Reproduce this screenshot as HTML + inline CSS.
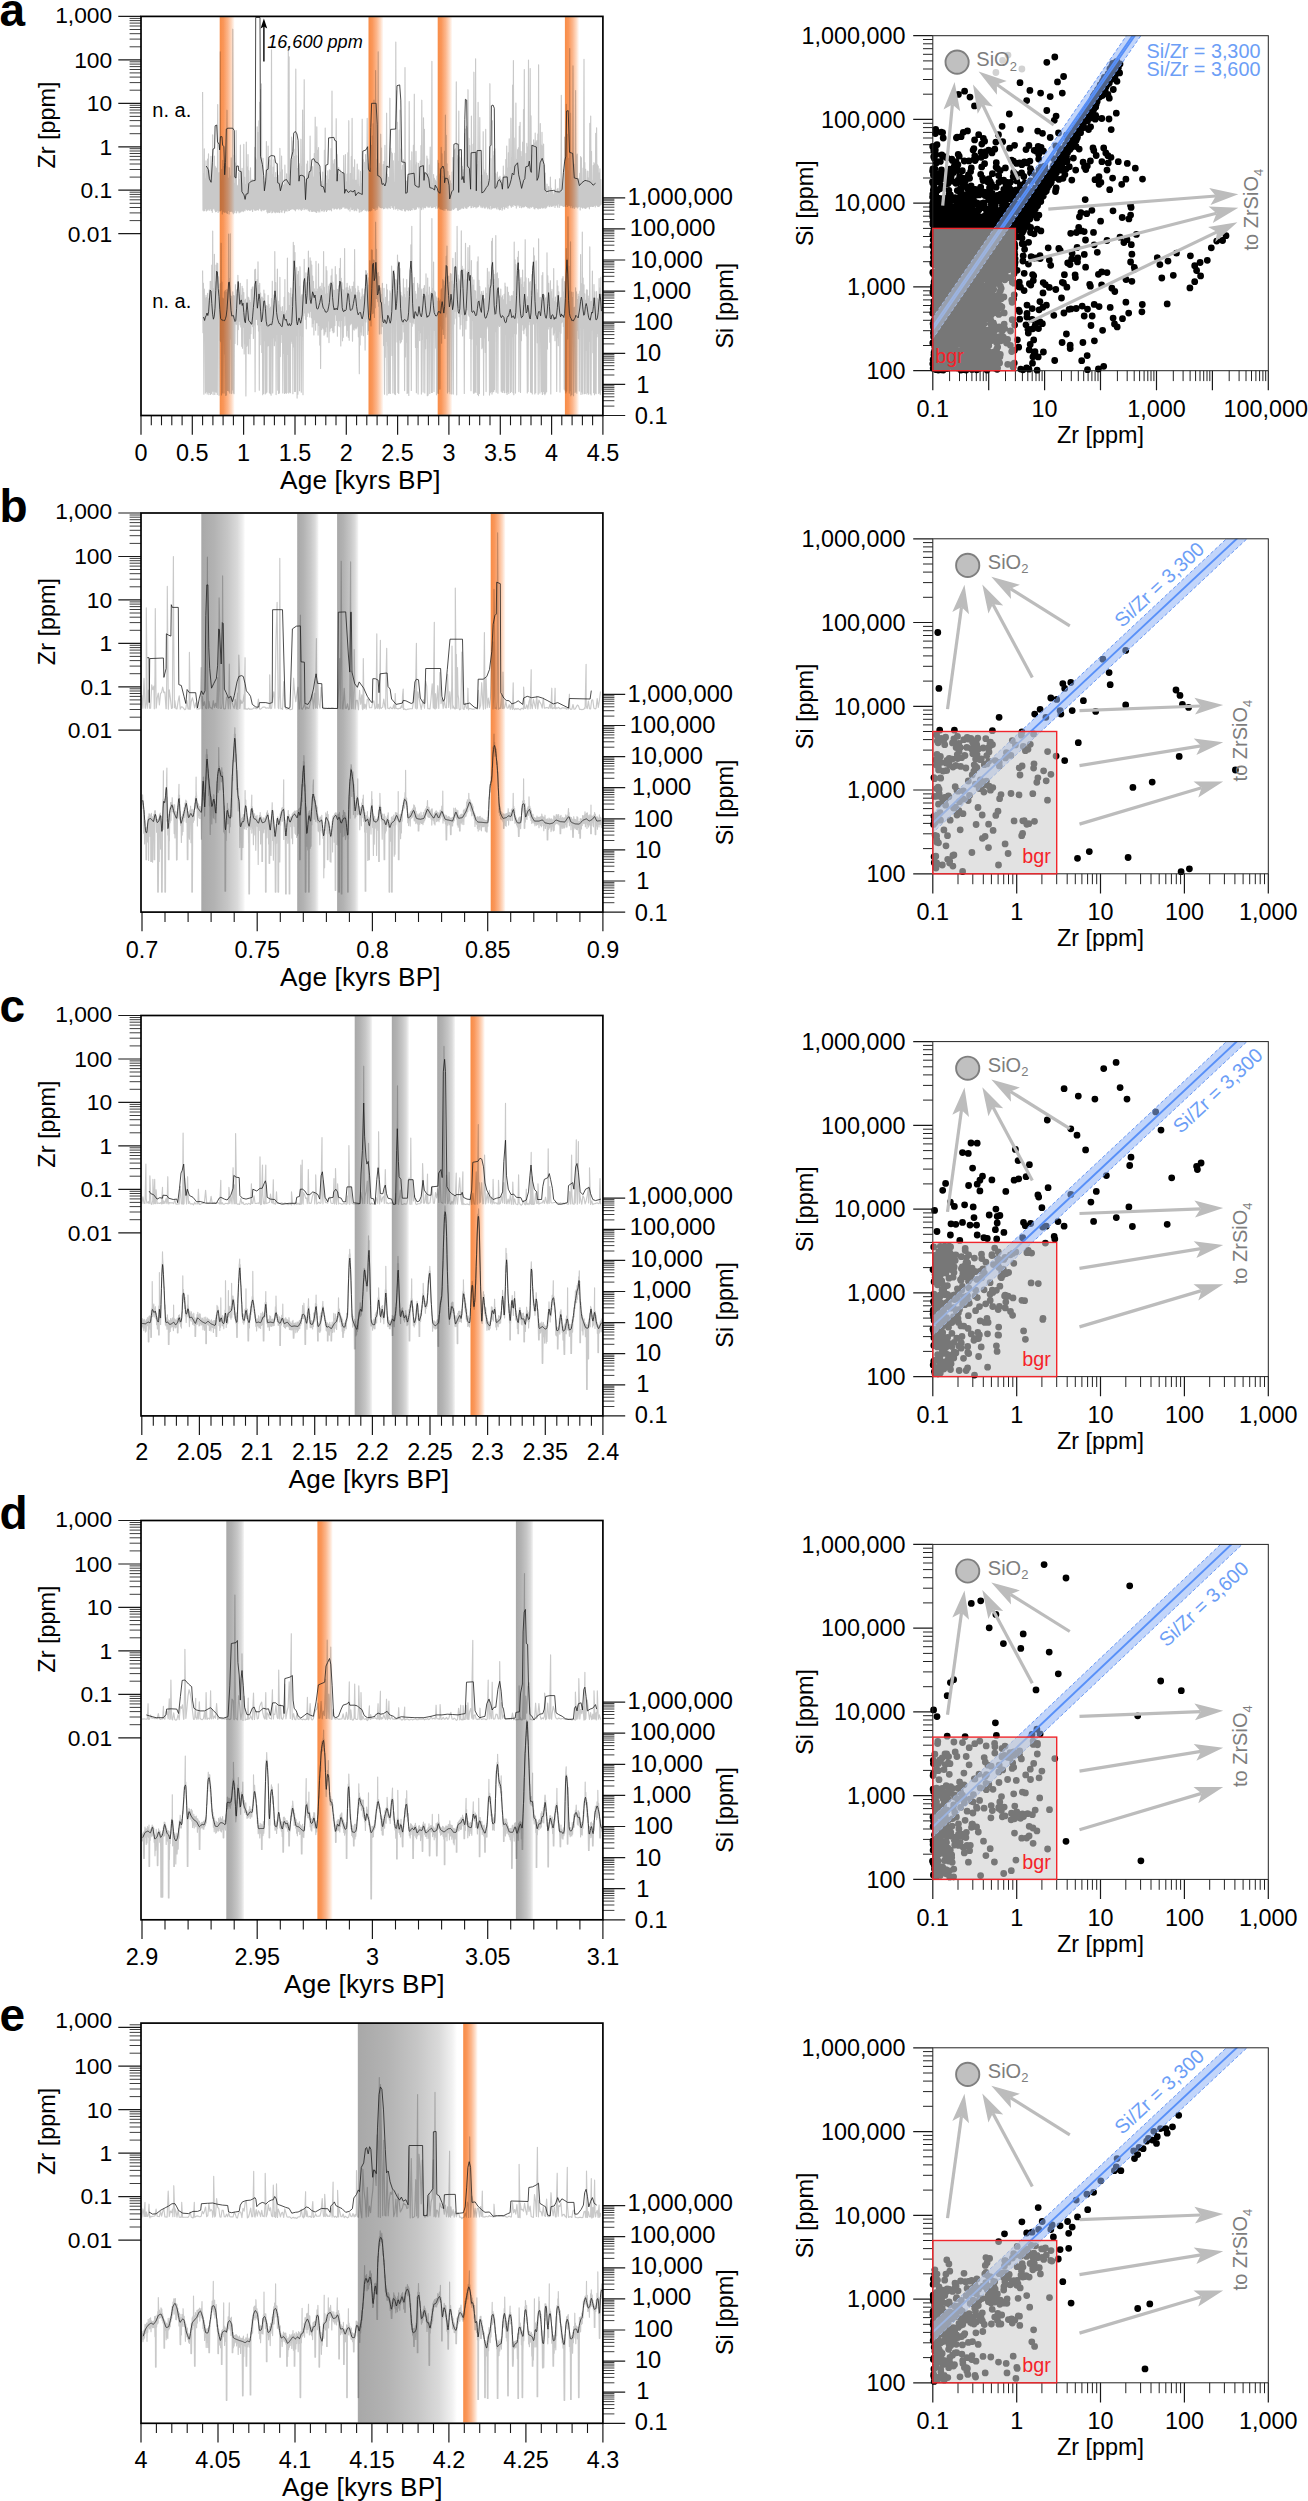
<!DOCTYPE html>
<html lang="en"><head><meta charset="utf-8"><title>Zr and Si records</title>
<style>html,body{margin:0;padding:0;background:#fff}svg{display:block}text{font-family:"Liberation Sans", sans-serif}</style></head>
<body>
<svg width="1308" height="2501" viewBox="0 0 1308 2501" font-family='"Liberation Sans", sans-serif'>
<defs>
<linearGradient id="gO" x1="0" x2="1" y1="0" y2="0"><stop offset="0" stop-color="#f88c46"/><stop offset="0.25" stop-color="#fa975a"/><stop offset="0.55" stop-color="#fcb78d"/><stop offset="0.8" stop-color="#fedcc6"/><stop offset="1" stop-color="#ffffff"/></linearGradient>
<linearGradient id="gG" x1="0" x2="1" y1="0" y2="0"><stop offset="0" stop-color="#a8a8a8"/><stop offset="0.3" stop-color="#b3b3b3"/><stop offset="0.6" stop-color="#c6c6c6"/><stop offset="0.82" stop-color="#dadada"/><stop offset="0.95" stop-color="#f1f1f1"/><stop offset="1" stop-color="#ffffff"/></linearGradient>
<clipPath id="cts0"><rect x="141" y="16.4" width="461.9" height="399.1"/></clipPath>
<clipPath id="csc0"><rect x="932.8" y="35.7" width="335.5" height="335"/></clipPath>
<clipPath id="cdt0"><rect x="928.3" y="35.7" width="340" height="338.5"/></clipPath>
<clipPath id="cts1"><rect x="141" y="513" width="461.9" height="399.1"/></clipPath>
<clipPath id="csc1"><rect x="932.8" y="538.8" width="335.5" height="335"/></clipPath>
<clipPath id="cdt1"><rect x="928.3" y="538.8" width="340" height="338.5"/></clipPath>
<clipPath id="cts2"><rect x="141" y="1015.5" width="461.9" height="400.4"/></clipPath>
<clipPath id="csc2"><rect x="932.8" y="1041.6" width="335.5" height="335"/></clipPath>
<clipPath id="cdt2"><rect x="928.3" y="1041.6" width="340" height="338.5"/></clipPath>
<clipPath id="cts3"><rect x="141" y="1520.5" width="461.9" height="399.3"/></clipPath>
<clipPath id="csc3"><rect x="932.8" y="1544.4" width="335.5" height="335"/></clipPath>
<clipPath id="cdt3"><rect x="928.3" y="1544.4" width="340" height="338.5"/></clipPath>
<clipPath id="cts4"><rect x="141" y="2022.8" width="461.9" height="400.5"/></clipPath>
<clipPath id="csc4"><rect x="932.8" y="2047.8" width="335.5" height="335"/></clipPath>
<clipPath id="cdt4"><rect x="928.3" y="2047.8" width="340" height="338.5"/></clipPath>
</defs>
<rect width="1308" height="2501" fill="#fff"/>
<g id="ts-a">
<path d="M118.3 16.4H141M118.3 59.9H141M118.3 103.3H141M118.3 146.8H141M118.3 190.2H141M118.3 233.7H141" stroke="#1a1a1a" stroke-width="1.2" fill="none"/>
<path d="M129.6 46.8H141M129.6 39.1H141M129.6 33.7H141M129.6 29.5H141M129.6 26H141M129.6 23.1H141M129.6 20.6H141M129.6 18.4H141M129.6 90.2H141M129.6 82.6H141M129.6 77.1H141M129.6 72.9H141M129.6 69.5H141M129.6 66.6H141M129.6 64.1H141M129.6 61.8H141M129.6 133.7H141M129.6 126H141M129.6 120.6H141M129.6 116.4H141M129.6 112.9H141M129.6 110H141M129.6 107.5H141M129.6 105.3H141M129.6 177.1H141M129.6 169.5H141M129.6 164H141M129.6 159.8H141M129.6 156.4H141M129.6 153.5H141M129.6 151H141M129.6 148.7H141M129.6 220.6H141M129.6 212.9H141M129.6 207.5H141M129.6 203.3H141M129.6 199.8H141M129.6 196.9H141M129.6 194.4H141M129.6 192.2H141" stroke="#2a2a2a" stroke-width="0.9" fill="none"/>
<text x="112.2" y="22.8" font-size="22.8" text-anchor="end" fill="#000">1,000</text>
<text x="112.2" y="67.7" font-size="22.8" text-anchor="end" fill="#000">100</text>
<text x="112.2" y="111.1" font-size="22.8" text-anchor="end" fill="#000">10</text>
<text x="112.2" y="154.6" font-size="22.8" text-anchor="end" fill="#000">1</text>
<text x="112.2" y="198" font-size="22.8" text-anchor="end" fill="#000">0.1</text>
<text x="112.2" y="241.5" font-size="22.8" text-anchor="end" fill="#000">0.01</text>
<path d="M602.9 415.5H625.2M602.9 384.4H625.2M602.9 353.3H625.2M602.9 322.2H625.2M602.9 291.1H625.2M602.9 260H625.2M602.9 228.9H625.2M602.9 197.8H625.2" stroke="#1a1a1a" stroke-width="1.2" fill="none"/>
<path d="M602.9 406.1H614.4M602.9 400.7H614.4M602.9 396.8H614.4M602.9 393.8H614.4M602.9 391.3H614.4M602.9 389.2H614.4M602.9 387.4H614.4M602.9 385.8H614.4M602.9 375H614.4M602.9 369.6H614.4M602.9 365.7H614.4M602.9 362.7H614.4M602.9 360.2H614.4M602.9 358.1H614.4M602.9 356.3H614.4M602.9 354.7H614.4M602.9 343.9H614.4M602.9 338.5H614.4M602.9 334.6H614.4M602.9 331.6H614.4M602.9 329.1H614.4M602.9 327H614.4M602.9 325.2H614.4M602.9 323.6H614.4M602.9 312.8H614.4M602.9 307.4H614.4M602.9 303.5H614.4M602.9 300.5H614.4M602.9 298H614.4M602.9 295.9H614.4M602.9 294.1H614.4M602.9 292.5H614.4M602.9 281.7H614.4M602.9 276.3H614.4M602.9 272.4H614.4M602.9 269.4H614.4M602.9 266.9H614.4M602.9 264.8H614.4M602.9 263H614.4M602.9 261.4H614.4M602.9 250.6H614.4M602.9 245.2H614.4M602.9 241.3H614.4M602.9 238.3H614.4M602.9 235.8H614.4M602.9 233.7H614.4M602.9 231.9H614.4M602.9 230.3H614.4M602.9 219.5H614.4M602.9 214.1H614.4M602.9 210.2H614.4M602.9 207.2H614.4M602.9 204.7H614.4M602.9 202.6H614.4M602.9 200.8H614.4M602.9 199.2H614.4" stroke="#2a2a2a" stroke-width="0.9" fill="none"/>
<text x="634.8" y="424" font-size="23.7" text-anchor="start" fill="#000">0.1</text>
<text x="636.3" y="392.7" font-size="23.7" text-anchor="start" fill="#000">1</text>
<text x="634.9" y="361.4" font-size="23.7" text-anchor="start" fill="#000">10</text>
<text x="633.4" y="330.1" font-size="23.7" text-anchor="start" fill="#000">100</text>
<text x="632" y="298.8" font-size="23.7" text-anchor="start" fill="#000">1,000</text>
<text x="630.5" y="267.5" font-size="23.7" text-anchor="start" fill="#000">10,000</text>
<text x="629.8" y="236.2" font-size="23.7" text-anchor="start" fill="#000">100,000</text>
<text x="627.6" y="204.9" font-size="23.7" text-anchor="start" fill="#000">1,000,000</text>
<path d="M141 415.5V434.7M192.3 415.5V434.7M243.6 415.5V434.7M295 415.5V434.7M346.3 415.5V434.7M397.6 415.5V434.7M448.9 415.5V434.7M500.3 415.5V434.7M551.6 415.5V434.7M602.9 415.5V434.7" stroke="#1a1a1a" stroke-width="1.2" fill="none"/>
<path d="M151.3 415.5V425.3M161.5 415.5V425.3M171.8 415.5V425.3M182.1 415.5V425.3M202.6 415.5V425.3M212.9 415.5V425.3M223.1 415.5V425.3M233.4 415.5V425.3M253.9 415.5V425.3M264.2 415.5V425.3M274.4 415.5V425.3M284.7 415.5V425.3M305.2 415.5V425.3M315.5 415.5V425.3M325.8 415.5V425.3M336 415.5V425.3M356.6 415.5V425.3M366.8 415.5V425.3M377.1 415.5V425.3M387.3 415.5V425.3M407.9 415.5V425.3M418.1 415.5V425.3M428.4 415.5V425.3M438.7 415.5V425.3M459.2 415.5V425.3M469.5 415.5V425.3M479.7 415.5V425.3M490 415.5V425.3M510.5 415.5V425.3M520.8 415.5V425.3M531 415.5V425.3M541.3 415.5V425.3M561.8 415.5V425.3M572.1 415.5V425.3M582.4 415.5V425.3M592.6 415.5V425.3" stroke="#1a1a1a" stroke-width="1.1" fill="none"/>
<text x="141" y="461.3" font-size="23.4" text-anchor="middle" fill="#000">0</text>
<text x="192.3" y="461.3" font-size="23.4" text-anchor="middle" fill="#000">0.5</text>
<text x="243.6" y="461.3" font-size="23.4" text-anchor="middle" fill="#000">1</text>
<text x="295" y="461.3" font-size="23.4" text-anchor="middle" fill="#000">1.5</text>
<text x="346.3" y="461.3" font-size="23.4" text-anchor="middle" fill="#000">2</text>
<text x="397.6" y="461.3" font-size="23.4" text-anchor="middle" fill="#000">2.5</text>
<text x="448.9" y="461.3" font-size="23.4" text-anchor="middle" fill="#000">3</text>
<text x="500.3" y="461.3" font-size="23.4" text-anchor="middle" fill="#000">3.5</text>
<text x="551.6" y="461.3" font-size="23.4" text-anchor="middle" fill="#000">4</text>
<text x="602.9" y="461.3" font-size="23.4" text-anchor="middle" fill="#000">4.5</text>
<text x="280.1" y="489.2" font-size="26.2" textLength="160.5" lengthAdjust="spacing">Age [kyrs BP]</text>
<text transform="translate(54.5 125) rotate(-90)" font-size="23.4" text-anchor="middle">Zr [ppm]</text>
<text transform="translate(732.6 305.7) rotate(-90)" font-size="23.4" text-anchor="middle">Si [ppm]</text>
<text x="-0.5" y="26" font-size="46" font-weight="bold">a</text>
<g clip-path="url(#cts0)">
<path d="M202.6 92.1L203 210.2L203.4 173.3L203.9 211L204.3 148.8L204.7 210.5L205.1 179.1L205.5 208.6L206 160.8L206.4 210.9L206.8 170.1L207.2 210.1L207.6 159.1L208.1 210L208.5 153.8L208.9 208.8L209.3 170.5L209.7 210.3L210.2 180.9L210.6 208.7L211 156.3L211.4 210.4L211.8 183.4L212.3 212.3L212.7 134.9L213.1 208.9L213.5 180.9L213.9 208.2L214.4 156.1L214.8 210.1L215.2 166.3L215.6 211.7L216 167.9L216.5 211.3L216.9 168.4L217.3 210.2L217.7 104.6L218.1 212.5L218.6 173.1L219 210.8L219.4 172.6L219.8 211.1L220.2 51.7L220.7 210.6L221.1 182L221.5 209.7L221.9 169.3L222.3 213.9L222.8 160.3L223.2 211.2L223.6 166.6L224 212.1L224.4 163.7L224.9 212.2L225.3 165L225.7 211.8L226.1 166.7L226.5 212.7L227 110.2L227.4 213.4L227.8 167.2L228.2 210.4L228.6 178.3L229.1 214L229.5 167.9L229.9 211.4L230.3 176.2L230.7 211.3L231.2 157.9L231.6 211.1L232 178.4L232.4 212L232.8 29.2L233.3 213.7L233.7 155.1L234.1 211.9L234.5 183.5L234.9 212.8L235.4 163L235.8 210.2L236.2 130.6L236.6 212.8L237 185.1L237.5 210.8L237.9 186L238.3 211L238.7 172.5L239.1 212.8L239.6 179.5L240 212L240.4 145.1L240.8 211.8L241.2 173.2L241.7 210.9L242.1 168.3L242.5 210.8L242.9 183.6L243.3 211.6L243.8 144.3L244.2 210.1L244.6 177.3L245 210.8L245.4 185.1L245.9 208.8L246.3 142.1L246.7 209.6L247.1 167.1L247.5 210.2L248 154.6L248.4 209.5L248.8 170.7L249.2 210.1L249.6 183.7L250.1 210.3L250.5 167.8L250.9 209.9L251.3 181.4L251.7 209.2L252.2 179.4L252.6 211.4L253 182.8L253.4 208.8L253.8 180.1L254.3 209.7L254.7 147.4L255.1 210.4L255.5 157.9L255.9 210L256.4 160.2L256.8 210L257.2 126.8L257.6 209.4L258 132.6L258.5 210.1L258.9 120.9L259.3 208.2L259.7 102.3L260.1 208.8L260.6 89.6L261 210.6L261.4 83.9L261.8 210.8L262.2 177.8L262.7 209.3L263.1 158.4L263.5 210.1L263.9 181.7L264.3 209.9L264.8 187.9L265.2 209.3L265.6 178.5L266 209.2L266.4 141.5L266.9 211.8L267.3 174.1L267.7 212.9L268.1 146L268.5 212.1L269 180.7L269.4 212.4L269.8 159.9L270.2 211.9L270.6 166L271.1 210.1L271.5 49.9L271.9 212.8L272.3 174.2L272.7 212.3L273.2 167.2L273.6 210.9L274 159.7L274.4 211.9L274.8 177.6L275.3 212.7L275.7 172.6L276.1 211.5L276.5 177.5L276.9 212.2L277.4 170.8L277.8 212.2L278.2 175.2L278.6 211.9L279 182.6L279.5 212.6L279.9 148.4L280.3 209.4L280.7 172.3L281.1 211.9L281.6 156.1L282 212.2L282.4 169.7L282.8 210.2L283.2 185.6L283.7 210L284.1 184.5L284.5 212.7L284.9 165.1L285.3 211.1L285.8 184L286.2 210.5L286.6 173.8L287 211.2L287.4 183.1L287.9 208.7L288.3 46.5L288.7 210.6L289.1 56.9L289.5 210.5L290 170.5L290.4 209.4L290.8 181.3L291.2 209.1L291.6 137L292.1 209L292.5 158.6L292.9 208.7L293.3 140.9L293.7 209.2L294.2 156.5L294.6 209.7L295 149.2L295.4 210.8L295.8 69.1L296.3 208.8L296.7 155.8L297.1 209L297.5 168.5L297.9 208.3L298.4 165.9L298.8 209.7L299.2 163.7L299.6 208.5L300 177.6L300.5 209.2L300.9 139.2L301.3 210.4L301.7 167L302.1 208.9L302.6 110.1L303 209.6L303.4 162.1L303.8 207.6L304.2 79.7L304.7 209.6L305.1 188.2L305.5 208.5L305.9 182.8L306.3 209.2L306.8 164L307.2 208.5L307.6 161L308 209.9L308.4 176.5L308.9 210.7L309.3 174.6L309.7 211.3L310.1 136L310.5 209.5L311 167L311.4 211.2L311.8 171.9L312.2 211.5L312.6 166.6L313.1 211.2L313.5 177.4L313.9 210.9L314.3 153.6L314.7 211.3L315.2 117.2L315.6 211.7L316 171.8L316.4 212.5L316.8 126.8L317.3 210.4L317.7 150.4L318.1 212L318.5 147.5L318.9 210.7L319.4 172.4L319.8 212L320.2 178.2L320.6 208.9L321 184.5L321.5 210.8L321.9 181.7L322.3 210.8L322.7 172.1L323.1 209.7L323.6 184.9L324 211.6L324.4 150.4L324.8 210.6L325.2 128.1L325.7 209.5L326.1 175.8L326.5 211.4L326.9 183.7L327.3 210.2L327.8 170.8L328.2 209.5L328.6 179.8L329 209.7L329.4 169.9L329.9 210L330.3 170.7L330.7 209.5L331.1 148.6L331.5 210.8L332 91L332.4 207.8L332.8 160.5L333.2 208L333.6 164L334.1 209.3L334.5 159.6L334.9 208.3L335.3 175.3L335.7 208.2L336.2 118.7L336.6 209L337 154.5L337.4 208.8L337.8 177.7L338.3 207.4L338.7 167.5L339.1 208.4L339.5 174.6L339.9 209.6L340.4 170.2L340.8 208.2L341.2 172.3L341.6 208.6L342 173L342.5 207.1L342.9 172.7L343.3 207L343.7 155.5L344.1 207L344.6 185.6L345 208.4L345.4 154.6L345.8 207.6L346.2 182.1L346.7 208.1L347.1 174L347.5 208.2L347.9 152.8L348.3 209.7L348.8 120.7L349.2 208.3L349.6 185.2L350 211.1L350.4 173.6L350.9 207L351.3 156.6L351.7 209.5L352.1 118.4L352.5 209.6L353 180.4L353.4 208.9L353.8 167.4L354.2 210.8L354.6 159.7L355.1 210.2L355.5 180.3L355.9 209.3L356.3 180.4L356.7 210.7L357.2 164.1L357.6 208L358 185.3L358.4 208.7L358.8 169.9L359.3 212.2L359.7 187.1L360.1 209.3L360.5 171.4L360.9 211.7L361.4 183.5L361.8 211L362.2 119.2L362.6 210.5L363 159.5L363.5 209.5L363.9 170.9L364.3 208.9L364.7 162.4L365.1 210.2L365.6 154.6L366 210.2L366.4 160.2L366.8 211L367.2 118.4L367.7 209.9L368.1 163.7L368.5 211L368.9 170.2L369.3 210.4L369.8 173.4L370.2 210.9L370.6 168.3L371 210.4L371.4 145.4L371.9 209.9L372.3 136L372.7 207.7L373.1 123.9L373.5 208.5L374 100L374.4 208.6L374.8 159.8L375.2 210.2L375.6 70.5L376.1 207.2L376.5 168.1L376.9 209.5L377.3 159L377.7 207.9L378.2 51.8L378.6 205.6L379 163.4L379.4 206.8L379.8 176.5L380.3 207.4L380.7 134.2L381.1 207.7L381.5 148.1L381.9 207.9L382.4 182.2L382.8 207.5L383.2 164.6L383.6 208.7L384 161.6L384.5 208.3L384.9 145.4L385.3 207L385.7 172.7L386.1 208.2L386.6 113.2L387 207.4L387.4 174L387.8 208.7L388.2 177.4L388.7 207.1L389.1 177L389.5 207.6L389.9 98.2L390.3 208.5L390.8 148.4L391.2 205.4L391.6 152.2L392 207.3L392.4 153.5L392.9 207.7L393.3 160.8L393.7 209.2L394.1 182.8L394.5 205.8L395 153.1L395.4 209.1L395.8 42.1L396.2 208.6L396.6 90.9L397.1 208.1L397.5 122.4L397.9 210.2L398.3 161.9L398.7 208.5L399.2 130.2L399.6 209.2L400 110.2L400.4 209.6L400.8 149.4L401.3 209.8L401.7 170.2L402.1 210.5L402.5 165.4L402.9 208.6L403.4 159.7L403.8 208.8L404.2 173.8L404.6 210.8L405 67.6L405.5 210.9L405.9 180.8L406.3 209.3L406.7 181.3L407.1 209.8L407.6 177.3L408 210L408.4 176.3L408.8 210.6L409.2 101.5L409.7 209.3L410.1 160.6L410.5 210.4L410.9 175.6L411.3 209.4L411.8 151.9L412.2 209.8L412.6 174.7L413 207.5L413.4 145.4L413.9 208.9L414.3 94.2L414.7 209.6L415.1 164.7L415.5 209.3L416 151.4L416.4 209L416.8 162.8L417.2 206.9L417.6 184.7L418.1 206.7L418.5 163.3L418.9 208.1L419.3 176.7L419.7 206.9L420.2 161.1L420.6 207.7L421 145.6L421.4 209.6L421.8 100.2L422.3 207L422.7 176.2L423.1 209.1L423.5 117.8L423.9 207.1L424.4 129.3L424.8 207.6L425.2 173.5L425.6 207.6L426 174L426.5 206L426.9 156.1L427.3 206.1L427.7 159.1L428.1 207.3L428.6 173.5L429 206.9L429.4 165L429.8 207.1L430.2 147L430.7 205.8L431.1 181.7L431.5 207.6L431.9 61.3L432.3 207.5L432.8 183.9L433.2 207.2L433.6 174.6L434 206.5L434.4 178.4L434.9 206.7L435.3 180.1L435.7 208.2L436.1 181.9L436.5 205.8L437 176L437.4 208.2L437.8 160.4L438.2 207.3L438.6 163.3L439.1 206.7L439.5 174.2L439.9 208.7L440.3 168.7L440.7 209L441.2 147.3L441.6 209.1L442 153.8L442.4 209.4L442.8 176.3L443.3 210.1L443.7 181L444.1 208.3L444.5 151.3L444.9 210.3L445.4 115L445.8 208.4L446.2 135.3L446.6 208.6L447 163.8L447.5 210.1L447.9 171.6L448.3 209.6L448.7 177.4L449.1 210.5L449.6 175.5L450 209.9L450.4 180.8L450.8 210.4L451.2 183.8L451.7 210L452.1 172.1L452.5 208.3L452.9 157.5L453.3 209.5L453.8 180.9L454.2 208.8L454.6 149.8L455 207.9L455.4 148.8L455.9 207.1L456.3 81.9L456.7 207.6L457.1 155.5L457.5 210.1L458 159L458.4 210.2L458.8 111L459.2 209.5L459.6 157.1L460.1 209.2L460.5 178.3L460.9 208.7L461.3 157.9L461.7 207.8L462.2 166.3L462.6 208L463 169.6L463.4 208.4L463.8 172.9L464.3 206.1L464.7 133.7L465.1 208L465.5 129.1L465.9 207.6L466.4 126.2L466.8 208.5L467.2 128L467.6 206.9L468 89.7L468.5 206.7L468.9 138.3L469.3 205.7L469.7 145.6L470.1 205.3L470.6 179.4L471 207.7L471.4 116.1L471.8 207.5L472.2 179.1L472.7 205.7L473.1 144.4L473.5 207.2L473.9 72.2L474.3 206.6L474.8 164.2L475.2 206.5L475.6 58.8L476 208L476.4 176.4L476.9 206.9L477.3 164.6L477.7 206.9L478.1 102.4L478.5 206.3L479 162.1L479.4 204.7L479.8 117.6L480.2 206L480.6 181.9L481.1 207.6L481.5 175.2L481.9 206.1L482.3 175.4L482.7 207.6L483.2 131.7L483.6 206.1L484 169.7L484.4 207.9L484.8 172.4L485.3 207.9L485.7 129.3L486.1 206.2L486.5 173.3L486.9 207.1L487.4 175.5L487.8 208.7L488.2 179.3L488.6 207.3L489 181.6L489.5 208.8L489.9 83.7L490.3 205.5L490.7 158.5L491.1 209.2L491.6 180.3L492 208L492.4 120.7L492.8 208.2L493.2 155.8L493.7 207.5L494.1 151.4L494.5 207.8L494.9 148.8L495.3 207.1L495.8 173.7L496.2 208.1L496.6 183.8L497 209.1L497.4 172L497.9 206.8L498.3 178.4L498.7 209L499.1 177.2L499.5 209.8L500 176.2L500.4 209.5L500.8 179.1L501.2 207.3L501.6 180.3L502.1 210.2L502.5 184.7L502.9 208.8L503.3 166L503.7 206.4L504.2 175.1L504.6 209.1L505 178L505.4 206.9L505.8 159.5L506.3 207.4L506.7 146.1L507.1 205.9L507.5 168.4L507.9 208.3L508.4 152.8L508.8 205.6L509.2 138.8L509.6 204.6L510 167.7L510.5 205.8L510.9 118.2L511.3 207.3L511.7 158.4L512.1 205.8L512.6 85.2L513 206.4L513.4 60.5L513.8 204.5L514.2 138.1L514.7 205.2L515.1 164.4L515.5 205.4L515.9 103L516.3 208.1L516.8 159.6L517.2 204.7L517.6 149.7L518 206.1L518.4 147.8L518.9 204.9L519.3 126.4L519.7 207.5L520.1 122.3L520.5 205.6L521 151.5L521.4 207.7L521.8 156.9L522.2 206.9L522.6 142.2L523.1 206.6L523.5 109.7L523.9 207.1L524.3 69.5L524.7 206.5L525.2 172L525.6 205.4L526 153.5L526.4 206.5L526.8 143.4L527.3 207L527.7 146.8L528.1 207.9L528.5 60L528.9 207.1L529.4 150.2L529.8 208.3L530.2 68.6L530.6 206.6L531 115.9L531.5 207.2L531.9 155.4L532.3 206.1L532.7 146L533.1 206.7L533.6 139.9L534 208.3L534.4 143.3L534.8 209L535.2 133L535.7 207.6L536.1 142.1L536.5 207.5L536.9 140.5L537.3 208.1L537.8 134L538.2 208.9L538.6 64.8L539 207.6L539.4 171.8L539.9 208.5L540.3 123.6L540.7 208.1L541.1 145.2L541.5 207.1L542 132.4L542.4 208.1L542.8 146.1L543.2 207.6L543.6 144.1L544.1 208L544.5 165.2L544.9 206.8L545.3 173.1L545.7 208.2L546.2 188.7L546.6 207.2L547 184L547.4 206L547.8 194.6L548.3 204.9L548.7 186.6L549.1 206.5L549.5 193.9L549.9 206.7L550.4 177.1L550.8 205.1L551.2 188.3L551.6 206.5L552 191.9L552.5 206L552.9 191.8L553.3 205.9L553.7 194.8L554.1 204.9L554.6 189.9L555 207.5L555.4 179.7L555.8 205.3L556.2 193.6L556.7 204.9L557.1 189.3L557.5 207.1L557.9 188.4L558.3 203.8L558.8 191.6L559.2 207.4L559.6 178.7L560 205.7L560.4 189.8L560.9 204.9L561.3 95.3L561.7 205.3L562.1 185.8L562.5 205.7L563 192.7L563.4 206.4L563.8 169.7L564.2 206.2L564.6 137.1L565.1 206L565.5 158L565.9 206.6L566.3 104.3L566.7 204.5L567.2 134.3L567.6 206.4L568 171.4L568.4 205.3L568.8 158.4L569.3 205.5L569.7 48.5L570.1 205.8L570.5 113.2L570.9 207.7L571.4 181.1L571.8 205.6L572.2 154.1L572.6 207.8L573 65.9L573.5 207L573.9 164L574.3 208.4L574.7 178.3L575.1 206.2L575.6 90.6L576 207.5L576.4 156.1L576.8 206.5L577.2 154.1L577.7 207.9L578.1 180.1L578.5 206.8L578.9 178.3L579.3 206.3L579.8 173.4L580.2 210L580.6 156.6L581 206.9L581.4 157.7L581.9 207.3L582.3 181.7L582.7 208.2L583.1 168.1L583.5 207.2L584 59.3L584.4 207.7L584.8 162.6L585.2 208.4L585.6 169.3L586.1 208.1L586.5 182.5L586.9 207.2L587.3 171.1L587.7 206.8L588.2 178L588.6 206.8L589 171.4L589.4 208.8L589.8 123.3L590.3 206.4L590.7 116.1L591.1 206L591.5 151.6L591.9 206.5L592.4 181.1L592.8 206.5L593.2 165.5L593.6 206.3L594 162.7L594.5 205.3L594.9 164.2L595.3 206.9L595.7 133.4L596.1 204.8L596.6 127.8L597 205.6L597.4 164.8L597.8 206.4L598.2 166.1L598.7 206.4L599.1 173.1L599.5 205.9L599.9 168.8L600.3 204.9L600.8 179.6L601.2 204.8" fill="none" stroke="#c9c9c9" stroke-width="1.15" stroke-linejoin="round"/>
<path d="M202.6 270.6L203 332.7L203.4 283.2L203.9 394.2L204.3 289L204.7 325.7L205.1 298.1L205.5 393L206 295.3L206.4 391.8L206.8 297.5L207.2 394L207.6 293.3L208.1 392.2L208.5 298.9L208.9 394.6L209.3 289.7L209.7 392.4L210.2 281.2L210.6 394.4L211 281.5L211.4 393.5L211.8 265.2L212.3 391.3L212.7 231L213.1 394.6L213.5 288.8L213.9 391.3L214.4 254.3L214.8 394.4L215.2 282.1L215.6 391.9L216 265.1L216.5 392.3L216.9 263L217.3 394.5L217.7 263.5L218.1 318.6L218.6 276.9L219 395.3L219.4 290.4L219.8 340.3L220.2 283.9L220.7 341.7L221.1 243.2L221.5 394.9L221.9 282L222.3 392.9L222.8 298L223.2 329.5L223.6 299L224 393.1L224.4 291.9L224.9 353.9L225.3 290.2L225.7 395.5L226.1 292.2L226.5 394.9L227 289.3L227.4 390.5L227.8 290.2L228.2 390.5L228.6 234L229.1 391.8L229.5 278.5L229.9 393.3L230.3 233.7L230.7 338.9L231.2 296.1L231.6 393.6L232 296.9L232.4 390L232.8 291.8L233.3 393L233.7 295.6L234.1 393.8L234.5 296L234.9 343.5L235.4 284.7L235.8 323.9L236.2 289.7L236.6 324.3L237 294.6L237.5 344.7L237.9 275.2L238.3 329.6L238.7 283.3L239.1 321.2L239.6 293.2L240 324.8L240.4 283.3L240.8 327L241.2 295.4L241.7 346.3L242.1 286.3L242.5 348.3L242.9 288.5L243.3 327.2L243.8 292.6L244.2 354L244.6 300.9L245 343.7L245.4 299.2L245.9 396L246.3 304.8L246.7 346.5L247.1 279.5L247.5 345.1L248 297L248.4 353.7L248.8 297.7L249.2 338.5L249.6 300.3L250.1 354L250.5 302.5L250.9 333.7L251.3 289.6L251.7 323.3L252.2 287.7L252.6 326.6L253 286.7L253.4 338.4L253.8 298.2L254.3 325L254.7 269.7L255.1 391.7L255.5 269.2L255.9 319.2L256.4 288.7L256.8 319.4L257.2 279.5L257.6 324.8L258 261.9L258.5 330.9L258.9 285.6L259.3 390.2L259.7 283.2L260.1 344.7L260.6 293.1L261 325.1L261.4 297.3L261.8 352.4L262.2 297L262.7 394.7L263.1 298.6L263.5 393.4L263.9 290.1L264.3 340.6L264.8 293.8L265.2 393.9L265.6 306.1L266 393.1L266.4 305.6L266.9 392.1L267.3 306.2L267.7 345.9L268.1 295.4L268.5 345.4L269 304.3L269.4 392.8L269.8 308.6L270.2 393.6L270.6 307.1L271.1 395.3L271.5 298.5L271.9 334.2L272.3 281.2L272.7 392.9L273.2 305.7L273.6 337.8L274 295.1L274.4 345.7L274.8 251.5L275.3 341L275.7 282.6L276.1 394.6L276.5 300.7L276.9 334.2L277.4 269L277.8 390.2L278.2 301.2L278.6 393.5L279 305.1L279.5 392.9L279.9 277.4L280.3 356.6L280.7 307.4L281.1 334.4L281.6 311.5L282 342.4L282.4 306.6L282.8 393L283.2 312L283.7 353.3L284.1 297.4L284.5 393.5L284.9 279.5L285.3 392.5L285.8 313.4L286.2 393.4L286.6 310.8L287 392.5L287.4 258L287.9 354.4L288.3 292.6L288.7 393.1L289.1 305.5L289.5 391.9L290 293.2L290.4 392.7L290.8 288.1L291.2 341.1L291.6 297.7L292.1 343.3L292.5 294.4L292.9 393.8L293.3 242.3L293.7 346.9L294.2 245.5L294.6 391.4L295 252.6L295.4 391.4L295.8 289.3L296.3 335.6L296.7 267.6L297.1 398.1L297.5 274.9L297.9 394.3L298.4 271.3L298.8 321.6L299.2 286.9L299.6 390.7L300 266.7L300.5 335.1L300.9 297L301.3 392.3L301.7 294.8L302.1 336.5L302.6 294.9L303 394.8L303.4 285.7L303.8 315.5L304.2 259.3L304.7 312.9L305.1 280.8L305.5 319.3L305.9 272.9L306.3 328.8L306.8 282.8L307.2 316.4L307.6 277.4L308 312.1L308.4 251L308.9 313.2L309.3 275.2L309.7 317L310.1 257.7L310.5 311.3L311 261.1L311.4 317.7L311.8 265.1L312.2 327L312.6 276.1L313.1 323.3L313.5 281.4L313.9 335L314.3 288.9L314.7 319.8L315.2 291.7L315.6 330.3L316 261.2L316.4 322.7L316.8 291.5L317.3 322.8L317.7 289L318.1 335.1L318.5 263.7L318.9 325.5L319.4 287.5L319.8 345.1L320.2 286.3L320.6 368.5L321 289L321.5 329.6L321.9 283.2L322.3 327.6L322.7 291.1L323.1 329L323.6 251.6L324 335.3L324.4 287.2L324.8 334L325.2 294.3L325.7 331.7L326.1 266.6L326.5 326.9L326.9 270.8L327.3 336.9L327.8 293.8L328.2 320.8L328.6 286.2L329 342.6L329.4 284L329.9 331.2L330.3 287.2L330.7 328.1L331.1 275.9L331.5 327.4L332 269L332.4 330.8L332.8 282L333.2 332.8L333.6 290.1L334.1 332.1L334.5 290.5L334.9 325.6L335.3 266.5L335.7 314.8L336.2 274.7L336.6 320.5L337 289.3L337.4 336.2L337.8 289.5L338.3 325.8L338.7 285.9L339.1 320.6L339.5 268.5L339.9 326.7L340.4 258.4L340.8 345.9L341.2 278.4L341.6 320.5L342 282.7L342.5 340.8L342.9 289.5L343.3 337.3L343.7 290.7L344.1 325.8L344.6 248.6L345 315.9L345.4 293.1L345.8 325.2L346.2 287.9L346.7 336.1L347.1 283.3L347.5 330.3L347.9 287.8L348.3 337.3L348.8 290.5L349.2 340.3L349.6 286.1L350 325L350.4 289.1L350.9 323.9L351.3 292.4L351.7 323.1L352.1 286.3L352.5 341.2L353 286.5L353.4 329.2L353.8 282L354.2 330.1L354.6 249.5L355.1 327.8L355.5 288.9L355.9 328.9L356.3 295.9L356.7 327.9L357.2 292.4L357.6 326.1L358 286.2L358.4 336.8L358.8 290.5L359.3 373.8L359.7 292.9L360.1 344.9L360.5 299.8L360.9 332L361.4 297.1L361.8 335.1L362.2 288.9L362.6 325.6L363 296.2L363.5 335.7L363.9 294.7L364.3 320.7L364.7 289.2L365.1 350.1L365.6 270.5L366 322L366.4 270.9L366.8 318.8L367.2 273.3L367.7 334.5L368.1 277.8L368.5 330.7L368.9 285.3L369.3 314.6L369.8 260.7L370.2 311.4L370.6 281.6L371 325.9L371.4 249.9L371.9 305.8L372.3 250.2L372.7 313.6L373.1 259.7L373.5 312.9L374 260.3L374.4 317.4L374.8 269.5L375.2 307.8L375.6 222.2L376.1 298.4L376.5 249.4L376.9 298.7L377.3 273.8L377.7 301.6L378.2 272.5L378.6 306.2L379 276.6L379.4 334.1L379.8 287.9L380.3 317.6L380.7 288L381.1 333.8L381.5 294.6L381.9 326.1L382.4 283.4L382.8 326.6L383.2 299L383.6 345.6L384 288.2L384.5 394.3L384.9 304.2L385.3 357.3L385.7 297.3L386.1 341.4L386.6 284.4L387 395L387.4 289.9L387.8 345.2L388.2 306L388.7 393.5L389.1 301.2L389.5 392.7L389.9 290.9L390.3 393.5L390.8 293.3L391.2 324.4L391.6 266.1L392 355.4L392.4 288.4L392.9 392.9L393.3 270.3L393.7 317.9L394.1 270.6L394.5 393.8L395 283.2L395.4 394.6L395.8 279.3L396.2 319.6L396.6 280.9L397.1 341.9L397.5 255.1L397.9 392.5L398.3 261.3L398.7 393.4L399.2 262.2L399.6 339.9L400 268.6L400.4 342.9L400.8 292.3L401.3 341.8L401.7 295.8L402.1 339.2L402.5 297.3L402.9 324.4L403.4 278.9L403.8 331.9L404.2 294.6L404.6 390.6L405 287.8L405.5 356.9L405.9 297.9L406.3 342.2L406.7 279.5L407.1 393.4L407.6 291.6L408 392.7L408.4 287.9L408.8 395.5L409.2 290.7L409.7 321.8L410.1 269.9L410.5 322.2L410.9 244.9L411.3 390.5L411.8 226.3L412.2 326.3L412.6 285.9L413 322.2L413.4 283.6L413.9 323.8L414.3 277.6L414.7 316.7L415.1 291.3L415.5 347.5L416 294.1L416.4 392.7L416.8 299.3L417.2 347.4L417.6 283.3L418.1 394.1L418.5 288.1L418.9 330.1L419.3 284.9L419.7 340.6L420.2 208L420.6 332.6L421 290.7L421.4 394.1L421.8 289.1L422.3 339.4L422.7 296.7L423.1 392.1L423.5 288.4L423.9 325.6L424.4 285.5L424.8 392.9L425.2 296.4L425.6 348.8L426 273.8L426.5 338.6L426.9 292.4L427.3 395.8L427.7 278L428.1 395.1L428.6 295.4L429 324.9L429.4 287L429.8 393.5L430.2 294.3L430.7 323.4L431.1 292.1L431.5 392.5L431.9 218.5L432.3 392.5L432.8 288.6L433.2 330L433.6 262.1L434 391.4L434.4 291.1L434.9 330.5L435.3 292L435.7 348.1L436.1 296.8L436.5 394.7L437 298L437.4 393L437.8 301.2L438.2 393.5L438.6 298L439.1 327.2L439.5 301.3L439.9 389.1L440.3 299.8L440.7 326L441.2 289.8L441.6 343.2L442 288.5L442.4 329L442.8 279.5L443.3 334.5L443.7 281L444.1 312L444.5 286L444.9 338.4L445.4 277.4L445.8 316.9L446.2 256.4L446.6 314L447 246.1L447.5 392.9L447.9 277L448.3 313.1L448.7 276.1L449.1 391.8L449.6 282.4L450 393.8L450.4 273.6L450.8 303.4L451.2 274L451.7 393.9L452.1 281.2L452.5 323.8L452.9 258.2L453.3 394.1L453.8 284.5L454.2 323.9L454.6 267.1L455 311.1L455.4 252.6L455.9 318.2L456.3 270.9L456.7 394.8L457.1 226.2L457.5 305.4L458 275.1L458.4 307.4L458.8 279.1L459.2 316.7L459.6 281L460.1 329.1L460.5 271.6L460.9 324.7L461.3 230.9L461.7 314.2L462.2 266.3L462.6 335.9L463 274.7L463.4 318.2L463.8 269L464.3 393.5L464.7 280.2L465.1 320.1L465.5 243.3L465.9 329.1L466.4 279.9L466.8 320.4L467.2 271.5L467.6 309.6L468 247.5L468.5 315.1L468.9 270.3L469.3 316.6L469.7 245.5L470.1 338.5L470.6 280.2L471 390.8L471.4 260.6L471.8 339.1L472.2 277.4L472.7 320.3L473.1 285.4L473.5 393.2L473.9 279.9L474.3 393L474.8 290.6L475.2 391.8L475.6 291L476 392.4L476.4 299.2L476.9 344.8L477.3 261.8L477.7 394.5L478.1 256.8L478.5 395.6L479 280.4L479.4 393.5L479.8 286.6L480.2 337.1L480.6 294.9L481.1 337.4L481.5 291.6L481.9 348.7L482.3 294.1L482.7 347.1L483.2 291.1L483.6 395.2L484 299.6L484.4 337.7L484.8 298.7L485.3 352.4L485.7 287.8L486.1 391.6L486.5 293.6L486.9 328.1L487.4 268.3L487.8 326.2L488.2 285.3L488.6 340.8L489 271.7L489.5 395.1L489.9 287.9L490.3 392.8L490.7 279.5L491.1 391.5L491.6 241.2L492 394.1L492.4 238.4L492.8 391.9L493.2 270.2L493.7 391.5L494.1 279.6L494.5 389.6L494.9 274.2L495.3 331.8L495.8 235.5L496.2 392.2L496.6 274L497 327.2L497.4 272.9L497.9 393.2L498.3 278.6L498.7 325.1L499.1 295.5L499.5 326.5L500 296.3L500.4 325.2L500.8 289.1L501.2 391.2L501.6 297.7L502.1 392.3L502.5 295.8L502.9 392.5L503.3 299.7L503.7 390.3L504.2 294.3L504.6 392.7L505 283L505.4 334.3L505.8 286.7L506.3 392.6L506.7 304.8L507.1 394.4L507.5 287L507.9 391.8L508.4 292.2L508.8 393.4L509.2 295.8L509.6 335.1L510 301.6L510.5 392.5L510.9 296.3L511.3 391.4L511.7 295.6L512.1 336.8L512.6 295.9L513 392.7L513.4 291.5L513.8 394.7L514.2 242.1L514.7 333.4L515.1 259.9L515.5 393.1L515.9 264.7L516.3 334L516.8 276.4L517.2 317.7L517.6 257.3L518 323L518.4 251.4L518.9 391.6L519.3 269.8L519.7 315.9L520.1 279.1L520.5 392.4L521 277.5L521.4 340.8L521.8 284.9L522.2 324.6L522.6 270.1L523.1 330.3L523.5 287.5L523.9 333.7L524.3 282.2L524.7 329L525.2 239.7L525.6 327.3L526 277.8L526.4 335.8L526.8 299.3L527.3 393L527.7 296.7L528.1 391.5L528.5 278.5L528.9 324.8L529.4 282.9L529.8 321.7L530.2 281.5L530.6 392.1L531 291.4L531.5 392.5L531.9 274.6L532.3 393.9L532.7 266L533.1 324.3L533.6 247.8L534 323.8L534.4 255.9L534.8 394L535.2 284.6L535.7 392.7L536.1 260.9L536.5 322.4L536.9 289.6L537.3 342.8L537.8 293L538.2 394.3L538.6 238.8L539 325.4L539.4 297.9L539.9 393.1L540.3 297.2L540.7 340.3L541.1 300.4L541.5 391.8L542 275.6L542.4 394.5L542.8 272.6L543.2 391.5L543.6 294L544.1 393.5L544.5 295.6L544.9 394.8L545.3 298.4L545.7 393.1L546.2 297.4L546.6 391.8L547 252.8L547.4 349.1L547.8 275.7L548.3 328.9L548.7 283.4L549.1 326.5L549.5 295.5L549.9 342.2L550.4 280.7L550.8 394L551.2 291.8L551.6 327.9L552 289.4L552.5 326.7L552.9 298.9L553.3 334.9L553.7 268.6L554.1 333L554.6 301.9L555 340.7L555.4 297.1L555.8 329.9L556.2 302.8L556.7 391.5L557.1 280.5L557.5 337.5L557.9 286L558.3 345.8L558.8 291.8L559.2 331.5L559.6 302.1L560 392.1L560.4 297.7L560.9 333.2L561.3 297.7L561.7 322.7L562.1 278.8L562.5 321.8L563 276.6L563.4 326.5L563.8 292L564.2 389.3L564.6 281.5L565.1 390.8L565.5 288.7L565.9 393L566.3 248.5L566.7 391.1L567.2 258.7L567.6 338.9L568 216.7L568.4 318.3L568.8 266.2L569.3 393.1L569.7 291.4L570.1 390.6L570.5 241.9L570.9 395.8L571.4 292L571.8 394.4L572.2 297.6L572.6 327.8L573 292.3L573.5 395.7L573.9 307.7L574.3 346.5L574.7 307.2L575.1 392.4L575.6 287.8L576 391.2L576.4 291.8L576.8 393.3L577.2 299.6L577.7 330.3L578.1 294.1L578.5 338.7L578.9 296.7L579.3 391.1L579.8 291.2L580.2 327.2L580.6 254.5L581 394.5L581.4 283.8L581.9 391.9L582.3 232.1L582.7 393.9L583.1 278.1L583.5 328.4L584 284.9L584.4 393.8L584.8 293.9L585.2 393.4L585.6 300.2L586.1 350.1L586.5 289.9L586.9 393.9L587.3 290.1L587.7 392.4L588.2 296L588.6 394.2L589 298.8L589.4 341.3L589.8 246.9L590.3 393.6L590.7 301.8L591.1 394.9L591.5 301.3L591.9 330L592.4 271L592.8 352.8L593.2 300.4L593.6 392.7L594 284.5L594.5 394.8L594.9 291.7L595.3 392.9L595.7 298.4L596.1 393.7L596.6 291.6L597 336.8L597.4 298.3L597.8 333.4L598.2 299.7L598.7 393.4L599.1 278.6L599.5 392.7L599.9 288L600.3 394.5L600.8 277.4L601.2 389.9L601.6 293.9" fill="none" stroke="#c9c9c9" stroke-width="1.15" stroke-linejoin="round"/>
<rect x="219.7" y="17.1" width="15.1" height="397.7" fill="url(#gO)" style="mix-blend-mode:multiply"/>
<rect x="368.5" y="17.1" width="15.1" height="397.7" fill="url(#gO)" style="mix-blend-mode:multiply"/>
<rect x="437.7" y="17.1" width="14.7" height="397.7" fill="url(#gO)" style="mix-blend-mode:multiply"/>
<rect x="564.9" y="17.1" width="14.3" height="397.7" fill="url(#gO)" style="mix-blend-mode:multiply"/>
<path d="M206.2 166L208.2 169.2L209.4 178.8L211.1 182.3L212.3 162.8L213 149.1L214.6 148.3L215.1 125.8L216.7 125L217.5 141.9L219.1 144.3L219.6 149.9L220.4 136.7L222 136.7L222.6 145.1L223.9 146.7L224.7 174.8L225.5 162.8L226.3 129L227.9 128.2L232.7 128.2L234.3 130.6L234.8 177.2L235.9 178L236.7 166L238.3 166L238.7 170.8L241.2 171.6L241.9 191.7L244 194.9L245.1 199.4L246.1 194.1L248 193.6L248.8 183.6L251.2 181.2L255.2 180.4L255.7 17.5L260 17.5L260.5 156.3L262.4 164.4L263.7 175.6L264.4 190.8L265.6 182L266.4 170L268.1 169.2L268.9 157.1L271.3 155.5L274.5 156L275.6 162.8L277.2 163.6L277.7 182.8L279.3 183.6L280.4 190.8L282.5 182.8L284.1 180.4L286.5 179.6L288.9 183.6L290 185.2L291 159.5L292.9 151.5L293.7 133.1L295.3 131.4L296.9 133.9L298.1 140.3L299 181.2L299.7 175.6L301.8 175.3L304.2 176.4L304.7 178.8L305.5 199.7L306.6 178.8L308.2 178L309.3 171.6L310.9 170.8L311.9 159.5L313.8 158.7L315.4 161.9L317.8 162.8L319.9 166L321 186L323.4 186.8L325 192.5L325.8 165.2L327.9 164.4L328.6 137.9L333.9 137.4L334.7 140.3L336.3 141.1L337.1 181.2L337.9 169.2L340.3 170.8L341.9 172.4L344 173.2L344.6 193.3L345.9 189.2L348.3 192.5L350.7 190.8L353.1 192L354.7 190L355.6 195.7L358 192.5L360.4 193.6L362.3 194.5L362.8 151.2L366 149.9L367.6 146.7L368.4 169.2L370 171.6L370.8 127.4L371.6 103.3L376.1 103.3L377.2 124.2L377.7 175.6L379.6 176.4L381.2 178.8L382 184.4L383.6 183.6L384.9 186L386.1 182L386.9 166L389.3 167.6L390.6 129.4L395.7 129L397 85.7L399.7 84.9L400.8 100.1L401.8 161.9L405 162.4L405.1 162.4L405.7 193.3L407.3 192.5L408 174.3L414.1 173.2L414.9 185.2L417.3 186.8L419.2 187.2L419.8 166.8L423.4 165.6L424 180.4L424.7 172.4L426.9 174L428.8 178.8L429.8 187.6L432.5 188.4L434.6 190L435.2 185.2L437.3 188.4L438.1 191.7L440.1 193.3L440.7 169.2L443 166L443.9 169.2L444.6 182.8L445.4 178L447.8 178.8L449.1 185.2L449.7 198.9L451.8 191.7L453.4 190L453.9 144.3L455.8 143.5L458.2 144.3L458.7 192.5L459 149.9L461.4 149.6L461.9 179.6L463 176.4L464.1 182.8L464.8 119.4L465.4 99.3L466.7 100.1L467.4 166L469.4 168.4L470.6 189.2L471.1 152.8L475.9 152.3L476.3 190.8L477 150.7L481.2 150.4L481.8 192.9L483.9 191.7L486.3 187.6L488.2 185.2L489.2 180.4L489.8 146.7L491.1 145.1L491.4 105.8L493 105L494.3 108.2L495 188.4L496.7 186.8L497.9 181.2L499.5 179.6L501.6 183.6L502.4 189.2L503.2 177.2L507.2 176.9L508 188.4L509.6 185.2L511.2 179.6L512.3 173.2L513.9 174.8L514.9 166L517.6 162.8L518.7 174.8L520 180.4L521.6 188.4L523.6 180.4L524.8 178.8L525.8 166.8L528.4 166L529.3 161.1L530.5 170.8L531.3 172.4L531.9 145.1L534.5 146.4L536.4 147L537 180.4L538.5 177.2L540.1 162.8L542.2 158.3L544.1 164.4L544.9 190L546.5 191.7L549.7 190.8L553.7 190.4L556.1 191.7L559.4 192L562.1 189.7L563.4 172.4L564.7 161.1L565.8 156.3L566.6 111.1L568.2 110.6L569.5 152.3L572.7 153.4L574.3 178L577.8 178.8L579.4 185.6L581.8 182.8L585 180.4L588.3 181.2L590.7 182.3L593.1 185.2L595.5 183.3" fill="none" stroke="#1e1e1e" stroke-width="0.8" stroke-linejoin="round"/>
<path d="M203 317.5L203.8 317.6L204.6 320.5L205.4 317.1L206.2 315.7L207 313L207.8 315.5L208.6 311.8L209.4 300.2L210.2 290.2L211 291.2L211.8 303.5L212.6 314.2L213.4 319.2L214.2 316.7L215 308.3L215.8 290.4L216.6 271.2L217.4 272L218.2 288.4L219 296.6L219.8 309.6L220.6 318.5L221.4 319.7L222.2 320.4L223 319.8L223.8 320.6L224.6 320.7L225.4 318.8L226.2 316L227 309.2L227.8 298L228.6 282.4L229.4 282.1L230.2 297.8L231 310.5L231.8 316.1L232.6 315.7L233.4 315.5L234.2 318.9L235 321.5L235.8 320.3L236.6 308.8L237.4 291L238.2 281.5L239 293.3L239.8 304.3L240.6 300.7L241.4 299.9L242.2 305.5L243 303.2L243.8 312.5L244.6 320.9L245.4 322.8L246.2 312.3L247 302.7L247.8 310.7L248.6 320.2L249.4 321.5L250.2 321.9L251 323.9L251.8 324.2L252.6 316.9L253.4 307.4L254.2 299.1L255 284.4L255.8 281.2L256.6 297.9L257.4 308.2L258.2 301.4L259 293.9L259.8 299.3L260.6 311.2L261.4 321.9L262.2 319.3L263 311.2L263.8 301.2L264.6 300.9L265.4 308.6L266.2 321.2L267 325.5L267.8 326.3L268.6 325.6L269.4 325.4L270.2 324L271 324.8L271.8 324.6L272.6 320.6L273.4 314L274.2 300.5L275 290.8L275.8 298.2L276.6 312.4L277.4 318.1L278.2 320.8L279 323.5L279.8 323.5L280.6 325.6L281.4 326.3L282.2 326.6L283 320L283.8 314.4L284.6 318.7L285.4 320.3L286.2 319.1L287 322.3L287.8 325.3L288.6 325.3L289.4 323.5L290.2 325.7L291 325.3L291.8 322.2L292.6 306.4L293.4 281.2L294.2 260.8L295 271.2L295.8 301.2L296.6 321.3L297.4 325L298.2 321.1L299 317.9L299.8 320.3L300.6 323.2L301.4 319.8L302.2 315L303 300L303.8 281.7L304.6 278.5L305.4 293.3L306.2 303.8L307 295.6L307.8 275.5L308.6 267.6L309.4 281.2L310.2 299.6L311 303.5L311.8 297.9L312.6 291.8L313.4 294L314.2 297.7L315 295L315.8 301.3L316.6 308L317.4 309.1L318.2 308.6L319 305.4L319.8 302.8L320.6 298.3L321.4 295.2L322.2 302.8L323 307.1L323.8 308.7L324.6 309.7L325.4 312L326.2 312.3L327 311.9L327.8 310.5L328.6 306.9L329.4 302.4L330.2 292L331 282.8L331.8 284.8L332.6 297.7L333.4 306L334.2 309.9L335 308.2L335.8 309.6L336.6 308.4L337.4 309.8L338.2 304.9L339 292.6L339.8 281.2L340.6 282.1L341.4 293L342.2 307.6L343 311.1L343.8 311.8L344.6 309.9L345.4 310.7L346.2 309.7L347 301.8L347.8 293.3L348.6 294L349.4 302.7L350.2 310L351 310.5L351.8 309.6L352.6 307.7L353.4 303.6L354.2 299.1L355 294.7L355.8 298.6L356.6 306.5L357.4 311.8L358.2 314.8L359 313.2L359.8 312.4L360.6 312.6L361.4 316.8L362.2 318.9L363 315.9L363.8 310.4L364.6 302L365.4 286.8L366.2 274.7L367 284.1L367.8 304L368.6 317.8L369.4 320.1L370.2 320.3L371 310.1L371.8 288.6L372.6 264.4L373.4 263.2L374.2 280.7L375 277.9L375.8 262.3L376.6 274.1L377.4 295L378.2 293.5L379 285.3L379.8 291.4L380.6 302.1L381.4 302.4L382.2 313.9L383 321.9L383.8 322.8L384.6 319.7L385.4 320.7L386.2 323.6L387 321.9L387.8 315.3L388.6 317.1L389.4 319.8L390.2 323.2L391 320.3L391.8 311.4L392.6 288.5L393.4 271.1L394.2 275.2L395 293.3L395.8 309.7L396.6 303.4L397.4 290.6L398.2 266.9L399 262.4L399.8 285.3L400.6 308.6L401.4 318.3L402.2 321.3L403 322.2L403.8 320L404.6 319.5L405.4 319.9L406.2 321.4L407 320.6L407.8 319.9L408.6 312.8L409.4 296.6L410.2 269.5L411 261L411.8 273.7L412.6 303.2L413.4 317L414.2 318.5L415 311.6L415.8 312.2L416.6 315.2L417.4 316.2L418.2 313.5L419 306.5L419.8 312.7L420.6 315.6L421.4 316.8L422.2 312.7L423 303.9L423.8 293.9L424.6 295.6L425.4 305.1L426.2 313L427 317.4L427.8 315.9L428.6 316.3L429.4 314.6L430.2 311L431 301.6L431.8 293.2L432.6 294.7L433.4 305.2L434.2 312.5L435 314.5L435.8 316L436.6 315.9L437.4 314.7L438.2 311.9L439 311.2L439.8 312.2L440.6 313.3L441.4 305.8L442.2 301.6L443 307.1L443.8 313.1L444.6 306.8L445.4 286.1L446.2 265.5L447 266.6L447.8 284.8L448.6 295.7L449.4 306.9L450.2 302.9L451 294.2L451.8 300.7L452.6 309.7L453.4 305L454.2 288.3L455 266.8L455.8 266.7L456.6 282.6L457.4 299.9L458.2 311.8L459 313.4L459.8 308.8L460.6 288.9L461.4 270.2L462.2 270L463 288.4L463.8 307L464.6 314.8L465.4 314.4L466.2 308.7L467 291.9L467.8 273.4L468.6 272L469.4 280.5L470.2 275.3L471 295.1L471.8 311.8L472.6 312.4L473.4 310.9L474.2 311.4L475 314.2L475.8 315.8L476.6 314.8L477.4 308.8L478.2 301.8L479 300.9L479.8 306.8L480.6 309.9L481.4 312.4L482.2 301L483 295.1L483.8 305.1L484.6 316.2L485.4 318.2L486.2 317.8L487 315.2L487.8 312.4L488.6 309.2L489.4 300.1L490.2 288.3L491 284.9L491.8 266.8L492.6 262.4L493.4 284.3L494.2 305.8L495 314.3L495.8 313.5L496.6 304.5L497.4 290.3L498.2 287.6L499 298.5L499.8 312.9L500.6 316.7L501.4 317.7L502.2 315.7L503 316.2L503.8 317.2L504.6 321.2L505.4 322.7L506.2 322.3L507 317.7L507.8 316.1L508.6 316.1L509.4 312.5L510.2 309.3L511 313.1L511.8 317.6L512.6 316.4L513.4 315.8L514.2 318L515 318.6L515.8 312.5L516.6 295.2L517.4 270.5L518.2 262.7L519 281.5L519.8 303.2L520.6 313.9L521.4 317.8L522.2 317.1L523 315.6L523.8 304.7L524.6 294.1L525.4 303.9L526.2 313L527 311.8L527.8 305.2L528.6 309.9L529.4 317L530.2 319L531 312.9L531.8 295.6L532.6 270.4L533.4 261.8L534.2 278.1L535 301.6L535.8 314.8L536.6 316.7L537.4 319.1L538.2 313L539 311.3L539.8 312.3L540.6 315.8L541.4 308.1L542.2 298L543 294L543.8 301.2L544.6 312.2L545.4 316.9L546.2 318.3L547 314.2L547.8 303.4L548.6 292.6L549.4 306.3L550.2 317.8L551 319.1L551.8 315.3L552.6 314.7L553.4 316.3L554.2 319.4L555 317.4L555.8 318.6L556.6 315.2L557.4 307.3L558.2 295.3L559 305.2L559.8 313.6L560.6 316.9L561.4 313.9L562.2 316L563 315.3L563.8 317.5L564.6 313.3L565.4 298.4L566.2 273.2L567 259.8L567.8 274.9L568.6 300.3L569.4 313.3L570.2 317L571 318.3L571.8 320.6L572.6 320.2L573.4 321.1L574.2 319.1L575 318.5L575.8 315.4L576.6 316.2L577.4 316.8L578.2 317.8L579 313L579.8 308L580.6 301.4L581.4 297.1L582.2 300.9L583 309.9L583.8 315.3L584.6 313.9L585.4 306.7L586.2 303.5L587 306.7L587.8 312.2L588.6 317.3L589.4 319.2L590.2 320.2L591 315.9L591.8 312L592.6 313.1L593.4 306.4L594.2 297.7L595 308.1L595.8 319.6L596.6 319.7L597.4 317.9L598.2 312.6L599 301.8L599.8 293.9L600.6 299.1L601.4 311.1" fill="none" stroke="#1e1e1e" stroke-width="0.8" stroke-linejoin="round"/>
</g>
<rect x="141" y="16.4" width="461.9" height="399.1" fill="none" stroke="#000" stroke-width="1.7"/>
<path d="M263.9 61.5V24" stroke="#000" stroke-width="1.4" fill="none"/>
<path d="M263.9 18.6L260.6 28.4L263.9 26.4L267.2 28.4Z" fill="#000"/>
<text x="267.2" y="47.7" font-size="18.1" font-style="italic">16,600 ppm</text>
<text x="152.3" y="117.4" font-size="20">n. a.</text>
<text x="152.3" y="307.6" font-size="20">n. a.</text>
</g>
<g id="ts-b">
<path d="M118.3 513H141M118.3 556.5H141M118.3 599.9H141M118.3 643.4H141M118.3 686.8H141M118.3 730.2H141" stroke="#1a1a1a" stroke-width="1.2" fill="none"/>
<path d="M129.6 543.4H141M129.6 535.7H141M129.6 530.3H141M129.6 526.1H141M129.6 522.6H141M129.6 519.7H141M129.6 517.2H141M129.6 515H141M129.6 586.8H141M129.6 579.2H141M129.6 573.7H141M129.6 569.5H141M129.6 566.1H141M129.6 563.2H141M129.6 560.7H141M129.6 558.4H141M129.6 630.3H141M129.6 622.6H141M129.6 617.2H141M129.6 613H141M129.6 609.5H141M129.6 606.6H141M129.6 604.1H141M129.6 601.9H141M129.6 673.7H141M129.6 666.1H141M129.6 660.6H141M129.6 656.4H141M129.6 653H141M129.6 650.1H141M129.6 647.6H141M129.6 645.3H141M129.6 717.2H141M129.6 709.5H141M129.6 704.1H141M129.6 699.9H141M129.6 696.4H141M129.6 693.5H141M129.6 691H141M129.6 688.8H141" stroke="#2a2a2a" stroke-width="0.9" fill="none"/>
<text x="112.2" y="519.4" font-size="22.8" text-anchor="end" fill="#000">1,000</text>
<text x="112.2" y="564.2" font-size="22.8" text-anchor="end" fill="#000">100</text>
<text x="112.2" y="607.7" font-size="22.8" text-anchor="end" fill="#000">10</text>
<text x="112.2" y="651.1" font-size="22.8" text-anchor="end" fill="#000">1</text>
<text x="112.2" y="694.6" font-size="22.8" text-anchor="end" fill="#000">0.1</text>
<text x="112.2" y="738" font-size="22.8" text-anchor="end" fill="#000">0.01</text>
<path d="M602.9 912.1H625.2M602.9 881H625.2M602.9 849.9H625.2M602.9 818.8H625.2M602.9 787.7H625.2M602.9 756.6H625.2M602.9 725.5H625.2M602.9 694.4H625.2" stroke="#1a1a1a" stroke-width="1.2" fill="none"/>
<path d="M602.9 902.7H614.4M602.9 897.3H614.4M602.9 893.4H614.4M602.9 890.4H614.4M602.9 887.9H614.4M602.9 885.8H614.4M602.9 884H614.4M602.9 882.4H614.4M602.9 871.6H614.4M602.9 866.2H614.4M602.9 862.3H614.4M602.9 859.3H614.4M602.9 856.8H614.4M602.9 854.7H614.4M602.9 852.9H614.4M602.9 851.3H614.4M602.9 840.5H614.4M602.9 835.1H614.4M602.9 831.2H614.4M602.9 828.2H614.4M602.9 825.7H614.4M602.9 823.6H614.4M602.9 821.8H614.4M602.9 820.2H614.4M602.9 809.4H614.4M602.9 804H614.4M602.9 800.1H614.4M602.9 797.1H614.4M602.9 794.6H614.4M602.9 792.5H614.4M602.9 790.7H614.4M602.9 789.1H614.4M602.9 778.3H614.4M602.9 772.9H614.4M602.9 769H614.4M602.9 766H614.4M602.9 763.5H614.4M602.9 761.4H614.4M602.9 759.6H614.4M602.9 758H614.4M602.9 747.2H614.4M602.9 741.8H614.4M602.9 737.9H614.4M602.9 734.9H614.4M602.9 732.4H614.4M602.9 730.3H614.4M602.9 728.5H614.4M602.9 726.9H614.4M602.9 716.1H614.4M602.9 710.7H614.4M602.9 706.8H614.4M602.9 703.8H614.4M602.9 701.3H614.4M602.9 699.2H614.4M602.9 697.4H614.4M602.9 695.8H614.4" stroke="#2a2a2a" stroke-width="0.9" fill="none"/>
<text x="634.8" y="920.6" font-size="23.7" text-anchor="start" fill="#000">0.1</text>
<text x="636.3" y="889.3" font-size="23.7" text-anchor="start" fill="#000">1</text>
<text x="634.9" y="858" font-size="23.7" text-anchor="start" fill="#000">10</text>
<text x="633.4" y="826.7" font-size="23.7" text-anchor="start" fill="#000">100</text>
<text x="632" y="795.4" font-size="23.7" text-anchor="start" fill="#000">1,000</text>
<text x="630.5" y="764.1" font-size="23.7" text-anchor="start" fill="#000">10,000</text>
<text x="629.8" y="732.8" font-size="23.7" text-anchor="start" fill="#000">100,000</text>
<text x="627.6" y="701.5" font-size="23.7" text-anchor="start" fill="#000">1,000,000</text>
<path d="M142 912.1V931.3M257.2 912.1V931.3M372.4 912.1V931.3M487.7 912.1V931.3M602.9 912.1V931.3" stroke="#1a1a1a" stroke-width="1.2" fill="none"/>
<path d="M165 912.1V921.9M188.1 912.1V921.9M211.1 912.1V921.9M234.2 912.1V921.9M280.3 912.1V921.9M303.3 912.1V921.9M326.4 912.1V921.9M349.4 912.1V921.9M395.5 912.1V921.9M418.5 912.1V921.9M441.6 912.1V921.9M464.6 912.1V921.9M510.7 912.1V921.9M533.8 912.1V921.9M556.8 912.1V921.9M579.9 912.1V921.9" stroke="#1a1a1a" stroke-width="1.1" fill="none"/>
<text x="142" y="957.9" font-size="23.4" text-anchor="middle" fill="#000">0.7</text>
<text x="257.2" y="957.9" font-size="23.4" text-anchor="middle" fill="#000">0.75</text>
<text x="372.4" y="957.9" font-size="23.4" text-anchor="middle" fill="#000">0.8</text>
<text x="487.7" y="957.9" font-size="23.4" text-anchor="middle" fill="#000">0.85</text>
<text x="602.9" y="957.9" font-size="23.4" text-anchor="middle" fill="#000">0.9</text>
<text x="280.1" y="985.8" font-size="26.2" textLength="160.5" lengthAdjust="spacing">Age [kyrs BP]</text>
<text transform="translate(54.5 621.6) rotate(-90)" font-size="23.4" text-anchor="middle">Zr [ppm]</text>
<text transform="translate(732.6 802.3) rotate(-90)" font-size="23.4" text-anchor="middle">Si [ppm]</text>
<text x="-0.5" y="522" font-size="46" font-weight="bold">b</text>
<g clip-path="url(#cts1)">
<path d="M141.8 695.1L142.9 708.3L144 678.4L145.1 707.1L145.3 708.3L146.2 703.1L146.3 607.9L147.3 708.3L147.3 708L148.4 690.1L149.5 708.2L150.6 708.2L151.7 684.9L152.8 689.7L153.9 686.1L154.3 708.8L155 674.7L155.3 608.6L156.1 708.2L156.3 708L157.2 697.8L158.3 693.1L159.4 704.9L160.5 693.6L161.6 692.3L162.7 687L163.8 692.7L164.9 692.1L166 708.6L166.3 708.6L167.1 655.2L167.3 586.4L168.2 693.1L168.3 709.1L169.3 689.8L170.4 698.6L171.5 708.4L172.4 708L172.6 671.8L173.4 556.5L173.7 632.4L174.4 707.8L174.8 700.6L175.9 708.7L177 708.9L178.1 701.4L179.2 695.9L180.3 709.1L181.4 706.8L182.5 707L183.6 708.4L184.7 709.7L185.8 709L186.9 700.6L188 709L188.4 708.8L189.1 709.1L189.4 652.3L190.2 709.5L190.4 708.2L191.3 701.5L192.4 697.8L193.5 702.1L194.6 708L195.7 702.9L196.8 708.9L197.9 708.8L199 708.9L200.1 708.2L200.1 708.6L201.1 667.6L201.2 694.9L202.1 708.8L202.3 696.4L203.4 705.7L204.5 701.7L205.6 708L206.4 708.6L206.7 708.2L207.4 557.1L207.8 681.6L208.4 708.3L208.9 701.3L210 707.6L211.1 707.9L212.2 708.9L213.3 700.7L214.4 707.7L215.5 703.2L216.6 707.5L217.7 677.6L218.1 708.4L218.8 690.3L219.1 597.9L219.9 633.8L220.1 707.9L221 708.5L221.6 708.3L222.1 703.3L222.6 575.9L223.2 696.3L223.6 708.5L224.3 708.9L225.4 708.7L226.5 697.1L227.6 699.6L228.3 708.7L228.7 703.2L229.3 664L229.8 697.5L230.3 708.8L230.9 696.2L232 702.1L233.1 705.7L234.2 708.5L235.3 699.3L236.4 708.9L237.5 693.2L237.8 709.2L238.6 679.8L238.8 655L239.7 676.7L239.8 708.5L240.8 700.1L241.9 703.5L243 701.3L244.1 694.3L244.1 708.9L245.1 657.7L245.2 709.1L246.1 708.6L246.3 709.1L247.4 709.3L248.5 708.3L249.6 709.3L250.7 709L251.8 709.1L252.9 708.7L254 707.8L255.1 708.2L256.2 708.8L257.3 708.4L258.4 699L259.5 709L260.6 709.1L261.7 708.1L262.8 707.1L263.9 707.1L265 707L266.1 708.3L267.2 707.8L268.3 708.2L268.7 708.1L269.4 708.2L269.7 674.7L270.5 707.9L270.7 708.7L271.6 708.3L272.7 697.7L273.8 691.9L274.9 708.2L276 640.5L277.1 602.4L278.2 707.7L278.8 708.7L279.3 696.2L279.8 558.3L280.4 695.8L280.8 708.8L281.5 708.4L282.6 709.3L283.7 681.7L284.8 706.2L285.9 708.8L287 709.1L288.1 708.4L289.2 708.8L290.3 709.7L291.4 709.4L292.5 709L293.6 678.2L294.7 693.6L295.8 701.6L296.9 693.1L298 687.2L299.1 709.2L299.4 708.7L300.2 699.5L300.4 615.1L301.3 708.7L301.4 708.6L302.4 709.2L303.5 707L304.6 703.9L305.7 709.1L306.8 706.9L307.9 708.4L309 708.4L310.1 704.1L311.2 698.9L312.3 694.4L313.4 708.6L314.5 693L315.4 708.2L315.6 699.6L316.4 638.5L316.7 707.7L317.4 708.4L317.8 681.3L318.9 704.1L320 708.1L321.1 687.4L322.2 699.5L323.3 708.7L324.4 708.6L325.5 708.6L326.6 708L327.7 708.4L328.8 707.8L329.9 708.4L331 707.9L332.1 707.9L333.2 707.9L334.3 708.5L335.4 708.4L336.5 708.4L337.6 707.9L338.7 687.2L339.8 658.6L340.2 708.6L340.9 640.2L341.2 561.2L342 692.3L342.2 708.8L343.1 708.9L344.2 688.3L345.3 708.2L346.4 708.3L347.5 703.9L348.6 709.7L349.6 708.9L349.7 706.4L350.6 561.9L350.8 693.6L351.6 708.7L351.9 671L353 708.4L353.2 708.8L354.1 679.1L354.2 649.6L355.2 709.1L355.2 708.9L356.3 700.4L357.4 700.4L358.5 709.7L359.6 690.3L360.7 704.3L361.8 694.8L362.3 708.6L362.9 709.6L363.3 658.6L364 708L364.3 708.3L365.1 704.2L366.2 709.1L367.3 699.1L368.4 699.3L369.5 707.8L370.6 707.7L371.7 707.7L372.8 702.1L373.9 700.9L375 708.8L375.8 708L376.1 708L376.8 633.8L377.2 707.1L377.8 708.5L378.3 704.2L379.4 707.8L379.4 708.8L380.4 640.3L380.5 708.1L381.4 708.4L381.6 707.9L382.7 707.1L383.8 699.1L384.9 707L385.7 709.1L386 679L386.7 648.3L387.1 688.5L387.7 708.2L388.2 708.2L389.3 708.8L390.4 707.1L391.5 708.4L392.6 708.6L393.7 704.9L394.2 708.4L394.8 708.7L395.2 693.6L395.9 708L396.2 708.5L397 708.4L398.1 708.9L399.2 708.3L400.3 708.5L401.4 705.8L402.2 708L402.5 696L403.2 689.1L403.6 709.4L404.2 708.9L404.7 709.1L405.8 709.7L406.9 709.6L408 709.1L409.1 709L410.2 708.7L411.3 708.8L412.4 708.7L413.5 701.2L414.6 690.5L415.4 708.2L415.7 683.4L416.4 643.3L416.8 709L417.4 708L417.9 691.9L419 697.7L420.1 703.7L421.2 709.4L422.3 703.7L423.4 699.9L424.5 708.3L425.6 681L426.7 686.1L427.8 708.6L428.9 708.8L430 709L431.1 697.8L432.2 683.9L433.3 708L433.3 707.8L434.3 622.3L434.4 708.4L435.3 708.9L435.5 693.7L436.6 708.2L437.7 685.7L438.8 708.4L439.9 672.5L441 703.6L442.1 698.6L443.2 708.5L444.3 699.9L445.4 707.7L446.5 707.9L447.6 674.4L448.7 707.5L449.8 691.7L450.7 709L450.9 708.1L451.7 687.3L452 646L452.7 708.1L453.1 705.6L454.2 708.6L454.3 707.9L455.3 709L455.3 588.1L456.3 708.3L456.4 654.4L457 708.5L457.5 667.6L458 694.5L458.6 698.3L459 708.3L459.7 709.8L460.8 708.9L461.9 652L463 708.7L464.1 709.4L465.2 703.2L466.3 707.9L466.9 708.7L467.4 707.9L467.9 688.2L468.5 709.8L468.9 708.1L469.6 708.6L470.7 708.6L471.8 709.1L472.9 709L474 709.1L475.1 708.8L476.2 708.1L477.3 709.1L478.4 690.4L479.5 708.7L480.6 705.3L481.7 682.7L482.8 703.8L483.4 709.3L483.9 679.4L484.4 632.5L485 703L485.4 708.7L486.1 678L487.2 707.8L488.3 698L489.4 707.5L490.5 696.9L491.6 662.7L492.7 641.9L493 708.9L493.8 695.7L494 589.4L494.9 656.3L495 708.4L496 708L496.6 708.9L497.1 701.6L497.6 532.8L498.2 631.7L498.6 709.2L499.3 708.1L500.4 708.5L501.5 695.2L502 708.2L502.6 708.5L503 672.1L503.7 708.1L504 708.6L504.8 707.1L505.9 701.6L507 708L508.1 708.2L509.2 704.7L510.3 709.3L511.4 703.8L512.2 708.9L512.5 709.3L513.2 682.8L513.6 708.7L514.2 708.7L514.7 709.6L515.8 708.4L516.9 709.3L518 708.4L519.1 709.3L520.2 709.8L521.3 708.4L522.4 708.7L522.6 708.2L523.5 709.2L523.6 687L524.6 702.3L524.6 708.3L525.7 708.5L526.8 704.8L527.9 709.1L529 701.7L530.1 698.1L530.2 708.8L531.2 669.7L531.2 703.4L532.2 708.7L532.3 708.6L533.4 699.3L534.5 704.2L535.6 708.4L536.7 696.4L537.8 708.9L538.9 700.1L540 702.4L541.1 704.2L542.2 708.1L543.3 698L544.4 708.1L545.5 707.9L546.6 707.6L547.7 707.8L548.8 708.5L549.9 704.4L550.8 708.3L551 706.8L551.8 688.2L552.1 708.2L552.8 708.7L553.2 708.1L554.1 707.6L554.3 708.3L555.1 688.2L555.4 708.8L556.1 708.6L556.5 707.7L557.6 708.1L558.7 707.3L559.8 708.7L560.9 708.7L562 707.9L563.1 707.7L564.2 708.3L565.3 707.8L566.4 709.1L567.5 708.5L568.4 708.9L568.6 708.6L569.4 694.2L569.7 708.4L570.4 708.9L570.8 709.5L571.9 709L573 704.5L574.1 709.3L575.2 709L576.3 706.9L577.4 705L578.5 706L579.6 709.4L580.7 709.3L581.8 709.6L582.9 709.4L584 709.1L585.1 706.9L585.1 708.3L586.1 664.3L586.2 705.9L587.1 708.6L587.3 708.4L588.4 701L589.5 708.8L590.6 709L591.7 700L592.8 699.8L593.9 708.1L595 708.9L596.1 708.3L597.2 698.6L598.3 707.4L599.4 700.6L600.5 691.5" fill="none" stroke="#c9c9c9" stroke-width="1.15" stroke-linejoin="round"/>
<path d="M141.8 797.4L142.2 804.9L142.6 794.9L143 808.5L143.4 801.2L143.8 833.2L144.2 810.6L144.6 844L145 820.2L145.4 837.2L145.7 832.7L145.8 828.2L146 859.7L146.2 845.9L146.6 859.7L146.6 827.1L146.9 832.7L147 837L147.4 823.4L147.8 842.1L148.2 816.9L148.6 860.5L149 813.7L149.4 823.8L149.8 814L150.2 836.4L150.5 818.9L150.6 815.3L150.8 861.5L151 851.4L151.4 813.4L151.4 861.5L151.7 818.9L151.8 837.2L152.2 816.6L152.6 862.2L153 818.2L153.4 825.7L153.8 817.5L153.8 814.3L154.1 859.7L154.2 821.4L154.6 810.8L154.7 859.7L155 817.5L155 818.8L155.4 810.7L155.8 820.3L156.2 816.1L156.6 832.3L157 819.9L157.4 822L157.4 825.4L157.7 892.1L157.8 819.4L158.2 839.9L158.3 821.1L158.3 892.1L158.6 861.5L158.6 822L158.6 818.3L159 851L159.2 861.5L159.4 814.6L159.5 821.1L159.8 820.1L160.2 813L160.6 849.1L161 816L161.3 833.6L161.4 834.3L161.6 892.1L161.8 828.9L162.2 852L162.2 892.1L162.5 833.6L162.6 818.3L162.9 799.6L163 814.9L163.4 770.8L163.4 794.6L163.8 829.3L163.9 799.6L164.2 799.8L164.6 799.8L164.6 809L164.9 892.1L165 798.9L165.4 835.1L165.5 892.1L165.8 799.8L165.8 789.1L166.2 795L166.4 797.1L166.6 780.2L166.9 768.1L167 821.1L167.4 812L167.4 797.1L167.8 834.9L168.1 822L168.2 825.4L168.4 859.7L168.6 827.6L169 813.9L169 859.7L169.3 822L169.4 841.1L169.8 808.1L170.2 822.7L170.6 802.6L171 820.6L171.4 802.7L171.8 811.5L172.2 797.7L172.6 811.7L173 804.8L173.4 813.6L173.8 806.9L174.2 833.6L174.6 804.7L175 837.9L175.4 811.3L175.8 820.5L176.2 811.8L176.2 819.3L176.5 859.7L176.6 860.1L177 814.5L177.1 859.7L177.4 821.9L177.4 819.3L177.8 806.1L178.2 808.4L178.5 795.1L178.6 796.5L179 784.3L179 818.3L179.4 799.3L179.5 795.1L179.8 819.9L180.2 811.3L180.6 825.3L181 816.8L181.4 842.5L181.8 816.7L182.2 835.1L182.6 814.4L183 831.5L183.4 811.4L183.8 821.2L184.2 807.6L184.6 817.5L185 803.1L185.4 810.3L185.8 800.1L186.2 822.3L186.6 801.2L187 821.2L187 811.7L187.3 859.7L187.4 808L187.8 854.4L187.9 859.7L188.2 812.8L188.2 811.7L188.6 837.1L189 813.8L189.4 839.2L189.8 810.2L190.2 819.8L190.6 806.2L191 842.7L191.4 810.1L191.5 815.7L191.8 838.7L191.8 892.1L192.2 809.2L192.4 892.1L192.6 845L192.7 815.7L193 814.1L193.4 822.3L193.8 809.7L194.2 820.2L194.6 803.6L195 808.8L195.4 798.6L195.6 796L195.8 807.5L196.1 777.1L196.2 790.8L196.6 796L196.6 808.6L197 800.9L197.4 825.9L197.8 803.2L198.2 817.6L198.6 804.2L199 815.4L199.4 806.5L199.8 818.5L200.2 806.5L200.6 818.6L201 808.9L201.4 839.2L201.8 803.9L202.2 805.7L202.6 783.9L203 799.8L203.4 777L203.8 794.8L204.2 792.8L204.6 816.1L205 796.9L205.4 796.1L205.8 776.8L206.2 780.3L206.3 754.6L206.6 757.8L206.8 749.3L207 772.3L207.3 754.6L207.4 757L207.8 779.2L208.2 769.1L208.6 795.5L209 778.5L209.4 805.8L209.8 786.9L210.2 834.5L210.6 794.5L211 806.2L211.4 796.9L211.8 823.9L212.2 800.5L212.6 808.8L213 799.9L213.4 817.9L213.8 794.7L214.2 811.1L214.6 801.2L215 819L215.4 804.5L215.8 822.7L216.2 805.8L216.6 802.2L217 781.6L217.4 791.1L217.8 771L218.2 769.2L218.2 792.5L218.6 763.6L218.7 747.5L219 770.1L219.2 769.2L219.4 766.1L219.8 789.9L220.2 769.8L220.6 778.2L221 771.9L221.4 781.8L221.8 767.7L222.2 780.3L222.6 772.4L223 789.7L223.4 787.8L223.8 831.9L224.2 806L224.6 827.2L224.7 833.7L225 819.1L225 891.2L225.4 837.5L225.6 891.2L225.8 823.1L225.9 833.7L226.2 840.6L226.6 813.2L227 820L227.4 803.4L227.8 824L228.2 809.1L228.6 823.4L229 815L229.4 832.7L229.8 815.7L230.2 826.8L230.6 815.5L231 815.8L231.4 797.2L231.8 816.8L232.2 774.9L232.6 780.8L233 760.3L233.4 762L233.8 746.8L234.2 747.9L234.4 734L234.6 734.4L234.9 727.7L235 761.7L235.4 734L235.4 739.7L235.8 755.1L236.2 753.9L236.6 789.4L237 770.5L237.4 792L237.8 788.1L238.2 810.9L238.6 796.6L239 803.8L239.4 803.8L239.8 847.5L240.2 823.3L240.6 838.3L240.9 824.1L241 823.6L241.2 859.7L241.4 828.5L241.8 818.3L241.8 859.7L242.1 824.1L242.2 829.5L242.6 817.4L243 847.5L243.4 814.5L243.8 828.1L244.2 815.1L244.6 828.8L244.6 808.8L245 807.9L245.1 790.6L245.4 826.3L245.6 808.8L245.8 800L246.2 829.5L246.6 808.2L247 823L247.4 816.2L247.8 827.4L248.2 819.1L248.6 843L248.6 827.4L248.9 893.9L249 823.6L249.4 833.1L249.5 893.9L249.8 817.6L249.8 827.4L250.2 829.6L250.6 809.6L251 826.9L251.3 806.7L251.4 806.1L251.8 795.1L251.8 833.1L252.2 806.8L252.3 806.7L252.6 828.6L253 810.2L253.4 844.7L253.8 815.5L254.2 835L254.6 813.7L255 825.6L255.4 816.4L255.8 850.3L256.2 816.8L256.6 825.9L257 815.4L257.4 826.3L257.8 819.8L258.2 864.5L258.6 819.1L259 825.9L259.4 815.5L259.8 830.4L260.2 812.5L260.6 843.9L261 816.1L261.4 826.8L261.6 822.9L261.8 817.6L261.9 861.5L262.2 842.7L262.5 861.5L262.6 819.5L262.8 822.9L263 831.4L263.4 817.9L263.8 832.8L264.2 819L264.6 828.9L265 817.9L265.2 819.6L265.4 826L265.5 892.1L265.8 816.1L266.1 892.1L266.2 821.5L266.4 819.6L266.6 812.9L267 837.8L267.4 810.7L267.8 820.3L268.2 813.3L268.6 843.9L268.8 825L269 819.8L269.1 863.3L269.4 836.3L269.7 863.3L269.8 820.4L270 825L270.2 835.2L270.6 824.6L271 855.4L271.4 816.6L271.8 819.1L272.2 802.7L272.6 840.4L273 810.3L273.4 860.2L273.8 819.7L274.2 831.1L274.6 827.2L275 844.9L275 833.2L275.3 892.1L275.4 830.4L275.8 845.6L275.9 892.1L276.2 824.4L276.2 833.2L276.6 843.3L277 818.5L277.4 820.5L277.7 823L277.8 816.9L278 892.1L278.2 859L278.6 820.6L278.6 892.1L278.9 823L279 832L279.4 819.2L279.8 862L280.2 813.7L280.6 825.3L281 811.9L281.4 817.3L281.8 808L282.2 821.4L282.6 807.6L283 820.5L283.2 808.5L283.4 803.9L283.7 779.8L283.8 839.4L284.2 810.4L284.2 808.5L284.6 826.4L285 820.1L285.3 838.2L285.4 850.4L285.6 893.9L285.8 831.3L286.2 893.9L286.2 842.3L286.5 838.2L286.6 824.1L287 831.4L287.4 816.3L287.8 843.3L288.2 810.6L288.6 838.8L288.9 821.1L289 814.5L289.2 893.9L289.4 833.9L289.8 893.9L289.8 819L290.1 821.1L290.2 825.8L290.6 817L291 826.6L291.4 816.8L291.8 838.1L292.2 814L292.6 843.7L293 813.1L293.4 819.2L293.8 812.2L294.2 826.3L294.6 811.1L295 833.2L295.4 811.8L295.8 834.5L296.2 810.5L296.6 837.5L297 815.9L297.4 835.6L297.8 810.7L298.2 833.6L298.6 809.4L299 816.7L299.3 815.4L299.4 808L299.6 859.7L299.8 831.3L300.2 812L300.2 859.7L300.5 815.4L300.6 815L301 802L301.4 805.4L301.8 784.7L302.2 801.7L302.6 771.7L303 776.1L303.4 761.8L303.4 761.3L303.8 786.1L303.9 755.5L304.2 766.9L304.4 761.8L304.6 790.7L305 784.9L305 807L305.3 892.1L305.4 803.6L305.8 807.7L305.9 892.1L306.2 826.9L306.2 807L306.6 827.2L307 846.1L307.4 825.3L307.8 849.9L308.2 818.7L308.3 813.9L308.6 892.1L308.6 824.7L309 811.5L309.2 892.1L309.4 820.5L309.5 813.9L309.8 810.6L310.2 848.3L310.6 817.3L311 846.3L311.4 808.5L311.8 824.8L312.2 797.2L312.6 799.7L312.9 794.7L313 786.4L313.4 779.8L313.4 800.7L313.8 794L313.9 794.7L314.2 819.3L314.6 796.7L315 808.2L315.4 800.7L315.8 821.4L316.2 805.1L316.6 817.5L317 807.1L317.4 822.4L317.8 814.9L318.2 830.9L318.6 817L319 831.8L319.4 818.5L319.8 844.8L320.2 816.8L320.6 830.7L321 817.7L321.4 823.8L321.8 815.4L322.2 832.7L322.6 825.1L323 838.3L323.4 831.1L323.6 833.2L323.8 877.8L323.9 859.7L324.2 829.6L324.5 859.7L324.6 867.8L324.8 833.2L325 822.5L325.4 830.4L325.8 812.8L326.2 826L326.6 814.5L327 833.7L327.1 820.2L327.4 811.3L327.4 859.7L327.8 824.1L328 859.7L328.2 814.5L328.3 820.2L328.6 833.3L329 821.7L329.4 831.8L329.8 825.9L329.8 835.5L330.1 861.5L330.2 840.8L330.6 833.8L330.7 861.5L331 862.3L331 835.5L331.4 829.5L331.8 836.8L332.2 821.6L332.6 852L333 816.3L333.4 822.7L333.8 815.5L334.2 842.2L334.6 813.9L334.9 815.3L335 819.9L335.2 890.3L335.4 812.8L335.8 890.3L335.8 819.2L336.1 815.3L336.2 812.8L336.6 844.4L337 814.1L337.4 827.4L337.8 816.4L338.2 845.3L338.5 816.6L338.6 814.4L338.8 892.1L339 837.1L339.4 892.1L339.4 812.6L339.7 816.6L339.8 826.4L340.2 817.8L340.6 832.6L341 822.9L341 820.3L341.3 893.9L341.4 833.4L341.8 819.8L341.9 893.9L342.2 822.9L342.2 836.9L342.6 815.5L343 836.7L343.4 810.4L343.8 827.1L344.2 812.3L344.6 835.6L345 812.7L345.4 839.6L345.8 816.1L346.2 830.3L346.6 824L347 836.7L347.3 839.1L347.4 829.1L347.6 892.1L347.8 852.8L348.2 892.1L348.2 820.5L348.5 839.1L348.6 830.7L349 796.2L349.4 794L349.8 779.3L350.2 818.3L350.6 769.9L350.6 768.1L351 787.9L351.1 764.5L351.4 766.1L351.6 768.1L351.8 796.5L352.2 773.2L352.6 791.3L353 771.8L353.4 814.6L353.8 784.3L354.2 806.1L354.6 800.5L355 818.1L355.4 808.4L355.8 816.6L356.2 802L356.6 806.9L357 796.4L357.3 798.7L357.4 814.7L357.8 778.9L357.8 792.3L358.2 813.5L358.3 798.7L358.6 802.7L359 814.8L359.4 806.3L359.8 829.8L360.2 807.3L360.6 817.1L361 809.9L361.4 825.8L361.8 803.1L362.2 811.7L362.6 799.2L362.8 807.6L363 817.7L363.3 795.1L363.4 802.1L363.8 821.4L363.8 807.6L364.2 809.3L364.6 832.1L364.9 822L365 812.7L365.2 891.2L365.4 828L365.8 891.2L365.8 815.6L366.1 822L366.2 832.4L366.6 815.9L367 828.8L367.4 811.6L367.8 860.5L368.2 817.1L368.5 825.6L368.6 834.7L368.8 859.7L369 821.4L369.4 859.7L369.4 833L369.7 825.6L369.8 818.7L370.2 823L370.6 813.1L371 834.1L371.3 803.2L371.4 805L371.8 791.5L371.8 811.5L372.2 799.3L372.3 803.2L372.6 827.4L373 814.1L373.4 855.4L373.8 818.3L374.2 844.2L374.6 816.4L375 828.3L375.4 819.4L375.8 825.5L376.2 819.4L376.6 855.5L377 819.1L377.4 825.2L377.8 817.2L378.2 830.5L378.4 812.9L378.6 810.2L378.7 861.5L379 847.8L379.3 861.5L379.4 805.5L379.4 805L379.6 812.9L379.8 809.2L379.9 793.3L380.2 803.5L380.4 805.5L380.6 813.6L381 807.4L381.4 821L381.8 815.6L382.2 839.2L382.6 814.1L383 823.7L383.4 817.6L383.8 820.2L383.8 829.4L384.1 859.7L384.2 814L384.6 825.3L384.7 859.7L385 820.2L385 816.2L385.4 833.1L385.8 821.9L386.2 831L386.6 818.2L387 826.2L387.4 815.8L387.8 823L388.2 812.8L388.6 827.3L388.8 826.7L389 822.8L389.1 892.1L389.4 833.5L389.7 892.1L389.8 820.4L390 826.7L390.2 841.4L390.6 822.9L391 840.5L391.3 822.7L391.4 817.5L391.6 892.1L391.8 828.9L392.2 816.6L392.2 892.1L392.5 822.7L392.6 826.1L393 818.5L393.4 825.3L393.8 815.1L394.2 856.3L394.6 818L395 854.2L395.4 812.6L395.8 824.8L396.2 812.9L396.6 819.3L397 813L397.4 820.1L397.7 819.1L397.8 814.2L398.1 820.5L398.2 827L398.2 791.5L398.4 859.7L398.6 814.4L398.7 819.1L399 847L399 859.7L399.3 820.5L399.4 820L399.8 829.1L400.2 814.7L400.6 838.7L401 813.9L401.4 833L401.8 810.7L402.2 821.1L402.6 805.5L403 810.7L403.4 802.6L403.8 805.3L404.2 798.1L404.6 808.1L405 792.7L405.1 800.3L405.4 803.9L405.6 770.3L405.8 796.6L406.1 800.3L406.2 804.2L406.6 798.1L407 809.3L407.4 806.4L407.8 822.7L408.2 815.4L408.6 825.6L409 813.1L409.4 820.4L409.8 814.9L410.2 826.1L410.6 811.7L411 818.5L411.4 811.1L411.8 817.6L412.2 809.9L412.6 816.9L413 808.3L413.4 815.7L413.8 804.8L414.2 820.8L414.6 805.7L415 821L415.4 807.7L415.8 823.6L416.2 811.5L416.6 822.3L417 816.1L417.4 824L417.8 814.1L417.9 818.9L418.2 822.3L418.2 831L418.6 815.6L418.8 831L419 824.8L419.1 818.9L419.4 813.7L419.8 824.1L420.2 817L420.6 822.5L421 812.2L421.4 823.4L421.8 816.2L422.2 823.5L422.6 815.5L423 824.6L423.4 812.4L423.8 822.1L424.2 814.9L424.6 820.6L425 810L425.4 818.8L425.8 808.7L426.2 815L426.6 806.7L427 808.9L427 813.4L427.4 802.3L427.5 800.5L427.8 816.7L428 808.9L428.2 807.2L428.6 817.2L429 807.2L429.4 817.4L429.8 810L430.2 816.7L430.6 811.5L431 818.9L431.4 809.1L431.8 825.1L432.2 808.9L432.6 819.7L433 814.1L433.4 820.6L433.8 816.3L434.2 823.7L434.6 812.8L435 824.9L435.4 811.9L435.8 817.1L436.2 810.7L436.6 821.6L437 812L437.4 820.9L437.8 812.4L438.2 820.5L438.6 813.2L439 821.7L439.4 813.2L439.8 819.2L440.2 810L440.6 817.9L441 810.5L441.4 814.9L441.8 806.2L442.2 816.7L442.3 813.2L442.6 808.6L442.8 791.1L443 823.1L443.3 813.2L443.4 812.1L443.8 820.3L444.2 814.9L444.6 820.9L445 817L445.4 823.8L445.8 819.6L445.8 815L446.1 840L446.2 825.1L446.6 815.8L446.7 840L447 819.6L447 824.3L447.4 817.6L447.8 825.2L448.2 816.6L448.6 823L449 816.5L449.4 824.7L449.8 817.6L450.2 824.4L450.2 820.7L450.5 834.6L450.6 818.4L451 824.3L451.1 834.6L451.4 818.3L451.4 820.7L451.8 825.6L452.2 817.4L452.6 826L453 817.4L453.4 822.3L453.8 808.2L454.2 820.6L454.6 813.3L455 817.8L455.4 808.1L455.8 815.6L456.2 809.7L456.6 818.9L457 811.3L457.4 825L457.8 810.4L458.2 827.2L458.6 816.1L459 823.5L459.2 818.1L459.4 816L459.5 831L459.8 823.4L460.1 831L460.2 815.2L460.4 818.1L460.6 823L461 814.3L461.4 823L461.8 814.2L462.2 824.3L462.6 814.9L463 821L463.4 810.5L463.8 824.6L464.2 809.2L464.6 817.8L465 810.9L465.4 816.4L465.8 808.2L466.2 815.9L466.6 802L467 812.9L467.4 799.7L467.8 811.4L468.2 803.5L468.3 803.8L468.6 807.3L468.8 793.3L469 801.2L469.3 803.8L469.4 805.7L469.8 799.3L470.2 810.1L470.6 800.8L471 811.2L471.4 803.2L471.8 815.8L472.2 804.1L472.6 813.7L473 806.2L473.4 815.7L473.8 811.5L474.2 818.8L474.6 813L475 826.5L475.4 815.4L475.8 823L476.2 818.2L476.6 824.3L477 817.1L477.2 822L477.4 828L477.5 828.3L477.8 816.5L478.1 828.3L478.2 831.1L478.4 822L478.6 817.8L479 826.7L479.4 816.7L479.8 829.7L480.2 816.4L480.6 825.2L481 819L481.4 830.8L481.8 817.8L482.2 826.7L482.6 818.2L483 826.6L483.4 819.2L483.8 826.6L484.2 819.6L484.6 826.1L485 820.6L485.4 830.9L485.8 820.3L486.2 822.8L486.2 828.1L486.5 831.9L486.6 820.5L487 829.6L487.1 831.9L487.4 822.8L487.4 817.4L487.8 826.2L488.2 810.9L488.6 815.6L489 797.2L489.4 798.7L489.8 784.6L490.2 792L490.6 781.6L491 785.1L491.4 776.7L491.8 781.6L492.2 767.8L492.6 766L493 747L493.4 752.9L493.5 746.9L493.8 741.7L494 734L494.2 750.7L494.5 746.9L494.6 742.3L495 756.3L495.4 747.5L495.8 754.9L496.2 749L496.6 764.5L497 761.1L497.4 772.8L497.8 772L498.2 788.8L498.6 791.3L499 812.6L499.4 803.2L499.8 815.4L500.2 807L500.6 818.8L501 811.8L501.4 819.3L501.8 812.2L502.2 820L502.6 814.3L503 821.6L503.2 818.2L503.4 813.8L503.5 828.3L503.8 823.1L504.1 828.3L504.2 814L504.4 818.2L504.6 822L505 814.8L505.4 825.5L505.8 813.8L506.2 826.3L506.6 813.6L507 820.4L507.4 813.3L507.8 820.1L508.2 808.7L508.6 825.1L509 812.4L509.4 819L509.8 812.7L510.2 820.3L510.6 813.2L511 820.6L511.4 809.9L511.8 816.7L512.2 808.8L512.6 820.5L512.7 809.2L513 807.7L513.2 793.3L513.4 812.2L513.7 809.2L513.8 806.2L514.2 815.9L514.6 808.6L515 823.3L515.4 815.8L515.8 822.7L516.2 817.7L516.6 824.9L517 819.8L517.4 827L517.8 820.9L518.2 822.9L518.2 827.3L518.5 836.4L518.6 818.2L519 826.8L519.1 836.4L519.4 822.9L519.4 817.1L519.8 826.2L520.2 817.1L520.6 828.6L521 819.7L521.4 820.2L521.8 808.2L522.2 810.9L522.6 801L523 807.1L523.1 803.8L523.4 800.3L523.6 778.9L523.8 812.3L523.9 803.7L524.1 803.8L524.2 800.3L524.2 828.3L524.6 810.2L524.8 828.3L525 809.6L525.1 803.7L525.4 822.1L525.8 810.9L526.2 818.7L526.6 810.3L527 819.5L527.4 808.1L527.8 815.2L528.2 806.6L528.5 809.7L528.6 815.3L529 807.7L529 796.9L529.4 813L529.5 809.7L529.8 806.1L530.2 817.7L530.6 808.3L531 820.4L531.4 811L531.8 823.5L532.2 815.2L532.6 822.3L533 814.2L533.4 822.2L533.8 817.6L534.2 823.7L534.6 817.6L535 825.8L535.4 818.3L535.8 824L536.2 818L536.6 825.2L537 816.1L537.4 824.4L537.8 817.6L538.2 823.9L538.6 817.4L539 827.7L539.4 817.3L539.8 823.6L540.2 817.1L540.6 825.4L541 816.6L541.4 826.8L541.8 814.1L542.2 823.4L542.6 816.2L543 825.7L543.4 817L543.8 830.7L544.2 817.4L544.6 825.3L545 815.2L545.4 828.5L545.8 819.4L546.2 826L546.6 819.3L546.9 823.4L547 826.1L547.2 840L547.4 818.7L547.8 826.6L547.8 840L548.1 823.4L548.2 820.1L548.6 829.4L549 818.1L549.4 828L549.8 819L550.2 827L550.6 819.1L551 831.6L551.4 818.8L551.8 829.9L552.2 819.3L552.6 825.8L553 820.9L553.4 830.9L553.8 815.9L554.2 830.3L554.6 816.4L555 824.7L555.4 817.9L555.8 823.7L556.2 814.9L556.6 823.1L557 814.6L557.4 823.7L557.8 816.1L558.2 823.9L558.6 814.6L559 825L559.4 818.5L559.8 824.5L559.8 821.7L560.1 833.7L560.2 816.3L560.6 826.7L560.7 833.7L561 815.3L561 821.7L561.4 827L561.8 818.2L562.2 828.4L562.6 817.4L563 826.9L563.4 818.1L563.8 828.1L564.2 818.1L564.6 827.8L565 817.7L565.4 824.4L565.8 814.9L566.2 827.1L566.6 816.3L567 827L567.4 815.4L567.8 822.3L568 816.7L568.2 812.4L568.5 808.5L568.6 819.9L569 812.6L569 816.7L569.4 825.6L569.8 816.7L570.2 823.5L570.6 817.4L571 829.7L571.4 817.6L571.8 825.2L572.2 819L572.4 823L572.6 831.4L572.7 837.3L573 820.2L573.3 837.3L573.4 832.5L573.6 823L573.8 816.7L574.2 827.4L574.6 819.3L575 828.9L575.4 819.6L575.8 828.1L576.2 820.2L576.6 829.5L577 816.6L577.4 829.8L577.8 817.5L578.2 827.3L578.6 821.9L579 833.4L579.4 821.6L579.6 823.2L579.8 832.9L579.9 838.2L580.2 818.8L580.5 838.2L580.6 826.5L580.8 823.2L581 818.7L581.4 828.9L581.8 819.4L582.2 825.4L582.6 815.5L583 822.9L583.4 816.2L583.8 823.6L584.2 815.4L584.6 823.2L585 811.8L585.4 826.8L585.8 814.3L586.2 823L586.6 813.2L587 828.5L587.4 812.9L587.8 824.6L588.2 815.4L588.6 826.9L589 817L589.4 825L589.8 814.8L590.2 825.1L590.4 820.1L590.5 820.1L590.6 817.6L590.7 833.7L591 805L591 823.5L591.3 833.7L591.4 815.8L591.5 820.1L591.6 820.1L591.8 825.5L592.2 816L592.6 822L593 816.4L593.4 826.8L593.8 815.2L594.2 820L594.6 812.5L594.9 818.3L595 825.1L595.2 834.6L595.4 814.3L595.8 834.6L595.8 823.4L596.1 818.3L596.2 817.5L596.6 825.9L597 816.3L597.4 829.3L597.8 817.7L598.2 824.2L598.6 818.3L599 827L599.4 814.9L599.8 824.2L600.2 817.3L600.6 824.4L601 817.7L601.4 827.5L601.8 818.4" fill="none" stroke="#c9c9c9" stroke-width="1.15" stroke-linejoin="round"/>
<rect x="201.3" y="513.7" width="43.9" height="397.7" fill="url(#gG)" style="mix-blend-mode:multiply"/>
<rect x="297.2" y="513.7" width="21.7" height="397.7" fill="url(#gG)" style="mix-blend-mode:multiply"/>
<rect x="337.1" y="513.7" width="21.7" height="397.7" fill="url(#gG)" style="mix-blend-mode:multiply"/>
<rect x="490.7" y="513.7" width="15" height="397.7" fill="url(#gO)" style="mix-blend-mode:multiply"/>
<path d="M147.2 657.7L149 657.7L149.3 702.6L149.7 658.6L163.4 658L163.9 677.4L166.1 668.5L166.4 633.8L168.7 635.2L170.9 636.1L171.3 604.7L172.3 607.4L178.3 607.4L178.8 684.6L181.3 685.5L184 696.3L185.8 703.5L187.1 689.5L189.4 692.7L195.7 692.7L197.5 708L199.3 698.1L201.4 690.9L203.2 694.5L205 690.9L205.8 615.5L206.8 584.9L207.9 584.9L208.8 647.8L209.7 668.5L211.5 688.2L213.7 683.7L216.4 678.3L217.6 665.8L218.7 628.9L219.4 629.8L221.2 664L222.3 622.6L223.2 623.5L224.4 689.1L226.2 692.7L228.4 698.1L230.7 696.3L232.5 701.7L234.3 695.4L237 681.9L238.8 676.5L241.5 675.6L243.3 676.5L245.1 683.7L246.4 690.9L248.7 693.6L250.5 696.3L252.3 704.4L255.9 707.1L258.6 707.1L259.5 702.6L265.8 702.6L269.4 703.5L272.2 702.6L272.6 609.7L282.5 609.7L285.2 707.1L289.1 708.5L290 707.1L292.4 628.9L296.3 626.2L300.4 625.9L301 661.8L304.4 662.2L304.9 703.5L308 704.4L310.7 699.9L313.4 689.1L315.2 678.3L316.1 673.8L317.5 683.4L321.8 683.7L322.5 708L326.9 708.5L337.6 708.5L338.3 612.2L345.7 611.9L348.4 655L349.8 672.1L350.6 612.2L351.3 612.2L352 672.1L354.7 683.7L357.4 687.3L359.2 681.9L363.7 688.2L367.3 696.3L370.9 701.7L372.3 702.6L372.8 678.7L375 678.7L375 678.7L375.4 678.7L378.1 680.1L379 692.7L380.1 673.8L387.1 673L388 686.4L390.1 689.1L391.6 699L396.1 704.4L402.3 703.1L403.2 700.4L405.9 700.8L411.3 703.5L413.1 702.6L414.9 681.9L416.4 679.2L418.5 679.8L420.3 698.1L423 702.6L424.8 703.5L425.7 668.5L440.6 668.5L441.9 696.3L443.3 701.3L444.6 699L447.3 669.4L450 639.2L462.5 639.2L463.8 704.4L469.7 703.1L474.2 707.1L477.4 708.5L478.2 679.2L483.2 679.2L486.8 676.5L489.5 669.4L491.8 651.4L493.1 624.4L494.9 615.5L496.3 614L496.7 582.2L500.3 583.7L500.8 692.7L503.8 698.1L506.2 700.4L509.2 700.8L511.9 703.9L515.5 702.6L518.2 700.8L522.7 704.4L523.6 698.1L527.2 696.3L531.7 697.7L538 696.7L542.5 698.1L547.9 700.8L553.3 703.9L557.7 702.6L563.1 705.3L568.5 708L569.4 698.5L590.1 699L591.3 690.6" fill="none" stroke="#1e1e1e" stroke-width="0.8" stroke-linejoin="round"/>
<path d="M142.7 800.2L143.1 802.7L143.5 805.8L143.9 809.5L144.3 814.7L144.7 820.6L145.1 826.3L145.5 830.4L145.9 831.9L146.3 832.7L146.7 832.7L147.1 830.3L147.5 826.1L147.9 822L148.3 819.7L148.7 819.1L149.1 819L149.5 818.9L149.9 818.7L150.3 818.6L150.7 818.6L151.1 818.9L151.5 819.4L151.9 819.9L152.3 820.4L152.7 821L153.1 821.5L153.5 821.4L153.9 819.9L154.3 817.9L154.7 815.9L155.1 814.4L155.5 814.6L155.9 816.5L156.3 818.7L156.7 820.8L157.1 822.4L157.5 822.5L157.9 822.1L158.3 821.7L158.7 821.2L159.1 820.1L159.5 818.6L159.9 817L160.3 815.5L160.7 815.9L161.1 820.7L161.5 827L161.9 831.4L162.3 828.8L162.7 818.9L163.1 808.1L163.5 801.7L163.9 801.2L164.3 802.5L164.7 802.8L165.1 800.2L165.5 795.8L165.9 791.1L166.3 787.4L166.7 790.1L167.1 802.9L167.5 818.3L167.9 828.6L168.3 827.4L168.7 822.6L169.1 817.8L169.5 813.5L169.9 810.7L170.3 809.2L170.7 808L171.1 806.8L171.5 805.5L171.9 804.8L172.3 805.5L172.7 807L173.1 808.7L173.5 810.4L173.9 812L174.3 813.3L174.7 814.3L175.1 815.3L175.5 816.2L175.9 817.1L176.3 818.1L176.7 818.3L177.1 816L177.5 811.9L177.9 807.4L178.3 802.9L178.7 799L179.1 798.5L179.5 803.4L179.9 810L180.3 816.6L180.7 822L181.1 823.3L181.5 822.3L181.9 820.9L182.3 819.5L182.7 818.1L183.1 816.6L183.5 815L183.9 813.2L184.3 811.4L184.7 809.6L185.1 807.8L185.5 806.1L185.9 804.3L186.3 803.3L186.7 805L187.1 807.8L187.5 810.8L187.9 813.8L188.3 816.5L188.7 817.6L189.1 817.1L189.5 816.2L189.9 815.2L190.3 814.3L190.7 813.6L191.1 813.7L191.5 814.4L191.9 815.2L192.3 816.1L192.7 816.7L193.1 816.5L193.5 814.8L193.9 812.6L194.3 810.4L194.7 808L195.1 804.8L195.5 801.2L195.9 798.3L196.3 798.5L196.7 801.2L197.1 804.4L197.5 807.1L197.9 808.2L198.3 808.7L198.7 809.2L199.1 809.8L199.5 810.3L199.9 810.8L200.3 811.4L200.7 811.9L201.1 812.4L201.5 811.5L201.9 806.1L202.3 797.4L202.7 788.1L203.1 781.2L203.5 783.1L203.9 791.6L204.3 801.5L204.7 806.9L205.1 800.3L205.5 789.8L205.9 779.3L206.3 768.8L206.7 760.3L207.1 759L207.5 763L207.9 768.1L208.3 773.2L208.7 778.3L209.1 783.1L209.5 787L209.9 790.6L210.3 794L210.7 797.5L211.1 801L211.5 804.4L211.9 806.5L212.3 805.7L212.7 803.8L213.1 802L213.5 800.2L213.9 799.1L214.3 800.7L214.7 804.2L215.1 808L215.5 811.8L215.9 813.2L216.3 806.4L216.7 794.7L217.1 783.4L217.5 776.6L217.9 773.6L218.3 771.4L218.7 769.3L219.1 768.1L219.5 769.3L219.9 771.1L220.3 772.9L220.7 774.8L221.1 776.2L221.5 776.6L221.9 776.2L222.3 776L222.7 777.9L223.1 784.9L223.5 793.4L223.9 801.9L224.3 810.6L224.7 819.4L225.1 827.1L225.5 829.8L225.9 825.9L226.3 820.3L226.7 814.7L227.1 810.5L227.5 810.5L227.9 812.3L228.3 814.3L228.7 816.2L229.1 817.4L229.5 817.8L229.9 818L230.3 818.2L230.7 816.4L231.1 808.4L231.5 797.8L231.9 787L232.3 776.6L232.7 767.9L233.1 761.2L233.5 755L233.9 748.9L234.3 742.7L234.7 738.2L235.1 739.6L235.5 746L235.9 753.6L236.3 761.2L236.7 769.2L237.1 778.1L237.5 787.2L237.9 794.9L238.3 797.9L238.7 799.1L239.1 801.7L239.5 809.1L239.9 818.8L240.3 826.1L240.7 826.8L241.1 825.5L241.5 824.2L241.9 822.8L242.3 821.7L242.7 821.4L243.1 821.5L243.5 821.7L243.9 820.7L244.3 817.3L244.7 813.1L245.1 808.9L245.5 805.7L245.9 805.9L246.3 808.9L246.7 812.4L247.1 815.9L247.5 819.3L247.9 822.1L248.3 823.9L248.7 825.4L249.1 826.3L249.5 824.9L249.9 822L250.3 818.7L250.7 815.4L251.1 812.1L251.5 809.3L251.9 808.4L252.3 810.3L252.7 812.9L253.1 815.5L253.5 817.7L253.9 818.5L254.3 818.7L254.7 818.9L255.1 819L255.5 819.2L255.9 819.4L256.3 820L256.7 820.7L257.1 821.3L257.5 822L257.9 822.7L258.3 823.2L258.7 822.9L259.1 821.2L259.5 819.2L259.9 817.7L260.3 817.6L260.7 818.6L261.1 819.8L261.5 820.9L261.9 822L262.3 822.7L262.7 822.7L263.1 822.6L263.5 822.5L263.9 822.3L264.3 822.2L264.7 822L265.1 821.3L265.5 820.4L265.9 819.3L266.3 818.2L266.7 817.2L267.1 816.1L267.5 815.1L267.9 814.8L268.3 816.9L268.7 819.9L269.1 823L269.5 826L269.9 829L270.3 830.1L270.7 827L271.1 822.5L271.5 818L271.9 813.5L272.3 810.2L272.7 811.4L273.1 815.4L273.5 819.9L273.9 824.5L274.3 829L274.7 833.5L275.1 836.5L275.5 834.6L275.9 830.9L276.3 827.2L276.7 823.5L277.1 820L277.5 818.1L277.9 819.9L278.3 822.7L278.7 824.7L279.1 823.8L279.5 822.1L279.9 820.3L280.3 818.5L280.7 816.7L281.1 815L281.5 813.2L281.9 811.6L282.3 810.7L282.7 810.1L283.1 809.5L283.5 809.4L283.9 811.5L284.3 816.3L284.7 821.8L285.1 827.3L285.5 832.8L285.9 836L286.3 832.9L286.7 827.7L287.1 822.5L287.5 818L287.9 816.2L288.3 816.9L288.7 818.3L289.1 819.7L289.5 821.1L289.9 822.1L290.3 822L290.7 821.1L291.1 820L291.5 819L291.9 817.9L292.3 816.8L292.7 815.9L293.1 815.4L293.5 815.1L293.9 814.7L294.3 814.4L294.7 814.2L295.1 814.5L295.5 815.1L295.9 815.9L296.3 816.7L296.7 817.4L297.1 817.8L297.5 816.8L297.9 815L298.3 813.1L298.7 812L299.1 812.7L299.5 814.1L299.9 815.3L300.3 814.6L300.7 809.4L301.1 802.7L301.5 796.2L301.9 789.9L302.3 783.7L302.7 777.7L303.1 772.1L303.5 767L303.9 765.6L304.3 772.6L304.7 782.3L305.1 792.2L305.5 802.8L305.9 813.9L306.3 825.1L306.7 833.5L307.1 833.1L307.5 829L307.9 824.6L308.3 820.3L308.7 816.6L309.1 815.6L309.5 817L309.9 819L310.3 820.9L310.7 821.2L311.1 817L311.5 811.4L311.9 805.7L312.3 800L312.7 795.3L313.1 794L313.5 795.2L313.9 796.9L314.3 798.5L314.7 800.2L315.1 802.1L315.5 804.4L315.9 807.1L316.3 809.7L316.7 812.4L317.1 815.1L317.5 817.7L317.9 819.8L318.3 820.6L318.7 821L319.1 821.4L319.5 821.7L319.9 821.7L320.3 821.2L320.7 820.7L321.1 820.2L321.5 819.9L321.9 820.9L322.3 824.3L322.7 828.5L323.1 832.7L323.5 835.8L323.9 835.1L324.3 831.9L324.7 828.2L325.1 824.5L325.5 820.8L325.9 817.9L326.3 817.4L326.7 818.1L327.1 818.9L327.5 819.7L327.9 820.5L328.3 821.4L328.7 822.8L329.1 825.4L329.5 828.4L329.9 831.4L330.3 834.4L330.7 836.4L331.1 835.4L331.5 832.3L331.9 828.9L332.3 825.6L332.7 822.2L333.1 819.3L333.5 818L333.9 817.4L334.3 816.9L334.7 816.3L335.1 815.8L335.5 815.3L335.9 815.3L336.3 816.2L336.7 817.4L337.1 818.6L337.5 819.5L337.9 819.4L338.3 818.6L338.7 817.6L339.1 817.2L339.5 818.1L339.9 819.4L340.3 820.7L340.7 822.1L341.1 823.1L341.5 823L341.9 822.1L342.3 821.1L342.7 820.1L343.1 819.2L343.5 818.5L343.9 818.2L344.3 818.1L344.7 817.9L345.1 817.8L345.5 818L345.9 819.8L346.3 823.3L346.7 827.3L347.1 831.3L347.5 835.1L347.9 834.8L348.3 824L348.7 809.7L349.1 796.4L349.5 786.9L349.9 781.4L350.3 777L350.7 772.6L351.1 769.6L351.5 770.9L351.9 773.6L352.3 776.4L352.7 779.1L353.1 782L353.5 786L353.9 792.4L354.3 799.5L354.7 806.4L355.1 810.9L355.5 809.8L355.9 806.9L356.3 804L356.7 801.1L357.1 798.5L357.5 797.6L357.9 799.8L358.3 802.9L358.7 805.9L359.1 809L359.5 812.1L359.9 814.6L360.3 815.2L360.7 813.8L361.1 811.9L361.5 810.1L361.9 808.2L362.3 806.3L362.7 805.2L363.1 806.3L363.5 808.8L363.9 811.5L364.3 814.1L364.7 816.8L365.1 819.4L365.5 821.4L365.9 821.3L366.3 820.7L366.7 820L367.1 819.3L367.5 819L367.9 819.9L368.3 821.7L368.7 823.7L369.1 825.5L369.5 825.7L369.9 822.6L370.3 818.4L370.7 814.3L371.1 810.1L371.5 806.5L371.9 805.6L372.3 808.7L372.7 812.9L373.1 817.1L373.5 820.5L373.9 821.4L374.3 821.1L374.7 821L375.1 821.7L375.5 822L375.9 822L376.3 821.9L376.7 821.6L377.1 821.2L377.5 820.8L377.9 820.1L378.3 818.2L378.7 815.2L379.1 811.9L379.5 808.7L379.9 806.8L380.3 808.7L380.7 811.8L381.1 814.8L381.5 817.6L381.9 819.1L382.3 819.5L382.7 819.7L383.1 819.8L383.5 819.9L383.9 820.1L384.3 820.4L384.7 821.5L385.1 822.9L385.5 824.3L385.9 824.8L386.3 823.7L386.7 822.1L387.1 820.5L387.5 819.4L387.9 819.9L388.3 821.6L388.7 823.4L389.1 825.2L389.5 826.9L389.9 827.5L390.3 826.7L390.7 825.5L391.1 824.3L391.5 823.3L391.9 822.7L392.3 822.4L392.7 822.2L393.1 821.9L393.5 821.6L393.9 821.3L394.3 820.9L394.7 819.9L395.1 818.9L395.5 817.8L395.9 816.7L396.3 815.7L396.7 815.4L397.1 816.2L397.5 817.2L397.9 818.3L398.3 819.3L398.7 820.4L399.1 821.5L399.5 822.2L399.9 821.7L400.3 820.2L400.7 818.5L401.1 816.8L401.5 815.1L401.9 813.3L402.3 811.2L402.7 809L403.1 806.7L403.5 804.4L403.9 802.1L404.3 800.1L404.7 799.3L405.1 799.6L405.5 800.2L405.9 800.8L406.3 801.4L406.7 802.9L407.1 807.5L407.5 813.6L407.9 817.4L408.3 818L408.7 817.8L409.1 817.5L409.5 817.2L409.9 817L410.3 816.6L410.7 816L411.1 815.2L411.5 814.4L411.9 813.5L412.3 812.7L412.7 811.8L413.1 811L413.5 810.4L413.9 810.7L414.3 811.8L414.7 813.1L415.1 814.4L415.5 815.7L415.9 817L416.3 818L416.7 818.5L417.1 818.6L417.5 818.7L417.9 818.8L418.3 818.9L418.7 819L419.1 819L419.5 819.1L419.9 819.2L420.3 819.3L420.7 819.2L421.1 819.1L421.5 819L421.9 818.9L422.3 818.8L422.7 818.7L423.1 818.6L423.5 818.5L423.9 818.2L424.3 817.4L424.7 816.3L425.1 815.3L425.5 814.2L425.9 813.1L426.3 812.1L426.7 811L427.1 810L427.5 809.2L427.9 809.6L428.3 810.2L428.7 810.9L429.1 811.5L429.5 812.2L429.9 812.9L430.3 813.5L430.7 814.2L431.1 814.8L431.5 815.4L431.9 815.9L432.3 816.4L432.7 817L433.1 817.5L433.5 818L433.9 818L434.3 817.2L434.7 816.3L435.1 815.4L435.5 814.5L435.9 813.7L436.3 813.6L436.7 814.3L437.1 815.1L437.5 816L437.9 816.8L438.3 817.6L438.7 818L439.1 817.3L439.5 816.4L439.9 815.5L440.3 814.5L440.7 813.6L441.1 812.7L441.5 811.8L441.9 811.3L442.3 812L442.7 813L443.1 814.1L443.5 815.1L443.9 816.2L444.3 817.2L444.7 818.3L445.1 819.1L445.5 819.4L445.9 819.5L446.3 819.6L446.7 819.7L447.1 819.8L447.5 819.9L447.9 820L448.3 820L448.7 820.1L449.1 820.2L449.5 820.3L449.9 820.4L450.3 820.5L450.7 820.6L451.1 820.7L451.5 820.8L451.9 820.9L452.3 821L452.7 820.8L453.1 819.8L453.5 818.6L453.9 817.4L454.3 816.3L454.7 815.1L455.1 813.9L455.5 812.7L455.9 812.1L456.3 812.7L456.7 813.8L457.1 814.9L457.5 816L457.9 817.1L458.3 818L458.7 818.3L459.1 818.3L459.5 818.2L459.9 818.1L460.3 818L460.7 817.9L461.1 817.8L461.5 817.8L461.9 817.7L462.3 817.5L462.7 817.2L463.1 816.5L463.5 815.8L463.9 815.1L464.3 814.4L464.7 813.7L465.1 813L465.5 812.3L465.9 811.6L466.3 810.7L466.7 809.7L467.1 808.6L467.5 807.5L467.9 806.4L468.3 805.3L468.7 804.2L469.1 803.1L469.5 802.2L469.9 802.2L470.3 803.1L470.7 804.3L471.1 805.5L471.5 806.7L471.9 807.9L472.3 809.1L472.7 810.3L473.1 811.5L473.5 812.7L473.9 813.9L474.3 815.1L474.7 816.3L475.1 817.5L475.5 818.7L475.9 819.8L476.3 820.5L476.7 820.9L477.1 821.3L477.5 821.7L477.9 822L478.3 822.1L478.7 822.1L479.1 822.1L479.5 822.2L479.9 822.2L480.3 822.2L480.7 822.3L481.1 822.3L481.5 822.3L481.9 822.3L482.3 822.4L482.7 822.4L483.1 822.5L483.5 822.5L483.9 822.5L484.3 822.6L484.7 822.6L485.1 822.6L485.5 822.7L485.9 822.7L486.3 822.7L486.7 822.8L487.1 822.8L487.5 822.9L487.9 822.4L488.3 818.9L488.7 809.7L489.1 800.6L489.5 793.9L489.9 788.5L490.3 785.2L490.7 783.4L491.1 781.8L491.5 779.9L491.9 776L492.3 768.6L492.7 760.1L493.1 753L493.5 749.6L493.9 747.3L494.3 745.5L494.7 745.6L495.1 747.6L495.5 750.3L495.9 753.4L496.3 757.3L496.7 761.3L497.1 765.3L497.5 770.2L497.9 778L498.3 787.3L498.7 796.5L499.1 803.7L499.5 807.6L499.9 810.4L500.3 812.7L500.7 813.9L501.1 814.7L501.5 815.5L501.9 816.3L502.3 817.1L502.7 817.8L503.1 818.3L503.5 818.3L503.9 818.2L504.3 818.1L504.7 818L505.1 817.9L505.5 817.8L505.9 817.7L506.3 817.6L506.7 817.3L507.1 817L507.5 816.6L507.9 816.2L508.3 815.9L508.7 815.9L509.1 816L509.5 816.1L509.9 816.2L510.3 816.4L510.7 816.5L511.1 816.2L511.5 815L511.9 813.7L512.3 812.3L512.7 810.9L513.1 809.7L513.5 809.7L513.9 811.4L514.3 813.6L514.7 815.8L515.1 817.8L515.5 819.1L515.9 819.9L516.3 820.8L516.7 821.6L517.1 822.4L517.5 822.8L517.9 822.9L518.3 822.9L518.7 822.9L519.1 822.9L519.5 822.9L519.9 822.9L520.3 822.9L520.7 822.5L521.1 820L521.5 815.3L521.9 810.1L522.3 805.7L522.7 804.2L523.1 803.9L523.5 803.9L523.9 803.8L524.3 804.3L524.7 807.4L525.1 812.9L525.5 816.9L525.9 816.9L526.3 815.7L526.7 814.5L527.1 813.2L527.5 812.1L527.9 811.2L528.3 810.6L528.7 810.1L529.1 809.6L529.5 809.5L529.9 810.4L530.3 811.7L530.7 813.1L531.1 814.5L531.5 815.8L531.9 816.9L532.3 817.6L532.7 818.3L533.1 819L533.5 819.6L533.9 820.3L534.3 820.9L534.7 821.1L535.1 821.1L535.5 821.1L535.9 821.1L536.3 821.1L536.7 821.1L537.1 821.1L537.5 821.1L537.9 821.1L538.3 821.1L538.7 821.1L539.1 821L539.5 820.9L539.9 820.8L540.3 820.6L540.7 820.5L541.1 820.3L541.5 820.2L541.9 820.1L542.3 820L542.7 820.2L543.1 820.6L543.5 821L543.9 821.5L544.3 821.9L544.7 822.4L545.1 822.8L545.5 823L545.9 823.1L546.3 823.1L546.7 823.2L547.1 823.3L547.5 823.4L547.9 823.5L548.3 823.5L548.7 823.6L549.1 823.7L549.5 823.8L549.9 823.7L550.3 823.7L550.7 823.6L551.1 823.5L551.5 823.4L551.9 823.3L552.3 823.2L552.7 823.1L553.1 822.9L553.5 822.6L553.9 822.2L554.3 821.7L554.7 821.3L555.1 820.8L555.5 820.4L555.9 820L556.3 820L556.7 820.2L557.1 820.3L557.5 820.5L557.9 820.6L558.3 820.8L558.7 821L559.1 821.1L559.5 821.3L559.9 821.4L560.3 821.6L560.7 821.7L561.1 821.7L561.5 821.7L561.9 821.8L562.3 821.8L562.7 821.8L563.1 821.9L563.5 821.9L563.9 821.9L564.3 822L564.7 821.9L565.1 821.7L565.5 821.2L565.9 820.5L566.3 819.9L566.7 819.3L567.1 818.7L567.5 818.1L567.9 817.6L568.3 817.1L568.7 816.7L569.1 817L569.5 818L569.9 819.2L570.3 820.4L570.7 821.4L571.1 822L571.5 822.3L571.9 822.5L572.3 822.7L572.7 822.9L573.1 823L573.5 823.2L573.9 823.4L574.3 823.6L574.7 823.7L575.1 823.8L575.5 823.9L575.9 823.9L576.3 823.9L576.7 824L577.1 824L577.5 824L577.9 824.1L578.3 824.1L578.7 824.1L579.1 824.1L579.5 823.9L579.9 823.5L580.3 823.1L580.7 822.6L581.1 822.2L581.5 821.8L581.9 821.3L582.3 820.9L582.7 820.5L583.1 820.2L583.5 820L583.9 819.8L584.3 819.7L584.7 819.5L585.1 819.3L585.5 819.2L585.9 819L586.3 818.9L586.7 819L587.1 819.3L587.5 819.7L587.9 820L588.3 820.3L588.7 820.7L589.1 821L589.5 820.9L589.9 820.7L590.3 820.5L590.7 820.3L591.1 820.1L591.5 819.8L591.9 819.6L592.3 819.3L592.7 818.9L593.1 818.4L593.5 817.8L593.9 817.2L594.3 816.8L594.7 816.7L595.1 817.4L595.5 818.3L595.9 819.2L596.3 820.1L596.7 820.9L597.1 821.1L597.5 821L597.9 821L598.3 820.9L598.7 820.9L599.1 820.8L599.5 820.8L599.9 820.7L600.3 820.7L600.7 820.6" fill="none" stroke="#1e1e1e" stroke-width="0.8" stroke-linejoin="round"/>
</g>
<rect x="141" y="513" width="461.9" height="399.1" fill="none" stroke="#000" stroke-width="1.7"/>
</g>
<g id="ts-c">
<path d="M118.3 1015.5H141M118.3 1059H141M118.3 1102.4H141M118.3 1145.8H141M118.3 1189.3H141M118.3 1232.8H141" stroke="#1a1a1a" stroke-width="1.2" fill="none"/>
<path d="M129.6 1045.9H141M129.6 1038.2H141M129.6 1032.8H141M129.6 1028.6H141M129.6 1025.1H141M129.6 1022.2H141M129.6 1019.7H141M129.6 1017.5H141M129.6 1089.3H141M129.6 1081.7H141M129.6 1076.2H141M129.6 1072H141M129.6 1068.6H141M129.6 1065.7H141M129.6 1063.2H141M129.6 1060.9H141M129.6 1132.8H141M129.6 1125.1H141M129.6 1119.7H141M129.6 1115.5H141M129.6 1112H141M129.6 1109.1H141M129.6 1106.6H141M129.6 1104.4H141M129.6 1176.2H141M129.6 1168.6H141M129.6 1163.1H141M129.6 1158.9H141M129.6 1155.5H141M129.6 1152.6H141M129.6 1150.1H141M129.6 1147.8H141M129.6 1219.7H141M129.6 1212H141M129.6 1206.6H141M129.6 1202.4H141M129.6 1198.9H141M129.6 1196H141M129.6 1193.5H141M129.6 1191.3H141" stroke="#2a2a2a" stroke-width="0.9" fill="none"/>
<text x="112.2" y="1021.9" font-size="22.8" text-anchor="end" fill="#000">1,000</text>
<text x="112.2" y="1066.8" font-size="22.8" text-anchor="end" fill="#000">100</text>
<text x="112.2" y="1110.2" font-size="22.8" text-anchor="end" fill="#000">10</text>
<text x="112.2" y="1153.6" font-size="22.8" text-anchor="end" fill="#000">1</text>
<text x="112.2" y="1197.1" font-size="22.8" text-anchor="end" fill="#000">0.1</text>
<text x="112.2" y="1240.5" font-size="22.8" text-anchor="end" fill="#000">0.01</text>
<path d="M602.9 1415.9H625.2M602.9 1384.8H625.2M602.9 1353.7H625.2M602.9 1322.6H625.2M602.9 1291.5H625.2M602.9 1260.4H625.2M602.9 1229.3H625.2M602.9 1198.2H625.2" stroke="#1a1a1a" stroke-width="1.2" fill="none"/>
<path d="M602.9 1406.5H614.4M602.9 1401.1H614.4M602.9 1397.2H614.4M602.9 1394.2H614.4M602.9 1391.7H614.4M602.9 1389.6H614.4M602.9 1387.8H614.4M602.9 1386.2H614.4M602.9 1375.4H614.4M602.9 1370H614.4M602.9 1366.1H614.4M602.9 1363.1H614.4M602.9 1360.6H614.4M602.9 1358.5H614.4M602.9 1356.7H614.4M602.9 1355.1H614.4M602.9 1344.3H614.4M602.9 1338.9H614.4M602.9 1335H614.4M602.9 1332H614.4M602.9 1329.5H614.4M602.9 1327.4H614.4M602.9 1325.6H614.4M602.9 1324H614.4M602.9 1313.2H614.4M602.9 1307.8H614.4M602.9 1303.9H614.4M602.9 1300.9H614.4M602.9 1298.4H614.4M602.9 1296.3H614.4M602.9 1294.5H614.4M602.9 1292.9H614.4M602.9 1282.1H614.4M602.9 1276.7H614.4M602.9 1272.8H614.4M602.9 1269.8H614.4M602.9 1267.3H614.4M602.9 1265.2H614.4M602.9 1263.4H614.4M602.9 1261.8H614.4M602.9 1251H614.4M602.9 1245.6H614.4M602.9 1241.7H614.4M602.9 1238.7H614.4M602.9 1236.2H614.4M602.9 1234.1H614.4M602.9 1232.3H614.4M602.9 1230.7H614.4M602.9 1219.9H614.4M602.9 1214.5H614.4M602.9 1210.6H614.4M602.9 1207.6H614.4M602.9 1205.1H614.4M602.9 1203H614.4M602.9 1201.2H614.4M602.9 1199.6H614.4" stroke="#2a2a2a" stroke-width="0.9" fill="none"/>
<text x="634.8" y="1423.1" font-size="23.7" text-anchor="start" fill="#000">0.1</text>
<text x="636.3" y="1391.8" font-size="23.7" text-anchor="start" fill="#000">1</text>
<text x="634.9" y="1360.5" font-size="23.7" text-anchor="start" fill="#000">10</text>
<text x="633.4" y="1329.2" font-size="23.7" text-anchor="start" fill="#000">100</text>
<text x="632" y="1297.9" font-size="23.7" text-anchor="start" fill="#000">1,000</text>
<text x="630.5" y="1266.6" font-size="23.7" text-anchor="start" fill="#000">10,000</text>
<text x="629.8" y="1235.3" font-size="23.7" text-anchor="start" fill="#000">100,000</text>
<text x="627.6" y="1204" font-size="23.7" text-anchor="start" fill="#000">1,000,000</text>
<path d="M141.8 1415.9V1435.1M199.4 1415.9V1435.1M257.1 1415.9V1435.1M314.7 1415.9V1435.1M372.4 1415.9V1435.1M430 1415.9V1435.1M487.6 1415.9V1435.1M545.3 1415.9V1435.1M602.9 1415.9V1435.1" stroke="#1a1a1a" stroke-width="1.2" fill="none"/>
<path d="M153.3 1415.9V1425.7M164.9 1415.9V1425.7M176.4 1415.9V1425.7M187.9 1415.9V1425.7M211 1415.9V1425.7M222.5 1415.9V1425.7M234 1415.9V1425.7M245.5 1415.9V1425.7M268.6 1415.9V1425.7M280.1 1415.9V1425.7M291.7 1415.9V1425.7M303.2 1415.9V1425.7M326.2 1415.9V1425.7M337.8 1415.9V1425.7M349.3 1415.9V1425.7M360.8 1415.9V1425.7M383.9 1415.9V1425.7M395.4 1415.9V1425.7M406.9 1415.9V1425.7M418.5 1415.9V1425.7M441.5 1415.9V1425.7M453 1415.9V1425.7M464.6 1415.9V1425.7M476.1 1415.9V1425.7M499.2 1415.9V1425.7M510.7 1415.9V1425.7M522.2 1415.9V1425.7M533.7 1415.9V1425.7M556.8 1415.9V1425.7M568.3 1415.9V1425.7M579.8 1415.9V1425.7M591.4 1415.9V1425.7" stroke="#1a1a1a" stroke-width="1.1" fill="none"/>
<text x="141.8" y="1460.4" font-size="23.4" text-anchor="middle" fill="#000">2</text>
<text x="199.4" y="1460.4" font-size="23.4" text-anchor="middle" fill="#000">2.05</text>
<text x="257.1" y="1460.4" font-size="23.4" text-anchor="middle" fill="#000">2.1</text>
<text x="314.7" y="1460.4" font-size="23.4" text-anchor="middle" fill="#000">2.15</text>
<text x="372.4" y="1460.4" font-size="23.4" text-anchor="middle" fill="#000">2.2</text>
<text x="430" y="1460.4" font-size="23.4" text-anchor="middle" fill="#000">2.25</text>
<text x="487.6" y="1460.4" font-size="23.4" text-anchor="middle" fill="#000">2.3</text>
<text x="545.3" y="1460.4" font-size="23.4" text-anchor="middle" fill="#000">2.35</text>
<text x="602.9" y="1460.4" font-size="23.4" text-anchor="middle" fill="#000">2.4</text>
<text x="288.6" y="1488.3" font-size="26.2" textLength="160.5" lengthAdjust="spacing">Age [kyrs BP]</text>
<text transform="translate(54.5 1124.1) rotate(-90)" font-size="23.4" text-anchor="middle">Zr [ppm]</text>
<text transform="translate(732.6 1304.8) rotate(-90)" font-size="23.4" text-anchor="middle">Si [ppm]</text>
<text x="-0.5" y="1022" font-size="46" font-weight="bold">c</text>
<g clip-path="url(#cts2)">
<path d="M141.8 1203.8L142.9 1196.9L144 1203.5L144.9 1203.5L145.1 1199.4L145.9 1164.1L146.2 1198.7L146.9 1203.1L147.3 1202.6L148.4 1201.6L148.9 1203.6L149.5 1203.1L149.9 1175.8L150.6 1195L150.9 1203.5L151.7 1204.4L151.9 1204.1L152.8 1200L152.9 1179.4L153.7 1203.9L153.9 1191.3L153.9 1203.2L154.7 1179.4L155 1203.5L155.7 1203.6L156.1 1189.7L157.2 1203.6L158.3 1203L159.4 1203.5L160.5 1202.7L161.5 1203.8L161.6 1202.7L162.5 1187.4L162.7 1203.7L163.5 1203.4L163.8 1200.9L164.9 1203.4L166 1198.6L166.8 1203.4L167.1 1203.7L167.8 1176.7L168.2 1201.6L168.8 1204L169.3 1202.6L170.4 1202.9L171.5 1202.9L172.6 1202.8L173.7 1203.6L174.8 1199.7L175.9 1204L177 1204.1L178.1 1203.9L179.2 1204L180.3 1186.4L181.4 1203.7L182.1 1204.1L182.5 1203.9L183.1 1133L183.6 1204.2L184.1 1203.4L184.7 1178.1L185.8 1194.4L186.6 1203.9L186.9 1199.4L187.6 1176.7L188 1193.3L188.6 1203.5L189.1 1201.3L190.2 1203.9L191.3 1203.8L192.4 1203.9L193.5 1204.9L194.6 1202.4L195.7 1204L196.8 1203.8L197.4 1203.6L197.9 1204L198.4 1189.2L199 1203L199.4 1204.4L200.1 1204.4L201.2 1203.8L202.3 1203.3L203.4 1203.3L204.5 1201.6L205.6 1190.4L206.7 1203.1L207.8 1203.5L208.9 1203.2L210 1203L211.1 1196.3L212.2 1203.3L213.3 1203.1L214.4 1202.3L215.5 1203.5L216.6 1202.6L217.7 1202.7L218.8 1203.1L219.8 1204L219.9 1201.9L220.8 1180.3L221 1203.9L221.8 1203.8L222.1 1202.6L223.2 1204.1L224.3 1204.2L225.4 1203.4L226.5 1203.5L227.6 1203.4L227.9 1203.9L228.7 1203.5L228.9 1187.4L229.8 1196.9L229.9 1203.5L230.9 1196.6L232 1203.9L232.1 1203.6L233.1 1167.7L233.1 1193.6L234.1 1203.8L234.2 1184.7L234.6 1203.3L235.3 1203.7L235.6 1133.5L236.4 1184.8L236.6 1203.5L237.5 1204.2L238.6 1204L239.7 1204.4L240.8 1198.3L241.9 1203.6L243 1202.2L244.1 1204.5L245.2 1204.2L246.3 1203.6L247.4 1204.4L248.5 1203.3L249.6 1203.7L250.4 1204.3L250.7 1203.9L251.4 1183.8L251.8 1203.2L252.4 1203.5L252.9 1203.2L254 1195.9L255.1 1203.5L256.2 1203.4L257.3 1203.2L258.4 1202.9L259 1203.6L259.5 1202.9L260 1156.9L260.6 1204.6L261 1204.1L261.5 1204.3L261.7 1191.2L262.5 1165L262.8 1194.5L263.5 1203.6L263.9 1201.9L264.8 1204L265 1188.4L265.8 1165L266.1 1203.6L266.8 1203.2L267.2 1203.2L268.3 1202.7L269.4 1202.4L270.5 1194.1L271.6 1202.5L272.3 1203.2L272.7 1202.5L273.3 1179.7L273.8 1203.8L274.3 1203.6L274.9 1203.8L275.5 1204.2L276 1200.4L276.5 1191.9L277.1 1203.1L277.5 1203.4L278.2 1203L279.3 1203.5L280.4 1203.2L281.5 1202.8L282.6 1203.3L283.7 1203.8L284.8 1203L285.9 1203.4L287 1203.9L288.1 1204.7L289.2 1204.1L290.3 1204.1L290.5 1203.7L291.4 1205L291.5 1191.9L292.5 1203.8L292.5 1203.7L293.6 1203.8L294.7 1204.6L295.8 1202L296.9 1204.4L298 1203L299.1 1204.5L299.8 1203L300.2 1204.5L300.8 1165L301.2 1204L301.3 1204.2L301.8 1203.4L302.2 1160L302.4 1189.1L303.2 1203.9L303.5 1192.6L304.6 1194.7L305.7 1198.4L306.8 1197.9L307.3 1203.6L307.9 1198.7L308.3 1169.5L309 1203.4L309.3 1202.8L310.1 1203.4L311.2 1203.1L312.3 1196.9L313.4 1193.8L314.5 1192.4L314.7 1203.8L315.6 1196.3L315.7 1174.9L316.7 1203.7L316.7 1203.9L317.8 1203.3L318.9 1202L320 1203.4L321 1203L321.1 1186.9L322 1137.5L322.2 1191.4L323 1203.8L323.3 1180.7L324.4 1195.9L325.5 1202.7L326.6 1202.6L327.7 1203.2L328.8 1198.1L329.9 1197.1L331 1203L332.1 1203.5L333 1203.4L333.2 1203.2L334 1178.5L334.3 1200.2L334.5 1204L335 1203.1L335.4 1195.8L335.5 1168.6L336.5 1204.3L336.5 1203.3L336.6 1203.4L337.6 1194.2L337.6 1183.8L338.6 1204L338.7 1203L339.8 1203.2L340.9 1203.7L342 1204.1L343.1 1203.8L344.2 1203.4L345.3 1203.8L346.4 1204.3L347.5 1196.1L347.9 1203.6L348.6 1190.6L348.9 1145.6L349.7 1204.3L349.9 1203.6L350.8 1186.4L351.9 1203.2L353 1203.6L354.1 1204L355.2 1204L356.3 1204L357.4 1203.9L358.5 1204.3L359.6 1203.6L360.7 1192.2L361.8 1198.5L362.7 1203.4L362.9 1203.6L363.7 1066.2L364 1160L364.7 1203.4L365.1 1196.1L366.2 1191.3L367.3 1181.2L367.5 1203.4L368.4 1188.7L368.5 1143.4L369.5 1194.3L369.5 1203.8L370.6 1204.2L371.7 1203L372.8 1204L373.9 1203.9L375 1203.5L376.1 1197.5L377.2 1202.1L377.6 1203.4L378.3 1183.9L378.6 1131.7L379.4 1202.7L379.6 1204L380.5 1195.4L381.6 1202L382.7 1197.4L383.8 1196.1L384.3 1203.5L384.9 1188.7L385.3 1169.5L386 1200.1L386.3 1203.3L387.1 1202.7L388.2 1203.7L389.3 1203.3L390.4 1202.9L391.5 1203.1L392.6 1202.7L393.7 1203.5L394.8 1203.1L395.9 1193.5L396.5 1203.7L397 1177.5L397.5 1085.9L398.1 1203.9L398.5 1204.3L399.2 1200L400.3 1190L401.4 1204.3L402.5 1204.5L403.6 1204L404.7 1203.6L405.8 1204.2L406.9 1203.7L408 1198.6L409.1 1178.1L409.8 1203.9L410.2 1204.4L410.8 1138L411.3 1192.7L411.8 1204.2L412.4 1179.8L413.5 1201L414.6 1195.3L415.7 1203.7L416.8 1204.6L417.9 1203.8L419 1203.7L420.1 1203.7L421.2 1200.5L421.6 1202.9L422.3 1188.2L422.6 1163.5L423.4 1186.1L423.6 1203.3L424.5 1203.2L425.6 1194.2L426.5 1203.2L426.7 1202.8L427.5 1174L427.8 1203.7L428.5 1203.6L428.9 1203.1L430 1202.9L431.1 1194.9L432.2 1186.4L433.3 1203.1L434.4 1203.3L435.5 1192.5L436.6 1198L437.7 1188.7L438.8 1202.5L439.9 1171.7L441 1202L442.1 1203.1L443 1203.6L443.2 1190.1L444 1046.4L444.3 1126L445 1202.9L445.4 1203.2L446.5 1175.2L447.6 1203.6L448.1 1203.4L448.7 1200.1L449.1 1172.2L449.8 1200.8L450.1 1203.7L450.9 1204.2L452 1201.2L453.1 1204.1L454.2 1196L455.2 1204L455.3 1200L456.2 1173.1L456.4 1195.6L457.2 1202.8L457.5 1204.1L458.6 1191.5L459.7 1177.9L460.8 1198.7L461.9 1204.3L461.9 1195L462.9 1171.8L463 1204.6L463.9 1203.4L464.1 1203.9L465.2 1204.5L466.3 1204.2L467.4 1203.9L468.5 1204.4L469.6 1204.8L470.7 1194.7L471.8 1204.4L472.9 1193.2L474 1203.9L475.1 1204.3L476.2 1171.9L477.3 1204.1L477.3 1203.9L478.3 1124.6L478.4 1171.3L479.3 1203.1L479.5 1182.8L480.6 1202.2L481.7 1182.7L482.8 1203.8L483.6 1203.7L483.9 1194.4L484.6 1155.1L485 1186.7L485.6 1204L486.1 1201.3L487.2 1193.3L488.3 1202.9L489.4 1190.4L490.5 1203.2L491.6 1197.1L492.1 1204.1L492.7 1202.4L493.1 1179.4L493.8 1202.8L494.1 1203.6L494.9 1202.7L496 1202.9L497.1 1203.8L497.5 1203L498.2 1204.2L498.5 1180.3L499.3 1203.2L499.5 1204L500.4 1203.3L501.5 1196.1L502.6 1203L503.7 1182.5L504.5 1203.5L504.8 1203.2L505.5 1103.4L505.9 1190.5L506.5 1203.6L507 1203.8L508.1 1199L509.2 1203.8L510.3 1195L511.4 1204.2L511.8 1204.2L512.5 1193.8L512.8 1182.1L513.6 1204.3L513.8 1203L514.7 1198.8L515.8 1204L516.9 1204.3L517.6 1204.6L518 1204.2L518.6 1174.9L519.1 1202.8L519.6 1203.1L520.2 1204.4L521.3 1205.2L522.4 1204.1L523.5 1200.6L524.6 1204.3L525.3 1204L525.7 1204.8L526.3 1189.2L526.8 1203.8L527.3 1204.4L527.9 1203.6L529 1204.6L530.1 1199L530.2 1203.7L531.2 1152.4L531.2 1204.1L532.2 1204.4L532.3 1176.8L533.4 1204.4L534.5 1204L535.6 1193.4L536.7 1203.4L537 1203.2L537.8 1203.3L538 1183.8L538.9 1204.1L539 1204L540 1203.4L541.1 1202.9L542.2 1203L543.3 1200.3L544.4 1203.5L545.5 1197.2L546.6 1202.6L547.2 1203.8L547.7 1200.1L548.2 1148.8L548.8 1203.2L549.2 1203.4L549.9 1186.6L551 1202.8L552.1 1203L553.2 1202.8L554.3 1202.5L555.4 1202.4L556.5 1202.7L557.6 1202.8L558.7 1203.3L559.8 1203.3L560.9 1202.9L562 1203.9L563.1 1202.9L564.2 1204L565.3 1203.1L566.4 1203.5L567.5 1204.1L568.6 1204.2L569.7 1191.6L570.6 1203.9L570.8 1204L571.6 1155.1L571.9 1194L572.6 1203.2L573 1204L574.1 1204.3L575.2 1181.1L575.3 1203.1L576.3 1139.8L576.3 1180.2L577.3 1204.3L577.4 1188.8L577.4 1204.1L578.4 1141.6L578.5 1176.4L579.4 1203.3L579.6 1192.6L580.7 1200L581.8 1204.3L582.9 1195.9L584 1197.8L585.1 1203.9L586.2 1200.7L587.3 1195.2L588.4 1187.2L588.5 1203L589.5 1189.5L589.5 1167.7L590.5 1203.4L590.6 1204.5L591.7 1200.8L592.8 1204.6L593.9 1203.8L595 1203.6L596.1 1203.2L597.2 1202.8L598.3 1203.6L599 1203.4L599.4 1203.3L600 1178.5L600.5 1203.2L601 1204.2" fill="none" stroke="#c9c9c9" stroke-width="1.15" stroke-linejoin="round"/>
<path d="M141.8 1321.2L142.2 1326.4L142.6 1318.7L143 1327.9L143.4 1320.3L143.8 1330.6L144.2 1319.3L144.6 1327.9L145 1320.1L145.4 1332.1L145.8 1321.5L146.2 1331.1L146.6 1319.5L147 1325.6L147.4 1317.7L147.8 1325L148 1322.2L148.2 1318.1L148.3 1341.8L148.6 1326.4L148.9 1341.8L149 1316.4L149.2 1322.2L149.4 1327.6L149.8 1315.8L150.2 1329.2L150.5 1317.2L150.6 1317.8L150.8 1337.3L151 1321.1L151.4 1310.4L151.4 1337.3L151.7 1308.5L151.7 1317.2L151.8 1315.4L152.2 1305.7L152.2 1281.6L152.6 1316.3L152.7 1308.5L153 1305.7L153.4 1314.9L153.8 1304L154.2 1316.9L154.6 1309.2L155 1314.4L155.4 1306.7L155.8 1318.3L156.2 1313.2L156.6 1324.7L157 1317.6L157.4 1329L157.8 1318L158.2 1325.3L158.3 1316.1L158.6 1335L158.6 1316.2L158.9 1305.8L159 1317.2L159.2 1335L159.4 1302.4L159.4 1272.6L159.5 1316.1L159.8 1316.8L159.9 1305.8L160.2 1312.8L160.6 1324.5L161 1298L161.4 1292.8L161.8 1271L162 1263.9L162.2 1271.3L162.5 1251.9L162.6 1257.7L163 1263.9L163 1272L163.4 1272L163.8 1288L164.2 1287.1L164.6 1309.4L165 1304.7L165.4 1325L165.8 1320.8L166.2 1325.9L166.6 1317.8L167 1329.2L167.4 1314.9L167.8 1324.8L168.1 1323.4L168.2 1319.7L168.4 1344.5L168.6 1326.2L169 1320.8L169 1344.5L169.3 1323.4L169.4 1332.6L169.8 1320.7L170.2 1331.4L170.6 1318.6L171 1327.6L171.4 1320.4L171.8 1326.2L172.2 1318.3L172.6 1326.7L173 1317.6L173.1 1322.2L173.4 1330.6L173.6 1305L173.8 1319.4L174.1 1322.2L174.2 1326.4L174.6 1318.9L175 1327.9L175.4 1319.7L175.8 1327.6L176.2 1320.9L176.6 1326.8L177 1318.9L177.1 1322L177.4 1326.1L177.4 1332.8L177.8 1318.1L178 1332.8L178.2 1324.6L178.3 1322L178.6 1315.5L179 1322.9L179.4 1314.9L179.8 1323L180.2 1319.2L180.6 1326.3L181 1317.3L181.4 1328.1L181.8 1312.7L182.2 1312.7L182.3 1295.1L182.6 1295.7L182.8 1275.8L183 1301.9L183.3 1295.1L183.4 1289.4L183.8 1296.9L184.2 1294.1L184.6 1308.4L185 1297.3L185.4 1316L185.8 1312.7L186.2 1322.5L186.6 1310.4L187 1316.7L187.4 1304.8L187.5 1306.7L187.8 1311.1L188 1295.1L188.2 1306.5L188.5 1306.7L188.6 1314.8L189 1311L189.4 1326.6L189.8 1311.1L190.2 1320.6L190.6 1314.1L191 1319.5L191.4 1311.8L191.8 1321.3L192.2 1314L192.6 1324.3L193 1317.1L193.4 1324L193.8 1313.2L194.2 1325.5L194.6 1318.1L194.7 1323.8L195 1326.5L195 1336.4L195.4 1320.9L195.6 1336.4L195.8 1325.5L195.9 1323.8L196.2 1317.9L196.6 1324.5L197 1314.7L197.4 1324.1L197.8 1312.4L198.2 1321.3L198.6 1315.3L199 1325.9L199.4 1313.8L199.8 1325.4L200.2 1314.1L200.6 1323.4L201 1317.9L201.4 1324.9L201.8 1319.1L202.2 1324.5L202.6 1318.2L203 1329.7L203.4 1320.2L203.8 1325.8L204.2 1317.3L204.6 1330.3L205 1320.5L205.4 1328.5L205.5 1322.9L205.8 1317L205.8 1343.6L206.2 1329.7L206.4 1343.6L206.6 1319.9L206.7 1322.9L207 1324.7L207.4 1318.1L207.8 1324.6L208.2 1319.3L208.6 1325.2L209 1319.2L209.4 1330.5L209.8 1320.8L210.2 1329.2L210.6 1320.8L211 1331L211.4 1319.8L211.8 1326.9L212.2 1321.1L212.6 1327.4L213 1322.3L213.4 1332.4L213.8 1320.6L214.2 1327.8L214.6 1320.5L215 1328.4L215.4 1321.1L215.8 1317.8L215.8 1329.3L216.1 1336.4L216.2 1315.6L216.6 1318.8L216.7 1336.4L217 1317.8L217 1305.4L217.4 1314.9L217.8 1306.9L218.2 1313.2L218.6 1310.2L219 1325.6L219.4 1317.2L219.8 1330.4L220.2 1317.3L220.3 1318L220.6 1327.3L220.8 1297.8L221 1314.5L221.3 1318L221.4 1320.5L221.8 1317.3L222.2 1325.5L222.6 1315.6L223 1326.1L223.4 1318.2L223.8 1328.7L224.2 1316.7L224.6 1322.1L225 1310.2L225 1313.2L225.4 1320.1L225.5 1280.7L225.8 1312L226 1313.2L226.2 1327.4L226.6 1318.7L227 1324.1L227.4 1314.3L227.8 1323.2L227.9 1312.9L228.2 1310.4L228.4 1290.6L228.6 1316.4L228.9 1312.9L229 1307.9L229.4 1315L229.8 1306.4L230.2 1317.6L230.6 1308.8L231 1319.2L231.1 1310.3L231.4 1307.7L231.6 1283.4L231.8 1317.1L232.1 1310.3L232.2 1295.9L232.6 1306.2L233 1296.1L233.4 1303.1L233.8 1299.4L234.2 1314.6L234.6 1307L235 1318.6L235.4 1314.7L235.8 1323L236.2 1312.9L236.4 1323.8L236.6 1328.2L236.7 1337.3L237 1319.3L237.3 1337.3L237.4 1316.3L237.6 1323.8L237.8 1298.7L238.2 1295.3L238.6 1278.8L239 1280.5L239.2 1264.5L239.4 1263.6L239.7 1259.1L239.8 1269.5L240.2 1268L240.2 1264.5L240.6 1284.4L241 1286L241.4 1301.2L241.8 1302.2L242.2 1316.6L242.6 1313.6L243 1322.7L243.4 1314.4L243.8 1324.2L244.2 1316L244.6 1322L245 1309.3L245.4 1315.7L245.5 1308.5L245.8 1307.9L246 1288.8L246.2 1318.2L246.5 1308.5L246.6 1308.9L247 1318.3L247.4 1309.3L247.7 1321.1L247.8 1324.7L248 1340.9L248.2 1317.4L248.6 1325.2L248.6 1340.9L248.9 1321.1L249 1315.4L249.4 1328L249.8 1313.6L250.2 1320L250.6 1306.4L251 1314.8L251.4 1301.8L251.8 1311.6L252.2 1296.5L252.3 1299.8L252.6 1301.7L252.8 1271.4L253 1294.8L253.3 1299.8L253.4 1306.8L253.8 1303.3L254.2 1312.7L254.6 1309.5L255 1318.2L255.4 1314.7L255.8 1326.3L256.2 1320L256.6 1330.9L257 1318.5L257.4 1325.7L257.8 1320.1L258.2 1326.2L258.6 1315.7L259 1328L259.4 1320L259.8 1327.5L260.2 1316.9L260.6 1328.5L261 1313.3L261.4 1325.4L261.8 1317.9L262.2 1324.7L262.6 1312L263 1320.4L263 1317L263.3 1340.9L263.4 1314.2L263.8 1322.1L263.9 1340.9L264.2 1313.8L264.2 1317L264.6 1317.9L265 1304.3L265.3 1302.3L265.4 1311.3L265.8 1291.5L265.8 1300.4L266.2 1316.6L266.3 1302.3L266.6 1311.7L267 1323.3L267.4 1320.4L267.8 1327L268.2 1319.9L268.6 1326.6L269 1319.2L269.4 1330.5L269.8 1315.7L270.2 1325.9L270.6 1316.5L271 1326.2L271.4 1319.6L271.8 1326.4L272.2 1319.1L272.6 1325.3L273 1319.1L273.4 1325.6L273.8 1319.8L274.2 1325.4L274.6 1314.2L275 1319.4L275.4 1306.8L275.5 1311.2L275.8 1315.9L276 1296L276.2 1305.9L276.5 1311.2L276.6 1317.5L277 1314.2L277.4 1321.7L277.8 1314.9L278.2 1325.2L278.6 1319.9L279 1325.3L279.4 1316.7L279.5 1323.5L279.8 1328.2L279.8 1345.4L280.2 1319.2L280.4 1345.4L280.6 1325.5L280.7 1323.5L281 1317.7L281.4 1325L281.8 1315.3L282.2 1321.2L282.3 1319.4L282.6 1314.1L282.8 1304.1L283 1323L283.3 1319.4L283.4 1318.1L283.8 1326.5L284.2 1319.8L284.6 1327.4L285 1318.5L285.4 1328.2L285.8 1317.7L286.2 1326.4L286.6 1319.3L287 1326.8L287.4 1319.7L287.8 1325.6L288.2 1320.5L288.6 1326.8L289 1317.7L289.4 1329.4L289.8 1321.3L290.2 1329.6L290.6 1322.9L291 1329.7L291.4 1323.7L291.8 1330L292.2 1321.5L292.6 1329.7L293 1320.3L293 1326.1L293.3 1338.2L293.4 1328.9L293.8 1323.4L293.9 1338.2L294.2 1331.8L294.2 1326.1L294.6 1323.4L295 1328.8L295.4 1322.9L295.8 1332.7L296.2 1324.2L296.6 1329.2L297 1322.1L297.4 1332L297.8 1322.2L298.2 1330.5L298.6 1322.1L299 1329L299.4 1320.6L299.8 1328.4L300.2 1320.1L300.6 1325.4L301 1318.7L301.4 1323.7L301.8 1314.4L302.2 1318.4L302.6 1305.5L303 1318.7L303.4 1314.6L303.4 1311L303.8 1318.5L303.9 1303.2L304.2 1311.4L304.4 1314.6L304.6 1318.8L304.7 1318.6L305 1344.5L305 1315.1L305.4 1324.3L305.6 1344.5L305.8 1317.1L305.9 1318.6L306.2 1325.8L306.6 1318.4L307 1329.2L307.4 1312L307.8 1319.7L308 1306.7L308.2 1306.9L308.5 1298.7L308.6 1310.3L309 1309.3L309 1306.7L309.4 1318.6L309.8 1314.4L310.2 1327.6L310.6 1322L311 1326.9L311.4 1320.6L311.8 1327.7L312.2 1321.3L312.6 1328.9L313 1320.9L313.4 1326.5L313.8 1313.1L314.2 1321.8L314.6 1312.5L315 1320.9L315.4 1303.7L315.6 1304.1L315.8 1314.1L316.1 1295.1L316.2 1303.7L316.6 1304.1L316.6 1318.1L317 1312.7L317.3 1327.4L317.4 1325L317.6 1340.9L317.8 1324.4L318.2 1340.9L318.2 1330.8L318.5 1327.4L318.6 1323.2L319 1331.5L319.4 1322L319.8 1332.5L320.2 1316L320.6 1330.9L321 1313.2L321.4 1320.2L321.8 1311.9L322.2 1317.3L322.4 1306.2L322.6 1306L322.9 1301.4L323 1312.4L323.4 1306.2L323.4 1306.5L323.8 1315.1L324.2 1313L324.6 1320.7L325 1316.1L325.4 1325.5L325.8 1320.5L326.2 1330.6L326.6 1322.7L327 1331.2L327.1 1326.9L327.4 1322.8L327.4 1340.9L327.8 1330L328 1340.9L328.2 1323.9L328.3 1326.9L328.6 1334.8L329 1324.5L329.4 1335.2L329.8 1322.4L330.2 1330.9L330.6 1325.2L330.7 1328.8L331 1331.8L331 1340.9L331.4 1325.1L331.6 1340.9L331.8 1333.2L331.9 1328.8L332.2 1322.1L332.6 1332.4L333 1323.4L333.4 1327.8L333.8 1313.4L334.2 1331.9L334.6 1318.7L335 1328.3L335.4 1314.1L335.8 1325.1L336.2 1319.5L336.6 1329.5L337 1316.7L337.4 1321.9L337.8 1312.4L338 1311.2L338.2 1317.5L338.5 1297.8L338.6 1307.7L339 1316.9L339 1311.2L339.4 1309.1L339.8 1321.9L340.2 1313.4L340.6 1320.7L341 1316.4L341.4 1326.4L341.8 1317.7L342.2 1331.2L342.4 1326.7L342.6 1319.8L342.7 1337.3L343 1333.3L343.3 1337.3L343.4 1323.6L343.6 1326.7L343.8 1332.9L344.2 1323.7L344.6 1330.4L345 1322.3L345.4 1327.8L345.8 1320.4L346.2 1328.8L346.6 1313.4L347 1320.7L347.4 1313L347.8 1314.9L348.2 1287.1L348.6 1279L349 1262.7L349.2 1254.6L349.4 1263.6L349.7 1249.3L349.8 1252.5L350.2 1254.6L350.2 1266.2L350.6 1267.4L351 1287.1L351.4 1293L351.8 1316.7L352.2 1314L352.6 1327.1L353 1316.4L353.4 1325.7L353.8 1320L354.1 1325.6L354.2 1327.1L354.4 1349L354.6 1319.2L355 1349L355 1329L355.3 1325.6L355.4 1321.2L355.8 1336L356.2 1324.9L356.6 1334.8L357 1326L357.4 1331.4L357.8 1319.2L358.2 1329.1L358.6 1312.1L359 1318.6L359.4 1309.3L359.8 1316L360.2 1302.9L360.6 1316.2L361 1307.8L361.4 1314.9L361.8 1306.8L362.2 1311.5L362.6 1295.7L363 1295.1L363.4 1281L363.8 1280.9L364.2 1268.4L364.6 1272.6L365 1270.4L365.4 1280.3L365.8 1275.7L366.2 1285.6L366.6 1281.2L367 1291.3L367.4 1282.3L367.8 1280.8L368 1254.6L368.2 1258L368.5 1235.8L368.6 1256.5L369 1240.5L369 1254.6L369.4 1261L369.8 1269.9L370.2 1293L370.6 1301.8L371 1326L371.4 1320L371.8 1326L372.2 1320.9L372.6 1330.1L373 1322.7L373.4 1327.5L373.8 1319.1L374.2 1328.6L374.6 1321.7L375 1328.8L375.4 1314L375.8 1320L376.2 1312.3L376.6 1322.9L377 1310.5L377.4 1313.8L377.8 1302.2L378.1 1297.8L378.2 1308L378.6 1293.8L378.6 1287.9L379 1304.9L379.1 1297.8L379.4 1303.7L379.8 1314.7L380.2 1308.2L380.6 1322.2L381 1311.7L381.4 1317.4L381.8 1306.3L382.2 1316.3L382.6 1305.6L383 1319L383.4 1312.6L383.8 1323.7L384.2 1313.1L384.6 1313.9L385 1297.9L385.3 1289.7L385.4 1304.9L385.8 1280.8L385.8 1266.3L386.2 1299.8L386.3 1289.7L386.6 1297.4L387 1313.8L387.4 1315L387.8 1326.6L388.2 1317.1L388.6 1326.5L389 1320.9L389.4 1328.6L389.8 1320.9L390.2 1328.6L390.6 1321.7L391 1326.2L391.4 1319.2L391.8 1325.1L391.9 1318.4L392.2 1335.5L392.2 1315.3L392.6 1321.6L392.8 1335.5L393 1316.3L393.1 1318.4L393.4 1323.6L393.8 1316.7L394.2 1326.7L394.6 1315.5L395 1319.9L395.4 1307.6L395.8 1315L396.2 1303.8L396.6 1302.5L397 1289.1L397.4 1283.6L397.5 1263.6L397.8 1267.6L398 1256.4L398.2 1271.4L398.5 1263.6L398.6 1276.1L399 1293.5L399.4 1297.9L399.8 1313.5L400.2 1315.3L400.6 1323.5L401 1310.3L401.4 1316.3L401.8 1308.7L402.2 1313.8L402.6 1307.9L403 1317L403.4 1311.6L403.8 1320L404.2 1315.5L404.6 1322L405 1314.2L405.4 1318.6L405.8 1310.5L406.2 1319.4L406.6 1314.2L407 1325.6L407.4 1319.2L407.8 1324.7L408.2 1316.3L408.6 1320.6L408.9 1312.5L409 1309.6L409.2 1340.9L409.4 1316.2L409.8 1305.2L409.8 1340.9L410.1 1312.5L410.2 1313.6L410.6 1300.8L411 1306.9L411.2 1298.7L411.4 1297.9L411.7 1278.9L411.8 1303.4L412.2 1298.7L412.2 1300.3L412.6 1311.8L413 1306.5L413.4 1325.4L413.8 1318.6L414.2 1327L414.6 1319.3L415 1324.7L415.4 1317.1L415.8 1322.8L416.2 1309.3L416.6 1314.2L417 1301.3L417.4 1305.1L417.8 1305.3L418.2 1319.5L418.6 1314.6L418.8 1320.4L419 1325.9L419.1 1336.4L419.4 1316.3L419.7 1336.4L419.8 1323.8L420 1320.4L420.2 1313.8L420.6 1321.4L421 1310.1L421.4 1315.8L421.8 1305.6L422.2 1307.7L422.6 1295.3L422.7 1293.6L423 1301.3L423.2 1283.4L423.4 1289.1L423.7 1293.6L423.8 1303.2L424.2 1298.1L424.6 1306.7L425 1301.3L425.4 1313.3L425.8 1303.6L426.2 1308.5L426.6 1301.5L427 1306.5L427.4 1294.6L427.8 1294.6L428.2 1280.7L428.6 1282.3L429 1273.7L429.3 1270.8L429.4 1276.4L429.8 1267L429.8 1266.3L430.2 1282.9L430.3 1270.8L430.6 1286.1L431 1302.3L431.4 1302.6L431.8 1315.3L432.2 1315.7L432.6 1331.3L433 1321.1L433.4 1326.9L433.8 1320.8L434.2 1328L434.6 1321L435 1328.9L435.4 1322L435.8 1328.9L436.2 1322L436.6 1328.3L437 1320.2L437.4 1327.8L437.7 1323.2L437.8 1319.5L438 1346.3L438.2 1327.9L438.6 1346.3L438.6 1315.2L438.9 1323.2L439 1323.3L439.4 1311.2L439.8 1313L440.2 1302.5L440.6 1306.3L441 1297.7L441.4 1302.1L441.8 1292.7L442.2 1288.9L442.6 1269.9L443 1266L443.4 1242.6L443.8 1236.1L444.2 1214.9L444.6 1219.1L445 1205.9L445.4 1215.3L445.8 1214L446.2 1226.6L446.6 1233.2L447 1259.9L447.4 1270.4L447.8 1291.3L448.2 1294L448.6 1312L449 1315.4L449.4 1324.4L449.8 1313.8L450.2 1318.2L450.6 1306.8L451 1315.9L451.4 1303.2L451.8 1312.6L452.2 1302.1L452.6 1310.5L453 1302.3L453.4 1312.7L453.8 1308.5L454.2 1318.6L454.6 1315.6L455 1326.2L455.4 1317.1L455.8 1326.6L456.2 1315.7L456.6 1326.1L456.9 1319.7L457 1317.6L457.2 1343.6L457.4 1323.7L457.8 1343.6L457.8 1313.3L458.1 1319.7L458.2 1323.4L458.6 1311.3L459 1321.5L459.4 1311.1L459.8 1321.7L460.2 1311.6L460.6 1321.3L461 1315.6L461.4 1322.3L461.8 1309.4L462.2 1314.5L462.6 1300L462.9 1291.5L463 1301.8L463.4 1286.6L463.4 1279.8L463.8 1298.5L463.9 1291.5L464.2 1292.9L464.6 1308L465 1298L465.4 1311.8L465.8 1303.5L466.2 1319.1L466.6 1309.1L467 1321.3L467.4 1318.4L467.8 1326.5L468.2 1316.1L468.6 1325.4L469 1318.2L469.4 1326.9L469.8 1321.2L470.2 1318.9L470.6 1304.4L471 1300L471.4 1286.5L471.8 1291.9L472.2 1281.4L472.6 1289.7L473 1286.1L473.4 1306L473.8 1305L474.2 1309.3L474.6 1300.1L475 1301.6L475.4 1284.4L475.8 1284.3L476.2 1263.4L476.6 1255.6L477 1234L477.4 1229.8L477.8 1214.4L478.2 1218.9L478.6 1208.8L479 1225L479.4 1230.3L479.8 1260.2L480.2 1267.3L480.6 1291.3L481 1295.8L481.4 1316.9L481.8 1322.4L482.2 1323.5L482.6 1304.7L483 1301.6L483.4 1291.7L483.8 1303.8L484.2 1294.8L484.6 1313.6L485 1307.3L485.4 1315.8L485.8 1307.9L486.2 1323.8L486.6 1315.6L487 1330.3L487.4 1318.5L487.8 1326.4L488.2 1321.8L488.6 1329.6L489 1322.1L489.4 1329.8L489.8 1322.1L490.2 1328.2L490.6 1317.7L491 1321.5L491.4 1306.8L491.8 1316.3L492.2 1307.2L492.6 1319.3L493 1309.9L493.4 1320.9L493.8 1309.7L494.2 1313.6L494.6 1299.2L495 1313.9L495.4 1307.5L495.8 1327L496.2 1320.2L496.6 1329.8L497 1319.2L497.4 1325.1L497.8 1319.2L498.2 1326.7L498.6 1315.5L499 1323.7L499.4 1316.5L499.8 1323.3L500.2 1315.5L500.6 1322.9L501 1312.1L501.4 1314.1L501.8 1300.4L502.2 1303.4L502.6 1290.4L503 1304.6L503.4 1300.2L503.8 1314.6L504.2 1314.8L504.6 1318L505 1293.4L505.4 1290.4L505.5 1266.9L505.8 1264.9L506 1248.4L506.2 1271.6L506.5 1266.9L506.6 1253.4L507 1268.4L507.4 1274.3L507.8 1294L508.2 1296.1L508.6 1312.6L509 1303.7L509.4 1318.2L509.5 1322.9L509.8 1314.3L509.8 1340L510.2 1328.2L510.4 1340L510.6 1311.2L510.7 1322.9L511 1314L511.4 1302.3L511.8 1307.1L512.2 1295.5L512.6 1307.6L513 1305.2L513.4 1315.5L513.8 1301L514.2 1306.8L514.6 1291.5L515 1308.8L515.4 1304.2L515.8 1319.9L516.2 1310.7L516.6 1320.4L517 1315.5L517.4 1328.4L517.6 1323.8L517.8 1319.3L517.9 1333.7L518.2 1329.4L518.5 1333.7L518.6 1314.2L518.8 1323.8L519 1319.8L519.4 1307.8L519.8 1313.9L520.2 1307.9L520.6 1319.7L521 1312.5L521.4 1324.2L521.8 1313.6L522.2 1324.9L522.6 1313.6L523 1322.1L523.4 1313L523.6 1320.6L523.8 1322.5L523.9 1341.8L524.2 1316.2L524.5 1341.8L524.6 1326.7L524.8 1320.6L525 1320.6L525.4 1331.4L525.8 1319.3L526.2 1320.3L526.6 1307.2L527 1319.3L527.4 1310.7L527.8 1321.1L528.2 1312.3L528.6 1328L529 1317.1L529.4 1321.7L529.8 1313.3L530.2 1309L530.6 1278.3L530.8 1268.6L531 1271.9L531.3 1261.8L531.4 1265.7L531.8 1275.8L531.8 1268.6L532.2 1272.2L532.6 1290.4L533 1289.4L533.4 1304.9L533.8 1299.3L534.2 1310.4L534.6 1304.6L535 1315.3L535.4 1303.9L535.8 1310.1L536.2 1292.7L536.6 1305.1L537 1301.8L537.4 1310.1L537.8 1309.2L538.2 1323.7L538.3 1328.8L538.6 1340L538.6 1319.6L539 1339.6L539.2 1340L539.4 1323.9L539.5 1328.8L539.8 1333.2L540.2 1323.1L540.6 1332.8L541 1324.2L541.4 1330.9L541.8 1322.1L541.9 1326.5L542.2 1363.3L542.2 1330.2L542.6 1324.4L542.8 1363.3L543 1341.5L543.1 1326.5L543.4 1322.5L543.8 1336.6L544.2 1324.9L544.6 1343.1L545 1326.5L545.4 1333.3L545.8 1326L546.2 1343.2L546.6 1326.5L547 1341.5L547.4 1320.3L547.8 1325.8L548.2 1312.1L548.6 1315.6L549 1301.9L549.4 1313.5L549.8 1308.3L550.2 1322L550.6 1313.6L551 1316.3L551.4 1302.6L551.8 1309.5L552.2 1295.3L552.6 1301.8L552.8 1297.6L553 1293.6L553.3 1280.7L553.4 1304.6L553.8 1297.6L553.8 1296L554.2 1305.4L554.6 1302.8L555 1312L555.4 1310.1L555.8 1335.1L556.2 1320L556.6 1336L557 1328.1L557.1 1330.5L557.4 1334.6L557.4 1349L557.8 1327.3L558 1349L558.2 1334.5L558.3 1330.5L558.6 1326.9L559 1332.2L559.4 1318.5L559.8 1334.1L560.2 1311.8L560.6 1318.7L561 1309.7L561.4 1323.4L561.8 1318.5L562.2 1332.5L562.6 1325.8L563 1340.1L563.4 1327.2L563.8 1330.4L563.8 1345.2L564.1 1354.4L564.2 1325.1L564.6 1337.5L564.7 1354.4L565 1330.4L565 1323.7L565.4 1330.9L565.8 1319.2L566.2 1333.8L566.6 1316.1L567 1327.4L567.1 1320L567.4 1315.2L567.6 1287.9L567.8 1329.9L568.1 1320L568.2 1319.9L568.6 1330.4L569 1324.7L569.4 1336.3L569.8 1324.2L570.2 1333.5L570.6 1327.4L570.6 1329.2L570.9 1353.5L571 1342.7L571.4 1324.3L571.5 1353.5L571.8 1332.8L571.8 1329.2L572.2 1319.8L572.6 1332.1L573 1316.5L573.4 1321.6L573.8 1307.9L574.2 1316.7L574.6 1301.1L575 1308.5L575.4 1291L575.8 1303L576.2 1289.6L576.6 1302.5L577 1285.7L577.4 1299.2L577.8 1283.6L578.2 1294.3L578.6 1276.8L578.8 1281.3L579 1283.5L579.3 1270.8L579.4 1277.6L579.6 1302.2L579.8 1297.3L579.8 1281.3L579.9 1342.7L580.2 1299.3L580.5 1342.7L580.6 1310.3L580.8 1302.2L581 1305.2L581.4 1318.6L581.8 1313L582.2 1330.8L582.6 1315.9L583 1335L583.4 1319.4L583.8 1325.8L584.2 1318.9L584.6 1328.9L585 1322.5L585.4 1336.7L585.8 1324.2L586.2 1337.1L586.3 1328L586.6 1389.4L586.6 1324.9L587 1337.5L587.2 1389.4L587.4 1325.4L587.5 1328L587.7 1328.3L587.8 1339L588 1358.8L588.2 1322.8L588.6 1358.8L588.6 1329L588.9 1328.3L589 1319.2L589.4 1326.3L589.8 1313.3L590.2 1326.7L590.6 1306.3L591 1316.1L591.4 1308L591.8 1318.5L592.2 1315.3L592.6 1326.9L593 1317.8L593.4 1325.3L593.8 1312.8L594.1 1311.2L594.2 1318.6L594.6 1287.9L594.6 1305.7L595 1328.4L595.1 1311.2L595.4 1312L595.8 1324.1L596.2 1315.8L596.6 1326.4L597 1322.2L597.4 1333.6L597.6 1328.2L597.8 1324.3L597.9 1352.6L598.2 1342.7L598.5 1352.6L598.6 1326L598.8 1328.2L599 1333.4L599.4 1325.1L599.8 1332.1L600.2 1321.9L600.6 1328L601 1320.7L601.4 1331.7L601.8 1318.4" fill="none" stroke="#c9c9c9" stroke-width="1.15" stroke-linejoin="round"/>
<rect x="354.7" y="1016.2" width="17.9" height="399" fill="url(#gG)" style="mix-blend-mode:multiply"/>
<rect x="391.8" y="1016.2" width="17.4" height="399" fill="url(#gG)" style="mix-blend-mode:multiply"/>
<rect x="437.2" y="1016.2" width="18.2" height="399" fill="url(#gG)" style="mix-blend-mode:multiply"/>
<rect x="470.5" y="1016.2" width="14.5" height="399" fill="url(#gO)" style="mix-blend-mode:multiply"/>
<path d="M149 1191L150.8 1193.7L153.5 1194.6L157.1 1199.1L159.8 1197.7L162.5 1198.2L163 1195.2L166.9 1195.5L168.7 1198.2L173.2 1199.5L176.8 1199.1L177.7 1202.7L179.5 1188.3L181 1173.1L182.2 1170.4L183.7 1164.1L184.9 1183L186 1195.5L187.3 1189.2L189.4 1195.5L193 1197.3L196.6 1201.8L200.2 1201.5L205.6 1203.1L216.4 1203.3L219.1 1198.2L220.8 1197.3L224.4 1199.1L227.1 1200L230.7 1195.5L233.1 1188.3L233.8 1175.4L236.1 1177.2L239.2 1177.6L239.9 1195.5L242.4 1198.2L246 1199.1L251 1197.7L252.3 1197.3L252.8 1189.2L256.8 1191L260 1188.3L262.2 1188.3L264 1183.8L265.4 1180.8L266.3 1184.7L267.2 1197.3L270.3 1199.1L274.7 1199.5L277.4 1202.7L281.9 1204.2L289.1 1203.3L295.9 1203.3L296.7 1197.3L299.5 1196.4L300.3 1189.2L302.6 1189.2L304.9 1191L307.1 1194.6L309.8 1194.6L312.8 1191.9L315.2 1192.8L317.9 1194.6L319.7 1199.1L321.1 1175.8L322.4 1171.8L323.6 1183L325.1 1197.3L327.7 1201.8L328.6 1198.2L333.1 1197.3L333.7 1191.9L335.8 1189.2L337.6 1191.9L338.5 1197.3L341.2 1198.2L343 1201.8L345.7 1201.8L347 1186.9L351.6 1186.9L353.4 1202.7L360.1 1203.6L361 1174L362.4 1150.6L363.7 1103L364.6 1136.2L366 1157.8L366.9 1164.1L368.2 1161.4L369.6 1175.8L370.9 1198.2L373.6 1198.8L375 1204.5L375 1204.5L376.8 1179.4L378.1 1167.7L379.3 1179.4L380.4 1193.7L382.9 1193.7L384 1188.3L385.3 1185.1L386.5 1193.7L388 1198.2L391.6 1199.1L393.4 1204.5L395.5 1204.2L396.6 1150.6L397.3 1128.7L398.4 1161.4L399.1 1176.7L400.9 1179.4L402.3 1198.2L407.4 1198.2L408.4 1179.7L413.1 1179.7L414.6 1197.3L417.1 1201.8L419.4 1200.9L421.2 1196.4L423 1180.3L424.3 1190.1L426.6 1193.7L428.9 1195.2L431.1 1195.2L431.6 1186.9L437.9 1186.2L438.6 1173.1L441 1169.5L442.2 1177.6L443.3 1071.6L444.6 1059.3L445.5 1071.6L446.9 1186.5L449.1 1191L451.7 1193.7L455.3 1195.9L456.2 1194.6L461.3 1194.6L462.2 1192.3L463.4 1197.3L467 1199.1L470.3 1199.5L471.7 1190.1L472.8 1162.3L477.8 1161.4L480 1158.2L481.8 1159.2L483.5 1166.8L485 1183L486.8 1190.1L490 1196.4L493.1 1199.5L496.7 1198.2L500.3 1197.3L502.6 1191.9L503.8 1161.4L505.5 1140.2L506.5 1175.8L508.3 1189.2L511 1194.6L513.7 1194.1L516.4 1197.3L520.9 1197.7L522.7 1201.8L526.3 1200L528.5 1191.9L529.9 1175.8L531 1165L532.6 1181.2L534.4 1189.2L536.7 1191.9L537.4 1199.5L541.6 1199.5L542.8 1186.5L544.3 1179.4L547.9 1177.6L549.3 1173.6L550.6 1179.4L552.4 1188.3L553.6 1199.1L557.7 1204.2L561.3 1204.2L565.8 1203.1L567.6 1202.4L568.5 1185.6L572.7 1182.6L573.9 1189.2L575.7 1166.8L577 1163.5L578.4 1172.2L580.2 1191.9L582.9 1194.6L585.6 1189.2L589.2 1187.4L590.6 1193.7L592.8 1199.5L595.5 1200.6L600.9 1199.1" fill="none" stroke="#1e1e1e" stroke-width="0.8" stroke-linejoin="round"/>
<path d="M142.2 1323.5L142.6 1323.5L143 1323.5L143.4 1323.6L143.8 1323.6L144.2 1323.7L144.6 1323.7L145 1323.8L145.4 1323.8L145.8 1323.6L146.2 1323.3L146.6 1323L147 1322.8L147.4 1322.5L147.8 1322.3L148.2 1322.1L148.6 1322.2L149 1322.4L149.4 1322.5L149.8 1322.7L150.2 1322.6L150.6 1321.4L151 1318.6L151.4 1315.4L151.8 1312.2L152.2 1309.7L152.6 1309.5L153 1310.4L153.4 1311.4L153.8 1312.3L154.2 1312.5L154.6 1311.9L155 1311.1L155.4 1311.3L155.8 1313L156.2 1315.2L156.6 1317.4L157 1319.4L157.4 1320.7L157.8 1321.5L158.2 1322.1L158.6 1320.5L159 1314.4L159.4 1309.3L159.8 1312.4L160.2 1318.1L160.6 1317.6L161 1304.6L161.4 1288.6L161.8 1276.7L162.2 1269L162.6 1264.5L163 1267.4L163.4 1274.3L163.8 1282L164.2 1290.7L164.6 1300.1L165 1309.6L165.4 1318L165.8 1322.1L166.2 1322.7L166.6 1322.5L167 1322.4L167.4 1322.2L167.8 1322.2L168.2 1322.5L168.6 1323.1L169 1323.7L169.4 1324.2L169.8 1324.5L170.2 1324.4L170.6 1324.2L171 1324L171.4 1323.8L171.8 1323.6L172.2 1323.3L172.6 1323L173 1322.7L173.4 1322.4L173.8 1322.2L174.2 1322.7L174.6 1323.4L175 1324.1L175.4 1324.7L175.8 1324.8L176.2 1324.4L176.6 1323.8L177 1323.2L177.4 1322.6L177.8 1321.8L178.2 1320.4L178.6 1318.9L179 1317.7L179.4 1317.9L179.8 1319.6L180.2 1321.4L180.6 1322.1L181 1321.3L181.4 1320L181.8 1317.4L182.2 1310.3L182.6 1301.2L183 1295.2L183.4 1293L183.8 1293.3L184.2 1296.5L184.6 1300.5L185 1304.7L185.4 1309.3L185.8 1313.2L186.2 1314.2L186.6 1313.8L187 1312.9L187.4 1310.9L187.8 1308.8L188.2 1308.9L188.6 1311.5L189 1314.8L189.4 1317.4L189.8 1318L190.2 1317.7L190.6 1317.3L191 1317L191.4 1317L191.8 1317.5L192.2 1318.1L192.6 1318.7L193 1319.3L193.4 1320L193.8 1320.7L194.2 1321.5L194.6 1322.3L195 1323L195.4 1323.4L195.8 1322.6L196.2 1321.4L196.6 1320.3L197 1319.1L197.4 1318.1L197.8 1317.9L198.2 1318.2L198.6 1318.6L199 1319L199.4 1319.4L199.8 1319.8L200.2 1320.2L200.6 1320.5L201 1320.8L201.4 1321.1L201.8 1321.4L202.2 1321.7L202.6 1322L203 1322.2L203.4 1322.4L203.8 1322.6L204.2 1322.8L204.6 1323L205 1323.2L205.4 1323.3L205.8 1323.2L206.2 1322.9L206.6 1322.5L207 1322.1L207.4 1321.7L207.8 1321.4L208.2 1321.4L208.6 1321.7L209 1322L209.4 1322.4L209.8 1322.7L210.2 1323.1L210.6 1323.5L211 1323.8L211.4 1324L211.8 1324.1L212.2 1324.3L212.6 1324.5L213 1324.6L213.4 1324.8L213.8 1324.9L214.2 1325.1L214.6 1325.3L215 1325.4L215.4 1325L215.8 1322.8L216.2 1319.5L216.6 1316.1L217 1313.3L217.4 1311.7L217.8 1310.6L218.2 1310.4L218.6 1313.2L219 1317L219.4 1320.3L219.8 1321.7L220.2 1320.7L220.6 1319.2L221 1317.9L221.4 1318L221.8 1319.8L222.2 1321.9L222.6 1322.9L223 1323.3L223.4 1323.5L223.8 1323.5L224.2 1322.4L224.6 1319.1L225 1315.1L225.4 1313L225.8 1315.7L226.2 1320L226.6 1322.9L227 1321.6L227.4 1318.6L227.8 1315.5L228.2 1313.4L228.6 1312.8L229 1312.6L229.4 1312.4L229.8 1312.1L230.2 1311.8L230.6 1311.4L231 1311L231.4 1310.4L231.8 1308.8L232.2 1305.7L232.6 1302.2L233 1299.7L233.4 1300.3L233.8 1303L234.2 1306.3L234.6 1310.7L235 1315.1L235.4 1318.4L235.8 1320L236.2 1321.2L236.6 1322.4L237 1321.6L237.4 1314.2L237.8 1303.5L238.2 1292.8L238.6 1283.4L239 1276.4L239.4 1270.4L239.8 1267.8L240.2 1272.7L240.6 1280.2L241 1287.8L241.4 1296.1L241.8 1304.6L242.2 1312.5L242.6 1317.6L243 1319.2L243.4 1319.8L243.8 1320.4L244.2 1320.4L244.6 1318.6L245 1315.9L245.4 1313.1L245.8 1310.7L246.2 1310.3L246.6 1312.4L247 1315.1L247.4 1317.6L247.8 1319.3L248.2 1320.6L248.6 1321.8L249 1322.7L249.4 1322.1L249.8 1319.1L250.2 1315.5L250.6 1311.9L251 1308.6L251.4 1305.9L251.8 1303.6L252.2 1301.4L252.6 1299.9L253 1300.8L253.4 1303.1L253.8 1305.6L254.2 1308.4L254.6 1311.6L255 1315L255.4 1318.4L255.8 1321.4L256.2 1322.6L256.6 1322.7L257 1322.5L257.4 1322.4L257.8 1322.2L258.2 1322.1L258.6 1322.1L259 1322.3L259.4 1322.4L259.8 1322.6L260.2 1322.7L260.6 1322.7L261 1322.2L261.4 1321.2L261.8 1320.2L262.2 1319.1L262.6 1318L263 1317.1L263.4 1316.9L263.8 1317.1L264.2 1316.9L264.6 1314.7L265 1310.8L265.4 1306.6L265.8 1304.3L266.2 1307.9L266.6 1313.6L267 1318.9L267.4 1322.1L267.8 1322.8L268.2 1322.6L268.6 1322.5L269 1322.4L269.4 1322.3L269.8 1322.2L270.2 1322.1L270.6 1322.1L271 1322.2L271.4 1322.3L271.8 1322.4L272.2 1322.5L272.6 1322.6L273 1322.7L273.4 1322.8L273.8 1322.5L274.2 1321.2L274.6 1319.1L275 1316.9L275.4 1314.8L275.8 1312.9L276.2 1312.6L276.6 1314.2L277 1316.4L277.4 1318.6L277.8 1320.6L278.2 1321.9L278.6 1322.4L279 1322.7L279.4 1322.9L279.8 1323.2L280.2 1323.1L280.6 1322.3L281 1321.2L281.4 1320.1L281.8 1319L282.2 1318.2L282.6 1318.6L283 1319.8L283.4 1321.2L283.8 1322.6L284.2 1323.5L284.6 1323.6L285 1323.3L285.4 1323.1L285.8 1322.9L286.2 1322.7L286.6 1322.4L287 1322.2L287.4 1322.2L287.8 1322.6L288.2 1323.1L288.6 1323.6L289 1324.1L289.4 1324.6L289.8 1325.1L290.2 1325.6L290.6 1326L291 1326.4L291.4 1326.4L291.8 1326.4L292.2 1326.3L292.6 1326.3L293 1326.2L293.4 1326.1L293.8 1326.1L294.2 1326L294.6 1326L295 1326L295.4 1326.1L295.8 1326.2L296.2 1326.2L296.6 1326.3L297 1326.3L297.4 1326.4L297.8 1326.4L298.2 1326.3L298.6 1325.8L299 1325.1L299.4 1324.4L299.8 1323.8L300.2 1323.1L300.6 1322.3L301 1321.2L301.4 1319.5L301.8 1317.7L302.2 1315.9L302.6 1314.5L303 1314.2L303.4 1314.3L303.8 1314.5L304.2 1314.8L304.6 1315.7L305 1317.2L305.4 1318.9L305.8 1320.6L306.2 1322.3L306.6 1323.3L307 1321.9L307.4 1318.4L307.8 1314.4L308.2 1310.6L308.6 1308.6L309 1311.3L309.4 1315.5L309.8 1319.7L310.2 1323L310.6 1324L311 1324.1L311.4 1324.3L311.8 1324.4L312.2 1324.5L312.6 1324.2L313 1323L313.4 1321.6L313.8 1320.2L314.2 1318.6L314.6 1316.1L315 1313L315.4 1309.8L315.8 1306.9L316.2 1306.5L316.6 1310.4L317 1315.6L317.4 1320.8L317.8 1325.1L318.2 1326.6L318.6 1326.3L319 1325.6L319.4 1324.9L319.8 1324.3L320.2 1323.6L320.6 1322.5L321 1320.1L321.4 1317.2L321.8 1314.4L322.2 1311.5L322.6 1308.8L323 1307.6L323.4 1309.3L323.8 1312L324.2 1314.8L324.6 1317.4L325 1319.7L325.4 1321.7L325.8 1323.7L326.2 1325.7L326.6 1327L327 1327.2L327.4 1327L327.8 1326.9L328.2 1326.7L328.6 1326.6L329 1326.8L329.4 1327.1L329.8 1327.5L330.2 1327.8L330.6 1328.2L331 1328.5L331.4 1328.6L331.8 1328.1L332.2 1327.3L332.6 1326.6L333 1325.8L333.4 1325.1L333.8 1324.4L334.2 1323.7L334.6 1323.3L335 1322.9L335.4 1322.5L335.8 1322.1L336.2 1321.7L336.6 1321.1L337 1319.7L337.4 1317.7L337.8 1315.5L338.2 1313.3L338.6 1312L339 1312.6L339.4 1313.8L339.8 1315L340.2 1316.2L340.6 1317.5L341 1318.9L341.4 1320.6L341.8 1322.4L342.2 1324.2L342.6 1325.8L343 1326.5L343.4 1326.8L343.8 1327L344.2 1327.1L344.6 1327.1L345 1326.4L345.4 1324.7L345.8 1322.7L346.2 1320.7L346.6 1319L347 1318.1L347.4 1315.9L347.8 1307.1L348.2 1293.1L348.6 1278.8L349 1267.6L349.4 1260.5L349.8 1258.1L350.2 1262.4L350.6 1269.6L351 1280.3L351.4 1294.4L351.8 1308.2L352.2 1317.1L352.6 1319.9L353 1321L353.4 1322L353.8 1323.1L354.2 1324.2L354.6 1325.2L355 1326.1L355.4 1326.9L355.8 1327.6L356.2 1328.4L356.6 1329.2L357 1329.3L357.4 1327.4L357.8 1324.4L358.2 1321.2L358.6 1318.1L359 1315L359.4 1312.7L359.8 1311.3L360.2 1310L360.6 1309.2L361 1309.8L361.4 1311.1L361.8 1311.3L362.2 1307L362.6 1299.6L363 1291.6L363.4 1284.1L363.8 1277.4L364.2 1271.9L364.6 1269.9L365 1272.4L365.4 1276L365.8 1279.3L366.2 1281.9L366.6 1284.4L367 1286.2L367.4 1283.9L367.8 1273.9L368.2 1262.5L368.6 1254.2L369 1250.3L369.4 1257.1L369.8 1271.2L370.2 1288.1L370.6 1305.7L371 1318.5L371.4 1322.1L371.8 1322.9L372.2 1323.7L372.6 1324.4L373 1324.7L373.4 1324.7L373.8 1324.7L374.2 1324.7L374.6 1324.7L375 1323.2L375.4 1318.8L375.8 1317.2L376.2 1317L376.6 1316.5L377 1314.7L377.4 1311.1L377.8 1306.9L378.2 1302.7L378.6 1299.9L379 1301.9L379.4 1306.2L379.8 1310.8L380.2 1314.9L380.6 1316.7L381 1315.3L381.4 1313L381.8 1310.7L382.2 1309.2L382.6 1310.5L383 1313L383.4 1315.7L383.8 1317.8L384.2 1316.6L384.6 1311L385 1304.2L385.4 1297.4L385.8 1293L386.2 1296.3L386.6 1303.1L387 1310.3L387.4 1317L387.8 1321.4L388.2 1322.8L388.6 1323.4L389 1323.9L389.4 1324.5L389.8 1325.1L390.2 1325.2L390.6 1324.3L391 1323L391.4 1321.8L391.8 1320.6L392.2 1319.5L392.6 1318.9L393 1319.4L393.4 1320.2L393.8 1321L394.2 1321.2L394.6 1319.6L395 1316.8L395.4 1313.8L395.8 1310.6L396.2 1306.2L396.6 1300L397 1292.3L397.4 1282.1L397.8 1272.5L398.2 1270.1L398.6 1278.2L399 1288.9L399.4 1299L399.8 1308.4L400.2 1315.7L400.6 1316.7L401 1315.2L401.4 1313.5L401.8 1311.9L402.2 1310.6L402.6 1310.9L403 1312.5L403.4 1314.5L403.8 1316.5L404.2 1317.9L404.6 1317.6L405 1316.8L405.4 1316L405.8 1315.5L406.2 1316.4L406.6 1318.3L407 1320.6L407.4 1322.1L407.8 1321.2L408.2 1319.4L408.6 1317.6L409 1315.7L409.4 1313.5L409.8 1311L410.2 1308.5L410.6 1305.9L411 1303.3L411.4 1301L411.8 1300.6L412.2 1303.8L412.6 1308.1L413 1312.4L413.4 1316.7L413.8 1320.6L414.2 1322.7L414.6 1322.2L415 1321L415.4 1319.8L415.8 1318L416.2 1314L416.6 1309.2L417 1304.7L417.4 1303.4L417.8 1307.2L418.2 1312.5L418.6 1317.6L419 1320.7L419.4 1320.5L419.8 1319.3L420.2 1318.1L420.6 1316.8L421 1315.4L421.4 1312.8L421.8 1308.9L422.2 1304.6L422.6 1300.3L423 1296.6L423.4 1295.5L423.8 1297.4L424.2 1300L424.6 1302.6L425 1305.1L425.4 1306.9L425.8 1306.6L426.2 1305.6L426.6 1304.6L427 1303L427.4 1298.9L427.8 1292.6L428.2 1285.9L428.6 1279.9L429 1276.5L429.4 1273.8L429.8 1273.2L430.2 1279L430.6 1288L431 1297L431.4 1304.5L431.8 1310.9L432.2 1317.1L432.6 1321.9L433 1323.4L433.4 1323.9L433.8 1324.4L434.2 1324.9L434.6 1325.4L435 1325.7L435.4 1325.7L435.8 1325.4L436.2 1325L436.6 1324.7L437 1324.3L437.4 1324L437.8 1323.7L438.2 1323.3L438.6 1322.3L439 1319L439.4 1314.6L439.8 1310L440.2 1305.6L440.6 1302.2L441 1300.3L441.4 1298.8L441.8 1295.6L442.2 1286.5L442.6 1273.9L443 1260.5L443.4 1247.2L443.8 1234.3L444.2 1223.8L444.6 1216.5L445 1211.7L445.4 1212.3L445.8 1216.8L446.2 1223.7L446.6 1236.4L447 1254.5L447.4 1271.6L447.8 1284.4L448.2 1296L448.6 1307.6L449 1317.1L449.4 1319.5L449.8 1317.8L450.2 1315.4L450.6 1313L451 1310.6L451.4 1308.2L451.8 1306.5L452.2 1306.7L452.6 1307.5L453 1308.3L453.4 1309.3L453.8 1311.5L454.2 1314.6L454.6 1318L455 1321.4L455.4 1323.8L455.8 1323.8L456.2 1322.8L456.6 1321.9L457 1321L457.4 1320.1L457.8 1319.2L458.2 1318.3L458.6 1317.5L459 1316.7L459.4 1315.8L459.8 1315.4L460.2 1316.1L460.6 1317.4L461 1318.5L461.4 1317.7L461.8 1313.5L462.2 1308.2L462.6 1302.9L463 1297.7L463.4 1293.7L463.8 1294.1L464.2 1296.6L464.6 1299.4L465 1302.2L465.4 1305.2L465.8 1308.3L466.2 1311.4L466.6 1314.6L467 1317.8L467.4 1320.4L467.8 1321.4L468.2 1321.8L468.6 1322.2L469 1322.6L469.4 1323L469.8 1322L470.2 1316.5L470.6 1307.5L471 1298.6L471.4 1292L471.8 1287.9L472.2 1285.2L472.6 1286.5L473 1292.9L473.4 1300.7L473.8 1306.7L474.2 1306.5L474.6 1302.7L475 1297.5L475.4 1289.1L475.8 1278.2L476.2 1266.6L476.6 1254.2L477 1241.1L477.4 1229L477.8 1221L478.2 1216.3L478.6 1216.6L479 1222L479.4 1233L479.8 1251L480.2 1270.2L480.6 1286.2L481 1299.8L481.4 1312.7L481.8 1321.2L482.2 1316.8L482.6 1308L483 1300.3L483.4 1297L483.8 1299L484.2 1302.4L484.6 1305.8L485 1309L485.4 1311.7L485.8 1314.3L486.2 1316.8L486.6 1319.3L487 1321.5L487.4 1323L487.8 1323.7L488.2 1324.2L488.6 1324.7L489 1325.2L489.4 1325.7L489.8 1325.9L490.2 1324.9L490.6 1322.2L491 1319.1L491.4 1315.9L491.8 1312.7L492.2 1310.5L492.6 1310.9L493 1312.4L493.4 1313.6L493.8 1313.3L494.2 1311L494.6 1309.2L495 1310.7L495.4 1314.6L495.8 1318.8L496.2 1322L496.6 1322.6L497 1322.3L497.4 1322L497.8 1321.7L498.2 1321.3L498.6 1321L499 1320.5L499.4 1320.1L499.8 1319.6L500.2 1319.2L500.6 1318.3L501 1315.6L501.4 1310.7L501.8 1305.2L502.2 1299.6L502.6 1296.2L503 1299.2L503.4 1304.9L503.8 1310.9L504.2 1315.1L504.6 1312L505 1300.4L505.4 1286.4L505.8 1273.6L506.2 1264.6L506.6 1259.8L507 1264.1L507.4 1275.9L507.8 1288.5L508.2 1298L508.6 1303.8L509 1308.6L509.4 1313.5L509.8 1318.2L510.2 1320.6L510.6 1316.9L511 1311.1L511.4 1305.3L511.8 1300.6L512.2 1300.3L512.6 1304L513 1307.8L513.4 1308L513.8 1304.2L514.2 1299.7L514.6 1298.4L515 1302.3L515.4 1307.7L515.8 1312.5L516.2 1315.6L516.6 1317.4L517 1318.9L517.4 1320.5L517.8 1322L518.2 1322.6L518.6 1320.1L519 1316L519.4 1312.1L519.8 1310.1L520.2 1311.5L520.6 1313.9L521 1316.3L521.4 1318.3L521.8 1319.1L522.2 1319L522.6 1318.9L523 1318.7L523.4 1318.7L523.8 1319.2L524.2 1320.6L524.6 1322.2L525 1323.8L525.4 1324.4L525.8 1321.7L526.2 1317.6L526.6 1314.2L527 1313.7L527.4 1315.1L527.8 1316.8L528.2 1318.4L528.6 1319.4L529 1319.4L529.4 1319L529.8 1316.3L530.2 1305.4L530.6 1288.4L531 1273.4L531.4 1269L531.8 1270.9L532.2 1277.9L532.6 1286.4L533 1294.3L533.4 1300L533.8 1303.6L534.2 1306.8L534.6 1309.9L535 1311.2L535.4 1307.6L535.8 1302.4L536.2 1298.9L536.6 1300.2L537 1303.6L537.4 1307.2L537.8 1311.8L538.2 1317.6L538.6 1323.6L539 1327.7L539.4 1328.5L539.8 1328.3L540.2 1328L540.6 1327.8L541 1327.5L541.4 1327.2L541.8 1327L542.2 1326.7L542.6 1326.7L543 1327L543.4 1327.4L543.8 1327.8L544.2 1328.2L544.6 1328.6L545 1328.9L545.4 1329L545.8 1328.9L546.2 1328.7L546.6 1328.5L547 1327.5L547.4 1324.2L547.8 1320.1L548.2 1315.9L548.6 1311.7L549 1309L549.4 1309.9L549.8 1312.1L550.2 1314.4L550.6 1315.3L551 1312.1L551.4 1307.5L551.8 1303.2L552.2 1300.2L552.6 1299L553 1298.2L553.4 1297.7L553.8 1298.6L554.2 1301.6L554.6 1305.1L555 1309L555.4 1314.1L555.8 1320L556.2 1325.8L556.6 1329.9L557 1330.8L557.4 1330.6L557.8 1330.5L558.2 1330.3L558.6 1329.7L559 1327.4L559.4 1324.2L559.8 1320.9L560.2 1317.5L560.6 1314.7L561 1314.5L561.4 1317.5L561.8 1321.4L562.2 1325.3L562.6 1328.8L563 1330.8L563.4 1331L563.8 1330.8L564.2 1330.6L564.6 1330.3L565 1329.6L565.4 1327.8L565.8 1325.7L566.2 1323.5L566.6 1321.4L567 1319.4L567.4 1318.9L567.8 1320.9L568.2 1323.7L568.6 1326.5L569 1328.9L569.4 1329.8L569.8 1329.8L570.2 1329.6L570.6 1329.5L571 1329.2L571.4 1328.1L571.8 1326L572.2 1323.6L572.6 1321.2L573 1318.7L573.4 1315.7L573.8 1312.5L574.2 1309.3L574.6 1306.2L575 1303.3L575.4 1300.7L575.8 1298.2L576.2 1295.7L576.6 1293.2L577 1291L577.4 1290L577.8 1289.1L578.2 1287.1L578.6 1283.3L579 1280.5L579.4 1283.6L579.8 1291.7L580.2 1300.1L580.6 1305.6L581 1309.7L581.4 1313.6L581.8 1316.5L582.2 1318.1L582.6 1319.3L583 1320.5L583.4 1321.6L583.8 1322.8L584.2 1323.9L584.6 1325L585 1326L585.4 1327L585.8 1327.7L586.2 1327.9L586.6 1328L587 1328L587.4 1328.1L587.8 1328.2L588.2 1327.9L588.6 1326.1L589 1323.2L589.4 1320.1L589.8 1317.1L590.2 1314L590.6 1310.9L591 1309.1L591.4 1310.9L591.8 1314.2L592.2 1317.6L592.6 1320.5L593 1321.1L593.4 1319.2L593.8 1316.6L594.2 1314L594.6 1312.4L595 1313.7L595.4 1316.3L595.8 1318.9L596.2 1321.4L596.6 1323.3L597 1324.6L597.4 1325.8L597.8 1326.9L598.2 1328.1L598.6 1328.7L599 1328.2L599.4 1327.2L599.8 1326.2L600.2 1325.2L600.6 1324.3L601 1323.5L601.4 1323.1L601.8 1322.7L602.2 1322.4L602.6 1322.2" fill="none" stroke="#1e1e1e" stroke-width="0.8" stroke-linejoin="round"/>
</g>
<rect x="141" y="1015.5" width="461.9" height="400.4" fill="none" stroke="#000" stroke-width="1.7"/>
</g>
<g id="ts-d">
<path d="M118.3 1520.5H141M118.3 1564H141M118.3 1607.4H141M118.3 1650.8H141M118.3 1694.3H141M118.3 1737.8H141" stroke="#1a1a1a" stroke-width="1.2" fill="none"/>
<path d="M129.6 1550.9H141M129.6 1543.2H141M129.6 1537.8H141M129.6 1533.6H141M129.6 1530.1H141M129.6 1527.2H141M129.6 1524.7H141M129.6 1522.5H141M129.6 1594.3H141M129.6 1586.7H141M129.6 1581.2H141M129.6 1577H141M129.6 1573.6H141M129.6 1570.7H141M129.6 1568.2H141M129.6 1565.9H141M129.6 1637.8H141M129.6 1630.1H141M129.6 1624.7H141M129.6 1620.5H141M129.6 1617H141M129.6 1614.1H141M129.6 1611.6H141M129.6 1609.4H141M129.6 1681.2H141M129.6 1673.6H141M129.6 1668.1H141M129.6 1663.9H141M129.6 1660.5H141M129.6 1657.6H141M129.6 1655.1H141M129.6 1652.8H141M129.6 1724.7H141M129.6 1717H141M129.6 1711.6H141M129.6 1707.4H141M129.6 1703.9H141M129.6 1701H141M129.6 1698.5H141M129.6 1696.3H141" stroke="#2a2a2a" stroke-width="0.9" fill="none"/>
<text x="112.2" y="1526.9" font-size="22.8" text-anchor="end" fill="#000">1,000</text>
<text x="112.2" y="1571.8" font-size="22.8" text-anchor="end" fill="#000">100</text>
<text x="112.2" y="1615.2" font-size="22.8" text-anchor="end" fill="#000">10</text>
<text x="112.2" y="1658.6" font-size="22.8" text-anchor="end" fill="#000">1</text>
<text x="112.2" y="1702.1" font-size="22.8" text-anchor="end" fill="#000">0.1</text>
<text x="112.2" y="1745.5" font-size="22.8" text-anchor="end" fill="#000">0.01</text>
<path d="M602.9 1919.8H625.2M602.9 1888.7H625.2M602.9 1857.6H625.2M602.9 1826.5H625.2M602.9 1795.4H625.2M602.9 1764.3H625.2M602.9 1733.2H625.2M602.9 1702.1H625.2" stroke="#1a1a1a" stroke-width="1.2" fill="none"/>
<path d="M602.9 1910.4H614.4M602.9 1905H614.4M602.9 1901.1H614.4M602.9 1898.1H614.4M602.9 1895.6H614.4M602.9 1893.5H614.4M602.9 1891.7H614.4M602.9 1890.1H614.4M602.9 1879.3H614.4M602.9 1873.9H614.4M602.9 1870H614.4M602.9 1867H614.4M602.9 1864.5H614.4M602.9 1862.4H614.4M602.9 1860.6H614.4M602.9 1859H614.4M602.9 1848.2H614.4M602.9 1842.8H614.4M602.9 1838.9H614.4M602.9 1835.9H614.4M602.9 1833.4H614.4M602.9 1831.3H614.4M602.9 1829.5H614.4M602.9 1827.9H614.4M602.9 1817.1H614.4M602.9 1811.7H614.4M602.9 1807.8H614.4M602.9 1804.8H614.4M602.9 1802.3H614.4M602.9 1800.2H614.4M602.9 1798.4H614.4M602.9 1796.8H614.4M602.9 1786H614.4M602.9 1780.6H614.4M602.9 1776.7H614.4M602.9 1773.7H614.4M602.9 1771.2H614.4M602.9 1769.1H614.4M602.9 1767.3H614.4M602.9 1765.7H614.4M602.9 1754.9H614.4M602.9 1749.5H614.4M602.9 1745.6H614.4M602.9 1742.6H614.4M602.9 1740.1H614.4M602.9 1738H614.4M602.9 1736.2H614.4M602.9 1734.6H614.4M602.9 1723.8H614.4M602.9 1718.4H614.4M602.9 1714.5H614.4M602.9 1711.5H614.4M602.9 1709H614.4M602.9 1706.9H614.4M602.9 1705.1H614.4M602.9 1703.5H614.4" stroke="#2a2a2a" stroke-width="0.9" fill="none"/>
<text x="634.8" y="1928.1" font-size="23.7" text-anchor="start" fill="#000">0.1</text>
<text x="636.3" y="1896.8" font-size="23.7" text-anchor="start" fill="#000">1</text>
<text x="634.9" y="1865.5" font-size="23.7" text-anchor="start" fill="#000">10</text>
<text x="633.4" y="1834.2" font-size="23.7" text-anchor="start" fill="#000">100</text>
<text x="632" y="1802.9" font-size="23.7" text-anchor="start" fill="#000">1,000</text>
<text x="630.5" y="1771.6" font-size="23.7" text-anchor="start" fill="#000">10,000</text>
<text x="629.8" y="1740.3" font-size="23.7" text-anchor="start" fill="#000">100,000</text>
<text x="627.6" y="1709" font-size="23.7" text-anchor="start" fill="#000">1,000,000</text>
<path d="M142 1919.8V1939M257.2 1919.8V1939M372.4 1919.8V1939M487.7 1919.8V1939M602.9 1919.8V1939" stroke="#1a1a1a" stroke-width="1.2" fill="none"/>
<path d="M165 1919.8V1929.6M188.1 1919.8V1929.6M211.1 1919.8V1929.6M234.2 1919.8V1929.6M280.3 1919.8V1929.6M303.3 1919.8V1929.6M326.4 1919.8V1929.6M349.4 1919.8V1929.6M395.5 1919.8V1929.6M418.5 1919.8V1929.6M441.6 1919.8V1929.6M464.6 1919.8V1929.6M510.7 1919.8V1929.6M533.8 1919.8V1929.6M556.8 1919.8V1929.6M579.9 1919.8V1929.6" stroke="#1a1a1a" stroke-width="1.1" fill="none"/>
<text x="142" y="1965.4" font-size="23.4" text-anchor="middle" fill="#000">2.9</text>
<text x="257.2" y="1965.4" font-size="23.4" text-anchor="middle" fill="#000">2.95</text>
<text x="372.4" y="1965.4" font-size="23.4" text-anchor="middle" fill="#000">3</text>
<text x="487.7" y="1965.4" font-size="23.4" text-anchor="middle" fill="#000">3.05</text>
<text x="602.9" y="1965.4" font-size="23.4" text-anchor="middle" fill="#000">3.1</text>
<text x="284.1" y="1993.3" font-size="26.2" textLength="160.5" lengthAdjust="spacing">Age [kyrs BP]</text>
<text transform="translate(54.5 1629.1) rotate(-90)" font-size="23.4" text-anchor="middle">Zr [ppm]</text>
<text transform="translate(732.6 1809.8) rotate(-90)" font-size="23.4" text-anchor="middle">Si [ppm]</text>
<text x="-0.5" y="1529.3" font-size="46" font-weight="bold">d</text>
<g clip-path="url(#cts3)">
<path d="M141.8 1718.7L142.9 1719.2L144 1718.8L145.1 1719L146.2 1719.3L147.1 1718.8L147.3 1718.9L148.1 1703.7L148.4 1719.2L149.1 1719.5L149.5 1718.9L150.6 1715L151.7 1718L152.8 1718.1L153.9 1717.8L155 1718.7L156.1 1718.3L157.2 1718.8L158.3 1713.6L159.4 1718.5L160.5 1719.5L161.6 1718.8L162.4 1719L162.7 1718.6L163.4 1706.4L163.8 1718.2L164.4 1718.8L164.9 1719.2L166 1711.6L167.1 1710.8L168.2 1718.8L169.3 1698.9L169.9 1719.5L170.4 1718.3L170.9 1680L171.5 1712.9L171.9 1719L172.6 1719.8L173.7 1712.8L174.8 1719.5L175.9 1720.2L177 1719.2L178.1 1714.5L179.2 1719.6L180.3 1706.7L181.4 1708.3L182.5 1704.9L183.6 1719.3L183.9 1719.2L184.7 1687.2L184.9 1649.3L185.8 1717.6L185.9 1718.5L186.9 1708.5L188 1695.8L189.1 1689.7L190.2 1693.5L191.3 1699.5L192.4 1710.1L193.5 1719.3L194.6 1719.1L194.7 1718.4L195.7 1698.3L195.7 1716.9L196.7 1718.3L196.8 1719.3L197.9 1711.8L198.3 1719L199 1710.2L199.3 1701.9L200.1 1718.6L200.3 1718.3L201.2 1719.4L202.3 1719.6L203.4 1718.6L204.5 1712L205.1 1719.2L205.6 1718.7L206.1 1692.6L206.7 1714.8L207.1 1719.5L207.8 1718.2L208.9 1718.2L209.6 1719.1L210 1717.6L210.6 1690.8L211.1 1718.1L211.6 1718.9L212.2 1709.5L213.3 1718.8L214.4 1716L215.5 1718.3L216.6 1703.6L217.7 1719.4L218.8 1718.1L219.9 1718.3L221 1718.5L222.1 1719L223.2 1718.4L224.3 1719.1L225.4 1718.6L226.5 1719.3L227.6 1719L228.7 1719L229.8 1719.6L230.9 1718.8L232 1699.1L233.1 1700.5L233.9 1719.2L234.2 1719.8L234.9 1595L235.3 1681L235.9 1718.7L236.4 1718.6L237.5 1719.9L238.6 1695.7L239.7 1705.9L240.8 1718.7L241 1719.6L241.9 1712.1L242 1653.8L243 1720.4L243 1719.1L244.1 1696.2L245.2 1720.1L246.3 1719.2L247.2 1719.3L247.4 1719.5L248.2 1698L248.5 1719.1L249.2 1718.9L249.6 1718.8L250.7 1715.7L251.8 1718.8L252.5 1719.6L252.9 1707.5L253.5 1693L254 1711.7L254.5 1719.4L255.1 1711.3L256.2 1711.1L257.3 1718.9L258.4 1718.2L259.5 1706.8L260.6 1704.1L261.7 1702L262.8 1713.2L263.9 1717.4L264.8 1719L265 1715.9L265.8 1692.6L266.1 1718.9L266.8 1719.4L267.2 1712.8L268.3 1714.4L269.4 1718.2L270.5 1718.5L271.4 1719.1L271.6 1712.7L272.4 1689.7L272.7 1706.3L273.4 1718.9L273.8 1714.2L274.9 1714.5L276 1705.6L277.1 1717L277.7 1718.6L278.2 1718.3L278.7 1670L279.3 1706.7L279.7 1719L280.4 1704.7L281.5 1718.5L282.6 1719.4L283.7 1716.5L284.8 1684.2L285.9 1718.8L287 1711.7L288.1 1707L289.2 1681.9L290.3 1718.4L290.3 1699.4L291.3 1633.7L291.4 1683.3L292.3 1719.6L292.5 1719.2L293.6 1713.5L294.7 1719.3L295.8 1719.8L296.9 1713.4L298 1719.2L299.1 1719.2L300.2 1718.6L301.3 1719.3L302.4 1719.8L303.5 1719L304.6 1719.6L305.7 1719.7L306.4 1718.7L306.8 1719.4L307.4 1697.4L307.9 1719L308.4 1719.8L309 1719.2L310.1 1703.6L311.2 1718.8L312.3 1720L313.4 1718.6L314.5 1712.7L315.6 1710.2L316.7 1709L317.8 1703.1L318.9 1718.2L320 1718L321.1 1701.4L322.2 1718.8L323.3 1711.1L324.4 1715.7L325.5 1679.2L326.2 1718.4L326.6 1718.4L327.2 1640L327.7 1706.1L328.2 1718.2L328.8 1694.1L329.8 1718.3L329.9 1718.9L330.8 1647.1L331 1689.4L331.8 1719.5L332.1 1718.7L333.2 1709.3L334.3 1718.2L335.4 1719.2L336.5 1718.8L337.6 1718.6L338.7 1719.4L339.8 1719.1L340.9 1719L342 1718.9L343.1 1713.9L344.2 1719.1L345.3 1719.3L346.4 1712.2L347.5 1719.4L348.3 1718.5L348.6 1710.3L349.3 1681.8L349.7 1714L350.3 1719.4L350.8 1709.9L351.9 1719.6L353 1720.2L353.7 1718.9L354.1 1718.3L354.7 1684L355.2 1718.8L355.7 1718.7L356.3 1719.5L357.4 1719.3L357.8 1719L358.5 1707.5L358.8 1685.8L359.6 1713.7L359.8 1719.3L360 1719.4L360.7 1719.8L361 1692.6L361.8 1719.7L362 1719.6L362.9 1716.4L364 1719.1L365.1 1719.2L366.2 1718.6L367.3 1720.6L368.4 1719.2L368.4 1718.8L369.4 1705.9L369.5 1718.3L370.4 1719.5L370.6 1714.5L371.7 1718.8L372.8 1718.5L373.9 1717.9L375 1717.8L376.1 1718.5L377.1 1719.2L377.2 1718.3L378.1 1703.7L378.3 1718.6L379.1 1719.2L379.4 1718.4L379.4 1719.6L380.4 1691.2L380.5 1718.9L381.4 1719.1L381.6 1717.6L382.7 1718.7L383.8 1714.7L384.9 1718L385.5 1719.3L386 1718.9L386.5 1699.2L387.1 1714.2L387.5 1719.6L387.9 1718.4L388.2 1718.5L388.9 1701L389.3 1718.4L389.9 1718.7L390.4 1719.2L391.5 1716.6L392.6 1718.9L393.7 1719.1L394.8 1718.9L395.9 1719.1L397 1719L397.7 1718.5L398.1 1718.5L398.7 1707.7L399.2 1719L399.7 1718.2L400.3 1718.4L401.4 1719.8L402.5 1719.8L403.6 1718.8L403.7 1719L404.7 1707L404.7 1720L405.7 1719.5L405.8 1719.5L406.9 1718.9L408 1719.3L409.1 1719.9L410.2 1719.6L411.3 1719.1L412.4 1719.9L413.5 1719.5L414.6 1719.3L415.7 1718.9L416.8 1719.7L417.9 1719.8L419 1718.9L420.1 1719.1L421.2 1719.1L422.3 1719.2L423.4 1718.6L424.5 1719.9L425.6 1719L426.7 1719.2L427.8 1718.6L428.9 1719.6L430 1718.8L431.1 1716.4L432.2 1719L433.3 1718.5L434.4 1718L435.1 1719.2L435.5 1717.7L436.1 1705.2L436.6 1718L437.1 1718.8L437.7 1718.7L438.8 1718.7L439.1 1719.5L439.9 1717.8L440.1 1704.6L441 1718.7L441.1 1719.5L442.1 1718.9L443.2 1717.4L444.3 1719.1L445.4 1718.9L446.5 1717.4L447.6 1719.3L448.7 1718.7L449.8 1715L450.9 1712.3L452 1718.9L453.1 1719.3L454.2 1718.1L455.3 1719L456.4 1720.4L457.5 1719.5L458.6 1708.3L459.7 1719.6L459.7 1719.8L460.7 1705.2L460.8 1719.3L461.7 1719.8L461.9 1719.9L462.1 1719.1L463 1719.9L463.1 1705.5L464.1 1718.9L464.1 1719.4L465.2 1719.5L466.3 1705.4L466.9 1719L467.4 1719.2L467.9 1702.8L468.5 1719.2L468.9 1719.4L469.6 1711.7L470.7 1708.5L471.8 1718.1L471.8 1695.3L472.8 1640.3L472.9 1719.1L473.8 1718.9L474 1715.3L475.1 1714.8L476.2 1719.1L477.3 1719.6L478.4 1718.9L479 1719.4L479.5 1719L480 1708.2L480.6 1718.7L481 1718.8L481.7 1719.5L482.8 1718.9L483.9 1718.8L485 1719L486.1 1719.8L487.2 1719.1L487.2 1718.8L488.2 1680L488.3 1704.5L489.2 1719L489.4 1699L490.5 1714.9L491.2 1718.8L491.6 1718.2L492.2 1682.2L492.7 1710.3L493.2 1718.5L493.8 1719.2L494.9 1718.8L496 1714.2L497.1 1714.4L498.2 1718.8L498.7 1718.9L499.3 1718.7L499.7 1661.5L500.4 1710.1L500.7 1719.1L501.5 1702.6L502.6 1718.2L503.7 1715L504.8 1718.7L505.9 1718.4L507 1719L508.1 1718.5L509.2 1719.4L510.3 1718.5L511.4 1719.3L512.5 1713L513.6 1719.7L514.7 1719.1L515.8 1720L516.9 1719.5L518 1719.7L518.1 1719.6L519.1 1719.5L519.1 1685.8L520.1 1719.7L520.2 1717.1L521.3 1719.8L522.4 1719.8L523.5 1683.1L523.5 1719.1L524.5 1573.5L524.6 1719.2L525.5 1718.8L525.7 1696L526.8 1713.1L527.9 1687L529 1682.7L530.1 1719.5L531.2 1719.2L532.3 1720L533.4 1719.6L534.5 1719.7L535.6 1703.2L536.7 1718.6L537.8 1714.8L538.9 1703.5L540 1715.3L541.1 1719.3L542.2 1717.9L543.3 1718.8L543.6 1718.2L544.4 1716.2L544.6 1693L545.5 1701.6L545.6 1719.6L546.6 1718.5L547.7 1703.1L548.8 1718.5L549.6 1719L549.9 1699.1L550.6 1654.9L551 1718.3L551.6 1719.2L552.1 1713.8L553.2 1706.4L554.3 1710L555.4 1717L556.5 1718.7L557.6 1719L558.7 1718L559.8 1718.6L560.9 1719L562 1718.5L563.1 1718.5L564.2 1718.9L565.3 1719.3L566.4 1718.4L567.5 1719.2L568.6 1719.4L569.7 1718.7L570.8 1719.4L571.9 1720L573 1719.4L574.1 1719.4L574.4 1719.3L575.2 1720.2L575.4 1692.1L576.3 1715.1L576.4 1719.2L577.4 1705.7L577.8 1719L578.5 1713L578.8 1678.6L579.6 1708.3L579.8 1719L580.7 1709.5L581.8 1713.6L582.9 1706.5L583.9 1719.4L584 1720.1L584.9 1672.3L585.1 1719.7L585.9 1718.4L586.2 1710.4L587.3 1700L588.4 1711.2L589.5 1719.3L590.6 1712.6L591.7 1719.6L592.8 1714.1L593 1719.1L593.9 1718.3L594 1690.8L595 1719.3L595 1719.2L596.1 1712.6L596.3 1719.9L597.2 1708.7L597.3 1690.8L598.3 1718.8L598.3 1719.2L599.4 1714.9L600.5 1719.6" fill="none" stroke="#c9c9c9" stroke-width="1.15" stroke-linejoin="round"/>
<path d="M141.8 1834.1L142.2 1840.9L142.6 1833.8L143 1839.9L143.4 1834.9L143.4 1832.3L143.7 1858.5L143.8 1855.6L144.2 1831.4L144.3 1858.5L144.6 1834.9L144.6 1837L145 1827L145.4 1837.1L145.8 1829.1L146.2 1844.5L146.6 1828.8L147 1842.9L147.4 1826.6L147.8 1836.3L148.2 1827.9L148.6 1837.5L148.7 1832.2L149 1825.1L149 1866.5L149.4 1838.2L149.6 1866.5L149.8 1830.2L149.9 1832.2L150.2 1840.4L150.6 1829.3L151 1835.3L151.4 1827.4L151.8 1836.6L152.2 1825L152.6 1835.1L153 1826.3L153.4 1834L153.8 1828.1L154.2 1842.3L154.6 1834.9L155 1855.8L155.4 1835.4L155.8 1850.3L156.2 1829.4L156.6 1846L157 1833.4L157 1835.1L157.3 1865.6L157.4 1845.3L157.8 1832.4L157.9 1865.6L158.2 1837.4L158.2 1835.1L158.6 1828.8L159 1835.2L159.4 1830.8L159.8 1842.3L160.2 1831.3L160.6 1846L160.6 1837L160.9 1897.1L161 1834.2L161.4 1844.2L161.5 1897.1L161.8 1833.8L161.8 1837L161.9 1835.1L162.2 1897.1L162.2 1840.3L162.6 1831L162.8 1897.1L163 1835.9L163.1 1835.1L163.4 1827.1L163.8 1836.4L164.2 1822.1L164.6 1835.4L165 1822.6L165.4 1832.8L165.8 1825.8L166.2 1844.4L166.6 1828L167 1840.3L167.4 1830.5L167.8 1841.7L168.1 1835.1L168.2 1830.8L168.4 1898L168.6 1842.7L169 1831.2L169 1898L169.3 1835.1L169.4 1859.7L169.8 1835.9L170.2 1843.5L170.6 1832.4L171 1833.7L171.4 1822.2L171.8 1824.8L171.8 1820.6L172.2 1816.9L172.3 1794.7L172.6 1845.8L172.8 1820.6L173 1824.6L173.4 1841L173.5 1837.8L173.8 1832.1L173.8 1866.5L174.2 1843.1L174.4 1866.5L174.6 1834.3L174.7 1837.8L175 1842.6L175.4 1836.3L175.8 1863.9L176.2 1833.2L176.2 1839.4L176.5 1854L176.6 1843.5L177 1835.9L177.1 1854L177.4 1844.2L177.4 1839.4L177.8 1833.8L178.2 1849.1L178.6 1828.5L179 1838.3L179.4 1820.5L179.8 1825.7L180.2 1815.2L180.6 1827.9L181 1819.3L181.4 1827.9L181.8 1819.3L182.2 1823.2L182.6 1811.1L183 1813.7L183.4 1801.9L183.8 1803L184.2 1787L184.6 1788.9L184.8 1785.2L185 1777.2L185.3 1756.1L185.4 1788L185.8 1785.2L185.8 1782L186.2 1797.6L186.6 1800.2L187 1818.4L187 1819.5L187.3 1866.5L187.4 1814.2L187.8 1821.9L187.9 1866.5L188.2 1812.5L188.2 1819.5L188.6 1817.1L189 1808.3L189.4 1816L189.8 1809.6L190.2 1819.2L190.6 1811.8L191 1818.4L191.4 1809.3L191.8 1821L192.2 1810.7L192.6 1827.4L193 1816.4L193.4 1825.1L193.8 1814.2L194.2 1828L194.6 1816.5L195 1823.7L195.4 1817.1L195.8 1826.7L196.2 1816L196.6 1824.4L197 1818.8L197.4 1832.3L197.8 1818.9L198.2 1828.6L198.6 1820.9L199 1829.6L199 1826.7L199.3 1849.5L199.4 1821.4L199.8 1832.6L199.9 1849.5L200.2 1824.1L200.2 1826.7L200.6 1828.9L201 1823L201.4 1827.8L201.8 1822.4L202.2 1827.5L202.6 1822.5L203 1828.9L203.4 1821.2L203.8 1829.1L204.2 1822.4L204.6 1826.6L205 1820.1L205.4 1825.3L205.8 1817.5L206.2 1823L206.6 1804.3L207 1804.4L207.4 1788.8L207.8 1779.3L207.8 1791.1L208.2 1774.6L208.3 1772.2L208.6 1783.5L208.8 1779.3L209 1774.6L209.4 1782.5L209.8 1774.8L210.2 1791.3L210.6 1785.2L211 1803.2L211.4 1797.6L211.8 1811.6L212.2 1808.8L212.6 1818.6L213 1812.5L213.4 1827.2L213.8 1816.6L214.2 1831.8L214.6 1818.8L215 1828.8L215.4 1823.9L215.8 1833.1L216.2 1821.2L216.6 1832.2L217 1822.2L217.4 1830.2L217.8 1822.7L218.2 1831.2L218.6 1818.3L219 1830.4L219.4 1820.2L219.8 1828.4L220.2 1817L220.6 1830.9L221 1818.6L221.4 1831.9L221.8 1819.3L222.2 1829.6L222.6 1816.6L222.9 1823.6L223 1827.2L223.2 1837.8L223.4 1821.1L223.8 1828.4L223.8 1837.8L224.1 1823.6L224.2 1820L224.6 1827.8L225 1820.8L225.4 1830.1L225.8 1814.9L226.2 1823.3L226.6 1803.4L227 1809.1L227.4 1797L227.8 1808.3L228.2 1798.1L228.6 1806L229 1800.5L229.4 1806.1L229.8 1798.4L230.2 1808.2L230.6 1799.9L231 1805L231.4 1797.9L231.8 1799.6L232.2 1786.5L232.6 1790.3L232.9 1778.9L233 1780.2L233.4 1784.4L233.4 1762.3L233.8 1780L233.9 1778.9L234.2 1789L234.6 1783.3L235 1803.2L235.4 1800L235.8 1821.8L236.2 1817.3L236.6 1814.6L237 1800.7L237.4 1802.9L237.8 1788L237.8 1784.9L238.2 1795.5L238.3 1777.6L238.6 1787.7L238.8 1788L239 1798.5L239.4 1793.6L239.8 1807.5L240.2 1804.1L240.6 1814.3L241 1798.1L241.4 1805.3L241.8 1792.2L242.2 1797L242.3 1797.4L242.6 1791.5L242.8 1782.1L243 1803L243.3 1797.4L243.4 1796L243.8 1808L244.2 1800.6L244.6 1812.6L245 1803.1L245.4 1812.1L245.8 1802.8L246.2 1814.4L246.6 1810.4L247 1818.3L247.4 1811.8L247.8 1817.9L248.2 1812.5L248.6 1817L249 1809.9L249.4 1815.6L249.8 1806.5L250.2 1818.5L250.6 1809.3L251 1815.9L251.4 1809.1L251.8 1816.9L252.2 1809.8L252.6 1812.2L253 1802.7L253 1799L253.4 1805.5L253.5 1774.9L253.8 1792.5L254 1799L254.2 1794.6L254.6 1785.2L255 1796.4L255.4 1793L255.8 1801.2L256.2 1800L256.6 1814L257 1805.6L257.4 1823.4L257.8 1818.2L258.2 1833.8L258.6 1825.3L259 1832.8L259.4 1826L259.8 1837.9L260.2 1823.3L260.6 1833.2L261 1825.7L261.2 1828.5L261.4 1832.7L261.5 1849.5L261.8 1824.2L262.1 1849.5L262.2 1836.4L262.4 1828.5L262.6 1826.1L263 1835.6L263.4 1821.6L263.8 1833.2L264.2 1824.7L264.6 1821.7L265 1798.1L265.4 1787.6L265.8 1764.5L266.2 1759.8L266.2 1769.7L266.6 1757.8L266.7 1752.5L267 1763.3L267.2 1759.8L267.4 1763.1L267.8 1775.5L268.2 1777.3L268.6 1799L268.8 1825.2L269 1809.4L269.1 1837.8L269.4 1832.4L269.7 1837.8L269.8 1811.2L270 1825.2L270.2 1815L270.6 1793.5L271 1795.5L271.4 1784.8L271.8 1794.6L272.2 1787.1L272.6 1803.6L273 1796.3L273.4 1807.3L273.8 1807.9L274.2 1824.5L274.6 1820.9L275 1830.1L275.4 1823.9L275.8 1829.9L276.2 1821.1L276.6 1833.4L277 1822.9L277.4 1828.6L277.8 1815.9L277.8 1814.1L278.2 1821.4L278.3 1783.9L278.6 1809.3L278.8 1814.1L279 1815.9L279.4 1813.5L279.8 1827.8L280.2 1819.3L280.6 1828.8L281 1822.4L281.4 1831.2L281.8 1821.6L282.2 1836.6L282.6 1825.2L282.6 1823.1L282.9 1852.2L283 1829.8L283.4 1817.4L283.5 1852.2L283.8 1825.2L283.8 1825.5L284.2 1817L284.6 1825L285 1818.2L285.4 1826.2L285.8 1821.3L286.2 1827.9L286.6 1820.5L287 1827.3L287.4 1820.8L287.8 1831.3L288.2 1822.6L288.5 1830L288.6 1831.4L288.8 1845.9L289 1827.4L289.4 1834.4L289.4 1845.9L289.7 1830L289.8 1825.5L290.2 1831L290.6 1816L291 1820.5L291.4 1808.8L291.8 1816.4L292.2 1805.9L292.2 1807.3L292.6 1812L292.7 1801L293 1805.4L293.2 1807.3L293.4 1814.1L293.8 1809.7L294.2 1825.5L294.6 1813.6L295 1824.3L295.4 1818.1L295.8 1828.1L296.2 1819.6L296.6 1833.2L297 1822.5L297.4 1835.8L297.8 1823.6L298.2 1831.1L298.6 1823.8L299 1831.5L299.4 1821.7L299.8 1834.4L300.2 1824.7L300.6 1832.8L301 1825.6L301.1 1829.7L301.4 1854L301.4 1833.7L301.8 1826.8L302 1854L302.2 1836.6L302.3 1829.7L302.6 1824.3L303 1836.6L303.4 1828L303.8 1837.6L304.2 1826.4L304.6 1830.3L305 1816L305.4 1816.9L305.7 1805.5L305.8 1799.7L306.2 1778.5L306.2 1808.9L306.6 1801.3L306.7 1805.5L307 1815.3L307.4 1803L307.8 1817.7L308.2 1810.5L308.4 1812.5L308.6 1817.7L308.9 1792L309 1810.3L309.4 1812.5L309.4 1819.3L309.8 1812.8L310.2 1826.8L310.6 1819.4L311 1830.1L311.4 1818.7L311.8 1831.1L312.2 1819.7L312.6 1825.3L313 1816.9L313.4 1822.1L313.8 1812.7L314.2 1827.9L314.6 1812.8L315 1826L315.4 1822.1L315.8 1834.6L316.2 1823.8L316.6 1831.9L317 1821.1L317.4 1828L317.8 1814.8L318.2 1814.6L318.6 1796.7L319 1798.1L319.4 1776.5L319.8 1777.4L320.2 1765.9L320.6 1771L321 1751L321.4 1753.5L321.8 1741.9L322.2 1750.9L322.6 1740.8L323 1750.8L323.1 1739L323.4 1737.6L323.6 1730L323.8 1746.8L324.1 1739L324.2 1742L324.6 1754.9L325 1753.4L325.4 1772.8L325.8 1778.1L326.2 1796.6L326.6 1783.5L327 1785.2L327.4 1770.5L327.8 1775L327.8 1780.9L328.2 1772.4L328.3 1760.5L328.6 1779.2L328.8 1775L329 1778.2L329.4 1794.5L329.8 1792.6L330.2 1804.9L330.6 1796.5L331 1805.3L331.4 1799.2L331.8 1804.7L332.2 1799.5L332.6 1811.3L333 1804.9L333.4 1820.5L333.8 1814.5L334.2 1826.5L334.6 1821.9L335 1831.3L335.2 1830.9L335.4 1825.8L335.5 1842.3L335.8 1840.1L336.1 1842.3L336.2 1824.5L336.4 1830.9L336.6 1832.1L337 1821.1L337.4 1829.6L337.8 1819.9L338.2 1830.6L338.6 1819.6L339 1830L339.4 1822.4L339.8 1831.9L340.2 1815L340.6 1826.5L341 1813.8L341.4 1821.2L341.8 1812.9L342.2 1824L342.6 1818.7L343 1828.1L343.4 1820.4L343.8 1832.4L344.2 1822.9L344.6 1835.2L345 1824.4L345.4 1833L345.8 1826.4L346 1828.3L346.2 1835L346.3 1858.5L346.6 1822.3L346.9 1858.5L347 1836.2L347.2 1828.3L347.4 1808.9L347.8 1804.5L348.2 1784.2L348.3 1785.8L348.6 1795.5L348.8 1774L349 1780.9L349.3 1785.8L349.4 1799.7L349.8 1797.6L350.2 1818.8L350.6 1814.2L351 1828.5L351.4 1824.2L351.8 1835.4L352.2 1829.2L352.6 1836.9L353 1825.7L353.2 1832.3L353.4 1839.1L353.5 1845.9L353.8 1830.2L354.1 1845.9L354.2 1835.2L354.4 1832.3L354.6 1824.3L355 1839L355.4 1824.2L355.8 1836.3L356.2 1826.5L356.6 1831.5L357 1819.8L357.4 1821.4L357.8 1808.6L358.2 1813.3L358.3 1800.1L358.6 1797.2L358.8 1783.9L359 1803.1L359.3 1800.1L359.4 1793.1L359.8 1806L360.2 1797L360.6 1805.2L361 1800.1L361.4 1810.2L361.8 1799.5L362.2 1808.8L362.6 1800.6L363 1816.3L363.4 1800.1L363.8 1817.9L364.2 1808.1L364.6 1821.8L365 1815.1L365.4 1830.4L365.8 1817.1L366.2 1820.7L366.6 1807.1L367 1816.6L367.4 1810.1L367.8 1819.2L368 1818.9L368.2 1813.7L368.5 1792.9L368.6 1824.6L369 1817L369 1818.9L369.4 1826.5L369.8 1823.1L370.2 1832.3L370.6 1826.1L370.6 1832.8L370.9 1898.9L371 1838.4L371.4 1830L371.5 1898.9L371.8 1840.3L371.8 1832.8L372.2 1826.3L372.6 1837.3L373 1826.5L373.4 1836.7L373.8 1825.7L374.2 1829.8L374.6 1820.3L375 1827.9L375.4 1815L375.8 1819.7L376.2 1809.1L376.6 1812.1L377 1802.2L377.2 1802.2L377.4 1808.3L377.7 1777.1L377.8 1799.5L378.2 1805.5L378.2 1802.2L378.6 1799.6L379 1808.7L379.4 1804.2L379.8 1812.1L380.2 1807.7L380.6 1818.4L381 1814.7L381.4 1830.5L381.8 1816.8L382.2 1834.4L382.3 1826L382.6 1819.3L382.6 1835.1L383 1828.4L383.2 1835.1L383.4 1819.7L383.5 1826L383.8 1825.5L384.2 1815.7L384.6 1828.2L385 1810.7L385.4 1822.8L385.8 1808.4L386.2 1823.2L386.6 1807.6L386.6 1807.2L387 1810.7L387.1 1797.4L387.4 1803.8L387.6 1807.6L387.8 1817L388.2 1809.5L388.6 1817.8L389 1813.8L389.4 1820L389.8 1815.1L390.2 1823.4L390.6 1809.5L391 1815.9L391.4 1799.4L391.8 1803.2L392 1798.7L392.2 1793.7L392.5 1788L392.6 1801.6L393 1798.7L393 1798.9L393.4 1820L393.8 1812.6L394.2 1824.4L394.6 1819.2L395 1830L395.4 1824.7L395.8 1838.2L396.2 1825.5L396.3 1825.7L396.6 1833.3L396.6 1859L397 1822.7L397.2 1859L397.3 1818L397.4 1829.3L397.5 1825.7L397.8 1814.3L397.8 1790.2L398.2 1825.3L398.3 1818L398.6 1821.8L399 1832.5L399.4 1824.3L399.8 1834.3L400.2 1823.5L400.6 1837L401 1819.3L401.4 1832.7L401.8 1826.3L402.1 1833.3L402.2 1843L402.4 1846.8L402.6 1829L403 1846.8L403 1838.3L403.3 1833.3L403.4 1824.7L403.8 1827L404.2 1816.9L404.6 1817.9L405 1808.6L405.4 1813.7L405.8 1798.8L406.2 1803.3L406.2 1816.6L406.6 1800.5L406.7 1790.7L407 1811.4L407.2 1803.3L407.4 1808.5L407.8 1821.6L408.2 1813.6L408.6 1828.1L409 1827L409.4 1835.6L409.8 1827.2L410.2 1837.9L410.6 1823.7L411 1834.4L411.4 1824.2L411.8 1831.7L412.2 1825.5L412.5 1829.1L412.6 1831L412.8 1858.5L413 1826.7L413.4 1833.4L413.4 1858.5L413.7 1829.1L413.8 1826.9L414.2 1835.8L414.6 1825.3L415 1829.8L415.4 1823.3L415.8 1837.2L416.2 1826.1L416.6 1838.8L417 1830.4L417.4 1835.9L417.8 1829L418.2 1834.4L418.6 1826.1L419 1835L419.4 1825.5L419.8 1832.7L420.2 1827.3L420.6 1840.6L421 1827.8L421.4 1837L421.8 1827.4L421.9 1829.3L422.2 1851.3L422.2 1835L422.6 1824.9L422.8 1851.3L423 1830.2L423.1 1829.3L423.4 1822L423.8 1829.7L424.2 1824.8L424.6 1834.3L425 1823.8L425.4 1836.3L425.8 1830.6L426.2 1836.4L426.6 1830.1L427 1838.4L427.4 1829L427.8 1834.1L428.2 1827.6L428.6 1838.3L429 1823.8L429 1829.7L429.3 1855.8L429.4 1832.7L429.8 1826.9L429.9 1855.8L430.2 1838.8L430.2 1829.7L430.6 1825.7L431 1831.2L431.4 1825.6L431.8 1832L431.8 1829.5L432.2 1826.7L432.3 1814.4L432.6 1836.6L432.8 1829.5L433 1828.4L433.4 1834.3L433.8 1826.8L434.2 1839.8L434.6 1828.9L435 1835.7L435.4 1828L435.8 1837.7L436.2 1823.3L436.2 1830.3L436.5 1855.8L436.6 1833.9L437 1825L437.1 1855.8L437.4 1838L437.4 1830.3L437.8 1822.3L438.1 1824.2L438.2 1829L438.6 1820.8L438.6 1814.4L439 1828.2L439.1 1824.2L439.4 1822.7L439.8 1832.2L440.2 1826.8L440.6 1835.2L441 1827.5L441.4 1834.4L441.8 1828.3L442.2 1833.6L442.6 1826.3L443 1836.2L443.4 1826.9L443.8 1839.1L444 1831.6L444.2 1828.4L444.3 1864.7L444.6 1844L444.9 1864.7L445 1827.6L445.2 1831.6L445.4 1836.9L445.8 1826.1L446.2 1836.5L446.6 1826L447 1840.8L447.4 1826.7L447.8 1832.7L448.2 1824.8L448.6 1832.9L449 1824.3L449.4 1839.8L449.8 1820.8L450.2 1835.9L450.6 1824.9L451 1835.7L451.4 1825.4L451.8 1839.2L452.2 1825.5L452.6 1837L453 1828L453.4 1842.9L453.8 1828.6L454.2 1844.8L454.6 1828.8L455 1839L455.4 1829.5L455.8 1835.8L456 1830.8L456.2 1827.9L456.3 1852.2L456.6 1834.1L456.9 1852.2L457 1826.4L457.2 1830.8L457.4 1830.8L457.8 1822.7L458.2 1831L458.6 1821.7L459 1830.7L459.4 1820.2L459.8 1828.5L460.2 1819.9L460.6 1829.5L461 1817.8L461.4 1829.1L461.8 1818L462.2 1823L462.6 1815.2L463 1825.8L463.4 1817.3L463.7 1823.8L463.8 1824.6L464 1838.7L464.2 1821.1L464.6 1827.8L464.6 1838.7L464.9 1823.8L465 1822.2L465.4 1830.5L465.6 1813.5L465.8 1808.3L466.1 1798.3L466.2 1824.7L466.6 1809.5L466.6 1813.5L467 1822L467.4 1818.4L467.8 1837.8L468.2 1821.5L468.6 1830.9L469 1822.8L469.4 1835.7L469.8 1823.6L470.2 1830.8L470.6 1822.4L471 1833.5L471.4 1823.9L471.8 1835.3L472.2 1819.9L472.6 1821.2L472.8 1812.3L473 1811.2L473.3 1801.9L473.4 1817.3L473.8 1811.6L473.8 1812.3L474.2 1820.2L474.6 1817.1L475 1821.3L475.4 1813.1L475.8 1827.5L476.2 1814.5L476.6 1824.3L477 1822.6L477.4 1833.9L477.8 1823L478.2 1823.9L478.2 1828.8L478.6 1820.4L478.7 1798.3L479 1819.8L479 1828.7L479.2 1823.9L479.3 1856.7L479.4 1817.4L479.8 1825.1L479.9 1856.7L480.2 1819.8L480.2 1817.5L480.6 1826L481 1822.3L481.4 1829.1L481.8 1821.3L482.2 1834.4L482.6 1825.3L483 1832.5L483.4 1826.2L483.8 1835.9L484.2 1825.1L484.4 1833.8L484.6 1843.8L484.7 1852.2L485 1831.7L485.3 1852.2L485.4 1837.3L485.6 1833.8L485.8 1828L486.2 1837.1L486.6 1823.7L487 1836.9L487.4 1816.6L487.8 1814.9L488.2 1801.1L488.4 1796.5L488.6 1799.5L488.9 1779.4L489 1793.7L489.4 1801.8L489.4 1796.5L489.8 1793.3L490.2 1804L490.6 1797.1L491 1815.7L491.4 1810L491.8 1821.4L492.2 1814.1L492.6 1829.9L493 1819.9L493.4 1829.2L493.8 1817.7L494.2 1830.4L494.6 1814.8L495 1823.1L495.4 1798.6L495.8 1793.1L496.2 1771L496.6 1777.4L497 1763L497.1 1762.3L497.4 1768.4L497.6 1754.3L497.8 1761.8L498.1 1762.3L498.2 1775.1L498.6 1773.2L499 1785.8L499.4 1780.5L499.8 1787.5L500.2 1781.2L500.6 1792.8L500.7 1791.3L501 1785.5L501.2 1775.8L501.4 1801L501.7 1791.3L501.8 1799.3L502.2 1812L502.6 1811.8L503 1826.2L503.2 1824.8L503.4 1822.4L503.5 1841.4L503.8 1837L504.1 1841.4L504.2 1819.1L504.4 1824.8L504.6 1828L505 1821.5L505.4 1836L505.8 1818.9L506.2 1830.5L506.6 1819.4L507 1833.7L507.4 1822.8L507.8 1832.3L508.2 1826.1L508.6 1834.7L509 1828.6L509.4 1836.8L509.8 1828.8L510.2 1839.4L510.6 1828.3L511 1841.1L511.3 1832.3L511.4 1828.8L511.6 1868.3L511.8 1835.9L512.2 1825.9L512.2 1868.3L512.5 1832.3L512.6 1837.8L513 1825L513.4 1834.5L513.8 1827.8L514.2 1841.1L514.6 1823.4L515 1829.4L515.4 1822.7L515.8 1833.5L515.8 1831.8L516.1 1858.5L516.2 1828.1L516.6 1837.6L516.7 1858.5L517 1828.8L517 1831.8L517.4 1837.6L517.8 1826.4L518.2 1840.3L518.6 1823.7L519 1832.6L519.4 1822.7L519.8 1829.3L520.2 1821.4L520.6 1827.6L521 1822.4L521.4 1838.8L521.8 1829.7L521.8 1823.1L522.1 1849.5L522.2 1835.6L522.6 1821.3L522.7 1849.5L523 1829.7L523 1818.3L523.4 1804.5L523.8 1800.2L524.2 1778.4L524.6 1774L525 1752.3L525.4 1752.1L525.8 1736.9L526.2 1735.8L526.6 1720.2L527 1722.6L527.4 1722.3L527.8 1740.1L528.2 1740L528.6 1757.8L529 1760.1L529.4 1784.9L529.8 1784.5L530.2 1803.5L530.6 1797.4L531 1804.9L531.4 1796.5L531.8 1805.3L532.1 1801L532.2 1797.8L532.6 1773.1L532.6 1806.6L533 1801.7L533.1 1801L533.4 1820L533.8 1810L534.2 1823.9L534.6 1815.2L535 1821.4L535.4 1816.3L535.8 1832.5L535.9 1825.7L536.2 1819.4L536.2 1867.4L536.6 1829.4L536.8 1867.4L537 1822.8L537.1 1825.7L537.4 1834.7L537.8 1822.3L538.2 1829.5L538.6 1820.7L539 1829.7L539.4 1819.4L539.8 1827.1L540.2 1820.8L540.6 1828.2L541 1813.7L541.4 1827L541.8 1811.7L542.2 1821.4L542.6 1813.8L543 1822.5L543.4 1807.7L543.8 1823L544.2 1804.9L544.6 1810.4L544.7 1800.4L545 1795L545.2 1795.6L545.4 1805.4L545.7 1800.4L545.8 1801.7L546.2 1816.3L546.6 1812.9L547 1826L547.4 1819.5L547.6 1830.1L547.8 1840.6L547.9 1866.9L548.2 1828.2L548.5 1866.9L548.6 1833.6L548.8 1830.1L549 1822.7L549.4 1827.8L549.8 1815.9L550.2 1820.8L550.6 1815.7L551 1823.8L551.4 1818.5L551.8 1828.1L552.2 1817.1L552.6 1833.4L553 1825.1L553 1826.1L553.3 1845.9L553.4 1840.1L553.8 1819.5L553.9 1845.9L554.2 1826L554.2 1826.1L554.6 1813.4L555 1820.8L555.4 1806.2L555.8 1811.6L556.2 1804.3L556.4 1803.7L556.6 1811.7L556.9 1788.4L557 1800.8L557.4 1803.7L557.4 1813.4L557.8 1812.1L558.2 1822.9L558.6 1820.3L559 1830.5L559.4 1823.9L559.8 1835.3L559.8 1832L560.1 1846.8L560.2 1829.3L560.6 1837.2L560.7 1846.8L561 1825.1L561 1832L561.4 1834.3L561.8 1829.2L562.2 1838.2L562.6 1830.5L563 1839.1L563.4 1827.9L563.8 1835.6L564.2 1828.4L564.6 1833.6L565 1800.9L565.4 1789L565.7 1775.3L565.8 1772.2L566.2 1766.8L566.2 1780.3L566.6 1774.2L566.7 1775.3L567 1783.4L567 1787.5L567.3 1844.1L567.4 1777.1L567.8 1797.9L567.9 1844.1L568.2 1801.5L568.2 1787.5L568.6 1822.4L569 1822.3L569.4 1834.7L569.8 1827.8L570.2 1836.6L570.6 1827.7L571 1835.2L571.4 1828.3L571.8 1835.9L572.2 1822.5L572.6 1834.2L573 1823.9L573.4 1827.4L573.8 1814.8L574.2 1827.1L574.6 1813.8L575 1817L575.4 1810.3L575.8 1816.3L576.2 1805.1L576.6 1816.2L577 1810.8L577.4 1824.3L577.8 1813.8L578.2 1825.3L578.6 1810.8L579 1819.4L579.4 1812.8L579.8 1826.6L580.2 1817.9L580.6 1837L581 1823.3L581.4 1834.4L581.8 1822.7L582.2 1835.1L582.6 1821.8L583 1828.3L583.4 1811.1L583.8 1815.9L584.2 1800.8L584.6 1805.1L584.7 1797.8L585 1796.8L585.2 1782.1L585.4 1800.2L585.7 1797.8L585.8 1792.2L586.2 1804.5L586.6 1800.6L587 1816.9L587.4 1802.5L587.8 1822.4L588.2 1816.6L588.2 1831L588.5 1850.4L588.6 1831.3L589 1826.5L589.1 1850.4L589.4 1837.6L589.4 1831L589.8 1826.5L590.2 1837.7L590.6 1822.8L591 1835.2L591.4 1822L591.8 1837.3L592.2 1833.1L592.2 1823.5L592.5 1845.9L592.6 1837.5L593 1828.9L593.1 1845.9L593.4 1833.1L593.4 1834.7L593.8 1820.6L594.2 1830.6L594.6 1811.7L595 1816.8L595.4 1806.5L595.8 1813.4L596.2 1805.7L596.6 1819.7L597 1801.9L597.3 1807.4L597.4 1817.6L597.8 1804.8L597.8 1790.2L598.2 1813.2L598.3 1807.4L598.6 1803.2L599 1816L599.4 1820.3L599.4 1812.9L599.7 1837.8L599.8 1822.3L600.2 1819.4L600.3 1837.8L600.6 1820.3L600.6 1838L601 1824.5L601.4 1831.3L601.8 1825.4" fill="none" stroke="#c9c9c9" stroke-width="1.15" stroke-linejoin="round"/>
<rect x="226.3" y="1521.2" width="18.2" height="397.9" fill="url(#gG)" style="mix-blend-mode:multiply"/>
<rect x="317.4" y="1521.2" width="15.5" height="397.9" fill="url(#gO)" style="mix-blend-mode:multiply"/>
<rect x="515.9" y="1521.2" width="17.7" height="397.9" fill="url(#gG)" style="mix-blend-mode:multiply"/>
<path d="M146.3 1714.9L150.8 1716.3L156.2 1717.7L163.4 1717.7L166.1 1714.5L166.6 1709.1L171.4 1708.8L176.8 1709.1L178.6 1713.6L180.4 1696.5L182.2 1680.4L184.9 1680L188.5 1684L191.7 1686.7L192.5 1700.1L193.9 1708.2L196.6 1710L200.2 1710.9L204.7 1710.9L207.9 1709.1L210.6 1707.7L213.7 1710.9L216.4 1713.6L219.1 1717.7L223.5 1718.1L228 1716.7L229.8 1685.8L231.3 1643.5L236.1 1642.6L237.4 1640.5L237.9 1662.4L239.2 1675L240.3 1700.1L241 1678.6L242 1670.5L243.3 1685.8L244.6 1707.3L246.9 1714.5L249.6 1714.9L252.3 1708.2L254.1 1707L255.9 1711.8L259.5 1711.8L263.1 1708.2L266.7 1709.1L268.5 1708.8L270.3 1715.4L272.6 1702.8L275.6 1702.8L278.3 1705.2L283.4 1705.9L284.1 1713.6L284.8 1678.6L290 1677.1L292.4 1675.5L293.1 1700.1L294.2 1708.2L296.3 1710.9L298.1 1715.9L300.8 1718.1L304.4 1715.4L307.1 1713.3L309.8 1714.9L313.4 1716.3L316.1 1701.9L318.4 1684.9L324.7 1682.2L326 1666L327.7 1662.4L329.5 1658.5L330.8 1664.2L332.2 1685.8L333.7 1716.3L335.8 1717.7L338.5 1716.3L341.2 1709.1L343 1705.2L347.5 1703.7L348.8 1701.9L349.8 1705.2L354.7 1705.2L357.4 1705.9L359.2 1707.7L361.9 1709.5L364.2 1715.4L367.3 1717.7L371.8 1717.2L375 1716.3L375 1715.4L378.1 1713.1L380.8 1714.2L383.5 1713.6L387.1 1711.3L389.8 1714.9L393.4 1716.3L396.1 1718.5L401.4 1716.7L405.9 1717.2L414.9 1717.7L423.9 1717.7L431.1 1716.3L436.5 1714.9L441.9 1714.9L447.3 1714.2L452.6 1714.5L458 1714.9L461.6 1714.2L465.2 1713.6L466.5 1682.2L473.3 1681.8L475.1 1710.9L477.4 1715.4L479.6 1717.7L485 1716.3L486.8 1703.7L488.9 1699.2L490.7 1703.7L492.2 1710L494 1707.3L495.8 1707.3L497.9 1689.4L499.7 1681.3L501.2 1691.2L502.4 1706.4L503.5 1709.1L505.1 1719L510.1 1718.5L515.2 1718.1L515.9 1712.4L519.5 1711.8L520.6 1693L522.4 1684L523.1 1631.9L524.2 1612.1L525.4 1609.4L526.3 1643.5L527.6 1644.4L528.5 1685.8L529.9 1714.5L531.7 1715.9L533.9 1719.9L537.1 1716.3L539.8 1714.2L542.8 1713.6L544.3 1709.1L545.7 1696.5L549.7 1695.6L554.7 1695.6L556 1712.7L558.6 1714.5L562.2 1716.3L565.8 1719L569.4 1719.5L573.4 1719L574.5 1708.2L575.7 1706.4L577 1710.9L578.4 1703.7L581.1 1702.8L582.4 1710L583.8 1689.4L584.9 1687.2L586.1 1696.5L587.4 1710.9L590.1 1709.1L592.8 1708.2L595.5 1704.6L596.7 1709.1" fill="none" stroke="#1e1e1e" stroke-width="0.8" stroke-linejoin="round"/>
<path d="M142.7 1837.6L143.1 1836.9L143.5 1836L143.9 1835L144.3 1834.1L144.7 1833.2L145.1 1832.5L145.5 1832.2L145.9 1832L146.3 1831.8L146.7 1831.6L147.1 1831.4L147.5 1831.2L147.9 1831.1L148.3 1831.2L148.7 1831.6L149.1 1832L149.5 1832.4L149.9 1832.8L150.3 1832.9L150.7 1832.3L151.1 1831.1L151.5 1829.7L151.9 1828.4L152.3 1827.3L152.7 1827.4L153.1 1829.4L153.5 1831.9L153.9 1834.4L154.3 1836.9L154.7 1838.8L155.1 1839.1L155.5 1838.7L155.9 1838.3L156.3 1837.8L156.7 1837.3L157.1 1836.7L157.5 1835.5L157.9 1834.2L158.3 1832.9L158.7 1831.9L159.1 1832.1L159.5 1833.4L159.9 1834.9L160.3 1836.4L160.7 1837.4L161.1 1837.1L161.5 1836.5L161.9 1835.9L162.3 1835.2L162.7 1833.7L163.1 1831.7L163.5 1829.5L163.9 1827.3L164.3 1825.3L164.7 1824.4L165.1 1825.5L165.5 1827.2L165.9 1828.8L166.3 1830.5L166.7 1832.1L167.1 1833.3L167.5 1833.9L167.9 1834.3L168.3 1834.7L168.7 1835.2L169.1 1836.4L169.5 1837.9L169.9 1839L170.3 1838.1L170.7 1833.8L171.1 1828.6L171.5 1823.4L171.9 1819.7L172.3 1820.5L172.7 1824L173.1 1827.8L173.5 1831.7L173.9 1835.2L174.3 1837.8L174.7 1838.9L175.1 1839.7L175.5 1840.5L175.9 1841L176.3 1840.6L176.7 1839.7L177.1 1838.8L177.5 1837.8L177.9 1835.9L178.3 1833.1L178.7 1830L179.1 1826.9L179.5 1823.8L179.9 1821.6L180.3 1822L180.7 1823.2L181.1 1824.4L181.5 1824.9L181.9 1823L182.3 1818.8L182.7 1814.1L183.1 1809L183.5 1802.9L183.9 1796.4L184.3 1790.4L184.7 1786.4L185.1 1785.4L185.5 1785.1L185.9 1786.7L186.3 1794.2L186.7 1805.3L187.1 1815.3L187.5 1819.1L187.9 1817.8L188.3 1815.4L188.7 1813L189.1 1811.6L189.5 1812L189.9 1813L190.3 1814L190.7 1815L191.1 1815.9L191.5 1816.6L191.9 1817.2L192.3 1817.7L192.7 1818.2L193.1 1818.8L193.5 1819.3L193.9 1819.8L194.3 1820.1L194.7 1820.4L195.1 1820.6L195.5 1820.9L195.9 1821.2L196.3 1821.5L196.7 1821.9L197.1 1822.6L197.5 1823.4L197.9 1824.2L198.3 1825L198.7 1825.8L199.1 1826.5L199.5 1826.7L199.9 1826.4L200.3 1826L200.7 1825.6L201.1 1825.2L201.5 1824.8L201.9 1824.5L202.3 1824.4L202.7 1824.5L203.1 1824.6L203.5 1824.7L203.9 1824.8L204.3 1824.6L204.7 1823.6L205.1 1822.3L205.5 1821L205.9 1819L206.3 1814.3L206.7 1806.5L207.1 1797.9L207.5 1789.3L207.9 1782.1L208.3 1779.3L208.7 1778.1L209.1 1777.6L209.5 1779.3L209.9 1782.1L210.3 1785.3L210.7 1789.5L211.1 1795.6L211.5 1802.3L211.9 1808.8L212.3 1813.9L212.7 1816.4L213.1 1818L213.5 1819.6L213.9 1821.2L214.3 1822.9L214.7 1824.5L215.1 1825.8L215.5 1826.2L215.9 1826.3L216.3 1826.4L216.7 1826.5L217.1 1826.5L217.5 1826.5L217.9 1826.2L218.3 1825.7L218.7 1825.1L219.1 1824.5L219.5 1824L219.9 1823.4L220.3 1822.9L220.7 1822.6L221.1 1822.7L221.5 1822.7L221.9 1822.8L222.3 1822.9L222.7 1823L223.1 1823.2L223.5 1823.5L223.9 1823.9L224.3 1824.3L224.7 1824.6L225.1 1824.6L225.5 1822.5L225.9 1818L226.3 1812.8L226.7 1807.6L227.1 1803.4L227.5 1802.1L227.9 1802.2L228.3 1802.3L228.7 1802.5L229.1 1802.6L229.5 1802.7L229.9 1802.6L230.3 1802.4L230.7 1802.2L231.1 1801.5L231.5 1799.1L231.9 1795.2L232.3 1790.9L232.7 1786.7L233.1 1782.7L233.5 1780.7L233.9 1782.9L234.3 1786.3L234.7 1790.4L235.1 1797.3L235.5 1806.4L235.9 1814.6L236.3 1816.1L236.7 1810L237.1 1801.9L237.5 1793.9L237.9 1787.9L238.3 1788.3L238.7 1791.1L239.1 1794.5L239.5 1799L239.9 1804.1L240.3 1807L240.7 1804.8L241.1 1801L241.5 1797.2L241.9 1794.3L242.3 1794.4L242.7 1796.8L243.1 1799.8L243.5 1802.8L243.9 1805.2L244.3 1806.6L244.7 1807.6L245.1 1808.6L245.5 1809.6L245.9 1810.6L246.3 1811.9L246.7 1813.3L247.1 1814.6L247.5 1815.4L247.9 1815.1L248.3 1814.5L248.7 1813.8L249.1 1813.2L249.5 1812.5L249.9 1812L250.3 1811.9L250.7 1812L251.1 1812.2L251.5 1812.3L251.9 1812.5L252.3 1811.7L252.7 1808.3L253.1 1803.9L253.5 1799.6L253.9 1795.3L254.3 1791.8L254.7 1791.4L255.1 1793.3L255.5 1795.9L255.9 1799L256.3 1803.7L256.7 1808.9L257.1 1814.1L257.5 1819.4L257.9 1824.4L258.3 1827.9L258.7 1828.7L259.1 1828.7L259.5 1828.6L259.9 1828.6L260.3 1828.5L260.7 1828.5L261.1 1828.5L261.5 1828.5L261.9 1828.5L262.3 1828.5L262.7 1828.5L263.1 1828.5L263.5 1828.5L263.9 1828.5L264.3 1825.4L264.7 1813.1L265.1 1797L265.5 1781.4L265.9 1769.7L266.3 1763.8L266.7 1760.8L267.1 1762.4L267.5 1767.6L267.9 1774.6L268.3 1785.2L268.7 1799.7L269.1 1813.4L269.5 1818.8L269.9 1812.8L270.3 1803.6L270.7 1795.5L271.1 1791.5L271.5 1790L271.9 1789.5L272.3 1791.4L272.7 1795.3L273.1 1799.8L273.5 1805.2L273.9 1811.7L274.3 1818.5L274.7 1824.1L275.1 1826.1L275.5 1826.4L275.9 1826.6L276.3 1826.8L276.7 1826.6L277.1 1824.9L277.5 1821.7L277.9 1818.1L278.3 1814.5L278.7 1812.2L279.1 1813.6L279.5 1816.4L279.9 1819.2L280.3 1821.9L280.7 1824L281.1 1825.5L281.5 1826.9L281.9 1828.3L282.3 1829L282.7 1827.7L283.1 1825.7L283.5 1823.7L283.9 1822L284.3 1821.4L284.7 1821.9L285.1 1822.7L285.5 1823.5L285.9 1824.1L286.3 1823.8L286.7 1823.3L287.1 1823L287.5 1823.5L287.9 1824.9L288.3 1826.6L288.7 1828.2L289.1 1829.9L289.5 1830.4L289.9 1827.8L290.3 1824.2L290.7 1820.6L291.1 1817.1L291.5 1814.2L291.9 1811.9L292.3 1809.6L292.7 1808.2L293.1 1809.6L293.5 1811.9L293.9 1814.3L294.3 1816.7L294.7 1819.1L295.1 1821.3L295.5 1823.6L295.9 1825.5L296.3 1826.2L296.7 1826.3L297.1 1826.5L297.5 1826.6L297.9 1826.7L298.3 1826.8L298.7 1826.9L299.1 1827.2L299.5 1827.5L299.9 1827.9L300.3 1828.3L300.7 1828.7L301.1 1829.1L301.5 1829.5L301.9 1829.8L302.3 1830.1L302.7 1830.4L303.1 1830.6L303.5 1830.9L303.9 1831.2L304.3 1830.2L304.7 1825.3L305.1 1818L305.5 1811L305.9 1806.9L306.3 1805.1L306.7 1804.6L307.1 1806.9L307.5 1810.2L307.9 1813L308.3 1813.6L308.7 1812.9L309.1 1812.6L309.5 1814.1L309.9 1817L310.3 1820.3L310.7 1822.8L311.1 1823.3L311.5 1823.3L311.9 1823.2L312.3 1822.9L312.7 1822L313.1 1820.5L313.5 1818.9L313.9 1817.9L314.3 1819.1L314.7 1821L315.1 1823L315.5 1825L315.9 1827L316.3 1828.3L316.7 1826.8L317.1 1823.5L317.5 1819.7L317.9 1814.7L318.3 1806.8L318.7 1798L319.1 1789.2L319.5 1780.7L319.9 1773.2L320.3 1766.6L320.7 1760.2L321.1 1753.9L321.5 1748.7L321.9 1746.2L322.3 1744.5L322.7 1742.8L323.1 1741.2L323.5 1740.4L323.9 1742.9L324.3 1747.5L324.7 1752.7L325.1 1760L325.5 1772.4L325.9 1784.7L326.3 1789.4L326.7 1785L327.1 1778.6L327.5 1774.5L327.9 1774.2L328.3 1775.2L328.7 1777.8L329.1 1783.9L329.5 1791.2L329.9 1797.7L330.3 1801.2L330.7 1801.9L331.1 1801.9L331.5 1801.9L331.9 1802.7L332.3 1805.6L332.7 1809.2L333.1 1812.8L333.5 1816.3L333.9 1819.7L334.3 1823L334.7 1826.2L335.1 1829.3L335.5 1831.4L335.9 1830.7L336.3 1829L336.7 1827.3L337.1 1825.7L337.5 1824.3L337.9 1824.3L338.3 1825.1L338.7 1826L339.1 1826.2L339.5 1824.5L339.9 1822.1L340.3 1819.7L340.7 1817.7L341.1 1817.3L341.5 1818.3L341.9 1819.7L342.3 1821L342.7 1822.3L343.1 1823.6L343.5 1824.8L343.9 1826L344.3 1827.1L344.7 1828.3L345.1 1829.2L345.5 1829.3L345.9 1829L346.3 1828.6L346.7 1827.3L347.1 1821.3L347.5 1808.3L347.9 1795L348.3 1788L348.7 1786.7L349.1 1790.3L349.5 1798.8L349.9 1808.3L350.3 1816L350.7 1820.5L351.1 1824.1L351.5 1827.6L351.9 1830.6L352.3 1831.9L352.7 1832.1L353.1 1832.2L353.5 1832.2L353.9 1832.3L354.3 1832.4L354.7 1832.3L355.1 1831.8L355.5 1831.2L355.9 1830.6L356.3 1829.5L356.7 1826.5L357.1 1821.6L357.5 1816.2L357.9 1810.8L358.3 1805.7L358.7 1801.4L359.1 1798.3L359.5 1798L359.9 1799.3L360.3 1800.9L360.7 1802.4L361.1 1803.7L361.5 1804.5L361.9 1805.2L362.3 1805.8L362.7 1806.5L363.1 1807.5L363.5 1809.5L363.9 1811.9L364.3 1814.3L364.7 1816.8L365.1 1819.2L365.5 1820.5L365.9 1818.6L366.3 1815.8L366.7 1813.7L367.1 1814L367.5 1815.3L367.9 1816.7L368.3 1818L368.7 1819.4L369.1 1821.2L369.5 1823.7L369.9 1826.5L370.3 1829.3L370.7 1831.7L371.1 1832.7L371.5 1832.4L371.9 1831.8L372.3 1831.2L372.7 1830.5L373.1 1829.6L373.5 1828.7L373.9 1827.8L374.3 1826.8L374.7 1825.7L375.1 1823.2L375.5 1819.3L375.9 1815.1L376.3 1811.2L376.7 1808.4L377.1 1806L377.5 1803.6L377.9 1801.7L378.3 1801.5L378.7 1803.1L379.1 1805.1L379.5 1807.1L379.9 1809.3L380.3 1811.9L380.7 1814.7L381.1 1817.5L381.5 1820.3L381.9 1823.1L382.3 1825.7L382.7 1826.6L383.1 1825.1L383.5 1822.9L383.9 1820.8L384.3 1818.6L384.7 1816.6L385.1 1814.9L385.5 1813.4L385.9 1811.9L386.3 1810.5L386.7 1809L387.1 1808.4L387.5 1809.6L387.9 1811.5L388.3 1813.4L388.7 1814.9L389.1 1816.1L389.5 1817.2L389.9 1817.8L390.3 1816.1L390.7 1811.8L391.1 1806.8L391.5 1802.4L391.9 1800.3L392.3 1799.3L392.7 1800.2L393.1 1804.8L393.5 1810.5L393.9 1815.8L394.3 1819.9L394.7 1823.7L395.1 1826.8L395.5 1828L395.9 1828.4L396.3 1828.4L396.7 1827.4L397.1 1824.5L397.5 1821.2L397.9 1819.8L398.3 1822.5L398.7 1826.5L399.1 1829.4L399.5 1829L399.9 1827.5L400.3 1825.9L400.7 1824.6L401.1 1824.9L401.5 1826.7L401.9 1828.9L402.3 1831.1L402.7 1832.1L403.1 1829.6L403.5 1825.8L403.9 1822.1L404.3 1818.2L404.7 1814.2L405.1 1810.2L405.5 1806.8L405.9 1804.9L406.3 1804.1L406.7 1804.6L407.1 1807.9L407.5 1812.1L407.9 1816.6L408.3 1821.4L408.7 1826.3L409.1 1830.3L409.5 1831.4L409.9 1831.1L410.3 1830.5L410.7 1830L411.1 1829.4L411.5 1828.9L411.9 1828.4L412.3 1828.2L412.7 1828.5L413.1 1829.1L413.5 1829.6L413.9 1829.8L414.3 1829.2L414.7 1828L415.1 1827L415.5 1827.3L415.9 1828.6L416.3 1830.2L416.7 1831.8L417.1 1832.9L417.5 1832.7L417.9 1832L418.3 1831.4L418.7 1830.8L419.1 1830.2L419.5 1829.9L419.9 1829.9L420.3 1830L420.7 1830.1L421.1 1830.3L421.5 1830.4L421.9 1830.4L422.3 1829.7L422.7 1828.4L423.1 1826.9L423.5 1825.9L423.9 1826.6L424.3 1828.1L424.7 1829.6L425.1 1831.1L425.5 1832.4L425.9 1832.9L426.3 1832.8L426.7 1832.4L427.1 1832.1L427.5 1831.7L427.9 1831.4L428.3 1831L428.7 1830.7L429.1 1830.3L429.5 1829.9L429.9 1829.5L430.3 1829.1L430.7 1828.7L431.1 1828.3L431.5 1828.2L431.9 1828.7L432.3 1829.4L432.7 1830.1L433.1 1830.8L433.5 1831.5L433.9 1831.8L434.3 1831.7L434.7 1831.5L435.1 1831.3L435.5 1831L435.9 1830.8L436.3 1830.6L436.7 1830.1L437.1 1828.8L437.5 1827L437.9 1825L438.3 1823.7L438.7 1824.4L439.1 1825.6L439.5 1826.8L439.9 1828.1L440.3 1829.2L440.7 1829.8L441.1 1830.1L441.5 1830.4L441.9 1830.7L442.3 1830.9L442.7 1831.2L443.1 1831.4L443.5 1831.7L443.9 1831.9L444.3 1831.8L444.7 1831.5L445.1 1831.2L445.5 1830.9L445.9 1830.6L446.3 1830.3L446.7 1830L447.1 1829.6L447.5 1829.3L447.9 1829L448.3 1828.8L448.7 1828.7L449.1 1828.7L449.5 1828.6L449.9 1828.6L450.3 1828.5L450.7 1828.6L451.1 1828.9L451.5 1829.4L451.9 1830L452.3 1830.6L452.7 1831.2L453.1 1831.8L453.5 1832.2L453.9 1832.4L454.3 1832.4L454.7 1832.4L455.1 1832.4L455.5 1832.4L455.9 1832.4L456.3 1831.8L456.7 1830.4L457.1 1828.6L457.5 1826.8L457.9 1825.2L458.3 1824.3L458.7 1824L459.1 1823.8L459.5 1823.6L459.9 1823.5L460.3 1823.3L460.7 1823L461.1 1822.3L461.5 1821.5L461.9 1820.7L462.3 1819.9L462.7 1819.2L463.1 1819L463.5 1820.2L463.9 1822L464.3 1823.7L464.7 1824.7L465.1 1823.3L465.5 1819.8L465.9 1815.8L466.3 1813.3L466.7 1815.4L467.1 1819.1L467.5 1822.8L467.9 1825.8L468.3 1826.8L468.7 1826.9L469.1 1827.1L469.5 1827.2L469.9 1827.4L470.3 1827.5L470.7 1827.6L471.1 1827.8L471.5 1827.2L471.9 1824.5L472.3 1821.1L472.7 1817.6L473.1 1814.7L473.5 1814L473.9 1815.6L474.3 1817.7L474.7 1818.5L475.1 1817.6L475.5 1816.2L475.9 1815.6L476.3 1817.9L476.7 1821.8L477.1 1825.9L477.5 1828.4L477.9 1827.6L478.3 1825.8L478.7 1824L479.1 1822.1L479.5 1820.8L479.9 1821L480.3 1822.2L480.7 1823.5L481.1 1824.8L481.5 1826.1L481.9 1827.3L482.3 1828.2L482.7 1829L483.1 1829.9L483.5 1830.7L483.9 1831.5L484.3 1832.4L484.7 1833.1L485.1 1833.1L485.5 1831.8L485.9 1830.2L486.3 1828.6L486.7 1827L487.1 1824.3L487.5 1818.1L487.9 1810.3L488.3 1802.9L488.7 1797.8L489.1 1796.3L489.5 1796.1L489.9 1797L490.3 1800.5L490.7 1804.7L491.1 1809L491.5 1813.2L491.9 1817.5L492.3 1821.4L492.7 1823.7L493.1 1823.9L493.5 1823.6L493.9 1823.3L494.3 1823L494.7 1821L495.1 1812.6L495.5 1798.7L495.9 1784.6L496.3 1774.8L496.7 1769.9L497.1 1766.4L497.5 1764.4L497.9 1767.2L498.3 1772.4L498.7 1777.7L499.1 1781.6L499.5 1783.1L499.9 1783.9L500.3 1784.7L500.7 1786.3L501.1 1790.7L501.5 1796.7L501.9 1803L502.3 1809.3L502.7 1815.5L503.1 1821.2L503.5 1824.4L503.9 1824.8L504.3 1824.5L504.7 1824.2L505.1 1823.8L505.5 1823.7L505.9 1824L506.3 1824.7L506.7 1825.5L507.1 1826.3L507.5 1827.2L507.9 1828.3L508.3 1829.4L508.7 1830.5L509.1 1831.5L509.5 1832L509.9 1832.1L510.3 1832.2L510.7 1832.2L511.1 1832.2L511.5 1832.3L511.9 1832.3L512.3 1832.4L512.7 1832.2L513.1 1831.6L513.5 1830.6L513.9 1829.5L514.3 1828.5L514.7 1827.4L515.1 1826.8L515.5 1827.7L515.9 1829.4L516.3 1831.2L516.7 1832.8L517.1 1833.3L517.5 1832.4L517.9 1831.1L518.3 1829.8L518.7 1828.4L519.1 1827.2L519.5 1826.1L519.9 1825.1L520.3 1824.2L520.7 1824.2L521.1 1825.3L521.5 1826.7L521.9 1828.1L522.3 1827.8L522.7 1821.9L523.1 1813.3L523.5 1803.7L523.9 1791.5L524.3 1777.5L524.7 1764L525.1 1753.3L525.5 1745.2L525.9 1737.7L526.3 1730.4L526.7 1724.1L527.1 1721.5L527.5 1726.2L527.9 1734.9L528.3 1745.7L528.7 1757.1L529.1 1768.6L529.5 1780L529.9 1791.2L530.3 1799.7L530.7 1801.7L531.1 1801.5L531.5 1801.4L531.9 1801.2L532.3 1801.4L532.7 1803.2L533.1 1807.7L533.5 1813.1L533.9 1817.1L534.3 1818.3L534.7 1818.5L535.1 1818.7L535.5 1819.2L535.9 1821L536.3 1823.8L536.7 1826.8L537.1 1828.8L537.5 1828.3L537.9 1826.9L538.3 1825.5L538.7 1824.3L539.1 1823.7L539.5 1823.7L539.9 1823.9L540.3 1824.1L540.7 1823.7L541.1 1821.9L541.5 1819.5L541.9 1817.4L542.3 1816.4L542.7 1816.5L543.1 1816.6L543.5 1815.4L543.9 1812.3L544.3 1808.6L544.7 1804.9L545.1 1802.4L545.5 1803.9L545.9 1807.4L546.3 1811.5L546.7 1816.4L547.1 1821.8L547.5 1827.2L547.9 1830.7L548.3 1829.6L548.7 1827L549.1 1824.4L549.5 1821.8L549.9 1819.3L550.3 1818.1L550.7 1819.1L551.1 1820.7L551.5 1822.2L551.9 1823.8L552.3 1825.4L552.7 1827L553.1 1827.9L553.5 1826.7L553.9 1823.8L554.3 1820.4L554.7 1817L555.1 1813.6L555.5 1810.7L555.9 1808.4L556.3 1806.4L556.7 1805.2L557.1 1806.9L557.5 1810.9L557.9 1815.4L558.3 1819.8L558.7 1823.9L559.1 1827.9L559.5 1831.2L559.9 1832.1L560.3 1832L560.7 1831.8L561.1 1831.7L561.5 1831.8L561.9 1832.2L562.3 1832.7L562.7 1833.3L563.1 1833.5L563.5 1833L563.9 1832.1L564.3 1830L564.7 1820.9L565.1 1801.7L565.5 1783.9L565.9 1777.4L566.3 1775.7L566.7 1777.7L567.1 1781.8L567.5 1787L567.9 1795.6L568.3 1806.6L568.7 1818L569.1 1826.8L569.5 1829.5L569.9 1830.1L570.3 1830.7L570.7 1831.1L571.1 1831.1L571.5 1830.6L571.9 1830L572.3 1829.3L572.7 1828.2L573.1 1825.9L573.5 1823.3L573.9 1820.6L574.3 1817.9L574.7 1815.5L575.1 1814L575.5 1813L575.9 1812.4L576.3 1812.6L576.7 1813.7L577.1 1815L577.5 1816.3L577.9 1817.3L578.3 1817.5L578.7 1817.1L579.1 1816.9L579.5 1817.9L579.9 1820.3L580.3 1823.1L580.7 1825.9L581.1 1828L581.5 1827.6L581.9 1826.4L582.3 1825.2L582.7 1823.6L583.1 1820L583.5 1814.5L583.9 1808.5L584.3 1803.3L584.7 1800.3L585.1 1798.4L585.5 1797.3L585.9 1798.8L586.3 1801.8L586.7 1805.1L587.1 1808.5L587.5 1812.6L587.9 1817.9L588.3 1823.5L588.7 1829.1L589.1 1833.5L589.5 1834.1L589.9 1832.5L590.3 1830.5L590.7 1828.5L591.1 1826.8L591.5 1826.6L591.9 1828.2L592.3 1830.4L592.7 1832.6L593.1 1833.6L593.5 1830.5L593.9 1825.7L594.3 1820.7L594.7 1816L595.1 1812.6L595.5 1810.8L595.9 1809.6L596.3 1808.3L596.7 1807L597.1 1806L597.5 1806.3L597.9 1807.7L598.3 1809.4L598.7 1811.1L599.1 1813.2L599.5 1816.2L599.9 1819.6L600.3 1823L600.7 1826.1L601.1 1827.6L601.5 1827.9L601.9 1827.9L602.3 1827.9" fill="none" stroke="#1e1e1e" stroke-width="0.8" stroke-linejoin="round"/>
</g>
<rect x="141" y="1520.5" width="461.9" height="399.3" fill="none" stroke="#000" stroke-width="1.7"/>
</g>
<g id="ts-e">
<path d="M118.3 2027.3H141M118.3 2066.2H141M118.3 2109.7H141M118.3 2153.2H141M118.3 2196.6H141M118.3 2240.1H141" stroke="#1a1a1a" stroke-width="1.2" fill="none"/>
<path d="M129.6 2053.2H141M129.6 2045.5H141M129.6 2040.1H141M129.6 2035.9H141M129.6 2032.4H141M129.6 2029.5H141M129.6 2024.8H141M129.6 2096.6H141M129.6 2089H141M129.6 2083.5H141M129.6 2079.3H141M129.6 2075.9H141M129.6 2073H141M129.6 2070.5H141M129.6 2068.2H141M129.6 2140.1H141M129.6 2132.4H141M129.6 2127H141M129.6 2122.8H141M129.6 2119.3H141M129.6 2116.4H141M129.6 2113.9H141M129.6 2111.7H141M129.6 2183.5H141M129.6 2175.9H141M129.6 2170.4H141M129.6 2166.2H141M129.6 2162.8H141M129.6 2159.9H141M129.6 2157.4H141M129.6 2155.1H141M129.6 2227H141M129.6 2219.3H141M129.6 2213.9H141M129.6 2209.7H141M129.6 2206.2H141M129.6 2203.3H141M129.6 2200.8H141M129.6 2198.6H141" stroke="#2a2a2a" stroke-width="0.9" fill="none"/>
<text x="112.2" y="2028.4" font-size="22.8" text-anchor="end" fill="#000">1,000</text>
<text x="112.2" y="2074.1" font-size="22.8" text-anchor="end" fill="#000">100</text>
<text x="112.2" y="2117.5" font-size="22.8" text-anchor="end" fill="#000">10</text>
<text x="112.2" y="2161" font-size="22.8" text-anchor="end" fill="#000">1</text>
<text x="112.2" y="2204.4" font-size="22.8" text-anchor="end" fill="#000">0.1</text>
<text x="112.2" y="2247.9" font-size="22.8" text-anchor="end" fill="#000">0.01</text>
<path d="M602.9 2423.3H625.2M602.9 2392.2H625.2M602.9 2361.1H625.2M602.9 2330H625.2M602.9 2298.9H625.2M602.9 2267.8H625.2M602.9 2236.7H625.2M602.9 2205.6H625.2" stroke="#1a1a1a" stroke-width="1.2" fill="none"/>
<path d="M602.9 2413.9H614.4M602.9 2408.5H614.4M602.9 2404.6H614.4M602.9 2401.6H614.4M602.9 2399.1H614.4M602.9 2397H614.4M602.9 2395.2H614.4M602.9 2393.6H614.4M602.9 2382.8H614.4M602.9 2377.4H614.4M602.9 2373.5H614.4M602.9 2370.5H614.4M602.9 2368H614.4M602.9 2365.9H614.4M602.9 2364.1H614.4M602.9 2362.5H614.4M602.9 2351.7H614.4M602.9 2346.3H614.4M602.9 2342.4H614.4M602.9 2339.4H614.4M602.9 2336.9H614.4M602.9 2334.8H614.4M602.9 2333H614.4M602.9 2331.4H614.4M602.9 2320.6H614.4M602.9 2315.2H614.4M602.9 2311.3H614.4M602.9 2308.3H614.4M602.9 2305.8H614.4M602.9 2303.7H614.4M602.9 2301.9H614.4M602.9 2300.3H614.4M602.9 2289.5H614.4M602.9 2284.1H614.4M602.9 2280.2H614.4M602.9 2277.2H614.4M602.9 2274.7H614.4M602.9 2272.6H614.4M602.9 2270.8H614.4M602.9 2269.2H614.4M602.9 2258.4H614.4M602.9 2253H614.4M602.9 2249.1H614.4M602.9 2246.1H614.4M602.9 2243.6H614.4M602.9 2241.5H614.4M602.9 2239.7H614.4M602.9 2238.1H614.4M602.9 2227.3H614.4M602.9 2221.9H614.4M602.9 2218H614.4M602.9 2215H614.4M602.9 2212.5H614.4M602.9 2210.4H614.4M602.9 2208.6H614.4M602.9 2207H614.4" stroke="#2a2a2a" stroke-width="0.9" fill="none"/>
<text x="634.8" y="2430.4" font-size="23.7" text-anchor="start" fill="#000">0.1</text>
<text x="636.3" y="2399.1" font-size="23.7" text-anchor="start" fill="#000">1</text>
<text x="634.9" y="2367.8" font-size="23.7" text-anchor="start" fill="#000">10</text>
<text x="633.4" y="2336.5" font-size="23.7" text-anchor="start" fill="#000">100</text>
<text x="632" y="2305.2" font-size="23.7" text-anchor="start" fill="#000">1,000</text>
<text x="630.5" y="2273.9" font-size="23.7" text-anchor="start" fill="#000">10,000</text>
<text x="629.8" y="2242.6" font-size="23.7" text-anchor="start" fill="#000">100,000</text>
<text x="627.6" y="2211.3" font-size="23.7" text-anchor="start" fill="#000">1,000,000</text>
<path d="M141 2423.3V2442.5M218 2423.3V2442.5M295 2423.3V2442.5M371.9 2423.3V2442.5M448.9 2423.3V2442.5M525.9 2423.3V2442.5M602.9 2423.3V2442.5" stroke="#1a1a1a" stroke-width="1.2" fill="none"/>
<path d="M156.4 2423.3V2433.1M171.8 2423.3V2433.1M187.2 2423.3V2433.1M202.6 2423.3V2433.1M233.4 2423.3V2433.1M248.8 2423.3V2433.1M264.2 2423.3V2433.1M279.6 2423.3V2433.1M310.4 2423.3V2433.1M325.8 2423.3V2433.1M341.2 2423.3V2433.1M356.6 2423.3V2433.1M387.3 2423.3V2433.1M402.7 2423.3V2433.1M418.1 2423.3V2433.1M433.5 2423.3V2433.1M464.3 2423.3V2433.1M479.7 2423.3V2433.1M495.1 2423.3V2433.1M510.5 2423.3V2433.1M541.3 2423.3V2433.1M556.7 2423.3V2433.1M572.1 2423.3V2433.1M587.5 2423.3V2433.1" stroke="#1a1a1a" stroke-width="1.1" fill="none"/>
<text x="141" y="2467.7" font-size="23.4" text-anchor="middle" fill="#000">4</text>
<text x="218" y="2467.7" font-size="23.4" text-anchor="middle" fill="#000">4.05</text>
<text x="295" y="2467.7" font-size="23.4" text-anchor="middle" fill="#000">4.1</text>
<text x="371.9" y="2467.7" font-size="23.4" text-anchor="middle" fill="#000">4.15</text>
<text x="448.9" y="2467.7" font-size="23.4" text-anchor="middle" fill="#000">4.2</text>
<text x="525.9" y="2467.7" font-size="23.4" text-anchor="middle" fill="#000">4.25</text>
<text x="602.9" y="2467.7" font-size="23.4" text-anchor="middle" fill="#000">4.3</text>
<text x="282.1" y="2495.6" font-size="26.2" textLength="160.5" lengthAdjust="spacing">Age [kyrs BP]</text>
<text transform="translate(54.5 2131.4) rotate(-90)" font-size="23.4" text-anchor="middle">Zr [ppm]</text>
<text transform="translate(732.6 2312.1) rotate(-90)" font-size="23.4" text-anchor="middle">Si [ppm]</text>
<text x="-0.5" y="2030.9" font-size="46" font-weight="bold">e</text>
<g clip-path="url(#cts4)">
<path d="M141.8 2217.5L142.9 2208.8L144 2215.4L144 2216.3L145 2202.4L145.1 2216.5L146 2216.5L146.2 2211.9L147.3 2216.5L148 2216L148.4 2213.5L149 2204.2L149.5 2216.4L150 2217.9L150.6 2216.1L151.7 2216.8L152.8 2216.2L153.9 2216.2L155 2215.7L156.1 2209.1L157.2 2216.1L158.3 2216.5L159.4 2216.6L160.5 2211.4L161.6 2216.2L162.7 2211.6L163.8 2208.7L164.9 2216.9L166 2217L167.1 2217.2L168.2 2191L169.3 2216.4L170.4 2211L171.5 2212.6L172.6 2209L172.8 2216.7L173.7 2202.6L173.8 2185.7L174.8 2216.6L174.8 2208.2L175.9 2211.1L177 2217.2L178.1 2210.2L179.2 2217.1L180.3 2217.3L180.7 2216.8L181.4 2217.2L181.7 2202.4L182.5 2216.6L182.7 2217.4L183.6 2217.2L184.7 2217.2L185.8 2217.3L186.9 2217.2L188 2217.4L189.1 2215.7L190.2 2212L191.3 2217.1L192.4 2217.8L193.3 2216.8L193.5 2217.8L194.3 2202.4L194.6 2217.1L195.3 2217L195.7 2216.4L196.8 2215.9L197.9 2216.1L199 2216.6L200.1 2216.7L201.2 2216.2L202.3 2211.2L203.4 2213.7L204.5 2211L205.6 2207L206.7 2216.6L207.8 2215.8L208.9 2203.6L210 2211.3L211.1 2209.6L212.2 2211L212.7 2217.2L213.3 2214.1L213.7 2176.4L214.4 2211.3L214.7 2217L215.5 2215.9L216.6 2198.6L217.7 2207.4L218.8 2208.5L219.9 2217L221 2217.2L222.1 2210.2L223.2 2210.3L224.3 2216.8L225.4 2216.9L226.5 2214.2L227.6 2216.7L228.7 2213L229.8 2216.7L230.9 2216.9L232 2216.9L233.1 2216.9L234.2 2212.1L235.3 2214.2L236.4 2217.7L237.5 2218L238.6 2213L239.7 2212.8L240.8 2212.1L241.9 2217.6L243 2208.4L244.1 2211.1L245.2 2202.6L246.3 2200.6L247.4 2217.9L248.5 2217L249.6 2213.2L250.7 2208.1L251.8 2216.8L252.7 2216.7L252.9 2214.1L253.7 2171.4L254 2208.4L254.7 2216.5L255.1 2217.1L256.2 2209.6L257.3 2216.1L258.4 2210.7L259.5 2212.5L260.6 2216.7L261.7 2210.3L262.8 2216.4L263.9 2215.7L264.2 2216.8L265 2205.2L265.2 2173.3L266.1 2215.9L266.2 2216.8L267.2 2214L268.3 2204.6L269.4 2210.7L270.5 2207.8L271.6 2215.8L272.3 2216.6L272.7 2216.7L273.3 2185L273.8 2198.8L274.3 2216.7L274.9 2212.1L275.5 2217.4L276 2216.4L276.5 2183.9L277.1 2212.1L277.5 2217.5L278.2 2209L279.3 2212.1L280.4 2216.9L281.5 2213L282.6 2212.3L283.7 2217.5L284.8 2208.9L285.9 2212.8L287 2216.8L288.1 2217.2L289.2 2216.8L290.3 2217.3L291.4 2218.4L292.5 2217.6L293.6 2217.4L294.7 2218.1L295.8 2217.7L296.9 2218.4L298 2217L299.1 2216.9L300.2 2216.4L301.3 2209.2L302.4 2216.4L303.5 2217.9L304.6 2209L304.6 2216.8L305.6 2191.7L305.7 2213.4L306.6 2216.3L306.8 2210.8L307.9 2217L309 2216.8L310.1 2216.2L311.2 2217.5L311.8 2216.8L312.3 2206.3L312.8 2201.5L313.4 2217.5L313.8 2216.7L314.5 2216.9L315.6 2213.9L316.7 2216.3L317.8 2216.2L318.9 2216.1L320 2216L321.1 2211.6L322.2 2198.6L323.3 2215L323.7 2216.6L324.4 2216.2L324.7 2194.4L325.5 2206.8L325.7 2216.6L326.6 2214L327.7 2216.4L328.8 2216L329.9 2216.4L331 2208.1L332.1 2216.8L332.1 2217.1L333.1 2182.1L333.2 2215.6L334.1 2216.6L334.3 2217.2L335.4 2216.3L336.5 2217.1L336.6 2217.5L337.6 2216.4L337.6 2190.2L338.6 2216.9L338.7 2207.8L339.8 2211.6L340.9 2216.7L342 2216.7L343.1 2214L344.2 2217.7L345.3 2216.3L346.4 2217.1L347.5 2217.8L348.6 2217.1L349.7 2212.9L350.8 2216.3L351.9 2216.7L353 2213.5L354.1 2216.9L355.2 2214.4L355.5 2216.3L356.3 2214.8L356.5 2170.6L357.4 2216.7L357.5 2216.8L358.5 2217.3L359.6 2190.3L360.7 2210.9L361.8 2218L362.9 2169.2L364 2191L365.1 2199.5L366.2 2217L367.3 2187.4L368.4 2216.3L369.5 2206.1L370.6 2212.7L371.7 2199.3L372.8 2190.1L373.9 2169.6L375 2170.8L376.1 2185.5L377.2 2134.8L378.3 2151.1L378.3 2216.8L379.3 2077.6L379.4 2153.6L380.3 2217.5L380.5 2084.5L381.6 2145L382.7 2215.7L383.8 2140.4L384.9 2215.3L386 2215.9L387.1 2170L388.2 2215.8L389.3 2200.1L390.4 2192.3L391.5 2194.3L392.6 2189.9L393.7 2216.7L394.8 2212.8L395.9 2199.2L397 2216.7L398.1 2193.7L399.2 2201.8L400.3 2212L401.4 2210.1L402.5 2207.7L403.6 2203L404.7 2204.6L405.8 2204.5L406.9 2208.6L408 2208.1L409.1 2146.8L410.2 2218L411.3 2158.5L412.4 2217.7L413.5 2217.2L414.6 2216.4L415.7 2179.7L416.6 2216L416.8 2191.4L417.6 2094.6L417.9 2217.8L418.6 2216.8L419 2154.2L420.1 2166.5L421.2 2203.8L422.3 2160.1L423.4 2201.7L424.5 2217L425.6 2217L426.7 2214.6L427.8 2216.6L428.9 2193.8L430 2215.6L431.1 2201.8L432.2 2198.4L433.3 2159.8L434 2216.7L434.4 2215.4L435 2092.3L435.5 2217L436 2216.8L436.6 2210L437.7 2211L438.8 2217.1L439.9 2203.1L441 2206.7L442.1 2208L443.2 2206.8L444.3 2214.3L445.4 2205L446.5 2216.8L447.6 2206.9L448.6 2216.9L448.7 2209L449.6 2151.2L449.8 2216.3L450.6 2217.1L450.9 2206.8L452 2215.4L453.1 2209.5L454.2 2217.1L455.3 2211.2L456.4 2216.8L457.5 2212.5L458.6 2212.7L459.7 2217.3L460.8 2217.1L461.9 2218.7L463 2217.5L464.1 2217.1L465.2 2213L466.3 2217.1L467.4 2202L468.5 2207L468.7 2217.4L469.6 2160.7L469.7 2136.9L470.7 2217.1L470.7 2216.8L471.8 2196.1L472.9 2201.2L474 2217.2L475.1 2208.4L476.2 2217.3L477.3 2208.5L478.4 2208.1L479.5 2216.9L480.6 2206.5L481.3 2216.4L481.7 2216.1L482.3 2191.1L482.8 2217L483.3 2217L483.9 2216.8L485 2217.1L486.1 2216.3L487.2 2216.8L488.3 2216.7L489.4 2215.5L490.5 2216.5L491.6 2216.4L492.7 2216.2L493 2217.1L493.8 2216.2L494 2204.2L494.9 2215.5L495 2216.8L496 2215.7L497.1 2216.2L498.2 2216.5L499.3 2216.5L500.4 2216.2L501.5 2216L502.6 2216.5L503.7 2216.4L504.8 2216L505.9 2216.9L507 2217.1L508.1 2216.7L509.2 2216.1L510.3 2216.9L511.4 2217L512.5 2202.5L513.6 2212.7L514.7 2209.5L515.8 2214.1L516.9 2204.6L518 2217.3L518.1 2217.5L519.1 2217.3L519.1 2164.2L520.1 2217.7L520.2 2203.1L521.3 2209.7L522.4 2209.4L523.5 2211.2L524.6 2203.4L525.7 2210.2L526.8 2214.8L527.9 2202L529 2211.4L530.1 2206L531.2 2216.5L532.3 2217L533.4 2217.4L534.5 2194.6L535.6 2201.6L536.4 2216.5L536.7 2197.9L537.4 2147.3L537.8 2191.7L538.4 2216.8L538.9 2200.5L540 2211.7L541.1 2211.6L542.2 2216L543.3 2206.6L544.4 2215.6L545.5 2216.5L546.6 2199L547.7 2216.5L548.8 2216.6L549.9 2216.3L551 2192.7L552.1 2208.5L553.2 2215.8L554.3 2207.3L555.4 2216.8L556.2 2216.8L556.5 2201.3L557.2 2173.2L557.6 2209.9L558.2 2216.3L558.7 2205.7L559.8 2206.5L560.9 2202.8L562 2216.2L563.1 2214.6L564.2 2214.4L565.3 2216.7L566.3 2216.1L566.4 2217.7L567.3 2167.4L567.5 2205.8L568.3 2215.8L568.6 2217.4L569.7 2216.7L570.8 2216.8L571.9 2217.4L573 2210.8L574.1 2210.1L575.2 2217.1L576.3 2217.5L577.4 2217.7L578.5 2217.6L579.6 2217.3L580.7 2217.3L581.8 2217.7L582.9 2217.4L584 2211.8L585.1 2211.2L585.5 2217L586.2 2217.5L586.5 2171L587.3 2211.7L587.5 2217.4L588.4 2211.7L589.5 2216.8L590.3 2217L590.6 2216.5L591.3 2178.5L591.7 2218L592.3 2217.7L592.8 2207.3L593.6 2217.2L593.9 2213.8L594.6 2180L595 2211.2L595.6 2216.9L596.1 2213.3L597.2 2210.3L598.1 2217.4L598.3 2212.5L599.1 2205.1L599.4 2217.2L600.1 2216.6L600.5 2212.9" fill="none" stroke="#c9c9c9" stroke-width="1.15" stroke-linejoin="round"/>
<path d="M141.8 2331.1L142.2 2339.2L142.6 2333.7L143 2341.6L143.4 2331.2L143.8 2339.2L144.2 2329.8L144.6 2338L145 2324.4L145.4 2333.5L145.8 2324.9L146.2 2332.3L146.6 2323L147 2341.3L147.4 2323L147.8 2332.3L148.2 2319.3L148.6 2327.5L149 2322.1L149.4 2329L149.8 2318.5L150.2 2328.2L150.6 2317.8L151 2331.7L151.4 2320.9L151.8 2326.2L152.2 2321.7L152.6 2327.6L153 2321.3L153.4 2327.5L153.8 2321L154.2 2327.7L154.6 2316.6L155 2336.7L155.2 2321.4L155.4 2316.2L155.5 2367.1L155.8 2324.5L156.1 2367.1L156.2 2318.5L156.4 2321.4L156.6 2326.9L157 2315.2L157.4 2324L157.8 2311.5L157.8 2315.4L158.2 2322.9L158.3 2297.5L158.6 2307.8L158.8 2315.4L159 2318.1L159.4 2310L159.8 2317.9L160.2 2312.3L160.6 2317.4L161 2307.9L161.4 2317.7L161.8 2309.1L162.2 2320.5L162.6 2313.7L163 2322.9L163.4 2316.7L163.7 2322.1L163.8 2325L164 2348.2L164.2 2319.7L164.6 2348.2L164.6 2328.6L164.9 2322.1L165 2321L165.4 2330.4L165.8 2322.9L166.2 2339.7L166.6 2323.2L167 2337.2L167.4 2324.2L167.8 2338.6L168.2 2318.4L168.6 2329.9L169 2321L169.4 2328.8L169.8 2318.3L170.2 2326.7L170.6 2316.6L171 2321.1L171.4 2312.9L171.8 2318.1L172.2 2306.3L172.6 2315L173 2302.1L173.4 2310.1L173.8 2298.8L174 2303.8L174.2 2314.1L174.5 2298.8L174.6 2301.2L175 2303.8L175 2305.7L175.4 2298.5L175.8 2319.4L176.2 2303.7L176.6 2319.7L177 2304.3L177.4 2315.4L177.8 2308.4L178.2 2317.7L178.6 2311.7L179 2325.9L179.4 2313.3L179.8 2326.9L179.8 2322.1L180.1 2344.6L180.2 2317.9L180.6 2328.6L180.7 2344.6L181 2314.3L181 2322.1L181.4 2334.9L181.8 2317.5L182.2 2324.7L182.6 2314.3L182.6 2319.3L183 2326.5L183.1 2308.7L183.4 2316.8L183.6 2319.3L183.8 2322.1L184.2 2316.3L184.6 2326.7L185 2321.5L185.4 2341.3L185.8 2324.1L186.2 2334L186.6 2327.1L187 2336.8L187.4 2328.2L187.8 2339.2L188.2 2333.2L188.6 2342.1L189 2337L189.4 2343.4L189.8 2333.9L190.2 2338.1L190.6 2330.4L190.6 2328.7L190.9 2353.6L191 2334L191.4 2323.1L191.5 2353.6L191.8 2332.4L191.8 2328.7L192.2 2317.9L192.6 2329.2L193 2316.1L193 2321.1L193.4 2325.5L193.5 2296.1L193.8 2317.3L194 2321.1L194.2 2319.4L194.2 2323.4L194.5 2366.2L194.6 2315.8L195 2323.1L195.1 2366.2L195.4 2319.4L195.4 2312.5L195.8 2324.6L196.2 2314.4L196.6 2327.8L197 2310.3L197.4 2323.1L197.8 2310.1L198.2 2316.9L198.6 2309.6L199 2315.9L199.4 2308L199.8 2321.1L200.2 2308.8L200.6 2315.5L201 2308.9L201.4 2317.3L201.5 2314.8L201.8 2307.3L202 2301.5L202.2 2318.4L202.5 2314.8L202.6 2312.7L203 2328.4L203.4 2316.9L203.8 2330.9L204.2 2320.5L204.6 2340.5L205 2325.1L205.4 2337.2L205.8 2328.5L206.2 2347.4L206.6 2329.8L207 2342.4L207.4 2328.7L207.8 2347.4L208.2 2330.7L208.6 2327.3L208.6 2335.2L208.9 2352.7L209 2326.3L209.4 2328.8L209.5 2352.7L209.8 2327.3L209.8 2320.9L210.2 2326.4L210.6 2315.6L211 2319.1L211.4 2306.5L211.8 2312.2L212.2 2301L212.6 2308.6L212.8 2305.8L213 2303.7L213.3 2281.4L213.4 2310.9L213.8 2301.9L213.8 2305.8L214.2 2314.7L214.6 2300.1L215 2318.1L215.4 2307.2L215.8 2316.3L216.2 2304.5L216.6 2326.5L217 2318.7L217.4 2331.4L217.6 2332L217.8 2325.3L217.9 2353.6L218.2 2337.2L218.5 2353.6L218.6 2329L218.8 2332L219 2343.6L219.4 2333.2L219.8 2345.1L220.2 2337.9L220.6 2347.8L221 2333.8L221.1 2334.8L221.4 2343.1L221.4 2364.4L221.8 2330.5L222 2364.4L222.2 2336.9L222.3 2334.8L222.6 2329.5L223 2336.8L223.2 2331.3L223.4 2328.7L223.7 2302.9L223.8 2334.4L224.2 2325.7L224.2 2331.3L224.6 2345.4L225 2327L225.4 2341.3L225.8 2328.6L226 2332.9L226.2 2335.4L226.3 2400.3L226.6 2330.3L226.9 2400.3L227 2332.8L227.2 2332.9L227.4 2324.6L227.8 2330.1L228.2 2316.8L228.6 2328.4L228.8 2320.9L229 2317.8L229.3 2302.9L229.4 2325.5L229.8 2320.9L229.8 2317.7L230.2 2329.9L230.6 2318.7L231 2335.5L231.4 2317.2L231.8 2331.5L231.9 2332.6L232.2 2324.1L232.2 2352.7L232.6 2340L232.8 2352.7L233 2332.3L233.1 2332.6L233.4 2347.8L233.8 2336.1L234.2 2345.9L234.6 2335.6L235 2342.8L235.4 2335.1L235.8 2341.8L236.2 2334.6L236.6 2345.9L237 2335.5L237.4 2343.2L237.8 2336.5L238.2 2354.5L238.6 2337.7L239 2347.3L239.4 2336L239.8 2347.2L240.2 2337.9L240.6 2353.5L241 2338.8L241.4 2344.4L241.8 2338.4L242.2 2341.6L242.2 2354.5L242.5 2395.8L242.6 2338L243 2346.6L243.1 2395.8L243.4 2341.6L243.4 2336.1L243.8 2356.6L244.2 2340.1L244.6 2345.8L245 2339.4L245.4 2346.2L245.8 2341.8L245.8 2337.9L246.1 2366.2L246.2 2347.8L246.6 2338.2L246.7 2366.2L247 2341.8L247 2344.8L247.4 2334.1L247.8 2346.8L248.2 2338.4L248.6 2344.5L249 2339.5L249.4 2347.2L249.8 2338.4L249.9 2337.9L250.2 2394.9L250.2 2354.5L250.6 2332.3L250.8 2394.9L251 2337.6L251.1 2337.9L251.4 2328.6L251.8 2334L252.2 2319.3L252.6 2333L253 2314.9L253.4 2319.2L253.8 2307.2L254.2 2317.4L254.6 2306.2L255 2320L255.4 2311L255.4 2305.8L255.8 2317.5L255.9 2299.7L256.2 2308L256.4 2311L256.6 2318.1L257 2308.7L257.4 2319.5L257.8 2311.9L258.2 2321.9L258.6 2320.5L259 2333.5L259.4 2326.5L259.8 2338.8L260.2 2325.4L260.6 2342.7L261 2326.3L261.4 2332.9L261.8 2326.7L262.2 2333.5L262.6 2318.6L263 2334.1L263.4 2314.8L263.5 2317.1L263.8 2320.8L264 2292.1L264.2 2313L264.5 2317.1L264.6 2321.8L265 2313.7L265.4 2328.4L265.8 2313.9L266.1 2323L266.2 2324.8L266.4 2361.7L266.6 2320.2L267 2361.7L267 2328.6L267.3 2323L267.4 2324L267.8 2334.7L268.2 2330L268.6 2339.8L269 2329.9L269.4 2336.1L269.8 2326.6L270.2 2345.6L270.6 2323.3L271 2333.3L271.4 2324L271.8 2327.4L272.2 2317L272.6 2335.6L273 2314.7L273.4 2324.2L273.8 2306.8L274.2 2323.8L274.6 2303.1L275 2317.1L275.1 2308.5L275.4 2303.4L275.6 2283.9L275.8 2313.2L276.1 2308.5L276.2 2305.4L276.6 2316.2L277 2306L277.4 2328.3L277.8 2313.4L278.2 2324.3L278.6 2316.5L279 2330L279.4 2327.1L279.5 2333.4L279.8 2336.6L279.8 2357.2L280.2 2325.8L280.4 2357.2L280.6 2343L280.7 2333.4L281 2334.5L281.4 2341.3L281.8 2335.7L282.2 2346.4L282.6 2335L283 2341.1L283.4 2332.1L283.8 2339.3L284.2 2333.4L284.6 2341.1L285 2333L285.4 2342.6L285.8 2333.1L286.2 2344.6L286.4 2342L286.6 2336.2L286.7 2366.2L287 2353.5L287.3 2366.2L287.4 2338.8L287.6 2342L287.8 2356.6L288.2 2338.4L288.6 2349.6L289 2337.2L289.4 2347.2L289.8 2334.6L290.2 2345.4L290.6 2336.3L291 2342.3L291.4 2335L291.8 2348.5L292.2 2334L292.6 2340.4L293 2330.6L293.4 2350.2L293.8 2334.9L293.9 2338.2L294.2 2344L294.2 2366.2L294.6 2333.7L294.8 2366.2L295 2347.6L295.1 2338.2L295.4 2336.2L295.8 2348.9L296.2 2332.2L296.6 2343.6L297 2334.1L297.4 2339.7L297.8 2333.8L298.2 2351.7L298.6 2331.5L299 2343.4L299.4 2332.5L299.8 2344.1L299.8 2336.5L300.1 2397.6L300.2 2333.8L300.6 2347.4L300.7 2397.6L301 2331.7L301 2336.5L301.4 2342.8L301.6 2333.5L301.8 2331.3L302.1 2308.3L302.2 2336.8L302.6 2333.5L302.6 2330.8L303 2335.7L303.4 2328.7L303.8 2333.3L304.2 2323L304.6 2337.3L305 2317.8L305.4 2327L305.8 2317.7L306.2 2329.3L306.6 2313.9L307 2333L307.4 2313.4L307.8 2329.5L308 2321.2L308.2 2317.7L308.5 2304.2L308.6 2327.9L309 2315.3L309 2321.2L309.4 2335L309.8 2316.1L310.2 2330.6L310.6 2324.9L311 2334.3L311.4 2328.1L311.8 2335.7L312.2 2326.6L312.6 2339.6L313 2322.9L313.4 2330.2L313.8 2322.2L314.2 2330L314.6 2326.6L314.6 2321.4L314.9 2357.2L315 2329.3L315.4 2322.2L315.5 2357.2L315.8 2326.6L315.8 2334.2L316.2 2315.3L316.6 2323.7L317 2309.9L317.4 2315.5L317.4 2329.7L317.8 2311.1L317.9 2305.4L318.2 2319.2L318.4 2315.5L318.6 2315.1L318.7 2326.2L319 2337L319 2367.1L319.4 2324.4L319.6 2367.1L319.8 2346.3L319.9 2326.2L320.2 2334.3L320.6 2342.2L321 2332.6L321.4 2354.3L321.8 2338L322.2 2345.3L322.6 2334.1L323 2336.2L323.4 2322.5L323.7 2323.5L323.8 2338.3L324.2 2295.2L324.2 2321.2L324.6 2327.9L324.7 2323.5L325 2313.7L325.4 2330L325.8 2319.1L326.2 2323.8L326.3 2318.1L326.6 2346.4L326.6 2315L327 2324L327.2 2346.4L327.4 2312.8L327.5 2318.1L327.8 2313.7L327.8 2322.5L328.2 2310.5L328.3 2297.9L328.6 2327.9L328.8 2313.7L329 2309.5L329.4 2320.2L329.8 2307.8L330.2 2317.4L330.6 2305.4L331 2316.3L331.4 2311.3L331.8 2329.9L332.2 2311.7L332.6 2320.3L333 2315.1L333.4 2321.5L333.8 2311.9L334.2 2322.9L334.6 2315L335 2324.1L335.4 2316L335.8 2322.1L336.2 2312.6L336.6 2325L336.8 2315.1L337 2311.3L337.3 2297.9L337.4 2321L337.8 2315.1L337.8 2312.4L338.2 2321.8L338.5 2319.4L338.6 2310.6L338.8 2359L339 2323.1L339.4 2359L339.4 2313.7L339.7 2319.4L339.8 2329.7L340.2 2321.7L340.6 2334.7L341 2324.5L341.4 2333L341.8 2326.1L342.2 2332L342.6 2326.5L343 2334.1L343.3 2331L343.4 2322.4L343.6 2364.4L343.8 2335.4L344.2 2329.7L344.2 2364.4L344.5 2331L344.6 2342.6L345 2328.8L345.4 2341.7L345.8 2330.7L346.2 2335.2L346.4 2329.6L346.6 2324.9L346.7 2397.6L347 2335.6L347.3 2397.6L347.4 2326.1L347.6 2329.6L347.8 2333.3L347.9 2327.8L348.2 2323.5L348.4 2308.7L348.6 2334.8L348.9 2327.8L349 2323.1L349.4 2331.5L349.8 2326.2L350.2 2335.9L350.6 2328.8L351 2339.1L351.4 2328L351.8 2339.6L352.2 2332.6L352.6 2341.6L353 2333.7L353.2 2337.6L353.4 2346.8L353.5 2351.8L353.8 2333.9L354.1 2351.8L354.2 2341.5L354.4 2337.6L354.6 2333.5L355 2338.8L355.4 2328.6L355.8 2332.5L356.2 2321.1L356.6 2329.1L357 2321.4L357.4 2336.1L357.7 2328.1L357.8 2322.8L358 2397.6L358.2 2331.5L358.6 2397.6L358.6 2326.4L358.9 2328.1L359 2338.7L359.4 2327.4L359.8 2342.4L360.2 2323.9L360.6 2332.9L361 2320.6L361.4 2327.3L361.8 2310.5L362.2 2319.9L362.6 2303.6L363 2308.8L363.4 2293.4L363.8 2298.1L364.1 2281.7L364.2 2285.1L364.6 2265.5L364.6 2290.3L365 2276.1L365.1 2281.7L365.4 2283.1L365.8 2275.8L366.2 2281.4L366.6 2274.5L367 2290.8L367.4 2279.1L367.8 2288.8L368.2 2279.2L368.6 2289L369 2276.4L369.4 2285L369.8 2271.2L369.8 2277.7L370.2 2282.6L370.3 2270.9L370.6 2274.3L370.8 2277.7L371 2283.3L371.4 2273.8L371.8 2292L372.2 2291.9L372.6 2307.4L373 2303.1L373.4 2307.1L373.8 2293.9L374.2 2298.7L374.6 2283.9L375 2294L375.4 2283.2L375.8 2290.1L376.2 2288.7L376.6 2284.1L376.6 2302.3L376.9 2319.4L377 2288.8L377.4 2280.9L377.5 2319.4L377.8 2284.1L377.8 2256.2L378.2 2261.5L378.6 2246.6L379 2248.1L379.4 2236.9L379.8 2245.4L380.2 2230.9L380.6 2240.9L381 2235L381.4 2241.8L381.8 2233.2L382.2 2243.4L382.6 2239.2L383 2255.2L383.4 2251.4L383.8 2264.7L384.2 2260.1L384.6 2277.4L385 2274.6L385.4 2292L385.8 2285.3L386.2 2295.9L386.6 2289.1L387 2300.2L387.4 2293L387.8 2300.3L388.2 2292.5L388.6 2300.1L389 2294L389.4 2302.3L389.8 2297.8L390.2 2310.4L390.6 2300.5L391 2310.5L391 2311.6L391.3 2318.5L391.4 2307.2L391.8 2311.9L391.9 2318.5L392.2 2310.5L392.2 2301.9L392.6 2306.2L393 2298L393.4 2301.1L393.8 2292.9L394.2 2306.5L394.6 2295.4L395 2308.3L395.4 2297L395.8 2312.8L396.2 2303.7L396.6 2309.4L397 2298.4L397.4 2311.7L397.8 2296.7L398.2 2308.1L398.6 2292.9L399 2304.7L399.4 2301.2L399.8 2310.3L400.2 2300L400.6 2304.4L401 2295.5L401.4 2301.4L401.8 2293.8L402.2 2300L402.6 2292.5L403 2302.8L403.4 2298L403.8 2309L404.2 2297.8L404.4 2296.5L404.6 2302.8L404.7 2312.3L405 2292.9L405.3 2312.3L405.4 2301.6L405.6 2296.5L405.8 2287.2L406.2 2293.9L406.6 2287.3L407 2293.1L407.4 2284.6L407.8 2295.7L408.2 2286.2L408.6 2294.3L409 2288.1L409.4 2297.8L409.8 2294.5L410.2 2307.6L410.6 2303.5L411 2324.2L411.4 2315.5L411.8 2329.7L412.2 2323.8L412.6 2335.1L413 2328.7L413.4 2337.3L413.4 2332.4L413.7 2346.4L413.8 2328.7L414.2 2335.3L414.3 2346.4L414.6 2328.3L414.6 2332.4L415 2336.6L415.4 2325.9L415.8 2339.5L416.2 2322.9L416.6 2333L417 2316L417 2297L417.3 2352.7L417.4 2307.6L417.8 2292.2L417.9 2352.7L418 2295.3L418.2 2299.9L418.2 2297L418.5 2283.5L418.6 2289.9L419 2298.1L419 2295.3L419.4 2292.6L419.8 2305.9L420.2 2301.3L420.6 2319.1L421 2311.6L421.4 2324.1L421.8 2316L422.2 2322.6L422.6 2312.6L423 2319.9L423.4 2309.3L423.8 2315.8L424.2 2306L424.6 2315.9L425 2308.4L425.4 2316.7L425.8 2310.5L426.2 2321.2L426.6 2316.2L427 2331.5L427.4 2318.6L427.8 2327.6L428.2 2313.5L428.6 2329.4L428.7 2325.7L429 2365.3L429 2321.8L429.4 2328.9L429.6 2365.3L429.8 2323.3L429.9 2325.7L430.2 2333.1L430.6 2321.6L431 2328.3L431.4 2316.4L431.8 2323.7L432.2 2309.2L432.6 2321.1L433 2303.2L433.4 2311L433.8 2301L434.2 2306.8L434.6 2299.5L435 2306.9L435.4 2299.9L435.8 2306.4L436.2 2298.3L436.6 2307L437 2298.7L437.4 2304.6L437.8 2293.6L438.2 2302.9L438.6 2294.8L439 2301.1L439.4 2292.1L439.8 2299.9L439.9 2298.8L440.2 2293.9L440.4 2285.3L440.6 2302.5L440.9 2298.8L441 2297.2L441.3 2311.2L441.4 2309.3L441.6 2341L441.8 2307.1L442.2 2341L442.2 2318.5L442.5 2311.2L442.6 2314.8L443 2317.8L443.4 2308.2L443.8 2311.7L444.2 2303.3L444.6 2311.2L445 2305.3L445.4 2316.8L445.8 2305.8L446.2 2320.8L446.6 2314.6L447 2331.2L447.4 2320.3L447.6 2332L447.8 2335.1L447.9 2349.1L448.2 2327.1L448.5 2349.1L448.6 2334.6L448.8 2332L449 2316.1L449.1 2312.6L449.4 2319.6L449.6 2282.1L449.8 2303.9L450.1 2312.6L450.2 2313.1L450.6 2305.5L451 2315.1L451.4 2309.8L451.8 2319.6L452.2 2316L452.6 2328.6L453 2318.3L453.4 2329.3L453.8 2322.1L454.2 2332.4L454.6 2323.9L455 2332.8L455.4 2327.1L455.6 2331.1L455.8 2333.4L455.9 2343.7L456.2 2328.6L456.5 2343.7L456.6 2335.9L456.8 2331.1L457 2318.2L457.4 2328L457.8 2316.6L458.2 2323.7L458.6 2310.6L459 2317.4L459.4 2308.3L459.8 2321.3L460.2 2307.9L460.6 2316L461 2305.1L461.4 2317L461.8 2311.4L462.2 2319.6L462.6 2313.6L463 2321.3L463.4 2313.4L463.8 2319.2L464.2 2310.5L464.6 2314.6L465 2301.4L465.4 2307.3L465.8 2298.2L466.2 2303.2L466.6 2293.6L467 2297.3L467.4 2289L467.8 2299.1L468.2 2284.6L468.6 2290.1L468.9 2287.9L469 2284.1L469.4 2270.9L469.4 2290.9L469.8 2284.8L469.9 2287.9L470.2 2294.5L470.6 2292.2L471 2304.2L471.4 2295.2L471.8 2307.3L472.2 2298L472.6 2305.3L473 2301.1L473.4 2310.7L473.8 2305L474.2 2318.4L474.6 2305.6L475 2329.7L475.4 2315.4L475.8 2329.9L476.2 2318L476.4 2322.8L476.6 2332.6L476.9 2297.9L477 2321.1L477.4 2322.8L477.4 2339.6L477.6 2340.1L477.8 2332.7L477.9 2399.4L478.2 2345.9L478.5 2399.4L478.6 2332.5L478.8 2340.1L479 2336.8L479.4 2321.5L479.8 2322.7L480.2 2316.6L480.6 2338.5L481 2316.2L481.4 2338.6L481.8 2320.2L482.2 2334.5L482.6 2326.1L483 2334.4L483.4 2331.3L483.8 2338.6L484.2 2332.8L484.4 2342.8L484.6 2363.2L484.7 2397.6L485 2340.2L485.3 2397.6L485.4 2357.8L485.6 2342.8L485.8 2341.2L486.2 2356L486.6 2343.3L487 2352.8L487.1 2342.4L487.4 2398.5L487.4 2336.8L487.8 2346.5L488 2398.5L488.2 2334.6L488.3 2342.4L488.6 2350.7L489 2327.5L489.4 2339.2L489.8 2330.1L490.2 2342.6L490.6 2323.7L491 2337L491.4 2316.3L491.7 2315.2L491.8 2321.8L492.2 2302.4L492.2 2307.7L492.6 2324.6L492.7 2315.2L493 2311.6L493.4 2322.1L493.8 2313.7L494.2 2322.6L494.6 2318.7L495 2332.4L495.4 2327.5L495.8 2340.1L496.2 2334.6L496.6 2348.7L497 2346.8L497 2340L497.3 2398.5L497.4 2355.3L497.8 2343.3L497.9 2398.5L498.2 2346.8L498.2 2356.4L498.6 2340.9L499 2355.6L499.4 2342L499.8 2351L500.2 2339.3L500.6 2346.7L501 2341.9L501.4 2349.1L501.8 2337.1L502.2 2337.2L502.6 2321.6L503 2323.6L503.4 2315.7L503.8 2327.1L504.2 2308.6L504.2 2314.3L504.6 2317.7L504.7 2297L505 2313.3L505.2 2314.3L505.4 2328.4L505.8 2317.9L506.2 2337.7L506.6 2321.6L507 2341.1L507.4 2327.7L507.4 2329L507.7 2395.8L507.8 2332.8L508.2 2322.3L508.3 2395.8L508.6 2327.7L508.6 2334L509 2315.1L509.4 2321.2L509.6 2313.7L509.8 2312.5L510.1 2306L510.2 2323.8L510.6 2312.3L510.6 2313.7L511 2323.7L511.4 2314.8L511.8 2334.4L512.2 2326.6L512.2 2341.8L512.5 2366.2L512.6 2341.5L513 2342.5L513.1 2366.2L513.4 2359.9L513.4 2341.8L513.8 2344.4L514.2 2348.8L514.6 2341.6L515 2347.1L515.4 2341.5L515.8 2347.8L516.2 2340.2L516.6 2345.9L517 2340.6L517.4 2358.7L517.6 2333.8L517.8 2334.4L517.9 2398.5L518.2 2337.8L518.5 2398.5L518.6 2327L518.6 2327.9L518.8 2333.8L519 2338.5L519.1 2307.8L519.4 2320L519.6 2327.9L519.8 2333.9L520.2 2323.1L520.6 2332.6L521 2326.9L521.4 2344.8L521.8 2335.2L521.8 2331.6L522.1 2397.6L522.2 2338.7L522.6 2331.3L522.7 2397.6L523 2335.2L523 2349.3L523.4 2330.3L523.8 2340.8L524.2 2317.1L524.6 2321.7L524.9 2309.7L525 2306.6L525.4 2313.2L525.4 2300.6L525.8 2305.4L525.9 2309.7L526.2 2314.3L526.6 2305.6L527 2323L527.4 2317.1L527.8 2331.3L528.2 2329.9L528.6 2344L529 2331.2L529.4 2346.7L529.8 2331.6L530.2 2341.8L530.6 2333.5L531 2342.3L531.4 2332.3L531.8 2356.1L532 2337.4L532.2 2334.3L532.3 2366.2L532.6 2349L532.9 2366.2L533 2336.7L533.2 2337.4L533.4 2360.1L533.8 2337.1L533.9 2336.8L534.2 2347L534.4 2298.8L534.6 2332.7L534.9 2336.8L535 2336.7L535.4 2322.9L535.8 2346.9L536.2 2324.8L536.6 2335.4L536.8 2323.7L537 2321.4L537.1 2396.7L537.4 2327.6L537.7 2396.7L537.8 2316.1L538 2323.7L538.2 2316.9L538.4 2311.2L538.6 2308.1L538.9 2297L539 2315.1L539.4 2311.2L539.4 2301.3L539.8 2317L540.2 2310.9L540.6 2320.4L541 2314.3L541.4 2335.3L541.8 2330.1L542.2 2343.5L542.2 2343.2L542.5 2368L542.6 2336.5L543 2349.4L543.1 2368L543.4 2340.5L543.4 2343.2L543.8 2367.2L544.2 2331.1L544.6 2336.2L545 2303.9L545.4 2320.5L545.8 2303.9L546.2 2308.9L546.6 2306L547 2324.2L547.4 2321.8L547.8 2343.8L548.2 2324.8L548.6 2337.5L548.8 2314.1L549 2314.1L549.3 2283.9L549.4 2316.6L549.8 2308.7L549.8 2314.1L550.2 2316.9L550.6 2311.4L551 2321.2L551.4 2320.7L551.8 2343.2L552.2 2326.7L552.6 2338.5L552.7 2341L553 2366.2L553 2335.2L553.4 2345.9L553.6 2366.2L553.8 2336.3L553.9 2341L554.2 2353.2L554.6 2335.4L555 2347.1L555.4 2332L555.8 2349.8L556.2 2316.8L556.6 2335.8L557 2305.7L557.4 2312.6L557.8 2305.4L557.8 2298.8L558.2 2309.8L558.3 2291.6L558.6 2303.3L558.8 2305.4L559 2314.6L559.4 2309.1L559.8 2322.5L560.2 2310.8L560.6 2326.2L561 2324.4L561.4 2337.9L561.8 2326.5L562.2 2342.9L562.6 2335L563 2348.1L563.4 2340.5L563.8 2345.5L563.8 2358.6L564.1 2400.3L564.2 2338.6L564.6 2347.2L564.7 2400.3L565 2345.5L565 2334.8L565.4 2335.3L565.8 2321.9L566.2 2328.6L566.6 2316.9L567 2322.7L567.4 2316.2L567.8 2329.3L568.2 2314.6L568.6 2326.9L569 2322.9L569.4 2346.5L569.8 2332.3L570.2 2351.7L570.3 2339L570.6 2399.4L570.6 2336.9L571 2361.7L571.2 2399.4L571.4 2336.3L571.5 2339L571.8 2341.6L572.2 2335.4L572.6 2353.2L573 2332.2L573.4 2342.8L573.8 2326.6L574.2 2337.9L574.3 2329.1L574.6 2326L574.8 2313.2L575 2334.3L575.3 2329.1L575.4 2323L575.8 2343.7L576.2 2325.7L576.6 2332.3L577 2326.5L577.4 2338.8L577.8 2327.6L578.2 2328.7L578.2 2336.5L578.5 2397.6L578.6 2327.3L579 2332.9L579.1 2397.6L579.4 2328.7L579.4 2317.6L579.8 2332.5L580.2 2317.2L580.6 2331.4L581 2316.7L581.4 2324.5L581.8 2313.1L582.2 2323.6L582.6 2311.3L583 2318.1L583.4 2301.1L583.8 2306.7L584.2 2299.4L584.6 2303.9L585 2296.7L585.4 2302.9L585.8 2295.6L586 2300.9L586.2 2305.1L586.5 2281.4L586.6 2299L587 2300.9L587 2306.4L587.4 2295.4L587.8 2311.4L588.2 2304.9L588.6 2310.9L589 2305.2L589.4 2317.3L589.8 2300.7L590.2 2307.9L590.6 2293.9L590.8 2297L591 2304.4L591.3 2289.8L591.4 2291.9L591.8 2306.3L591.8 2297L592.2 2295.1L592.6 2306.3L593 2300.6L593.4 2310L593.8 2303.8L594 2309.4L594.2 2314.7L594.3 2327.5L594.6 2306.5L594.9 2327.5L595 2315.6L595.2 2309.4L595.4 2305.7L595.8 2311.4L596.2 2300.3L596.6 2308.6L597 2293.3L597.3 2298.7L597.4 2301.7L597.8 2294.9L597.8 2271.8L598.2 2308.1L598.3 2298.7L598.6 2297.3L599 2314.4L599 2315.3L599.3 2338.3L599.4 2316.1L599.8 2321.2L599.9 2338.3L600.2 2298.7L600.2 2315.3L600.6 2297.7L601 2289.2L601.4 2298.1L601.8 2283.6" fill="none" stroke="#c9c9c9" stroke-width="1.15" stroke-linejoin="round"/>
<rect x="357.8" y="2023.5" width="99.3" height="399.1" fill="url(#gG)" style="mix-blend-mode:multiply"/>
<rect x="463.2" y="2023.5" width="14.7" height="399.1" fill="url(#gO)" style="mix-blend-mode:multiply"/>
<path d="M149 2212L152.6 2214.1L156.2 2213.8L160.7 2210.2L165.2 2207.8L168.7 2206L172 2203.7L175 2203.7L176.8 2206.9L178.6 2210.5L182.8 2213.2L188.5 2213.6L193 2211.4L197.5 2211.4L200.7 2210.2L201.4 2203.7L207.4 2203.3L212.8 2203L217.3 2204.2L222.6 2205.1L227.7 2205.5L228.6 2212L231.6 2212.7L235.2 2212L239.2 2211.4L240.3 2205.1L242.4 2201.9L246 2200.6L250.5 2200.1L253.2 2198.8L255 2197.6L255.9 2199.4L256.8 2206.6L258.9 2204.2L262.2 2202.4L264.3 2203L265.8 2204.2L268.5 2201.5L271.2 2200.1L273.3 2199.7L274.7 2196.5L276.2 2198.8L277.4 2204.2L281 2205.5L285.5 2207.3L289.1 2208.4L291.8 2213.2L295.4 2212.3L298.1 2212L301.7 2210.2L304.4 2208.7L306.2 2206.9L308.9 2207.8L311.6 2210.5L315.2 2212L317.9 2210.5L321.5 2208.4L325.1 2208.7L327.7 2208.7L330.1 2212.3L330.8 2206L333.1 2203.7L334.4 2201.9L335.8 2205.5L338.5 2206.9L342.1 2208.7L345.7 2212.3L349.3 2211.4L352.4 2208.7L353.8 2198L356.5 2194.4L358.3 2189.9L359.5 2191.7L361.3 2167.4L363.7 2162.9L365.5 2148.5L366.7 2147.6L368.2 2153.9L369.6 2146.7L370.9 2149.4L372.7 2177.3L373.6 2170.1L375 2170.6L375 2171L376.3 2173.7L377.5 2127.9L379 2094.6L380.4 2086.9L381.9 2089.3L383.5 2109.9L385.3 2149.4L386.5 2172.8L388.3 2171L390.1 2181.8L392.5 2189L394.3 2190.8L396.9 2196.2L399.6 2200.1L401.4 2197.1L403.2 2201.2L405.9 2199.7L408.1 2204.8L409 2145.5L422.6 2145.5L423.5 2215.6L427.1 2215.6L427.9 2195.3L430.2 2192.6L432.9 2188.6L433.4 2131.8L436.1 2131.5L436.8 2194.4L439.2 2195.8L441.9 2202.4L443.7 2208.7L444.4 2194.7L449.1 2194.4L455.3 2194.4L456.2 2213.8L459.8 2213.2L463.4 2212.7L465.2 2206.9L466.7 2187.2L467.9 2167.4L469.2 2161.7L470.6 2167.4L472 2202.4L475.1 2201.9L477.8 2206L481.4 2209.6L485 2212.3L489.5 2212L493.1 2216.3L497.6 2215.6L503.8 2215.6L507.4 2213.8L510.1 2212.7L510.9 2201L519.1 2201.2L528.1 2201.5L528.8 2187.5L532.6 2186.8L536.2 2185L538.5 2183.2L539.8 2203.3L543.4 2205.5L545.7 2206.9L547.5 2215L550.2 2215.9L551.1 2206.6L554.2 2206L556 2202.4L557.7 2197.6L559.5 2202.4L561.9 2198.8L564.9 2200.6L567.6 2202.4L573.9 2202.4L574.8 2214.1L577.5 2214.1L581.1 2209.6L583.4 2205.1L584.7 2192.6L586.1 2189.3L587.4 2196.2L588.8 2206.9L590.6 2201.5L592.4 2197.6L594.2 2203.3L596.7 2205.1" fill="none" stroke="#1e1e1e" stroke-width="0.8" stroke-linejoin="round"/>
<path d="M143.2 2336.2L143.6 2335.2L144 2333.8L144.4 2332.5L144.8 2331.2L145.2 2329.9L145.6 2329L146 2328.3L146.4 2327.7L146.8 2327.1L147.2 2326.5L147.6 2325.9L148 2325.3L148.4 2325L148.8 2324.7L149.2 2324.4L149.6 2324.1L150 2323.8L150.4 2323.5L150.8 2323.3L151.2 2323.2L151.6 2323.3L152 2323.6L152.4 2323.8L152.8 2324.1L153.2 2324.3L153.6 2324.2L154 2323.7L154.4 2323.2L154.8 2322.7L155.2 2322.1L155.6 2321.6L156 2321L156.4 2320.2L156.8 2319.2L157.2 2318.2L157.6 2317.2L158 2316.1L158.4 2315.3L158.8 2314.9L159.2 2314.7L159.6 2314.6L160 2314.4L160.4 2314.3L160.8 2314.2L161.2 2314.3L161.6 2315.1L162 2316.1L162.4 2317.1L162.8 2318.1L163.2 2319.2L163.6 2320.3L164 2321.5L164.4 2322.7L164.8 2323.9L165.2 2325.1L165.6 2326.3L166 2327.2L166.4 2327.4L166.8 2327.4L167.2 2327.3L167.6 2327.2L168 2327.1L168.4 2327L168.8 2326.4L169.2 2325.1L169.6 2323.5L170 2321.9L170.4 2320.4L170.8 2318.6L171.2 2316.4L171.6 2313.8L172 2311.2L172.4 2308.7L172.8 2306.9L173.2 2306L173.6 2305.3L174 2304.6L174.4 2303.9L174.8 2303.4L175.2 2303.6L175.6 2304.5L176 2305.6L176.4 2306.6L176.8 2307.7L177.2 2309.1L177.6 2311L178 2313.2L178.4 2315.3L178.8 2317.4L179.2 2319.6L179.6 2321.5L180 2322.4L180.4 2322.1L180.8 2321.4L181.2 2320.8L181.6 2320.1L182 2319.5L182.4 2319.2L182.8 2319.2L183.2 2319.3L183.6 2319.4L184 2319.9L184.4 2321.7L184.8 2323.8L185.2 2326L185.6 2328.1L186 2330.3L186.4 2332.1L186.8 2333.3L187.2 2334.3L187.6 2335.4L188 2336.5L188.4 2337.5L188.8 2338.6L189.2 2339.2L189.6 2338.4L190 2336.1L190.4 2333.6L190.8 2331.1L191.2 2328.5L191.6 2326L192 2323.8L192.4 2322.7L192.8 2322.1L193.2 2321.5L193.6 2321L194 2320.5L194.4 2319.9L194.8 2319.5L195.2 2319.1L195.6 2318.8L196 2318.5L196.4 2318.1L196.8 2317.4L197.2 2316.4L197.6 2315.4L198 2314.5L198.4 2313.5L198.8 2312.6L199.2 2312L199.6 2311.7L200 2311.4L200.4 2311.1L200.8 2311.4L201.2 2312.4L201.6 2313.7L202 2315L202.4 2316.2L202.8 2317.7L203.2 2319.7L203.6 2321.9L204 2324.2L204.4 2326.4L204.8 2328.7L205.2 2330.9L205.6 2332.5L206 2332.9L206.4 2332.9L206.8 2332.9L207.2 2332.9L207.6 2332.9L208 2332.7L208.4 2331.6L208.8 2329.4L209.2 2326.9L209.6 2324.4L210 2321.9L210.4 2319.3L210.8 2316.4L211.2 2313.4L211.6 2310.4L212 2307.7L212.4 2306.2L212.8 2305.8L213.2 2305.8L213.6 2305.7L214 2305.9L214.4 2306.7L214.8 2307.8L215.2 2308.9L215.6 2310.2L216 2312.7L216.4 2316.1L216.8 2319.8L217.2 2323.5L217.6 2327.2L218 2330.6L218.4 2333L218.8 2334.7L219.2 2336.3L219.6 2337.9L220 2339.5L220.4 2340.5L220.8 2339.5L221.2 2337.5L221.6 2335.4L222 2333.5L222.4 2332.2L222.8 2331.8L223.2 2331.6L223.6 2331.4L224 2331.2L224.4 2331L224.8 2330.8L225.2 2330.8L225.6 2331.2L226 2331.9L226.4 2332.2L226.8 2330.8L227.2 2328.1L227.6 2325.1L228 2322.7L228.4 2321.7L228.8 2321.3L229.2 2320.9L229.6 2320.7L230 2320.9L230.4 2321.5L230.8 2322.3L231.2 2323.2L231.6 2324.6L232 2327.8L232.4 2331.7L232.8 2335.2L233.2 2337.4L233.6 2338L234 2338.2L234.4 2338.4L234.8 2338.6L235.2 2338.8L235.6 2339L236 2339.2L236.4 2339.3L236.8 2339.5L237.2 2339.7L237.6 2339.8L238 2340L238.4 2340.1L238.8 2340.3L239.2 2340.5L239.6 2340.6L240 2340.7L240.4 2340.8L240.8 2340.9L241.2 2341L241.6 2341.2L242 2341.3L242.4 2341.4L242.8 2341.6L243.2 2341.8L243.6 2342L244 2342.2L244.4 2342.4L244.8 2342.6L245.2 2342.6L245.6 2342.4L246 2342.1L246.4 2341.8L246.8 2341.5L247.2 2341.2L247.6 2341.1L248 2341.2L248.4 2341.4L248.8 2341.5L249.2 2341.6L249.6 2341.7L250 2340.8L250.4 2338.3L250.8 2335.3L251.2 2332.3L251.6 2329.3L252 2326.1L252.4 2323L252.8 2319.8L253.2 2316.7L253.6 2314.2L254 2313L254.4 2312.1L254.8 2311.2L255.2 2310.6L255.6 2310.7L256 2311.3L256.4 2311.9L256.8 2312.6L257.2 2313.3L257.6 2314.5L258 2317.5L258.4 2321.2L258.8 2325L259.2 2328.5L259.6 2330.5L260 2330.7L260.4 2330.4L260.8 2330.1L261.2 2329.8L261.6 2329.1L262 2327.3L262.4 2324.3L262.8 2321L263.2 2318.3L263.6 2317.4L264 2317L264.4 2316.7L264.8 2316.6L265.2 2317.2L265.6 2318.7L266 2320.4L266.4 2322.2L266.8 2324.5L267.2 2327.5L267.6 2330.5L268 2332.3L268.4 2332.5L268.8 2332.2L269.2 2331.9L269.6 2331.6L270 2331.2L270.4 2330.2L270.8 2328.7L271.2 2327L271.6 2325.3L272 2323.6L272.4 2321.7L272.8 2318.8L273.2 2315.3L273.6 2311.9L274 2309.8L274.4 2309.2L274.8 2309L275.2 2308.8L275.6 2308.5L276 2308.8L276.4 2310L276.8 2311.6L277.2 2313.4L277.6 2315.7L278 2318.8L278.4 2322L278.8 2325.2L279.2 2328.2L279.6 2330.6L280 2332.8L280.4 2335L280.8 2337L281.2 2337.9L281.6 2337.9L282 2337.6L282.4 2337.4L282.8 2337.1L283.2 2336.8L283.6 2336.7L284 2337L284.4 2337.5L284.8 2338.1L285.2 2338.6L285.6 2339.2L286 2339.9L286.4 2340.8L286.8 2341.7L287.2 2342.7L287.6 2343.3L288 2343.2L288.4 2342.8L288.8 2342.3L289.2 2341.8L289.6 2341.3L290 2340.8L290.4 2340.2L290.8 2339.7L291.2 2339.1L291.6 2338.6L292 2338L292.4 2337.4L292.8 2336.9L293.2 2336.8L293.6 2337.2L294 2337.6L294.4 2338.1L294.8 2338.5L295.2 2338.9L295.6 2338.9L296 2338.5L296.4 2338L296.8 2337.6L297.2 2337.1L297.6 2336.8L298 2337L298.4 2337.5L298.8 2338.1L299.2 2338.7L299.6 2338.7L300 2337.7L300.4 2336.5L300.8 2335.3L301.2 2334.3L301.6 2333.7L302 2333.5L302.4 2333.3L302.8 2333L303.2 2332.2L303.6 2330.6L304 2328.8L304.4 2327L304.8 2325.1L305.2 2323.5L305.6 2322.3L306 2321.5L306.4 2320.7L306.8 2319.8L307.2 2319.2L307.6 2319.2L308 2320L308.4 2321L308.8 2322L309.2 2323.1L309.6 2324.7L310 2326.4L310.4 2328.1L310.8 2329.8L311.2 2331.4L311.6 2332.2L312 2331.3L312.4 2329.9L312.8 2328.5L313.2 2327.3L313.6 2326.7L314 2326.6L314.4 2326.6L314.8 2326.5L315.2 2325.8L315.6 2323.6L316 2321L316.4 2318.4L316.8 2316.2L317.2 2315.3L317.6 2315.4L318 2315.7L318.4 2317L318.8 2320.8L319.2 2325.4L319.6 2330L320 2334.2L320.4 2336.9L320.8 2338.2L321.2 2339.3L321.6 2340.4L322 2341.3L322.4 2340.2L322.8 2335.4L323.2 2329.6L323.6 2325L324 2323.6L324.4 2323.3L324.8 2323L325.2 2322.7L325.6 2322.3L326 2321.5L326.4 2320L326.8 2318.2L327.2 2316.4L327.6 2314.8L328 2313.9L328.4 2313.6L328.8 2313.3L329.2 2313.1L329.6 2312.8L330 2312.5L330.4 2312.5L330.8 2313.2L331.2 2314.1L331.6 2315L332 2316L332.4 2316.9L332.8 2317.8L333.2 2318.4L333.6 2318.4L334 2318.4L334.4 2318.3L334.8 2318.2L335.2 2318.1L335.6 2318L336 2317.5L336.4 2316.8L336.8 2316L337.2 2315.2L337.6 2314.9L338 2315.8L338.4 2317.2L338.8 2318.8L339.2 2321L339.6 2323.9L340 2326.9L340.4 2328.8L340.8 2329.2L341.2 2329L341.6 2328.9L342 2328.8L342.4 2328.6L342.8 2328.6L343.2 2329.2L343.6 2330.2L344 2331.4L344.4 2332.5L344.8 2333.6L345.2 2334.2L345.6 2333.4L346 2332.3L346.4 2331.1L346.8 2330L347.2 2328.9L347.6 2328.2L348 2327.9L348.4 2327.8L348.8 2327.7L349.2 2327.8L349.6 2328.8L350 2330.2L350.4 2331.7L350.8 2333.1L351.2 2334.6L351.6 2336L352 2337.2L352.4 2337.5L352.8 2337.5L353.2 2337.6L353.6 2337.6L354 2337.7L354.4 2337.5L354.8 2336.4L355.2 2333.9L355.6 2331L356 2328.1L356.4 2325.8L356.8 2325.2L357.2 2325.4L357.6 2325.9L358 2327L358.4 2328.7L358.8 2330.4L359.2 2331.1L359.6 2329.8L360 2327.8L360.4 2325.8L360.8 2323.8L361.2 2321.5L361.6 2318.2L362 2314.4L362.4 2310.4L362.8 2306.3L363.2 2301.6L363.6 2295.9L364 2289.9L364.4 2284.5L364.8 2281.4L365.2 2279.9L365.6 2278.8L366 2278.3L366.4 2279L366.8 2280.2L367.2 2281.4L367.6 2282.3L368 2282.2L368.4 2281.2L368.8 2279.9L369.2 2278.7L369.6 2277.5L370 2277L370.4 2278.1L370.8 2279.6L371.2 2281.6L371.6 2285.7L372 2291.5L372.4 2297.7L372.8 2302.8L373.2 2303.6L373.6 2300.2L374 2295.8L374.4 2291.5L374.8 2287.8L375.2 2286.1L375.6 2286.2L376 2289.2L376.4 2293.8L376.8 2294.3L377.2 2282.1L377.6 2267.4L378 2258.3L378.4 2252.5L378.8 2247.2L379.2 2242.5L379.6 2239.9L380 2238.7L380.4 2237.7L380.8 2237.3L381.2 2237.9L381.6 2238.9L382 2240.3L382.4 2243.3L382.8 2247.8L383.2 2252.6L383.6 2257.4L384 2262.5L384.4 2268.3L384.8 2274.3L385.2 2280.3L385.6 2285.9L386 2290L386.4 2292.9L386.8 2295.3L387.2 2296.7L387.6 2297L388 2297L388.4 2297L388.8 2297.4L389.2 2298.9L389.6 2300.8L390 2302.8L390.4 2304.8L390.8 2306.8L391.2 2308.7L391.6 2309.2L392 2307.1L392.4 2304.3L392.8 2301.5L393.2 2299.2L393.6 2298.5L394 2298.9L394.4 2299.5L394.8 2300.2L395.2 2301.2L395.6 2303L396 2304.9L396.4 2306L396.8 2305L397.2 2303.2L397.6 2301.4L398 2299.9L398.4 2299.9L398.8 2301.1L399.2 2302.6L399.6 2303.6L400 2302.8L400.4 2301.4L400.8 2300.1L401.2 2298.7L401.6 2297.4L402 2296.7L402.4 2297.6L402.8 2298.9L403.2 2300.3L403.6 2301.6L404 2302.3L404.4 2300.8L404.8 2298L405.2 2295.1L405.6 2292.7L406 2291.5L406.4 2290.6L406.8 2289.7L407.2 2289.1L407.6 2289.2L408 2290L408.4 2290.9L408.8 2291.9L409.2 2293.9L409.6 2297.8L410 2302.4L410.4 2307.2L410.8 2312.7L411.2 2318.4L411.6 2323.7L412 2327.4L412.4 2330.4L412.8 2332.4L413.2 2332.7L413.6 2332.6L414 2332.4L414.4 2332.2L414.8 2332L415.2 2331.4L415.6 2330.6L416 2329.8L416.4 2328.2L416.8 2322.3L417.2 2310.3L417.6 2299.4L418 2296.2L418.4 2295.4L418.8 2295.1L419.2 2296.7L419.6 2300.1L420 2304.2L420.4 2308.4L420.8 2313L421.2 2317L421.6 2318.6L422 2318.4L422.4 2317.7L422.8 2316.8L423.2 2315.3L423.6 2313.1L424 2311.2L424.4 2310.5L424.8 2311.4L425.2 2312.6L425.6 2314.1L426 2316.2L426.4 2318.7L426.8 2321L427.2 2322.5L427.6 2322.7L428 2322.4L428.4 2322.6L428.8 2323.9L429.2 2325.5L429.6 2327.1L430 2328.1L430.4 2327.1L430.8 2324.5L431.2 2321.5L431.6 2318.5L432 2315.6L432.4 2312.9L432.8 2310.3L433.2 2307.7L433.6 2305.4L434 2304.3L434.4 2303.9L434.8 2303.8L435.2 2303.6L435.6 2303.5L436 2303.2L436.4 2302.4L436.8 2301.5L437.2 2300.5L437.6 2299.5L438 2298.5L438.4 2297.7L438.8 2297.2L439.2 2296.7L439.6 2296.5L440 2297.4L440.4 2298.8L440.8 2300.5L441.2 2303.3L441.6 2308.1L442 2313.4L442.4 2316.8L442.8 2315.4L443.2 2312.6L443.6 2309.7L444 2307.7L444.4 2307.9L444.8 2308.9L445.2 2310.1L445.6 2312L446 2314.8L446.4 2317.8L446.8 2320.8L447.2 2324.1L447.6 2327.6L448 2329.8L448.4 2327.7L448.8 2322.8L449.2 2317.4L449.6 2312.3L450 2309.1L450.4 2309.5L450.8 2310.9L451.2 2312.7L451.6 2315.4L452 2318.4L452.4 2321.3L452.8 2323.4L453.2 2324.8L453.6 2326L454 2327.2L454.4 2328.3L454.8 2329L455.2 2329.6L455.6 2330.2L456 2330.5L456.4 2329.3L456.8 2326.7L457.2 2323.7L457.6 2320.7L458 2318L458.4 2316.4L458.8 2315.1L459.2 2313.8L459.6 2312.7L460 2312.3L460.4 2312.6L460.8 2313.1L461.2 2313.6L461.6 2314.2L462 2315.1L462.4 2316.1L462.8 2317.1L463.2 2317.6L463.6 2316.6L464 2314L464.4 2311L464.8 2308L465.2 2305.1L465.6 2302.6L466 2300.2L466.4 2297.8L466.8 2295.5L467.2 2293.4L467.6 2291.5L468 2289.7L468.4 2287.9L468.8 2286.8L469.2 2287.5L469.6 2288.8L470 2290.3L470.4 2293L470.8 2296.9L471.2 2300.9L471.6 2303.2L472 2303.2L472.4 2302.6L472.8 2302.8L473.2 2304.6L473.6 2307L474 2309.7L474.4 2313.5L474.8 2318.3L475.2 2322.3L475.6 2322.9L476 2322.1L476.4 2321.4L476.8 2322.8L477.2 2327.4L477.6 2332.9L478 2337L478.4 2336.1L478.8 2331.8L479.2 2326.9L479.6 2322.2L480 2319.3L480.4 2319.7L480.8 2321.1L481.2 2322.6L481.6 2324.3L482 2326.2L482.4 2328.2L482.8 2330.3L483.2 2332.4L483.6 2334.7L484 2337.1L484.4 2339.5L484.8 2341.8L485.2 2343.6L485.6 2345.1L486 2346.5L486.4 2347.8L486.8 2347.9L487.2 2345.7L487.6 2342.7L488 2339.7L488.4 2336.9L488.8 2335.1L489.2 2334L489.6 2332.9L490 2331.4L490.4 2328.3L490.8 2324.7L491.2 2321.1L491.6 2317.8L492 2315.7L492.4 2314.8L492.8 2314.3L493.2 2314.7L493.6 2316.3L494 2318.2L494.4 2321L494.8 2325.1L495.2 2329.6L495.6 2334L496 2337.7L496.4 2341L496.8 2344.2L497.2 2346.6L497.6 2346.7L498 2346.2L498.4 2345.7L498.8 2345.2L499.2 2344.8L499.6 2344.5L500 2344.3L500.4 2344.1L500.8 2344L501.2 2343.4L501.6 2341L502 2335.6L502.4 2329.3L502.8 2323.6L503.2 2319.7L503.6 2317L504 2314.6L504.4 2313.4L504.8 2314.8L505.2 2317.1L505.6 2319.5L506 2322.5L506.4 2325.7L506.8 2328.9L507.2 2331.4L507.6 2330.8L508 2327.1L508.4 2322.7L508.8 2319.3L509.2 2317.3L509.6 2315.7L510 2314.6L510.4 2315L510.8 2316.5L511.2 2318.2L511.6 2321.4L512 2327.6L512.4 2334.7L512.8 2341.7L513.2 2346.7L513.6 2347.2L514 2346.3L514.4 2345.4L514.8 2344.5L515.2 2343.8L515.6 2343.5L516 2343.3L516.4 2343.2L516.8 2343L517.2 2342.2L517.6 2339.5L518 2335.7L518.4 2331.8L518.8 2328.9L519.2 2327.8L519.6 2327.2L520 2327.1L520.4 2328.3L520.8 2329.9L521.2 2331.5L521.6 2333L522 2334.3L522.4 2335.4L522.8 2336.4L523.2 2335.9L523.6 2331L524 2324.4L524.4 2317.7L524.8 2312.2L525.2 2310.1L525.6 2309.6L526 2310.5L526.4 2313.7L526.8 2317.6L527.2 2321.6L527.6 2325.8L528 2330.1L528.4 2333.6L528.8 2334.8L529.2 2335L529.6 2335.2L530 2335.3L530.4 2335.5L530.8 2335.7L531.2 2336L531.6 2336.4L532 2336.8L532.4 2337.4L532.8 2338.3L533.2 2339.7L533.6 2340.6L534 2339.6L534.4 2336.5L534.8 2332.7L535.2 2329.8L535.6 2329.6L536 2330.7L536.4 2331.7L536.8 2330.6L537.2 2326.5L537.6 2321.3L538 2316.4L538.4 2312.8L538.8 2311.3L539.2 2310.6L539.6 2310.4L540 2312.2L540.4 2315.6L540.8 2319.5L541.2 2324.4L541.6 2330.1L542 2336.1L542.4 2341.2L542.8 2343.1L543.2 2343.7L543.6 2343.5L544 2339.3L544.4 2329L544.8 2317.4L545.2 2308.8L545.6 2306.5L546 2306.3L546.4 2307.6L546.8 2313.5L547.2 2321L547.6 2327.5L548 2329.2L548.4 2325.5L548.8 2320.2L549.2 2315.8L549.6 2314L550 2313.5L550.4 2313.9L550.8 2316.8L551.2 2321.3L551.6 2326L552 2330.2L552.4 2333.8L552.8 2337.3L553.2 2340.1L553.6 2340.8L554 2340.6L554.4 2340.4L554.8 2339.6L555.2 2336.2L555.6 2329.9L556 2322.9L556.4 2315.9L556.8 2310.1L557.2 2307.8L557.6 2306.9L558 2306.2L558.4 2306.6L558.8 2308.4L559.2 2310.6L559.6 2313.4L560 2317.1L560.4 2321.1L560.8 2325.1L561.2 2329L561.6 2332.2L562 2335.1L562.4 2337.9L562.8 2340.6L563.2 2342.7L563.6 2343.9L564 2344.6L564.4 2343.8L564.8 2339.2L565.2 2333.5L565.6 2328.1L566 2324.4L566.4 2322.2L566.8 2320.5L567.2 2319.3L567.6 2319.9L568 2321.3L568.4 2323L568.8 2325.9L569.2 2329.4L569.6 2333L570 2336.4L570.4 2338.6L570.8 2339L571.2 2338.9L571.6 2338.7L572 2338.5L572.4 2338.2L572.8 2336.8L573.2 2334.2L573.6 2331.5L574 2329.7L574.4 2329.2L574.8 2329.1L575.2 2329.1L575.6 2329L576 2328.9L576.4 2329L576.8 2329.7L577.2 2331L577.6 2332.4L578 2332.9L578.4 2331L578.8 2328.2L579.2 2325.6L579.6 2323.7L580 2322.3L580.4 2320.9L580.8 2319.6L581.2 2318.6L581.6 2318.2L582 2317.7L582.4 2316.3L582.8 2312.9L583.2 2308.9L583.6 2305.2L584 2302.7L584.4 2301.1L584.8 2299.7L585.2 2298.3L585.6 2297.7L586 2298.9L586.4 2300.6L586.8 2302.4L587.2 2304.1L587.6 2305.8L588 2307.4L588.4 2308.2L588.8 2307.8L589.2 2307.2L589.6 2306.6L590 2305.7L590.4 2303.4L590.8 2300.6L591.2 2298.4L591.6 2298.5L592 2300L592.4 2301.7L592.8 2303.5L593.2 2305.2L593.6 2307L594 2308.5L594.4 2309.3L594.8 2309.3L595.2 2309.1L595.6 2308.8L596 2307.9L596.4 2305.1L596.8 2301.7L597.2 2299L597.6 2298.5L598 2299L598.4 2300.8L598.8 2306.7L599.2 2313.3L599.6 2312.9L600 2305.4L600.4 2297.3L600.8 2293.2L601.2 2291.2L601.6 2289.8" fill="none" stroke="#1e1e1e" stroke-width="0.8" stroke-linejoin="round"/>
</g>
<rect x="141" y="2023.1" width="461.9" height="400.2" fill="none" stroke="#000" stroke-width="1.7"/>
</g>
<g id="sc-a">
<path d="M913.2 370.7H932.8M913.2 286.9H932.8M913.2 203.2H932.8M913.2 119.4H932.8M913.2 35.7H932.8M932.8 370.7V390.3M988.7 370.7V390.3M1044.6 370.7V390.3M1100.5 370.7V390.3M1156.5 370.7V390.3M1212.4 370.7V390.3M1268.3 370.7V390.3" stroke="#1a1a1a" stroke-width="1.2" fill="none"/>
<path d="M923 345.5H932.8M923 330.7H932.8M923 320.3H932.8M923 312.2H932.8M923 305.5H932.8M923 299.9H932.8M923 295.1H932.8M923 290.8H932.8M923 261.7H932.8M923 247H932.8M923 236.5H932.8M923 228.4H932.8M923 221.8H932.8M923 216.2H932.8M923 211.3H932.8M923 207H932.8M923 178H932.8M923 163.2H932.8M923 152.8H932.8M923 144.7H932.8M923 138H932.8M923 132.4H932.8M923 127.6H932.8M923 123.3H932.8M923 94.2H932.8M923 79.5H932.8M923 69H932.8M923 60.9H932.8M923 54.3H932.8M923 48.7H932.8M923 43.8H932.8M923 39.5H932.8M949.6 370.7V381.1M959.5 370.7V381.1M966.5 370.7V381.1M971.9 370.7V381.1M976.3 370.7V381.1M980.1 370.7V381.1M983.3 370.7V381.1M986.2 370.7V381.1M1005.5 370.7V381.1M1015.4 370.7V381.1M1022.4 370.7V381.1M1027.8 370.7V381.1M1032.2 370.7V381.1M1036 370.7V381.1M1039.2 370.7V381.1M1042.1 370.7V381.1M1061.5 370.7V381.1M1071.3 370.7V381.1M1078.3 370.7V381.1M1083.7 370.7V381.1M1088.1 370.7V381.1M1091.9 370.7V381.1M1095.1 370.7V381.1M1098 370.7V381.1M1117.4 370.7V381.1M1127.2 370.7V381.1M1134.2 370.7V381.1M1139.6 370.7V381.1M1144.1 370.7V381.1M1147.8 370.7V381.1M1151 370.7V381.1M1153.9 370.7V381.1M1173.3 370.7V381.1M1183.1 370.7V381.1M1190.1 370.7V381.1M1195.6 370.7V381.1M1200 370.7V381.1M1203.7 370.7V381.1M1207 370.7V381.1M1209.8 370.7V381.1M1229.2 370.7V381.1M1239.1 370.7V381.1M1246 370.7V381.1M1251.5 370.7V381.1M1255.9 370.7V381.1M1259.6 370.7V381.1M1262.9 370.7V381.1M1265.7 370.7V381.1" stroke="#222" stroke-width="1" fill="none"/>
<text x="905.5" y="378.9" font-size="23.4" text-anchor="end" fill="#000">100</text>
<text x="905.5" y="295.1" font-size="23.4" text-anchor="end" fill="#000">1,000</text>
<text x="905.5" y="211.4" font-size="23.4" text-anchor="end" fill="#000">10,000</text>
<text x="905.5" y="127.6" font-size="23.4" text-anchor="end" fill="#000">100,000</text>
<text x="905.5" y="43.9" font-size="23.4" text-anchor="end" fill="#000">1,000,000</text>
<text x="932.8" y="417.2" font-size="23.4" text-anchor="middle" fill="#000">0.1</text>
<text x="1044.6" y="417.2" font-size="23.4" text-anchor="middle" fill="#000">10</text>
<text x="1156.5" y="417.2" font-size="23.4" text-anchor="middle" fill="#000">1,000</text>
<text x="1265.8" y="417.2" font-size="23.4" text-anchor="middle" fill="#000">100,000</text>
<text x="1100.5" y="443.2" font-size="23.4" text-anchor="middle" fill="#000">Zr [ppm]</text>
<text transform="translate(813.2 203.2) rotate(-90)" font-size="23.4" text-anchor="middle">Si [ppm]</text>
<g clip-path="url(#cdt0)">
<path d="M1008.0 55.1h0M1002.6 60.4h0M995.9 72.5h0M1021.9 69.0h0" fill="none" stroke="#d2d2d2" stroke-width="6.8" stroke-linecap="round"/>
<path d="M975.1 160.6h0M1015.3 205.5h0M950.6 221.4h0M939.6 182.0h0M1000.6 198.7h0M935.3 150.0h0M953.5 220.7h0M967.2 209.1h0M981.6 217.6h0M1001.8 221.8h0M965.9 215.2h0M984.3 192.1h0M955.5 209.6h0M999.6 224.0h0M1001.3 221.0h0M940.3 161.4h0M1041.6 189.6h0M967.3 222.8h0M1009.9 212.6h0M946.7 210.4h0M936.9 173.6h0M962.1 201.8h0M968.1 209.3h0M994.5 220.6h0M1038.6 176.8h0M1000.2 170.4h0M943.0 220.3h0M938.1 216.6h0M976.7 218.2h0M1026.2 215.6h0M964.6 208.3h0M948.9 190.3h0M941.4 132.2h0M1019.8 220.3h0M933.6 188.8h0M1012.5 197.1h0M1019.7 223.4h0M973.3 222.4h0M1030.0 204.1h0M970.2 223.6h0M968.0 216.6h0M1015.0 203.3h0M946.5 198.3h0M1018.5 207.4h0M1019.7 210.4h0M991.8 213.1h0M935.9 222.6h0M936.6 203.4h0M968.4 209.8h0M979.1 194.9h0M958.7 223.3h0M965.6 221.2h0M1037.5 189.7h0M1004.2 181.1h0M1023.8 176.5h0M968.8 222.5h0M958.6 213.1h0M1025.0 182.8h0M933.8 209.7h0M979.9 219.6h0M946.5 216.2h0M991.3 199.0h0M973.9 148.6h0M988.9 217.4h0M965.0 224.2h0M1001.5 210.1h0M938.8 218.0h0M949.3 210.6h0M1008.6 194.3h0M959.7 197.1h0M974.4 203.6h0M1004.2 208.6h0M943.2 186.4h0M969.1 220.6h0M937.6 205.9h0M1009.2 224.7h0M990.6 219.5h0M1005.5 220.9h0M1010.7 214.5h0M971.4 222.4h0M1036.9 180.1h0M962.0 201.9h0M1024.9 207.7h0M992.6 219.1h0M943.5 176.3h0M971.1 215.8h0M1014.6 176.3h0M1032.7 192.6h0M1005.2 223.1h0M951.2 176.0h0M1001.2 224.8h0M944.4 201.7h0M933.6 221.3h0M994.7 199.8h0M1006.3 219.6h0M1013.1 219.2h0M969.6 195.6h0M1006.0 184.5h0M1006.9 207.0h0M943.6 215.2h0M962.8 219.0h0M1033.3 203.7h0M1022.4 210.1h0M997.9 210.5h0M955.0 197.6h0M964.6 224.5h0M1005.6 220.8h0M1038.7 159.1h0M934.8 168.6h0M981.1 152.2h0M1041.3 184.0h0M966.1 214.6h0M952.1 207.6h0M997.1 222.8h0M1002.1 126.3h0M948.8 209.4h0M1031.6 196.1h0M1011.4 199.1h0M973.4 217.6h0M1024.0 189.4h0M1030.5 172.7h0M990.5 210.1h0M1022.7 202.5h0M1011.9 191.0h0M975.2 222.9h0M998.0 224.2h0M985.4 208.3h0M965.2 205.9h0M936.5 224.2h0M1025.5 215.5h0M947.3 209.2h0M1019.6 219.8h0M1003.0 223.1h0M938.8 208.8h0M993.8 203.3h0M1014.6 145.3h0M991.1 216.7h0M1022.4 218.3h0M982.4 223.3h0M935.9 154.6h0M1027.0 199.5h0M979.0 220.9h0M950.6 218.8h0M994.8 198.2h0M1007.2 218.0h0M995.3 204.8h0M980.2 218.9h0M973.0 194.7h0M934.6 222.4h0M938.2 224.1h0M1029.2 199.0h0M986.3 222.8h0M988.3 211.3h0M952.5 212.8h0M977.8 204.5h0M1004.4 224.0h0M975.1 204.0h0M989.6 183.5h0M1007.1 221.2h0M941.0 203.0h0M936.0 206.1h0M976.7 202.9h0M984.5 208.1h0M1041.1 174.5h0M955.0 223.5h0M944.4 224.6h0M943.6 200.4h0M941.0 216.8h0M1024.6 217.9h0M946.3 199.5h0M1003.7 180.1h0M1015.6 190.2h0M964.7 220.8h0M1017.4 189.8h0M974.8 192.9h0M971.3 167.9h0M1017.4 194.9h0M944.6 175.2h0M989.8 187.5h0M969.0 176.7h0M976.8 224.8h0M968.9 160.9h0M1004.0 212.3h0M966.0 216.5h0M1008.6 195.1h0M1022.0 191.6h0M943.3 210.4h0M939.5 207.9h0M982.6 178.2h0M972.5 222.3h0M949.1 194.3h0M1002.5 222.7h0M942.5 199.2h0M941.2 188.1h0M1012.4 223.2h0M942.6 132.6h0M975.1 215.1h0M1024.4 162.0h0M975.3 223.1h0M1020.4 207.5h0M980.7 174.3h0M945.5 210.5h0M934.3 211.5h0M939.4 222.3h0M946.2 202.6h0M1016.9 206.3h0M965.1 181.6h0M958.2 154.3h0M934.4 150.0h0M937.9 177.5h0M941.3 207.7h0M1003.8 199.5h0M984.1 203.9h0M998.7 175.5h0M938.1 218.0h0M1039.8 177.7h0M984.2 204.3h0M964.2 220.6h0M985.1 215.7h0M998.6 223.3h0M1042.5 133.3h0M1011.5 208.6h0M967.8 189.0h0M1010.0 221.2h0M1035.4 188.0h0M1002.0 213.4h0M1037.9 182.0h0M938.1 224.4h0M975.3 189.4h0M999.8 214.7h0M1042.0 185.5h0M1027.2 211.5h0M979.6 218.2h0M939.4 182.2h0M1019.5 163.0h0M983.7 222.1h0M958.7 201.2h0M1002.5 215.5h0M945.8 201.2h0M991.5 193.3h0M991.5 184.1h0M995.1 207.4h0M948.1 224.4h0M1017.9 204.3h0M1012.2 219.9h0M948.4 224.7h0M972.4 205.9h0M977.1 212.7h0M990.8 192.2h0M977.6 204.2h0M1029.9 161.1h0M949.6 169.1h0M988.3 218.6h0M984.6 141.2h0M988.4 216.5h0M1004.2 219.1h0M941.6 222.1h0M947.4 221.5h0M948.6 203.1h0M953.5 215.9h0M1008.1 221.0h0M954.6 224.1h0M952.0 218.0h0M952.9 223.0h0M946.6 211.8h0M956.2 215.3h0M989.6 199.9h0M937.4 190.6h0M1003.6 223.2h0M1031.2 170.7h0M939.9 218.1h0M1023.6 195.5h0M953.8 220.0h0M974.7 210.8h0M1002.5 215.2h0M985.0 195.6h0M937.2 218.8h0M1013.2 176.7h0M990.5 208.8h0M945.1 212.3h0M992.9 219.1h0M963.3 214.9h0M935.3 216.7h0M956.8 216.5h0M946.5 177.7h0M999.7 200.7h0M1021.7 210.2h0M942.8 208.5h0M999.0 195.7h0M981.5 222.1h0M964.9 215.4h0M1005.6 206.9h0M972.1 191.4h0M999.5 225.9h0M944.2 226.8h0M960.0 226.7h0M953.5 225.3h0M952.0 208.8h0M941.8 221.9h0M978.1 193.6h0M945.3 223.9h0M1022.7 225.7h0M951.8 218.8h0M995.7 225.4h0M1017.4 226.5h0M968.5 223.5h0M988.7 225.8h0M945.6 220.1h0M964.7 220.8h0M950.0 222.6h0M991.5 227.8h0M970.0 227.0h0M940.0 188.8h0M968.4 214.0h0M961.0 218.4h0M1016.4 220.5h0M984.8 223.7h0M971.3 205.5h0M1024.2 199.5h0M946.7 217.0h0M940.3 216.7h0M996.1 212.4h0M948.4 214.6h0M955.1 226.7h0M951.0 213.8h0M1006.0 221.9h0M972.4 210.3h0M976.1 213.7h0M981.2 224.2h0M983.8 225.2h0M1015.0 222.2h0M958.5 208.5h0M975.1 221.5h0M945.9 204.2h0M1001.9 224.7h0M948.3 214.7h0M1001.1 221.7h0M949.7 225.0h0M960.3 216.6h0M936.7 221.0h0M1016.7 210.3h0M970.6 213.5h0M945.2 212.2h0M947.0 223.9h0M1020.5 226.8h0M958.2 217.3h0M1012.0 219.4h0M1009.2 221.5h0M960.7 224.6h0M953.0 207.8h0M997.0 223.8h0M983.7 203.0h0M949.9 220.7h0M988.5 220.1h0M935.0 210.6h0M1009.5 206.3h0M1010.6 226.8h0M996.3 220.2h0M979.6 216.8h0M1035.5 206.0h0M982.5 227.2h0M946.7 206.5h0M997.9 223.9h0M939.0 224.7h0M1021.1 228.2h0M969.6 223.9h0M992.0 206.6h0M971.0 224.6h0M1013.9 223.1h0M957.7 223.1h0M948.5 226.6h0M987.7 223.6h0M996.7 219.7h0M934.5 218.9h0M952.6 200.4h0M949.3 223.6h0M942.4 178.8h0M988.1 220.5h0M940.4 216.4h0M956.1 208.7h0M955.5 226.4h0M937.0 222.8h0M995.0 227.6h0M1018.1 223.1h0M990.6 223.2h0M977.0 221.2h0M950.1 226.5h0M1027.6 203.2h0M974.0 225.5h0M1003.7 223.7h0M935.8 226.8h0M1011.6 219.0h0M936.0 226.1h0M958.4 218.7h0M935.2 227.3h0M1020.8 226.5h0M1004.6 225.9h0M943.9 225.8h0M1012.3 211.6h0M1024.1 223.9h0M1006.3 226.3h0M965.2 208.8h0M934.5 227.5h0M955.8 228.0h0M952.9 220.7h0M979.3 209.1h0M1022.7 224.6h0M961.5 224.1h0M997.8 225.6h0M1001.5 223.7h0M993.6 223.3h0M965.3 202.8h0M1016.8 226.9h0M979.7 228.0h0M962.5 221.5h0M1002.5 225.7h0M948.3 212.8h0M951.9 225.5h0M935.0 207.2h0M945.9 220.9h0M963.1 221.3h0M1004.5 213.1h0M955.7 228.1h0M948.0 208.5h0M998.9 218.9h0M952.3 207.2h0M979.0 224.1h0M990.0 227.8h0M951.3 216.8h0M942.1 220.3h0M959.9 224.0h0M964.7 224.5h0M1011.9 225.2h0M995.2 222.7h0M1005.8 204.6h0M1013.4 226.2h0M936.4 225.6h0M998.3 227.8h0M987.5 220.4h0M969.7 215.6h0M944.7 227.6h0M1012.9 222.4h0M1008.6 223.3h0M960.1 213.6h0M1020.7 218.1h0M962.9 220.6h0M972.6 227.4h0M953.3 221.5h0M1028.8 216.9h0M1021.5 219.0h0M1009.0 212.0h0M960.4 222.5h0M957.3 190.6h0M1010.4 206.0h0M952.8 221.0h0M1009.5 225.2h0M1034.4 197.9h0M1027.6 212.3h0M968.0 213.1h0M937.1 220.5h0M958.3 227.1h0M941.5 218.0h0M970.3 217.2h0M940.2 225.0h0M992.2 214.8h0M968.0 219.8h0M958.6 228.0h0M1017.2 223.8h0M985.7 219.8h0M1028.9 192.8h0M1017.3 223.6h0M979.3 216.8h0M959.2 227.2h0M971.9 225.3h0M965.5 225.9h0M937.6 228.1h0M975.2 218.5h0M957.0 202.6h0M1019.3 227.4h0M978.8 210.1h0M1000.3 226.7h0M999.7 222.1h0M958.3 226.6h0M957.2 226.5h0M1018.6 224.5h0M939.4 198.5h0M1030.0 205.7h0M976.5 216.1h0M1009.4 226.8h0M1022.5 226.0h0M957.6 221.6h0M998.1 220.8h0M943.1 210.2h0M962.2 227.0h0M1030.5 201.5h0M1027.6 214.0h0M1004.9 221.4h0M942.6 223.7h0M973.9 225.6h0M1012.4 222.4h0M941.9 226.1h0M1008.0 227.5h0M985.8 220.5h0M1023.5 224.6h0M1007.4 221.1h0M962.3 210.2h0M1020.5 219.0h0M1026.3 210.9h0M1010.7 212.7h0M1009.5 218.5h0M1000.9 216.3h0M950.4 210.0h0M969.8 216.6h0M950.7 213.6h0M1024.3 222.2h0M933.7 225.3h0M1000.7 194.2h0M1002.3 225.6h0M1002.6 221.6h0M1018.6 227.3h0M1016.5 221.6h0M1002.4 205.2h0M944.3 204.5h0M1008.5 227.6h0M966.0 217.7h0M940.4 220.8h0M971.0 219.9h0M938.0 210.7h0M1039.8 198.5h0M1015.3 227.0h0M1016.2 228.0h0M935.5 224.9h0M986.6 215.6h0M1008.0 223.2h0M963.0 178.1h0M979.8 223.1h0M951.0 214.7h0M1009.1 226.1h0M942.1 218.5h0M1004.8 225.5h0M980.5 203.6h0M979.1 219.5h0M976.6 225.5h0M956.4 228.0h0M1004.5 224.3h0M1028.3 215.4h0M1017.6 212.3h0M1016.5 219.8h0M947.4 227.9h0M1020.4 222.6h0M945.9 227.1h0M1008.2 223.4h0M955.0 222.4h0M940.1 220.8h0M962.5 214.5h0M967.1 223.0h0M934.3 227.6h0M976.1 222.6h0M998.9 225.3h0M1009.3 211.4h0M1018.6 227.9h0M985.7 227.3h0M959.6 191.3h0M948.7 222.3h0M1000.8 217.8h0M994.4 228.1h0M968.8 222.0h0M942.7 224.5h0M936.7 227.5h0M976.6 227.0h0M995.3 218.2h0M1020.9 226.3h0M951.4 227.3h0M1002.8 217.7h0M936.5 204.7h0M938.7 221.5h0M1010.8 210.7h0M1011.4 214.4h0M970.3 213.8h0M941.8 208.9h0M993.1 213.7h0M982.7 219.4h0M990.8 217.0h0M942.0 227.7h0M960.1 226.7h0M953.0 214.9h0M1005.3 222.3h0M994.0 217.3h0M958.1 180.2h0M954.9 218.5h0M940.9 228.0h0M961.3 222.9h0M1028.3 217.1h0M1014.5 223.5h0M971.0 224.3h0M981.1 217.2h0M986.4 210.5h0M963.4 220.5h0M1001.4 219.7h0M1013.5 227.0h0M1011.6 207.7h0M952.7 225.9h0M960.2 210.7h0M981.9 222.0h0M972.4 220.5h0M951.0 224.0h0M1005.1 224.9h0M1017.9 227.0h0M958.9 227.6h0M951.7 221.9h0M970.0 213.1h0M980.3 225.8h0M1000.7 217.7h0M951.4 226.7h0M937.1 216.8h0M1005.9 222.7h0M1025.6 214.2h0M997.2 210.9h0M955.6 227.2h0M962.6 227.7h0M991.3 204.6h0M937.3 227.1h0M982.6 205.0h0M967.7 222.2h0M937.6 226.8h0M933.6 202.3h0M1003.1 210.9h0M982.9 222.0h0M986.7 218.8h0M948.3 228.0h0M966.8 217.8h0M955.2 218.6h0M1006.8 223.2h0M1009.0 212.6h0M987.6 220.0h0M936.4 205.3h0M1008.7 218.6h0M956.7 219.0h0M976.2 219.2h0M944.7 219.0h0M1028.6 215.2h0M995.2 216.7h0M968.9 218.8h0M1021.7 215.9h0M1020.6 223.3h0M1022.8 227.1h0M992.8 228.2h0M968.6 224.3h0M976.5 218.0h0M975.7 223.1h0M959.1 224.2h0M958.0 227.6h0M999.2 218.8h0M1001.0 222.9h0M974.7 211.2h0M990.0 222.6h0M935.8 224.6h0M974.7 223.9h0M996.7 221.7h0M999.7 215.8h0M1022.2 217.4h0M954.5 228.2h0M1004.1 208.7h0M959.7 205.8h0M939.6 204.9h0M971.6 227.3h0M986.3 225.7h0M964.3 225.1h0M1021.1 221.6h0M967.2 220.2h0M1011.6 225.5h0M978.4 227.1h0M952.9 218.4h0M952.9 221.8h0M1010.8 227.3h0M995.3 225.7h0M1021.5 221.4h0M937.8 219.6h0M1022.9 209.8h0M958.1 226.2h0M1000.1 223.7h0M1025.2 208.5h0M971.8 225.9h0M1018.7 225.5h0M1023.3 223.5h0M1006.3 227.4h0M1001.5 223.1h0M997.4 226.6h0M1013.9 211.2h0M956.8 227.4h0M935.6 219.4h0M999.6 221.4h0M958.5 224.0h0M998.2 222.3h0M1009.3 223.8h0M980.0 217.4h0M1009.0 187.6h0M947.1 227.3h0M1012.5 220.8h0M963.1 227.5h0M942.4 209.0h0M954.1 224.9h0M957.9 224.5h0M940.6 222.0h0M940.4 214.4h0M958.7 221.6h0M991.5 224.9h0M969.6 218.7h0M994.2 217.0h0M984.1 227.7h0M994.7 201.2h0M952.3 218.2h0M955.1 221.7h0M943.6 223.1h0M1016.0 224.6h0M1006.0 214.6h0M976.8 226.8h0M992.3 212.4h0M990.2 219.9h0M942.8 216.2h0M947.0 213.2h0M1018.8 217.7h0M937.0 225.1h0M961.9 224.4h0M942.6 204.6h0M993.8 225.1h0M976.6 223.1h0M933.9 198.0h0M933.8 150.9h0M932.9 168.9h0M932.7 146.5h0M933.4 175.0h0M936.3 163.1h0M935.4 176.8h0M932.7 214.3h0M932.8 209.8h0M933.3 190.1h0M935.7 194.9h0M936.2 220.8h0M933.7 149.6h0M935.2 197.6h0M933.8 219.4h0M932.8 210.0h0M932.6 211.5h0M932.8 224.2h0M938.8 201.5h0M933.2 208.3h0M933.6 204.2h0M934.4 221.7h0M934.3 217.8h0M932.8 194.1h0M935.3 223.1h0M932.6 206.9h0M934.7 223.3h0M932.8 217.0h0M933.2 221.2h0M934.7 221.9h0M933.8 223.1h0M934.3 175.5h0M934.3 214.2h0M933.5 203.0h0M936.6 220.9h0M932.9 207.4h0M933.5 211.5h0M935.0 173.3h0M932.5 181.8h0M933.7 209.2h0M933.1 224.4h0M932.8 183.0h0M932.9 202.5h0M933.0 224.7h0M938.5 177.4h0M932.7 205.3h0M933.6 201.6h0M932.7 170.3h0M932.8 205.3h0M935.0 213.5h0M933.4 206.0h0M933.6 210.2h0M936.7 179.8h0M935.4 133.5h0M934.7 213.9h0M933.0 208.1h0M932.6 170.9h0M933.7 156.7h0M934.5 195.2h0M934.4 158.6h0M932.6 197.0h0M932.8 203.5h0M933.8 185.7h0M1032.1 199.6h0M952.4 160.5h0M950.7 198.6h0M1039.7 186.9h0M980.7 187.1h0M1044.7 166.2h0M965.8 194.8h0M954.2 166.3h0M943.9 198.2h0M1044.0 169.5h0M992.2 193.5h0M957.3 170.3h0M1044.7 167.8h0M1012.0 199.6h0M1021.6 172.9h0M1041.1 147.3h0M1028.9 196.5h0M971.1 186.0h0M998.9 182.3h0M973.3 196.8h0M967.5 130.9h0M1027.5 190.1h0M1050.2 137.5h0M1054.3 120.3h0M974.8 155.8h0M1002.7 141.7h0M1038.5 152.8h0M1028.8 194.7h0M963.1 196.4h0M1038.2 146.3h0M969.6 178.3h0M1053.5 158.6h0M1013.6 172.3h0M1009.1 189.6h0M1016.7 163.4h0M1002.8 200.6h0M974.1 159.3h0M994.8 149.2h0M968.4 174.9h0M1039.1 170.2h0M966.2 186.8h0M1045.9 175.0h0M941.8 155.0h0M945.8 157.0h0M990.3 188.2h0M961.0 189.2h0M990.3 181.8h0M1037.7 131.1h0M1020.4 185.0h0M996.3 162.7h0M941.5 169.9h0M988.6 150.2h0M953.5 172.4h0M1005.4 167.9h0M949.7 173.1h0M1016.2 174.5h0M1021.8 164.7h0M951.4 199.0h0M985.8 151.6h0M1035.7 151.0h0M1010.3 182.3h0M960.8 188.2h0M999.1 198.0h0M970.6 171.6h0M997.4 168.5h0M995.9 142.1h0M992.4 173.7h0M1019.7 194.4h0M989.5 187.9h0M944.6 200.1h0M1010.4 189.5h0M998.5 134.7h0M1005.7 196.3h0M951.8 159.1h0M1007.5 182.5h0M1038.7 154.4h0M962.3 170.7h0M959.2 156.2h0M950.3 199.0h0M978.8 191.2h0M974.4 190.7h0M1042.7 181.7h0M1006.3 199.8h0M959.7 176.5h0M996.1 187.2h0M948.0 183.5h0M975.9 158.8h0M1028.6 193.8h0M1016.7 180.9h0M987.8 197.0h0M961.3 192.7h0M974.6 139.9h0M1016.1 177.1h0M956.4 137.8h0M1035.8 175.7h0M952.0 181.2h0M1005.9 195.1h0M1067.6 140.0h0M1030.6 181.0h0M996.1 167.1h0M1014.0 198.9h0M1009.6 148.2h0M1002.5 199.2h0M975.7 195.2h0M985.2 155.5h0M1010.5 193.6h0M1058.5 133.0h0M949.8 180.9h0M1007.7 197.4h0M1028.9 145.5h0M992.0 152.9h0M1011.1 190.1h0M1047.1 173.3h0M1026.0 149.6h0M1012.4 195.4h0M1034.2 150.3h0M983.4 138.4h0M968.1 194.4h0M961.4 182.3h0M1023.4 198.1h0M1059.1 148.7h0M1030.4 168.6h0M963.3 132.3h0M998.2 195.2h0M942.7 174.6h0M1011.6 160.1h0M1038.9 194.3h0M1055.9 146.0h0M1013.4 161.2h0M983.1 180.5h0M988.9 179.0h0M964.3 161.0h0M973.1 196.0h0M987.6 181.7h0M1041.2 167.1h0M1024.1 187.0h0M957.9 164.7h0M984.6 163.7h0M950.4 194.8h0M1027.1 162.9h0M1009.6 189.2h0M969.5 199.8h0M981.7 166.9h0M1066.6 135.1h0M1043.5 151.1h0M1030.0 191.2h0M1016.0 197.2h0M1000.9 181.1h0M955.9 183.3h0M946.7 157.7h0M1062.9 155.9h0M981.8 144.1h0M978.7 134.7h0M956.1 161.9h0M1013.4 197.7h0M973.4 200.5h0M1003.8 189.4h0M1021.1 189.6h0M981.2 157.3h0M1055.1 165.5h0M1020.4 129.4h0M965.9 198.3h0M973.1 150.1h0M945.7 172.9h0M1010.8 198.8h0M1052.3 171.6h0M956.4 197.8h0M1131.1 207.4h0M1101.9 161.7h0M1083.1 162.2h0M1125.9 179.2h0M1095.0 179.7h0M1112.6 178.1h0M1075.7 170.1h0M1099.1 184.3h0M1142.5 179.1h0M1100.9 182.5h0M1087.3 166.0h0M1079.4 216.8h0M1084.5 167.0h0M1071.8 180.1h0M1101.8 118.5h0M1085.2 199.6h0M1107.0 170.1h0M1080.9 212.7h0M1090.6 126.8h0M1111.2 129.6h0M1085.8 169.6h0M1135.3 168.2h0M1090.4 160.9h0M1091.9 210.3h0M1130.6 215.1h0M1059.0 179.4h0M1096.2 155.5h0M1086.7 213.7h0M1109.0 119.0h0M1113.0 210.8h0M1093.0 148.0h0M1099.0 176.7h0M1105.8 152.9h0M1121.7 184.3h0M1118.3 161.7h0M1079.2 149.1h0M1127.3 163.4h0M1130.5 205.2h0M1093.8 150.4h0M1108.0 155.7h0M1109.7 189.7h0M1069.9 149.4h0M1056.4 159.7h0M1086.3 113.4h0M1028.8 211.1h0M1089.2 108.7h0M1048.8 185.4h0M1090.9 107.5h0M1027.1 223.7h0M1060.2 153.3h0M1060.5 152.7h0M1095.7 96.5h0M1112.2 78.2h0M1060.7 170.0h0M1103.1 87.0h0M1113.8 67.0h0M1056.7 161.1h0M1080.6 129.3h0M1102.4 85.2h0M1048.0 174.6h0M1061.9 164.2h0M1079.8 127.9h0M1038.7 198.9h0M1076.1 140.5h0M1108.1 79.5h0M1084.4 117.4h0M1026.1 219.2h0M1056.2 187.9h0M1096.3 104.1h0M1034.6 198.4h0M1102.6 93.4h0M1112.8 69.8h0M1118.4 66.2h0M1080.8 121.9h0M1044.2 185.9h0M1075.5 135.2h0M1108.1 82.5h0M1103.6 87.2h0M1111.6 66.6h0M1107.6 84.5h0M1111.1 78.9h0M1070.0 145.4h0M1111.4 72.4h0M1092.2 108.5h0M1036.5 198.7h0M1099.4 89.1h0M1117.3 70.1h0M1088.7 108.5h0M1024.3 226.6h0M1097.2 100.8h0M1099.7 96.6h0M1102.2 82.5h0M1072.3 138.2h0M1064.3 150.9h0M1037.5 205.7h0M1033.4 214.0h0M1054.8 169.5h0M1097.5 89.9h0M1028.9 210.7h0M1049.8 182.5h0M1114.3 73.8h0M1055.3 164.6h0M1091.2 117.8h0M1058.2 158.1h0M1108.1 77.8h0M1079.2 121.4h0M1091.9 109.3h0M1103.0 87.8h0M1077.6 134.6h0M1050.6 173.4h0M1034.5 197.5h0M1093.2 96.4h0M1073.7 133.9h0M1094.8 106.2h0M1021.9 229.3h0M1055.6 166.1h0M1050.7 173.7h0M1101.9 94.0h0M1113.1 76.8h0M1032.1 208.2h0M1064.7 155.6h0M1021.8 229.0h0M1095.7 115.4h0M1112.4 68.1h0M1034.9 205.6h0M1029.8 218.9h0M1073.8 136.4h0M1044.7 184.9h0M1027.0 215.7h0M1100.9 86.5h0M1090.6 113.9h0M1046.9 184.6h0M1055.3 170.9h0M1096.3 100.6h0M1062.3 152.3h0M1107.7 77.2h0M1028.4 214.9h0M1048.5 173.0h0M1059.6 154.1h0M1036.2 201.2h0M1065.6 152.4h0M1024.4 228.3h0M1074.6 132.9h0M1098.7 94.9h0M1112.7 63.3h0M1095.8 93.8h0M1050.1 174.5h0M1097.5 94.3h0M1060.6 156.5h0M1095.2 119.2h0M1030.6 227.5h0M1098.4 93.4h0M1053.4 167.8h0M1051.0 179.7h0M1074.4 142.7h0M1116.0 72.2h0M1075.2 127.7h0M1059.4 157.1h0M1039.8 199.2h0M1083.1 125.7h0M1087.5 116.3h0M1053.4 178.1h0M1056.3 172.7h0M1090.5 103.2h0M1020.8 226.8h0M1040.8 201.6h0M1050.0 180.3h0M1032.5 212.2h0M1069.8 142.8h0M1026.1 217.7h0M1047.7 186.8h0M1118.4 66.1h0M1047.7 178.7h0M1119.6 72.9h0M1114.7 63.6h0M1065.5 144.9h0M1083.8 116.7h0M1109.3 98.2h0M1117.4 69.7h0M1096.9 97.2h0M1094.5 103.7h0M1089.5 111.1h0M1095.3 93.1h0M1024.0 228.4h0M1045.8 180.7h0M1058.4 166.7h0M1029.9 205.0h0M1069.9 138.1h0M1056.3 173.1h0M1118.8 64.0h0M1063.5 158.4h0M1115.0 76.4h0M1058.9 158.8h0M1080.9 127.3h0M1051.4 181.5h0M1031.9 204.5h0M1023.7 217.7h0M1109.3 83.0h0M1082.0 124.2h0M1074.2 133.1h0M1069.3 166.7h0M1110.4 78.6h0M1070.0 139.2h0M1081.3 121.7h0M1102.8 81.1h0M1032.8 214.5h0M1067.6 152.6h0M1059.7 165.1h0M1090.4 114.3h0M1077.2 130.2h0M1027.2 220.5h0M1019.7 229.8h0M1027.0 215.0h0M1053.6 167.6h0M1022.8 231.0h0M1048.6 183.6h0M1103.7 83.0h0M1059.3 166.5h0M1045.1 192.1h0M1107.9 94.4h0M1065.0 154.5h0M1032.1 211.3h0M1041.5 193.4h0M1112.3 67.8h0M1084.6 121.7h0M1097.3 97.1h0M1077.5 137.1h0M1104.5 87.8h0M1076.2 146.6h0M1093.2 100.5h0M1100.4 89.2h0M1066.3 168.8h0M1092.5 105.9h0M1112.6 69.0h0M1042.0 194.8h0M1065.2 156.7h0M1024.7 227.9h0M1069.5 147.5h0M1105.2 90.4h0M1028.8 217.1h0M1108.0 83.0h0M1076.6 126.8h0M1105.2 80.6h0M1054.9 171.9h0M1101.3 91.9h0M1083.1 127.1h0M1019.1 223.9h0M1077.3 128.2h0M1059.0 159.8h0M1092.2 99.1h0M1099.0 93.0h0M1088.0 106.2h0M1067.1 160.4h0M1087.7 108.9h0M1063.9 148.1h0M1052.2 172.9h0M1116.2 64.8h0M1039.9 189.2h0M1066.2 153.0h0M1066.1 148.6h0M1051.1 175.5h0M1052.6 175.5h0M1112.5 64.7h0M1030.6 211.2h0M1033.2 208.1h0M1084.5 111.6h0M1115.9 67.7h0M1091.5 104.0h0M1054.2 175.9h0M1111.1 68.1h0M1115.5 71.5h0M1046.1 187.4h0M1087.3 106.8h0M1081.3 123.5h0M1116.3 69.4h0M1046.3 191.1h0M1033.2 205.4h0M1035.1 209.3h0M1067.4 146.9h0M1094.7 102.7h0M1082.7 117.9h0M1091.4 102.5h0M1104.4 77.5h0M1048.2 177.4h0M1049.3 178.3h0M1096.0 101.6h0M1038.9 215.1h0M1103.9 92.0h0M1078.8 130.2h0M1096.0 99.5h0M1032.2 214.3h0M1080.3 122.5h0M1066.9 161.5h0M1100.5 93.3h0M1049.1 178.1h0M1071.4 147.6h0M1027.7 212.6h0M1067.5 144.8h0M1074.2 136.2h0M1113.3 73.5h0M1064.0 150.1h0M1037.5 192.7h0M1045.4 191.2h0M1099.6 87.2h0M1052.2 170.2h0M1074.5 133.7h0M1061.9 161.6h0M1064.9 174.4h0M1057.5 164.9h0M1110.3 68.7h0M1063.9 153.9h0M1045.0 188.9h0M1105.6 86.4h0M1066.2 144.9h0M1090.9 110.6h0M1045.6 180.3h0M1021.5 229.8h0M1072.8 132.5h0M1025.4 225.6h0M1046.4 177.9h0M1047.6 183.4h0M1048.6 178.4h0M1051.0 182.8h0M1084.1 118.2h0M1068.6 148.8h0M1092.2 105.5h0M1066.6 151.3h0M1077.7 132.0h0M1033.2 201.1h0M1090.7 106.6h0M1109.0 77.0h0M1068.3 150.8h0M1030.0 212.7h0M1084.2 115.6h0M1021.7 226.5h0M1106.0 87.1h0M1074.4 140.2h0M1071.7 145.9h0M1105.2 77.1h0M1065.9 156.4h0M1047.3 188.0h0M1066.5 156.4h0M1026.7 211.2h0M1061.8 156.5h0M1116.4 61.6h0M1045.9 182.8h0M1029.4 212.3h0M1095.4 103.3h0M1022.2 227.5h0M1074.4 140.5h0M1095.7 93.1h0M1099.6 97.1h0M1096.7 98.2h0M1038.8 198.6h0M1093.9 98.2h0M1111.1 79.4h0M1098.2 97.7h0M1109.2 78.5h0M1041.2 196.0h0M1050.7 173.6h0M1048.4 179.3h0M1108.1 73.9h0M1029.9 210.3h0M1104.5 89.0h0M1050.5 173.3h0M1111.5 69.9h0M1053.0 175.5h0M1045.1 182.6h0M1090.4 112.7h0M1094.8 95.0h0M1091.5 105.7h0M1021.8 219.0h0M1107.9 79.6h0M1024.7 218.3h0M1109.7 77.0h0M1117.0 81.3h0M1105.1 84.7h0M1032.5 214.9h0M1059.4 166.2h0M1105.1 82.0h0M1023.7 217.2h0M1025.2 224.3h0M1081.1 126.9h0M1049.5 182.4h0M1082.4 115.5h0M1104.4 85.7h0M1085.9 117.6h0M1088.0 128.4h0M1067.9 145.4h0M1050.2 183.6h0M1112.0 72.2h0M1055.5 191.5h0M1088.9 114.4h0M1082.3 121.9h0M1089.0 109.1h0M1112.9 70.3h0M1092.2 107.8h0M1053.2 174.2h0M1084.4 122.0h0M1071.9 145.2h0M1043.0 193.7h0M1086.1 121.0h0M1104.5 92.9h0M1070.8 137.0h0M1083.3 127.0h0M1080.7 123.0h0M1027.0 215.8h0M1033.9 210.8h0M1106.1 77.6h0M1104.9 80.9h0M1097.2 101.5h0M1120.0 64.0h0M1087.7 119.3h0M1103.8 83.3h0M1036.8 217.9h0M1102.5 81.3h0M1061.4 153.9h0M1046.2 180.8h0M1031.3 204.3h0M1118.4 67.8h0M1070.2 147.5h0M1055.8 163.8h0M1035.9 199.6h0M1088.0 108.5h0M1100.6 88.9h0M1103.7 79.7h0M1073.0 139.4h0M1101.6 90.7h0M1075.3 136.3h0M1049.6 172.2h0M1072.3 144.4h0M1027.9 214.9h0M1095.3 102.8h0M1097.6 93.5h0M1080.6 132.7h0M1106.5 76.6h0M1073.0 138.3h0M1071.6 138.7h0M1104.8 81.4h0M1067.4 142.4h0M1042.6 186.6h0M1080.2 126.0h0M1087.5 114.4h0M1059.7 155.8h0M1079.1 124.6h0M1048.5 185.0h0M1063.0 178.3h0M1079.8 125.0h0M1098.0 89.5h0M1081.1 129.0h0M1040.1 190.4h0M1044.9 182.7h0M1053.4 177.3h0M1101.7 93.1h0M1038.4 195.3h0M1035.3 209.0h0M1024.1 217.6h0M1051.1 181.9h0M1068.7 140.6h0M1073.4 139.1h0M1117.1 61.6h0M1100.2 84.9h0M1045.1 186.2h0M1087.6 120.8h0M1071.2 134.5h0M1080.8 130.0h0M1040.0 194.0h0M1049.9 181.2h0M1033.4 202.8h0M1043.6 193.1h0M1061.5 152.4h0M1099.5 95.7h0M1081.5 127.3h0M1031.3 214.4h0M1074.7 131.6h0M1062.2 163.7h0M1088.9 110.5h0M1083.0 118.5h0M1113.3 89.5h0M1094.1 99.1h0M1116.0 68.1h0M1095.7 106.9h0M1053.4 165.6h0M1067.7 145.1h0M1102.3 84.9h0M1058.8 155.1h0M1033.1 208.0h0M1041.4 197.7h0M1074.0 136.3h0M1090.3 112.6h0M1088.6 129.5h0M1094.0 95.2h0M1045.3 184.4h0M1073.4 158.1h0M1111.3 75.8h0M1050.0 173.0h0M1061.1 163.7h0M1035.9 202.2h0M1052.4 170.7h0M1080.7 120.2h0M1037.8 204.4h0M1060.2 162.7h0M1112.4 72.0h0M1089.8 113.4h0M1059.5 166.2h0M1101.3 91.1h0M1073.7 144.4h0M1046.7 184.7h0M1096.5 100.7h0M1075.0 130.2h0M1083.0 127.8h0M1102.0 87.9h0M1114.3 65.6h0M1028.5 217.3h0M1070.8 143.8h0M1049.2 177.0h0M1102.7 87.4h0M1061.8 162.1h0M1055.0 162.9h0M1073.0 143.4h0M1048.7 184.5h0M1102.6 87.3h0M1052.8 167.3h0M1112.4 71.6h0M1024.3 220.2h0M1043.3 196.1h0M1077.0 125.1h0M1067.0 150.3h0M1109.9 69.0h0M1059.6 159.8h0M1104.4 86.5h0M1059.6 155.4h0M1061.3 160.9h0M1087.7 111.7h0M1044.6 191.7h0M1024.1 217.0h0M1105.9 78.2h0M1077.1 138.2h0M1055.8 189.4h0M1111.5 74.5h0M1065.1 152.3h0M1091.5 110.2h0M1105.0 88.7h0M1077.3 130.0h0M1062.1 155.8h0M1104.7 84.5h0M1054.6 167.2h0M1022.7 216.9h0M1117.5 66.1h0M1095.6 102.3h0M1102.8 91.2h0M1102.4 95.5h0M1024.9 222.9h0M1093.7 109.5h0M1040.8 189.3h0M1055.0 167.8h0M1039.7 194.0h0M1094.3 95.4h0M1060.9 151.8h0M1086.6 110.2h0M1050.2 182.3h0M1094.2 244.8h0M1035.0 351.7h0M1090.4 286.2h0M1020.6 230.8h0M1062.3 282.3h0M1018.8 310.1h0M1017.4 339.8h0M1040.9 230.9h0M1063.4 283.0h0M1094.2 304.4h0M1038.5 328.5h0M1038.2 356.9h0M1046.4 305.2h0M1020.5 287.2h0M1082.9 342.5h0M1034.4 258.0h0M1081.7 360.7h0M1024.1 290.6h0M1043.4 352.0h0M1023.2 255.8h0M1076.5 232.5h0M1055.8 289.5h0M1043.2 282.6h0M1058.8 248.5h0M1062.1 342.5h0M1077.1 247.5h0M1028.4 264.1h0M1045.3 284.6h0M1070.7 233.3h0M1019.3 282.2h0M1072.1 253.2h0M1067.7 262.9h0M1087.2 355.6h0M1040.2 258.6h0M1049.3 260.1h0M1070.1 345.5h0M1070.2 345.2h0M1048.2 247.8h0M1075.4 277.6h0M1070.0 264.5h0M1023.0 369.8h0M1029.0 369.2h0M1094.4 340.8h0M1069.1 309.3h0M1085.6 267.2h0M1053.8 315.3h0M1049.3 287.4h0M1042.9 307.3h0M1084.3 254.4h0M1091.0 325.5h0M1082.2 306.1h0M1078.7 227.4h0M1081.8 230.9h0M1087.5 369.7h0M1040.0 255.7h0M1077.5 261.9h0M1085.5 240.0h0M1026.6 367.8h0M1070.2 348.5h0M1042.4 323.7h0M1063.9 313.0h0M1070.9 308.9h0M1050.7 265.3h0M1077.8 258.0h0M1071.7 259.0h0M1066.4 334.0h0M1034.0 233.8h0M1027.0 313.4h0M1084.2 231.6h0M1075.1 274.8h0M1054.7 360.5h0M1043.0 292.9h0M1017.6 236.9h0M1037.1 229.1h0M1066.9 287.2h0M1060.2 250.5h0M1040.1 321.8h0M1093.5 232.4h0M1087.5 309.1h0M1061.5 298.0h0M1022.0 238.1h0M1064.4 274.7h0M1089.7 284.3h0M1027.9 329.2h0M1039.9 301.6h0M1032.9 356.8h0M1035.2 325.4h0M1032.5 363.2h0M1023.5 230.5h0M1022.9 261.0h0M1032.1 319.4h0M1030.5 232.6h0M1033.7 275.8h0M1032.2 308.6h0M1024.6 249.3h0M1018.7 347.2h0M1038.1 321.6h0M1018.9 286.8h0M1033.7 339.9h0M1019.3 230.4h0M1033.3 280.5h0M1022.5 232.2h0M1029.2 349.9h0M1039.1 309.8h0M1028.6 242.3h0M1029.4 283.7h0M1030.8 285.0h0M1022.2 243.7h0M1023.9 243.9h0M1020.7 369.1h0M1027.0 305.1h0M1037.1 370.2h0M1030.2 344.5h0M1024.2 273.3h0M1026.0 324.8h0M1032.6 274.6h0M1019.7 319.2h0M1019.5 311.6h0M1032.8 328.8h0M1034.3 353.0h0M1028.3 333.0h0M1031.1 256.6h0M1017.1 270.3h0M1026.9 317.1h0M1036.5 257.9h0M1102.6 330.3h0M1101.7 271.9h0M1126.0 279.5h0M1100.6 221.2h0M1101.6 284.8h0M1123.9 242.5h0M1128.7 313.1h0M1098.4 274.3h0M1131.3 244.7h0M1111.9 288.2h0M1141.9 311.8h0M1125.9 302.2h0M1114.8 291.5h0M1120.0 237.2h0M1131.9 281.3h0M1114.5 324.0h0M1097.3 252.3h0M1099.1 306.6h0M1131.9 254.2h0M1130.6 262.0h0M1134.7 269.0h0M1117.2 326.9h0M1046.8 62.3h0M1054.8 57.0h0M1063.6 76.5h0M1057.5 81.9h0M1020.0 82.7h0M1029.9 90.4h0M1040.6 93.1h0M1050.2 96.6h0M1062.3 93.1h0M1026.7 100.6h0M1046.8 110.5h0M1056.1 116.1h0M1009.3 114.0h0M964.6 91.2h0M958.4 94.4h0M970.0 97.1h0M974.5 105.9h0M1116.3 113.2h0M1103.7 147.9h0M1111.0 157.3h0M1108.3 162.9h0M1226.0 235.7h0M1222.6 240.5h0M1216.7 241.1h0M1211.3 247.8h0M1207.3 260.3h0M1200.1 262.5h0M1194.7 265.7h0M1196.6 270.5h0M1200.6 275.9h0M1194.7 281.7h0M1189.9 287.9h0M1190.4 255.8h0M1176.5 253.1h0M1168.0 261.1h0M1159.9 264.6h0M1157.3 257.7h0M1161.8 278.0h0M1173.3 275.3h0M1134.3 267.3h0M1167.2 303.9h0M1142.3 304.5h0M1110.2 307.4h0M1107.0 272.6h0M1122.5 318.7h0M1113.1 318.1h0M1092.2 316.0h0M1084.2 316.0h0M1076.2 308.5h0M1136.4 234.4h0M1127.0 239.7h0M1128.9 218.9h0M1122.2 217.5h0M1107.0 240.5h0M1098.4 369.0h0M1103.7 366.3h0M935.7 129.5h0M937.0 144.7h0M943.2 138.0h0M957.1 137.2h0M961.1 136.7h0M953.4 246.0h0M980.9 366.0h0M937.9 277.0h0M974.5 251.9h0M987.0 370.0h0M962.0 285.6h0M942.2 353.8h0M966.9 283.7h0M937.8 344.0h0M945.2 296.5h0M982.4 311.2h0M960.6 246.9h0M965.0 252.0h0M993.3 258.5h0M980.3 277.8h0M977.3 240.2h0M979.4 357.3h0M957.2 249.3h0M945.2 290.2h0M981.9 240.4h0M1001.0 240.4h0M972.1 318.0h0M943.0 352.7h0M1012.8 254.1h0M992.3 234.7h0M966.2 302.0h0M980.6 361.3h0M934.6 367.8h0M939.9 344.1h0M955.9 247.7h0M969.0 320.0h0M964.2 236.7h0M982.2 356.5h0M950.6 291.6h0M936.7 344.9h0M984.8 339.9h0M966.9 364.4h0M977.4 314.5h0M984.3 309.8h0M937.7 314.4h0M995.7 303.0h0M987.7 240.3h0M969.2 252.1h0M948.0 257.6h0M964.6 236.3h0M965.5 301.3h0M972.6 283.1h0M944.7 300.5h0M937.9 239.1h0M978.7 364.6h0M940.8 235.3h0M948.0 305.5h0M986.0 235.5h0M939.1 253.0h0M943.2 246.4h0M975.5 263.8h0M944.5 283.0h0M978.5 239.9h0M933.1 323.7h0M985.7 287.1h0M967.0 232.4h0M960.4 254.0h0M940.9 364.2h0M982.2 332.0h0M965.2 262.5h0M940.8 254.3h0M971.9 359.4h0M955.9 278.5h0M997.2 369.3h0M965.7 286.9h0M1013.4 254.6h0M967.4 310.7h0M937.7 326.8h0M944.3 287.8h0M978.0 285.9h0M1014.9 248.1h0M988.4 285.0h0M945.8 363.1h0M949.9 279.2h0M987.9 297.4h0M962.2 312.9h0M980.2 251.8h0M971.6 307.2h0M950.1 333.9h0M934.8 279.2h0M997.1 308.7h0M943.7 265.9h0M967.3 313.7h0M975.1 269.7h0M973.7 269.4h0M934.7 311.7h0M1010.4 253.7h0M971.6 241.9h0M984.3 306.8h0M975.7 355.7h0M934.6 350.8h0M980.3 354.9h0M954.9 257.1h0M953.1 272.3h0M978.5 312.1h0M983.5 240.6h0M940.0 253.3h0M975.5 259.3h0M965.8 343.7h0M933.9 320.8h0M934.4 250.8h0M1005.3 236.0h0M951.8 355.8h0M953.9 260.2h0M944.1 350.4h0M974.0 324.4h0M995.2 336.4h0M966.6 258.7h0M957.8 339.5h0M965.2 247.5h0M949.8 300.3h0M958.5 289.4h0M985.9 334.3h0M966.2 267.1h0M949.1 339.7h0M937.9 297.7h0M941.7 264.1h0M958.9 343.3h0M1003.4 337.1h0M960.1 299.8h0M986.0 301.2h0M958.5 342.4h0M1003.8 248.4h0M958.5 350.3h0M943.6 328.6h0M993.9 324.8h0M1004.7 252.9h0M937.2 330.4h0M971.9 349.0h0M946.6 347.2h0M978.0 255.8h0M970.7 346.1h0M991.2 243.9h0M962.7 353.3h0M992.5 244.9h0M966.4 354.3h0M936.6 364.9h0M988.7 318.2h0M953.3 362.1h0M957.3 338.6h0M965.2 248.7h0M933.6 305.9h0M961.1 302.6h0M969.1 353.3h0M974.4 300.8h0M1013.8 264.3h0M987.4 313.1h0M967.6 339.9h0M948.9 344.9h0M986.2 288.2h0M953.9 335.3h0M975.0 274.4h0M961.2 236.8h0M949.6 288.2h0M950.9 229.1h0M946.6 246.0h0M938.3 331.3h0M975.0 278.3h0M984.0 330.6h0M935.7 369.5h0M951.9 236.6h0M948.4 234.5h0M965.1 342.4h0M960.9 291.8h0M1004.1 230.4h0M972.6 368.5h0M953.2 305.1h0M1014.5 350.2h0M991.0 277.9h0M966.0 262.2h0M932.8 272.5h0M952.6 262.0h0M938.4 255.5h0M978.5 270.2h0M963.8 352.8h0M941.6 363.7h0M937.7 271.1h0M957.3 274.3h0M946.3 339.7h0M942.9 318.7h0M943.0 239.0h0M1007.7 255.9h0M1000.4 306.0h0M946.7 349.7h0M933.9 301.3h0M1000.3 354.5h0M956.2 269.9h0M963.8 284.6h0M977.6 251.6h0M989.7 252.7h0M958.3 300.1h0M945.6 306.3h0M940.0 282.3h0M966.8 234.7h0M955.3 364.0h0M1011.4 278.8h0M947.5 284.4h0M1010.9 249.0h0M995.7 244.4h0M961.0 317.7h0M948.6 249.7h0M984.3 343.2h0M960.4 273.3h0M985.1 279.3h0M981.9 344.1h0M943.7 256.8h0M952.3 271.4h0M962.6 345.4h0M949.6 295.3h0M998.8 254.5h0M941.8 353.9h0M961.0 325.6h0M934.8 326.5h0M958.8 236.9h0M983.0 263.0h0M939.4 249.8h0M957.3 241.7h0M1007.8 229.9h0M972.6 246.4h0M958.1 359.9h0M946.1 365.5h0M949.7 333.8h0M977.8 354.0h0M976.8 256.6h0M946.5 358.5h0M959.8 281.6h0M936.8 265.3h0M971.1 261.1h0M961.7 357.5h0M960.9 290.3h0M937.0 285.8h0M962.2 318.7h0M948.1 334.9h0M977.7 257.9h0M994.5 297.2h0M968.0 296.2h0M953.5 292.1h0M942.9 258.1h0M932.8 234.6h0M1013.3 263.3h0M1001.9 306.8h0M960.9 320.6h0M938.4 355.8h0M942.6 275.3h0M971.8 349.8h0M1004.4 241.5h0M996.8 348.8h0M968.2 252.4h0M949.0 258.9h0M936.2 274.5h0M978.9 350.2h0M968.6 363.7h0M954.1 236.5h0M992.6 246.2h0M957.7 304.3h0M979.3 313.9h0M964.1 316.2h0M995.6 312.6h0M973.1 303.7h0M975.6 256.9h0M999.1 255.3h0M939.8 290.7h0M987.0 290.9h0M993.5 234.2h0M971.9 276.5h0M933.7 307.1h0M993.8 297.6h0M952.3 297.3h0M968.1 239.6h0M941.5 347.3h0M952.5 256.6h0M974.4 337.6h0M980.3 245.9h0M935.8 236.5h0M1001.5 245.7h0M936.5 290.9h0M1002.3 266.1h0M936.1 292.5h0M980.4 309.7h0M958.8 244.1h0M963.0 243.1h0M956.3 318.1h0M970.3 297.1h0M995.2 268.9h0M1009.0 237.0h0M972.8 358.0h0M977.8 264.3h0M941.0 231.3h0M939.3 325.5h0M980.7 337.3h0M984.1 247.6h0M958.3 257.5h0M957.6 255.0h0M995.1 296.0h0M983.6 234.7h0M959.6 295.2h0M945.0 368.1h0M950.0 247.4h0M949.5 337.7h0M967.8 308.9h0M934.5 233.9h0M969.5 344.4h0M1005.7 241.3h0M977.1 358.1h0M1001.1 247.9h0M955.5 276.0h0M949.6 341.8h0M993.6 238.0h0M964.7 269.0h0M957.9 367.9h0M963.8 342.3h0M968.6 351.9h0M947.6 362.9h0M950.8 275.1h0M969.4 333.9h0M951.6 237.3h0M957.5 296.0h0M946.6 279.2h0M965.7 237.1h0M980.8 354.0h0M982.0 322.9h0M990.5 287.1h0M933.4 326.8h0M987.3 234.5h0M963.1 367.3h0M967.4 299.9h0M971.9 283.6h0M990.2 240.8h0M1003.9 296.9h0M949.6 345.8h0M978.7 236.7h0M971.4 350.2h0M948.6 247.3h0M957.3 339.2h0M971.6 261.2h0M960.2 361.8h0M961.0 368.6h0M972.8 254.3h0M1013.8 236.1h0M940.7 330.8h0M956.0 255.1h0M936.0 232.1h0M996.6 248.0h0M971.3 314.6h0M935.0 339.7h0M933.6 336.7h0M972.1 284.0h0M970.1 268.4h0M1011.8 249.2h0M980.5 268.9h0M966.1 370.1h0M937.3 310.8h0M939.6 250.9h0M969.0 301.1h0M954.1 273.7h0M939.9 271.9h0M979.8 357.5h0M999.6 363.0h0M946.1 364.8h0M977.1 231.0h0M954.0 292.6h0M956.5 305.1h0M976.7 286.3h0M982.5 261.1h0M946.8 283.4h0M961.4 290.0h0M980.3 277.4h0M952.4 260.7h0M974.3 265.9h0M986.2 301.2h0M944.3 309.4h0M963.4 242.1h0M970.5 284.8h0M952.9 365.6h0M1011.7 264.0h0M959.2 303.4h0M989.4 267.7h0M937.0 236.0h0M964.6 279.0h0M958.8 298.4h0M959.2 256.2h0M958.3 366.8h0M966.6 291.9h0M980.3 368.0h0M940.1 324.7h0M938.0 313.3h0M993.7 258.8h0M935.3 348.2h0M970.7 259.8h0M1011.3 239.3h0M949.2 278.2h0M983.9 306.0h0M956.6 262.8h0M950.4 287.1h0M990.8 259.7h0M965.0 367.0h0M938.4 273.8h0M954.7 300.5h0M962.4 326.1h0M958.5 237.6h0M990.6 230.4h0M966.5 275.6h0M989.9 337.3h0M999.7 270.6h0M951.3 322.6h0M983.0 358.3h0M994.7 309.3h0M971.9 276.2h0M975.5 236.3h0M952.0 298.5h0M958.3 254.7h0M974.3 274.6h0M971.0 247.9h0M941.5 338.6h0M999.3 337.5h0M985.8 346.9h0M986.0 293.8h0M935.6 319.3h0M939.5 290.5h0M956.9 306.1h0M943.8 326.7h0M998.3 252.1h0M941.4 249.6h0M941.6 320.8h0M939.0 244.9h0M936.8 265.4h0M943.9 265.8h0M964.5 362.3h0M942.0 333.0h0M955.4 319.3h0M960.9 370.0h0M954.5 268.5h0M1009.5 232.5h0M1013.1 366.9h0M943.3 320.9h0M936.1 280.2h0M937.3 289.3h0M971.4 360.2h0M958.4 303.2h0M938.2 366.4h0M962.4 296.5h0M962.0 325.5h0M987.3 330.1h0M958.8 246.7h0M986.8 234.6h0M969.8 293.9h0M939.1 323.8h0M1000.4 263.6h0M978.1 256.2h0M941.2 357.8h0M1000.4 336.4h0M977.8 241.9h0M995.1 311.3h0M948.3 255.1h0M937.5 312.1h0M1002.0 231.5h0M936.8 309.9h0M1000.3 275.2h0M981.9 267.8h0M993.9 324.4h0M961.8 246.8h0M943.5 324.6h0M947.9 244.0h0M937.4 334.6h0M1002.9 269.5h0M958.7 364.4h0M935.5 310.9h0M946.5 329.7h0M947.3 262.3h0M973.5 358.3h0M944.6 336.3h0M974.0 357.8h0M986.0 261.9h0M958.3 292.3h0M966.2 368.1h0M956.8 270.7h0M962.0 308.8h0M953.6 358.3h0M954.7 355.6h0M941.3 321.8h0M1007.5 252.9h0M988.5 271.6h0M957.8 242.2h0M944.6 243.8h0M967.6 341.4h0M944.4 247.4h0M985.8 256.9h0M940.8 252.6h0M989.0 317.9h0M936.0 293.4h0M1014.5 252.1h0M998.6 244.1h0M984.7 289.8h0M958.3 336.7h0M938.3 266.9h0M954.0 330.7h0M935.1 282.1h0M984.4 249.7h0M1000.6 262.2h0M966.2 313.2h0M941.6 231.4h0M1015.1 258.9h0M974.2 341.4h0M957.4 243.2h0M955.2 344.3h0M963.9 241.5h0M961.0 367.7h0M984.7 287.8h0M938.5 237.0h0M942.7 311.1h0M969.5 329.1h0M993.1 253.6h0M962.5 319.1h0M938.6 280.1h0M976.8 369.8h0M981.8 354.3h0M982.6 318.0h0M944.7 242.2h0M934.1 352.4h0M952.2 258.9h0M993.4 274.2h0M946.2 364.6h0M995.6 249.4h0M933.5 231.8h0M981.1 293.4h0M933.4 288.7h0M952.0 343.9h0M981.3 258.8h0M984.5 346.3h0M954.0 351.5h0M987.9 292.3h0M949.6 317.6h0M962.3 369.7h0M972.3 297.7h0M948.6 294.6h0M953.0 358.3h0M960.4 363.6h0M976.7 318.3h0M943.4 282.1h0M940.9 317.0h0M969.6 338.9h0M950.9 252.3h0M966.2 359.9h0M939.7 368.1h0M987.7 269.3h0M941.8 365.5h0M947.2 320.6h0M953.0 330.4h0M1006.3 240.1h0M960.0 264.1h0M989.2 259.0h0M955.9 287.1h0M952.1 231.8h0M960.7 230.0h0M988.8 345.6h0M945.9 340.7h0M983.6 235.4h0M984.1 272.7h0M972.6 355.8h0M940.0 361.3h0M1000.8 340.8h0M1011.2 236.1h0M945.1 305.0h0M980.2 320.2h0M1011.9 235.3h0M944.6 231.0h0M979.5 360.7h0M1000.6 230.9h0M977.4 294.0h0M938.7 325.7h0M974.2 337.1h0M945.1 320.6h0M947.0 352.3h0M983.3 251.2h0M1012.1 302.3h0M984.4 264.8h0M970.3 335.5h0M943.7 306.3h0M977.8 241.7h0M967.2 349.6h0M1003.3 243.0h0M940.2 266.1h0M1004.9 247.2h0M992.1 243.3h0M952.0 319.3h0M952.2 329.9h0M1004.8 246.9h0M1004.2 312.9h0M968.0 251.8h0M990.5 336.2h0M975.1 363.3h0M965.2 348.9h0M973.4 295.7h0M960.2 298.5h0M980.0 262.7h0M972.9 276.2h0M952.4 363.1h0M957.9 252.9h0M970.7 272.4h0M959.4 305.9h0M978.2 279.4h0M1012.3 282.3h0M952.8 293.7h0M995.4 258.1h0M934.5 288.2h0M996.7 276.9h0M949.7 333.9h0M937.1 349.5h0M949.1 352.6h0M961.8 331.1h0M959.1 357.0h0M943.2 254.2h0M973.4 240.6h0M948.9 362.4h0M977.7 267.1h0M987.1 368.8h0M988.1 236.4h0M942.1 229.6h0M974.8 271.4h0M956.2 282.1h0M995.1 305.3h0M934.2 243.5h0M966.6 360.9h0M985.3 342.3h0M962.6 244.3h0M975.0 297.9h0M936.9 237.9h0M948.2 233.6h0M994.0 331.2h0M1001.7 250.9h0M957.6 264.2h0M963.4 265.0h0M937.4 249.1h0M937.1 317.4h0M937.3 347.2h0M975.0 303.5h0M946.8 257.0h0M959.0 312.9h0M950.1 245.5h0M1012.7 232.1h0M943.9 249.6h0M952.8 348.0h0M950.0 239.3h0M986.4 241.8h0M1010.9 265.6h0M965.9 236.3h0M973.7 246.4h0M965.8 278.6h0M996.5 342.5h0M963.0 281.8h0M945.2 341.8h0M991.0 255.9h0M963.0 244.0h0M984.5 246.2h0M980.4 357.8h0M947.1 282.5h0M940.6 305.9h0M946.5 341.7h0M992.1 241.2h0M971.0 253.6h0M960.6 231.6h0M965.8 306.7h0M950.5 246.0h0M1002.9 251.2h0M1013.6 242.8h0M957.7 319.2h0M961.6 360.2h0M938.2 306.6h0M981.5 321.2h0M962.8 348.2h0M948.8 345.8h0M979.1 336.7h0M949.9 309.4h0M970.0 249.2h0M964.9 363.5h0M959.1 351.7h0M1005.4 278.5h0M969.2 297.6h0M996.9 283.0h0M963.8 280.9h0M976.1 343.3h0M976.0 323.8h0M955.6 360.9h0M935.2 316.4h0M974.8 306.1h0M939.5 256.3h0M937.1 234.3h0M952.8 334.2h0M946.6 255.9h0M970.7 269.5h0M967.2 239.4h0M955.3 367.5h0M981.9 329.3h0M975.5 234.3h0M988.3 238.2h0M971.1 263.0h0M970.3 311.3h0M962.2 252.2h0M974.3 346.3h0M960.6 361.2h0M1007.9 258.6h0M935.1 263.9h0M970.6 317.8h0M994.0 268.6h0M940.0 287.5h0M955.7 299.4h0M959.9 291.3h0M949.5 352.4h0M937.7 354.6h0M959.9 273.5h0M975.0 361.9h0M961.8 350.0h0M965.4 257.2h0M967.8 283.5h0M1014.2 294.8h0M954.4 290.6h0M945.7 362.9h0M996.0 266.9h0M975.2 338.5h0M978.3 245.2h0M943.2 303.8h0M954.9 232.0h0M992.3 233.6h0M972.7 238.0h0M968.2 274.3h0M1007.5 256.0h0M983.5 286.3h0M961.4 266.5h0M989.3 363.1h0M999.6 236.8h0M977.1 239.0h0M942.4 303.6h0M943.2 312.7h0M972.5 317.0h0M948.8 298.4h0M991.7 314.3h0M966.6 259.8h0M1012.4 247.5h0M963.4 232.7h0M951.0 339.3h0M949.3 240.3h0M971.9 230.4h0M939.7 343.1h0M989.1 236.4h0M974.7 261.9h0M992.7 367.6h0M951.4 258.9h0M998.1 255.4h0M938.3 370.1h0M934.8 347.0h0M962.9 347.9h0M933.5 239.7h0M953.4 323.6h0M948.3 342.8h0M1012.5 267.0h0M939.9 308.0h0M974.2 249.4h0M969.2 276.2h0M975.8 311.8h0M937.1 335.7h0M1011.5 263.0h0M947.9 310.5h0M945.5 279.4h0M990.2 308.2h0M967.4 308.4h0M933.2 240.1h0M1005.4 240.0h0M991.0 359.0h0M963.3 309.4h0M939.9 323.6h0M966.6 295.5h0M936.8 256.0h0M964.4 349.7h0M994.5 267.5h0M953.5 359.1h0M980.7 304.4h0M962.9 343.1h0M975.9 245.5h0M943.4 304.9h0M995.7 264.0h0M941.2 332.0h0M949.2 281.5h0M974.1 331.5h0M966.3 297.6h0M977.3 344.6h0M990.4 287.2h0M960.6 357.2h0M981.2 241.1h0M969.8 335.9h0M954.8 287.0h0M1003.6 241.6h0M1004.0 274.3h0M952.5 288.1h0M953.5 274.3h0M943.9 270.9h0M979.9 291.5h0M960.1 334.2h0M945.3 247.4h0M961.2 343.1h0M953.1 238.0h0M943.6 350.4h0M985.0 264.8h0M976.2 321.6h0M934.1 281.7h0M961.7 305.8h0M938.8 340.7h0M950.7 324.7h0M957.0 309.7h0M994.2 282.6h0M970.6 344.6h0M940.9 261.8h0M967.0 241.6h0M968.8 261.6h0M956.8 338.1h0M939.0 346.0h0M968.0 313.2h0M940.1 276.7h0M940.2 364.9h0M999.3 294.0h0M1009.7 277.7h0M979.2 362.4h0M952.4 361.6h0M946.9 245.0h0M979.8 350.8h0M1014.7 325.0h0M978.7 272.0h0M932.9 292.5h0M956.4 268.6h0M945.9 252.2h0M956.3 341.0h0M1005.4 275.4h0M968.2 269.6h0M937.3 279.2h0M972.5 300.1h0M1000.8 271.9h0M958.9 295.1h0M956.3 364.9h0M958.5 242.9h0M976.2 237.1h0M941.9 260.0h0M971.0 290.2h0M993.7 289.3h0M958.8 338.4h0M937.1 230.8h0M998.3 296.4h0M952.2 360.8h0M950.5 343.6h0M949.0 259.2h0M940.1 301.3h0M963.0 316.5h0M945.9 365.8h0M1008.1 252.6h0M942.7 241.1h0M1007.7 256.4h0M967.1 292.4h0M982.1 239.2h0M951.4 360.6h0M1007.6 339.4h0M959.7 317.7h0M955.4 357.5h0M985.0 239.2h0M1007.7 364.3h0M976.6 271.9h0M947.6 310.7h0M1011.7 300.1h0M968.6 256.3h0M948.5 337.6h0M954.6 337.4h0M949.7 274.5h0M971.1 362.3h0M949.8 279.6h0M945.1 301.1h0M970.7 356.3h0M964.4 298.5h0M1006.6 343.0h0M959.1 288.6h0M951.7 257.2h0M935.9 319.9h0M954.4 236.4h0M951.8 342.3h0M1013.4 257.4h0M956.8 253.4h0M964.0 357.7h0M936.8 258.7h0M979.4 316.0h0M966.0 320.7h0M990.3 319.2h0M940.5 289.4h0M943.4 362.9h0M971.9 273.8h0M973.8 272.8h0M1004.2 324.1h0M979.4 336.9h0M951.6 353.7h0M934.4 335.4h0M971.8 292.1h0M985.7 271.1h0M971.6 257.1h0M937.8 287.4h0M977.8 290.6h0M1001.0 338.0h0M948.8 304.8h0M957.7 289.7h0M971.6 251.3h0M935.3 362.8h0M952.6 262.9h0M939.6 360.2h0M961.2 316.8h0M936.0 255.4h0M963.8 304.4h0M932.8 263.1h0M949.9 264.4h0M999.2 268.5h0M974.3 351.3h0M939.2 279.4h0M973.4 234.7h0M1013.9 283.2h0M987.7 269.2h0M954.6 292.4h0M977.1 322.8h0M965.3 320.3h0M945.2 360.8h0M964.3 332.1h0M934.4 258.0h0M972.9 353.1h0M942.6 342.4h0M953.1 356.1h0M988.6 339.0h0M982.3 233.9h0M973.8 250.9h0M947.8 280.6h0M968.4 317.1h0M938.9 300.2h0M947.8 310.1h0M960.4 337.1h0M968.4 297.4h0M986.2 231.6h0M986.7 316.4h0M939.8 241.9h0M962.2 312.7h0M1001.6 235.2h0M952.3 354.7h0M933.5 257.5h0M938.3 233.0h0M952.9 353.6h0M967.0 330.8h0M975.4 357.3h0M938.2 326.9h0M979.9 357.2h0M976.8 353.3h0M972.5 239.0h0M955.7 274.9h0M1010.7 269.0h0M988.1 251.9h0M972.9 333.4h0M984.4 323.6h0M1010.7 247.8h0M992.1 335.5h0M969.3 316.3h0M996.2 243.7h0M958.7 311.1h0M990.4 329.5h0M952.7 297.3h0M940.7 296.3h0M974.1 262.0h0M997.1 338.0h0M974.1 314.5h0M972.8 300.4h0M999.7 305.6h0M963.2 248.2h0M975.5 244.9h0M1009.7 255.0h0M953.6 286.5h0M964.3 341.3h0M970.4 253.2h0M954.8 301.0h0M944.9 315.4h0M943.6 271.7h0M941.8 362.9h0M967.7 230.3h0M969.2 235.5h0M977.6 276.9h0M983.3 351.8h0M968.5 344.8h0M1007.4 245.9h0M976.6 269.2h0M987.9 350.9h0M954.6 356.7h0M959.2 307.1h0M936.9 235.2h0M992.1 291.8h0M948.5 323.7h0M932.8 342.9h0M939.3 256.1h0M964.6 297.5h0M962.0 274.3h0M1012.2 319.7h0M968.2 352.7h0M957.6 242.4h0M937.2 248.9h0M984.1 258.4h0M1002.2 331.1h0M941.5 298.6h0M946.0 367.2h0M945.8 297.9h0M962.8 319.4h0M943.4 289.8h0M955.4 354.5h0M936.1 358.1h0M935.3 365.6h0M976.2 271.9h0M938.2 368.8h0M936.0 321.6h0M969.2 363.1h0M953.0 304.2h0M972.5 328.3h0M948.7 259.3h0M993.6 255.7h0M980.0 259.4h0M952.1 236.1h0M954.9 321.5h0M976.7 362.4h0M954.8 293.3h0M971.6 328.9h0M959.9 235.0h0M973.7 305.9h0M949.0 352.7h0M973.4 310.8h0M941.0 314.4h0M942.7 240.1h0M976.2 285.9h0M940.1 289.9h0M947.2 368.5h0M979.0 326.2h0M940.6 366.9h0M956.4 288.9h0M986.3 232.5h0M937.8 252.0h0M938.2 326.6h0M979.9 286.2h0M950.6 323.6h0M1012.8 253.9h0M982.0 289.0h0M953.7 345.6h0M972.8 305.8h0M947.7 241.2h0M991.6 256.8h0M989.6 284.2h0M971.4 281.0h0M958.3 322.8h0M987.6 269.5h0M948.7 258.7h0M934.7 355.7h0M950.1 261.2h0M955.8 247.0h0M985.4 239.6h0M943.8 320.1h0M960.8 329.0h0M978.7 265.2h0M942.3 304.8h0M968.8 266.9h0M982.8 286.2h0M953.9 296.8h0M963.0 358.1h0M963.1 281.8h0M964.4 347.2h0M986.4 315.8h0M1000.2 234.4h0M973.7 323.3h0M944.2 291.1h0M973.7 286.1h0M967.4 364.9h0M982.1 343.1h0M965.5 276.6h0M979.7 350.7h0M938.7 349.2h0M950.3 323.5h0M977.5 346.7h0M943.5 307.7h0M1014.8 232.2h0M942.1 315.1h0M1000.4 269.3h0M997.6 237.0h0M963.2 300.5h0M978.9 332.0h0M983.3 311.7h0M985.5 265.7h0M942.6 260.8h0M974.0 347.8h0M997.8 278.6h0M965.2 256.1h0M937.8 312.5h0M1014.3 252.6h0M936.6 339.2h0M953.6 346.2h0M990.8 362.6h0M969.8 255.7h0M974.6 303.7h0M993.4 322.8h0M1008.6 236.8h0M1000.4 234.4h0M963.0 305.6h0M945.0 334.5h0M933.4 252.8h0M990.9 323.9h0M932.9 246.0h0M976.8 324.4h0M993.0 302.8h0M948.6 347.7h0M992.5 355.4h0M1014.4 258.6h0M1015.0 268.7h0M947.3 311.0h0M948.2 317.3h0M960.5 258.9h0M958.6 254.3h0M969.7 274.3h0M959.6 368.0h0M987.8 235.2h0M959.7 317.1h0M937.4 232.4h0M969.8 276.0h0M968.9 266.1h0M946.3 326.4h0M975.2 257.3h0M981.5 239.2h0M944.9 239.4h0M985.7 234.4h0M984.0 338.9h0M962.2 268.2h0M961.0 337.8h0M979.0 353.8h0M975.4 310.7h0M1012.3 239.4h0M937.2 361.5h0M976.4 315.9h0M940.5 337.5h0M994.3 273.1h0M1001.8 239.2h0M1005.4 265.3h0M989.6 277.6h0M962.0 236.0h0M935.3 307.3h0M935.5 280.8h0M952.3 292.2h0M938.7 363.8h0M951.2 359.3h0M967.9 368.3h0M978.4 360.5h0M994.4 356.6h0M940.7 289.0h0M944.4 229.1h0M999.5 241.4h0M985.0 358.2h0M987.6 240.1h0M982.5 252.2h0M993.4 271.6h0M982.2 253.2h0M993.9 271.8h0M945.8 326.2h0M943.3 289.1h0M953.1 334.8h0M954.4 353.6h0M1006.3 256.8h0M983.4 241.4h0M965.0 329.8h0M987.1 317.3h0M963.9 243.6h0M953.3 274.9h0M960.3 232.7h0M960.9 342.5h0M935.3 353.2h0M933.8 362.5h0M973.1 277.3h0M934.8 311.2h0M978.0 260.0h0M986.5 331.8h0M1010.0 252.3h0M952.0 266.3h0M935.9 246.4h0M1014.1 273.6h0M941.6 330.7h0M1003.2 265.3h0M951.1 237.0h0M941.3 290.0h0M951.7 301.9h0M953.7 361.9h0M964.2 287.2h0M940.6 257.3h0M966.8 258.2h0M1005.0 251.4h0M970.3 314.6h0M979.6 291.1h0M971.1 345.0h0M1001.3 298.8h0M933.9 271.9h0M990.3 340.7h0M973.6 288.5h0M951.8 248.3h0M949.0 236.8h0M949.1 230.3h0M948.7 277.9h0M962.3 230.2h0M1001.9 233.5h0M977.6 321.4h0M986.1 235.4h0M937.2 293.6h0M978.1 354.5h0M1000.6 258.7h0M958.9 285.6h0M945.2 300.2h0M954.0 354.1h0M980.3 260.3h0M999.0 235.3h0M1014.5 247.4h0M936.8 229.4h0M952.9 325.2h0M942.8 245.1h0M966.6 320.6h0M991.4 254.2h0M939.3 361.9h0M954.2 349.6h0M960.6 266.1h0M942.8 301.0h0M981.0 279.8h0M962.7 319.6h0M1007.0 252.2h0M964.2 248.9h0M955.7 363.3h0M938.0 314.2h0M937.5 355.3h0M976.4 323.6h0M945.1 234.5h0M1005.2 273.5h0M971.4 313.6h0M955.4 233.7h0M967.4 355.5h0M991.2 257.3h0M989.5 260.1h0M951.6 267.7h0M958.7 245.5h0M955.3 258.6h0M970.3 357.4h0M941.4 330.8h0M989.4 242.6h0M995.1 265.4h0M936.0 347.6h0M969.7 319.0h0M951.0 324.7h0M970.4 355.3h0M973.8 348.0h0M966.6 261.5h0M966.2 345.8h0M951.5 303.1h0M953.0 244.5h0M998.2 243.0h0M955.1 349.8h0M961.3 366.5h0M1013.5 266.9h0M990.9 292.7h0M991.1 233.4h0M1004.5 248.6h0M943.3 253.8h0M965.5 276.5h0M952.1 296.9h0M978.2 318.3h0M1010.9 253.0h0M1012.3 231.1h0M972.4 276.1h0M979.8 290.6h0M953.4 315.1h0M981.0 281.3h0M958.6 249.1h0M950.4 243.9h0M992.9 236.4h0M981.0 366.9h0M1007.4 240.8h0M948.5 291.3h0M964.8 235.7h0M998.8 314.4h0M973.5 333.9h0M987.4 286.7h0M993.0 263.2h0M976.4 270.0h0M942.5 321.6h0M956.1 229.1h0M943.2 360.9h0M1004.2 262.0h0M982.9 366.2h0M988.9 238.0h0M965.4 365.2h0M977.2 269.7h0M990.7 320.1h0M1011.1 232.2h0M957.8 359.2h0M959.2 264.7h0M976.8 345.4h0M991.4 283.4h0M997.3 365.1h0M967.4 297.0h0M963.8 280.3h0M937.1 325.9h0M968.7 256.5h0M957.4 319.2h0M956.5 262.4h0M993.0 234.7h0M940.6 230.0h0M945.4 238.8h0M1014.8 269.8h0M952.6 361.3h0M975.6 280.6h0M965.3 276.4h0M949.8 282.4h0M958.9 324.7h0M956.6 310.6h0M938.2 256.1h0M966.3 361.4h0M963.9 322.8h0M953.8 247.0h0M937.6 272.2h0M945.8 253.6h0M995.5 231.3h0M978.7 282.6h0M979.1 273.3h0M993.2 352.1h0M940.8 355.9h0M961.6 306.9h0M962.4 246.8h0M981.3 303.2h0M970.0 341.6h0M981.4 242.7h0M977.9 328.3h0M984.6 250.6h0M991.3 324.7h0M966.7 276.1h0M987.9 259.6h0M1013.4 230.5h0M953.5 367.6h0M983.3 341.1h0M947.9 336.2h0M934.6 344.4h0M933.9 321.9h0M962.8 315.4h0M990.1 277.4h0M938.5 312.2h0M975.7 333.9h0M967.6 285.3h0M934.9 276.4h0M981.2 348.7h0M934.2 239.6h0M974.8 366.0h0M938.6 255.8h0M985.9 233.0h0M991.2 259.4h0M949.3 254.3h0M960.6 288.1h0M974.7 296.4h0M935.2 314.5h0M965.4 271.2h0M973.6 247.5h0M990.1 258.1h0M938.1 345.6h0M943.1 356.6h0M983.8 342.5h0M972.8 294.4h0M1000.5 307.4h0M971.3 365.8h0M999.6 233.7h0M971.3 320.4h0M936.8 349.5h0M978.0 256.9h0M958.9 268.9h0M976.5 236.3h0M945.8 343.8h0M943.7 262.0h0M970.1 302.1h0M983.7 245.0h0M945.6 290.8h0M965.5 334.1h0M980.6 283.9h0M951.5 310.3h0M967.7 301.8h0M946.8 322.7h0M1003.0 265.5h0M940.2 314.6h0M940.1 364.6h0M980.8 305.1h0M950.0 229.6h0M952.7 301.0h0M964.1 292.4h0M943.8 235.8h0M945.1 309.8h0M953.7 261.2h0M933.7 247.4h0M958.2 245.5h0M1014.0 272.6h0M949.2 312.1h0M938.0 350.9h0M1012.0 263.9h0M934.6 319.5h0M966.9 267.2h0M949.8 321.4h0M967.1 254.4h0M942.4 340.0h0M988.3 245.3h0M944.4 319.8h0M964.2 364.2h0M960.0 365.0h0M1014.8 264.7h0M975.6 270.7h0M950.9 268.9h0M969.3 253.2h0M1004.7 328.6h0M933.0 264.1h0M995.9 242.0h0M975.1 261.7h0M999.5 248.1h0M971.4 361.6h0M946.8 273.7h0M967.7 272.7h0M955.9 366.4h0M945.4 332.6h0M932.8 313.3h0M1008.2 269.7h0M959.1 264.7h0M945.7 289.3h0M977.1 232.2h0M969.4 339.4h0M934.2 307.7h0M944.0 354.4h0M971.6 353.1h0M965.6 301.6h0M998.9 281.8h0M940.6 358.2h0M940.3 320.6h0M966.8 286.3h0M988.8 238.5h0M946.8 355.8h0M986.8 353.6h0M969.7 267.8h0M965.2 283.8h0M956.4 267.0h0M1003.7 238.9h0M988.6 253.4h0M961.2 237.7h0M955.0 337.6h0M1005.7 260.3h0M971.5 352.4h0M975.0 323.8h0M933.5 285.9h0M976.4 278.2h0M1003.7 250.9h0M970.0 286.7h0M989.4 264.3h0M1014.6 244.0h0M952.0 363.3h0M1011.7 242.8h0M934.0 251.8h0M1014.8 254.5h0M974.2 348.9h0M982.6 268.2h0M956.1 326.1h0M988.3 260.3h0M966.5 269.9h0M967.8 267.9h0M954.6 304.8h0M969.8 291.2h0M940.3 330.6h0M950.4 256.9h0M966.8 261.2h0M980.9 281.5h0M977.0 257.8h0M935.7 299.4h0M978.4 308.0h0M947.4 264.7h0M999.6 362.8h0M973.8 259.3h0M959.6 249.3h0M991.3 304.4h0M933.5 343.2h0M947.3 314.7h0M960.5 311.7h0M958.8 241.3h0M951.1 255.6h0M968.0 322.0h0M954.5 230.7h0M981.3 295.6h0M952.3 266.1h0M974.3 334.1h0M938.3 331.3h0M999.2 269.9h0M967.9 354.6h0M994.9 260.1h0M950.5 279.3h0M956.2 253.9h0M994.0 264.6h0M964.6 367.8h0M965.0 240.3h0M940.2 312.5h0M982.2 288.2h0M937.2 302.0h0M974.4 250.2h0M941.3 246.5h0M941.1 315.2h0M949.0 264.5h0M947.1 364.4h0M1003.2 261.6h0M950.1 298.5h0M934.4 323.9h0M975.9 356.0h0M999.0 340.9h0M965.6 253.1h0M953.8 266.2h0M943.2 366.6h0M951.8 338.2h0M960.7 249.2h0M979.4 295.7h0M993.1 241.4h0M987.8 355.6h0M944.4 330.3h0M968.8 286.0h0M944.0 300.6h0M943.2 296.4h0M995.7 265.5h0M966.9 337.5h0M936.1 246.4h0M949.5 285.8h0M991.2 311.8h0M980.3 277.4h0M1014.6 247.0h0M938.7 353.1h0M957.6 320.9h0M959.9 284.3h0M954.4 277.5h0M966.6 330.8h0M974.9 362.3h0M936.8 310.1h0M934.3 332.5h0M936.5 359.0h0M971.5 233.1h0M989.6 297.1h0M950.4 238.1h0M980.1 316.9h0M933.8 327.3h0M967.2 308.9h0M943.8 323.9h0M933.1 359.7h0M942.0 242.4h0M960.2 281.8h0M950.4 311.7h0M969.3 233.9h0M959.1 343.5h0M958.4 243.1h0M955.2 346.5h0M1013.6 298.8h0M944.3 274.5h0M980.4 239.6h0M984.4 319.2h0M978.4 368.4h0M996.8 352.3h0M939.7 297.3h0M975.1 346.2h0M979.8 303.5h0M983.5 346.0h0M981.7 312.9h0M942.9 367.5h0M965.2 261.2h0M946.9 323.3h0M983.0 319.9h0M970.9 284.1h0M997.2 360.5h0M980.3 267.8h0M933.2 308.8h0M960.7 274.6h0M1003.1 266.4h0M969.9 230.7h0M978.7 322.5h0M993.4 309.7h0M942.4 313.3h0M955.4 240.3h0M968.2 307.3h0M959.9 330.8h0M985.8 276.0h0M986.2 319.1h0M933.7 327.4h0M963.8 362.2h0M949.5 277.1h0M972.0 270.9h0M946.4 367.2h0M941.7 360.7h0M968.7 318.0h0M960.8 271.6h0M980.4 299.4h0M956.4 280.9h0M939.7 236.4h0M953.6 239.5h0M941.3 343.9h0M936.0 322.1h0M955.2 352.2h0M972.7 272.2h0M964.2 308.8h0M942.2 369.9h0M967.8 278.2h0M970.2 330.7h0M941.6 348.6h0M993.4 258.9h0M958.8 366.9h0M953.9 293.5h0M935.2 285.1h0M979.8 363.7h0M1000.3 306.3h0M958.7 310.3h0M950.9 257.4h0M965.1 300.3h0M971.0 264.8h0M935.3 247.6h0M975.4 281.3h0M949.6 276.8h0M971.5 275.8h0M959.9 248.6h0M965.6 367.5h0M951.4 315.5h0M968.4 239.1h0M973.0 328.2h0M1004.6 269.8h0M943.9 270.2h0M944.7 343.6h0M951.1 330.4h0M970.8 275.1h0M986.9 355.5h0M991.3 363.3h0M994.3 302.6h0M959.4 297.0h0M983.6 286.2h0M966.6 279.2h0M966.3 286.8h0M977.6 305.8h0M943.9 299.1h0M946.7 246.8h0M965.9 357.5h0M985.3 337.7h0M947.0 267.3h0M956.3 267.3h0M1003.3 233.5h0M939.0 267.7h0M949.2 261.8h0M998.5 308.6h0M968.1 286.7h0M942.2 324.6h0M932.8 363.8h0M999.9 356.7h0M940.4 333.4h0M972.0 360.8h0M974.1 326.1h0M938.1 285.9h0M934.7 275.6h0M943.3 242.2h0M981.3 304.2h0M972.0 246.3h0M963.0 231.7h0M941.0 299.1h0M989.6 276.3h0M949.2 272.5h0M936.2 318.5h0M953.2 272.0h0M996.3 275.3h0M946.7 338.5h0M943.4 293.1h0M974.5 326.1h0M999.6 235.3h0M957.2 268.6h0M944.8 269.9h0M958.3 302.8h0M960.5 270.0h0M977.4 232.4h0M939.3 288.1h0M1010.5 331.0h0M1000.4 286.1h0M975.0 306.6h0M940.9 266.5h0M973.6 348.6h0M994.4 248.7h0M953.6 332.4h0M946.3 278.7h0M954.6 278.5h0M991.1 281.0h0M941.0 342.8h0M963.2 320.7h0M992.5 258.6h0M983.5 289.6h0M960.6 343.4h0M990.1 337.2h0M991.8 283.6h0M984.9 366.9h0M970.8 324.3h0M1002.3 336.6h0M986.4 350.0h0M961.4 352.9h0M949.4 240.1h0M997.7 347.1h0M1001.2 288.3h0M956.2 300.4h0M976.6 342.8h0M980.7 339.3h0M936.9 352.5h0M939.0 263.9h0M957.3 230.7h0M957.5 310.7h0M963.7 304.6h0M970.8 306.6h0M1015.1 262.3h0M963.9 230.2h0M933.5 294.1h0M973.0 232.2h0M989.4 270.6h0M957.6 252.6h0M966.3 261.8h0M976.8 257.1h0M974.7 251.3h0M988.1 335.5h0M971.3 239.0h0M982.1 266.4h0M975.4 359.6h0M968.4 346.1h0M1000.6 255.7h0M990.5 270.1h0M957.2 331.5h0M951.7 229.2h0M991.7 253.2h0M941.4 262.6h0M964.1 296.3h0M936.4 366.2h0M991.8 274.7h0M969.7 317.5h0M944.8 255.7h0M1003.6 265.2h0M989.1 231.8h0M975.0 279.9h0M989.6 353.9h0M1005.3 268.6h0M942.0 270.2h0M984.2 229.8h0M948.1 243.1h0M962.7 299.9h0M936.3 278.3h0M947.5 320.4h0M971.0 299.0h0M1011.6 259.4h0M963.9 294.5h0M940.1 315.1h0M956.5 251.7h0M977.6 304.2h0M990.3 317.2h0M971.4 330.8h0M965.4 274.6h0M983.1 361.7h0M938.9 294.1h0M1006.2 242.4h0M1014.3 363.1h0M967.2 291.3h0M985.0 338.4h0M981.6 255.4h0M961.3 278.2h0M971.4 276.2h0M944.8 233.8h0M971.5 363.9h0M985.9 345.8h0M974.4 327.5h0M1001.4 239.2h0M989.7 304.5h0M960.8 316.7h0M965.9 243.5h0M937.8 236.3h0M964.1 276.7h0M991.9 334.0h0M951.0 267.8h0M977.9 249.4h0M943.8 362.4h0M999.0 254.5h0M966.3 279.3h0M998.0 301.1h0M993.7 285.1h0M963.7 299.4h0M961.0 263.2h0M965.6 231.7h0M996.4 253.2h0M936.4 321.4h0M949.7 333.2h0M941.4 367.9h0M992.3 255.9h0M969.2 239.1h0M964.9 333.8h0M964.6 275.7h0M981.8 352.3h0M964.5 251.4h0M990.1 244.0h0M987.6 269.5h0M1009.9 231.6h0M968.8 232.1h0M972.6 299.8h0M943.7 282.2h0M988.2 339.6h0M981.4 257.4h0M946.1 264.2h0M951.3 302.4h0M979.1 362.5h0M985.6 344.5h0M953.8 266.1h0M936.0 272.2h0M994.1 235.7h0M950.8 328.8h0M964.7 251.6h0M965.6 311.0h0M1010.9 238.7h0M974.6 275.5h0M934.7 273.3h0M956.3 271.1h0M964.3 347.1h0M951.8 334.1h0M976.6 343.3h0M950.5 330.1h0M998.7 277.9h0M933.0 292.7h0M961.8 307.4h0M948.3 350.5h0M954.0 261.0h0M972.4 299.5h0M955.2 253.0h0M991.6 333.0h0M948.1 246.8h0M944.2 334.7h0M971.5 339.6h0M982.6 326.0h0M958.5 319.1h0M933.5 233.7h0M989.5 341.0h0M935.7 360.8h0M961.2 244.1h0M973.3 337.6h0M955.0 263.3h0M1014.5 256.9h0M980.2 359.8h0M950.4 318.6h0M995.5 368.3h0M995.9 276.9h0M967.5 341.2h0M965.7 316.0h0M962.9 284.5h0M996.1 241.6h0M950.2 300.0h0M934.4 264.8h0M975.4 231.1h0M954.6 301.7h0M980.0 359.8h0M966.9 360.5h0M997.4 257.3h0M976.7 245.0h0M1001.0 264.6h0M970.7 280.5h0M949.1 298.8h0M1006.6 252.0h0M1014.8 245.8h0M934.0 354.8h0M952.9 332.1h0M957.0 329.4h0M942.3 286.5h0M937.4 310.1h0M1003.9 297.0h0M979.0 275.9h0M999.2 326.9h0M968.0 256.9h0M1007.8 253.7h0M956.3 302.0h0M954.5 258.7h0M982.1 241.6h0M937.6 281.6h0M992.2 307.4h0M937.3 324.2h0M957.1 330.3h0M939.7 343.7h0M992.0 332.1h0M936.2 232.3h0M963.5 250.0h0M978.8 358.6h0M1002.4 229.1h0M946.6 233.3h0M959.8 357.3h0M940.8 314.7h0M970.0 361.6h0M942.9 259.0h0M935.2 290.3h0M955.7 351.9h0M982.6 315.8h0M940.3 291.9h0M1000.6 243.6h0M951.5 229.5h0M957.8 244.4h0M971.7 324.7h0M994.5 361.6h0M933.8 322.5h0M956.6 264.8h0M960.0 267.1h0M974.9 291.2h0M988.2 283.7h0M946.5 278.4h0M952.0 312.1h0M979.8 297.4h0M973.3 308.9h0M941.8 334.9h0M944.0 238.4h0M1013.2 364.2h0M969.3 255.3h0M985.0 279.0h0M958.5 357.6h0M956.9 233.7h0M971.6 344.7h0M965.5 259.7h0M963.6 276.1h0M947.3 314.8h0M972.0 351.3h0M960.2 300.1h0M933.9 230.0h0M952.6 243.3h0M954.2 254.0h0M935.1 357.5h0M933.4 333.0h0M945.3 357.9h0M933.2 368.2h0M961.2 355.3h0M956.8 308.5h0M941.0 359.3h0M944.4 260.8h0M978.8 337.0h0M951.9 229.2h0M970.7 356.7h0M976.0 296.4h0M996.6 303.5h0M954.0 234.4h0M980.8 261.5h0M1013.8 267.8h0M969.2 237.1h0M986.8 299.2h0M983.2 330.2h0M995.2 261.1h0M946.1 281.6h0M981.3 330.9h0M946.6 366.4h0M983.7 367.7h0M990.7 260.5h0M974.9 274.2h0M954.4 234.1h0M990.8 298.6h0M946.9 243.5h0M983.2 242.3h0M994.9 231.9h0M953.3 354.9h0M992.0 239.3h0M951.9 317.2h0M970.7 234.6h0M934.0 245.9h0M986.3 309.2h0M935.4 295.3h0M952.6 268.6h0M937.1 341.4h0M967.1 261.4h0M951.9 356.4h0M971.9 284.4h0M943.1 288.1h0M961.2 299.4h0M970.5 302.3h0M944.3 301.5h0M952.7 255.1h0M938.1 336.8h0M968.0 317.6h0M964.7 282.1h0M1004.8 253.1h0M944.0 318.1h0M957.6 231.6h0M991.9 336.8h0M952.1 302.7h0M946.9 272.2h0M959.3 251.6h0M949.7 340.4h0M946.5 233.0h0M984.6 366.9h0M942.5 309.6h0M958.7 305.6h0M940.3 325.0h0M992.5 365.4h0M934.3 306.1h0M991.0 340.7h0M954.3 301.4h0M960.0 350.6h0M971.8 342.0h0M955.4 306.2h0M950.4 296.2h0M959.0 266.7h0M1012.5 251.6h0M997.6 368.1h0M990.4 264.8h0M966.0 361.2h0M933.7 312.1h0M974.1 352.4h0M1010.4 345.3h0M971.6 285.3h0M970.0 283.3h0M968.4 367.4h0M940.1 359.3h0M972.3 317.2h0M962.5 289.8h0M966.5 282.0h0M941.7 289.5h0M940.9 316.5h0M944.6 302.8h0M933.4 273.8h0M1004.8 279.8h0M943.3 370.0h0M954.1 331.3h0M958.3 367.0h0M955.9 363.7h0M937.2 329.2h0M976.6 296.5h0M990.9 256.0h0M935.1 257.2h0M952.7 287.5h0M951.9 298.4h0M940.1 327.1h0M946.5 340.1h0M953.4 287.9h0M961.6 350.4h0M943.2 308.9h0M944.5 328.6h0M980.4 326.4h0M1000.4 290.6h0M997.6 282.3h0M1011.7 351.6h0M964.1 344.7h0M962.9 314.0h0M973.4 254.2h0M975.0 344.0h0M997.8 329.1h0M943.5 366.9h0M977.4 320.4h0M937.0 334.4h0M974.4 320.5h0M973.3 253.3h0M955.7 251.5h0M948.9 366.5h0M945.4 267.1h0M981.4 315.2h0M998.2 340.0h0M956.6 361.5h0M1000.8 327.6h0M967.2 308.0h0M948.2 292.4h0M982.3 275.3h0M941.3 347.4h0M945.3 240.7h0M962.7 269.6h0M974.0 293.4h0M1012.9 266.7h0M965.3 324.7h0M972.0 369.4h0M963.3 231.9h0M975.9 300.4h0M963.2 288.9h0M962.5 341.8h0M975.9 309.9h0M999.2 247.7h0M991.6 290.5h0M936.9 297.9h0M962.1 264.6h0M990.0 337.7h0M936.8 348.9h0M933.6 361.4h0M984.5 274.5h0M933.5 262.3h0M944.1 315.5h0M946.5 303.7h0M981.4 271.1h0M935.8 232.7h0M968.3 293.0h0M975.0 329.8h0M942.8 307.6h0M959.7 291.5h0M977.6 333.5h0M968.4 287.3h0M995.7 311.3h0M1006.3 233.4h0M937.2 313.4h0M968.0 275.7h0M940.2 308.5h0M972.2 243.8h0M1004.1 270.9h0M968.6 285.8h0M974.8 243.8h0M942.5 364.4h0M940.3 261.7h0M936.6 328.6h0" fill="none" stroke="#000" stroke-width="6.8" stroke-linecap="round"/>
</g>
<g clip-path="url(#csc0)">
<polygon points="912.9,346.7 1173.8,-33.3 1173.8,-12.3 912.9,367.7" fill="#8fb2f5" fill-opacity="0.55"/>
<line x1="912.9" y1="346.7" x2="1173.8" y2="-33.3" stroke="#6797f4" stroke-width="1" stroke-dasharray="3.5 2.2"/>
<line x1="912.9" y1="367.7" x2="1173.8" y2="-12.3" stroke="#6797f4" stroke-width="1" stroke-dasharray="3.5 2.2"/>
<line x1="912.9" y1="355.6" x2="1173.8" y2="-24.4" stroke="#5890f8" stroke-width="1.9"/>
<line x1="912.9" y1="358.8" x2="1173.8" y2="-21.2" stroke="#5890f8" stroke-width="1.9"/>
</g>
<rect x="932.8" y="228.4" width="82.6" height="142.3" fill="#cdcdcd" fill-opacity="0.58" stroke="none"/>
<rect x="932.8" y="35.7" width="335.5" height="335" fill="none" stroke="#222" stroke-width="1"/>
<rect x="932.8" y="228.4" width="82.6" height="142.3" fill="none" stroke="#f0262c" stroke-width="1.4"/>
<circle cx="957.1" cy="62.1" r="11.6" fill="#c0c0c0" stroke="#7f7f7f" stroke-width="1.9"/>
<text x="976.3" y="66.3" font-size="20" fill="#7d7d7d">SiO<tspan font-size="13" dy="4.5">2</tspan></text>
<line x1="942.7" y1="205.6" x2="952.4" y2="104.4" stroke="#bcbcbc" stroke-width="3.2"/>
<polygon points="954.6,82 960.2,111.2 952.4,104.4 943.5,109.6" fill="#bcbcbc"/>
<line x1="1018.4" y1="179.6" x2="982.7" y2="104.8" stroke="#bcbcbc" stroke-width="3.2"/>
<polygon points="973,84.5 992.9,106.6 982.7,104.8 977.7,113.8" fill="#bcbcbc"/>
<line x1="1053.7" y1="124.9" x2="996.9" y2="84.5" stroke="#bcbcbc" stroke-width="3.2"/>
<polygon points="978.6,71.4 1006.7,81.1 996.9,84.5 996.9,94.8" fill="#bcbcbc"/>
<line x1="1048.3" y1="209.1" x2="1215.9" y2="196" stroke="#bcbcbc" stroke-width="3.2"/>
<polygon points="1238.3,194.3 1210.5,204.9 1215.9,196 1209.2,188.1" fill="#bcbcbc"/>
<line x1="1028.3" y1="261.3" x2="1216.5" y2="213.3" stroke="#bcbcbc" stroke-width="3.2"/>
<polygon points="1238.3,207.7 1212.8,222.9 1216.5,213.3 1208.6,206.6" fill="#bcbcbc"/>
<line x1="1028.3" y1="322.6" x2="1217.1" y2="231.9" stroke="#bcbcbc" stroke-width="3.2"/>
<polygon points="1237.4,222.2 1215.3,242.1 1217.1,231.9 1208.1,227" fill="#bcbcbc"/>
<text transform="translate(1258 250.5) rotate(-90)" font-size="20" fill="#7d7d7d">to ZrSiO<tspan font-size="13" dy="4.5">4</tspan></text>
<text x="1260.4" y="57.7" font-size="19.8" fill="#6c9ef6" text-anchor="end">Si/Zr = 3,300</text>
<text x="1260.4" y="75.9" font-size="19.8" fill="#6c9ef6" text-anchor="end">Si/Zr = 3,600</text>
<text x="935.3" y="362.6" font-size="19.8" fill="#f5222a">bgr</text>
</g>
<g id="sc-b">
<path d="M913.2 873.8H932.8M913.2 790H932.8M913.2 706.3H932.8M913.2 622.5H932.8M913.2 538.8H932.8M932.8 873.8V893.4M1016.7 873.8V893.4M1100.5 873.8V893.4M1184.4 873.8V893.4M1268.3 873.8V893.4" stroke="#1a1a1a" stroke-width="1.2" fill="none"/>
<path d="M923 848.6H932.8M923 833.8H932.8M923 823.4H932.8M923 815.3H932.8M923 808.6H932.8M923 803H932.8M923 798.2H932.8M923 793.9H932.8M923 764.8H932.8M923 750.1H932.8M923 739.6H932.8M923 731.5H932.8M923 724.9H932.8M923 719.3H932.8M923 714.4H932.8M923 710.1H932.8M923 681.1H932.8M923 666.3H932.8M923 655.9H932.8M923 647.8H932.8M923 641.1H932.8M923 635.5H932.8M923 630.7H932.8M923 626.4H932.8M923 597.3H932.8M923 582.6H932.8M923 572.1H932.8M923 564H932.8M923 557.4H932.8M923 551.8H932.8M923 546.9H932.8M923 542.6H932.8M958 873.8V884.2M972.8 873.8V884.2M983.3 873.8V884.2M991.4 873.8V884.2M998.1 873.8V884.2M1003.7 873.8V884.2M1008.5 873.8V884.2M1012.8 873.8V884.2M1041.9 873.8V884.2M1056.7 873.8V884.2M1067.2 873.8V884.2M1075.3 873.8V884.2M1081.9 873.8V884.2M1087.6 873.8V884.2M1092.4 873.8V884.2M1096.7 873.8V884.2M1125.8 873.8V884.2M1140.6 873.8V884.2M1151 873.8V884.2M1159.2 873.8V884.2M1165.8 873.8V884.2M1171.4 873.8V884.2M1176.3 873.8V884.2M1180.6 873.8V884.2M1209.7 873.8V884.2M1224.4 873.8V884.2M1234.9 873.8V884.2M1243.1 873.8V884.2M1249.7 873.8V884.2M1255.3 873.8V884.2M1260.2 873.8V884.2M1264.5 873.8V884.2" stroke="#222" stroke-width="1" fill="none"/>
<text x="905.5" y="882" font-size="23.4" text-anchor="end" fill="#000">100</text>
<text x="905.5" y="798.2" font-size="23.4" text-anchor="end" fill="#000">1,000</text>
<text x="905.5" y="714.5" font-size="23.4" text-anchor="end" fill="#000">10,000</text>
<text x="905.5" y="630.8" font-size="23.4" text-anchor="end" fill="#000">100,000</text>
<text x="905.5" y="547" font-size="23.4" text-anchor="end" fill="#000">1,000,000</text>
<text x="932.8" y="920.3" font-size="23.4" text-anchor="middle" fill="#000">0.1</text>
<text x="1016.7" y="920.3" font-size="23.4" text-anchor="middle" fill="#000">1</text>
<text x="1100.5" y="920.3" font-size="23.4" text-anchor="middle" fill="#000">10</text>
<text x="1184.4" y="920.3" font-size="23.4" text-anchor="middle" fill="#000">100</text>
<text x="1268.3" y="920.3" font-size="23.4" text-anchor="middle" fill="#000">1,000</text>
<text x="1100.5" y="946.3" font-size="23.4" text-anchor="middle" fill="#000">Zr [ppm]</text>
<text transform="translate(813.2 706.3) rotate(-90)" font-size="23.4" text-anchor="middle">Si [ppm]</text>
<g clip-path="url(#cdt1)">
<path d="M964.7 755.3h0M937.3 740.9h0M974.2 764.8h0M953.0 767.0h0M976.2 741.6h0M966.8 747.4h0M945.9 763.1h0M990.0 743.1h0M940.4 756.5h0M976.7 744.7h0M974.2 753.4h0M938.4 739.7h0M946.2 770.6h0M965.0 755.6h0M977.0 754.3h0M987.0 763.9h0M958.3 747.6h0M989.2 747.1h0M984.3 764.7h0M965.9 768.0h0M941.2 738.4h0M975.1 766.9h0M944.7 744.7h0M973.5 740.6h0M975.1 752.3h0M974.0 753.5h0M938.1 742.8h0M968.0 739.1h0M963.8 739.7h0M938.7 741.1h0M960.6 766.4h0M989.0 752.0h0M961.6 757.7h0M953.9 738.9h0M938.6 757.7h0M981.3 758.9h0M972.3 750.0h0M972.6 742.3h0M972.8 753.8h0M977.8 738.1h0M979.8 759.5h0M974.8 752.7h0M990.5 742.1h0M952.5 742.9h0M938.4 767.4h0M940.2 756.6h0M971.2 748.4h0M936.4 765.1h0M957.3 754.6h0M975.6 759.1h0M974.7 747.1h0M958.9 743.4h0M990.1 745.1h0M944.0 739.4h0M988.8 747.4h0M976.9 767.7h0M975.1 748.7h0M988.7 761.3h0M949.1 764.5h0M978.4 749.0h0M947.0 760.4h0M983.2 748.0h0M960.3 747.6h0M949.2 758.3h0M957.6 758.5h0M956.1 747.6h0M946.7 770.4h0M937.0 754.5h0M967.2 737.4h0M985.8 738.7h0M970.9 738.3h0M975.6 766.5h0M974.8 744.3h0M986.8 755.6h0M955.9 765.5h0M937.0 842.3h0M934.1 856.7h0M937.5 814.8h0M962.6 871.5h0M934.3 862.7h0M942.3 865.0h0M943.1 771.1h0M946.1 798.5h0M945.6 805.2h0M936.6 835.9h0M952.9 855.5h0M937.9 818.7h0M934.6 778.7h0M953.9 854.9h0M960.2 829.8h0M963.4 790.8h0M935.7 760.1h0M936.6 734.9h0M936.7 863.0h0M949.7 861.1h0M944.7 797.3h0M938.1 787.2h0M946.0 845.8h0M935.2 835.4h0M933.6 824.4h0M940.8 762.4h0M945.6 737.2h0M955.5 807.1h0M939.1 793.4h0M937.3 796.2h0M982.4 838.3h0M942.4 798.4h0M934.4 820.5h0M948.9 796.8h0M947.5 835.7h0M935.5 818.6h0M957.5 736.3h0M952.9 866.1h0M934.9 796.4h0M940.5 820.2h0M939.1 789.2h0M938.0 816.3h0M936.0 868.0h0M959.0 751.2h0M947.7 859.3h0M944.7 802.4h0M952.5 759.1h0M938.6 769.9h0M936.8 839.6h0M968.2 800.5h0M933.9 816.3h0M938.5 804.2h0M933.9 777.6h0M957.0 790.6h0M943.9 829.9h0M995.8 815.4h0M989.1 786.2h0M957.0 815.0h0M975.4 784.1h0M936.6 788.6h0M963.0 813.7h0M998.0 811.2h0M982.2 815.0h0M940.1 812.6h0M940.4 777.9h0M986.3 784.3h0M973.8 771.5h0M940.7 778.2h0M959.5 801.7h0M950.2 820.2h0M953.6 808.0h0M988.6 824.2h0M990.5 790.2h0M958.9 810.6h0M958.1 791.2h0M983.9 792.1h0M944.0 801.4h0M948.4 795.9h0M1001.0 794.6h0M979.7 786.1h0M978.0 807.5h0M992.8 787.6h0M955.2 786.7h0M1020.0 775.0h0M1047.5 800.2h0M1015.4 744.9h0M1043.6 770.8h0M1037.9 777.8h0M1032.8 793.7h0M1025.4 750.7h0M999.6 798.7h0M1006.4 752.6h0M1033.6 768.1h0M1036.8 782.3h0M1023.3 746.5h0M1047.6 751.6h0M1019.0 794.9h0M1050.9 774.3h0M1046.2 780.8h0M1022.1 766.0h0M999.4 765.9h0M1019.2 767.8h0M1011.0 793.5h0M992.5 744.6h0M1034.0 763.8h0M1021.7 835.7h0M1022.8 820.8h0M1034.5 821.3h0M985.1 836.5h0M1028.8 823.7h0M1022.6 833.4h0M988.5 847.6h0M1024.2 820.6h0M1026.8 824.3h0M1014.1 820.9h0M971.9 852.5h0M949.6 863.1h0M935.8 856.2h0M993.1 830.4h0M998.5 865.0h0M1008.1 853.5h0M1005.1 843.9h0M976.1 824.5h0M938.5 842.8h0M995.2 760.7h0M999.2 762.5h0M1012.3 740.6h0M979.1 788.6h0M968.3 781.0h0M983.4 785.6h0M1010.9 755.4h0M986.4 781.2h0M969.5 795.5h0M935.0 822.8h0M963.0 799.0h0M1028.0 749.3h0M1030.3 744.3h0M1005.4 757.9h0M972.2 774.9h0M980.4 779.9h0M1021.4 735.2h0M1033.6 734.0h0M937.8 632.5h0M938.9 688.4h0M939.7 730.2h0M954.4 730.2h0M992.4 730.7h0M999.1 717.3h0M1021.9 732.0h0M1034.7 714.1h0M1040.1 709.3h0M1045.9 717.3h0M1050.8 698.0h0M1056.7 699.4h0M1060.1 710.6h0M1060.9 714.1h0M1062.8 683.6h0M1064.7 688.4h0M1070.8 682.5h0M1072.2 710.6h0M1083.4 700.7h0M1095.7 711.4h0M1102.9 659.2h0M1109.1 672.6h0M1110.2 684.7h0M1125.7 650.4h0M1125.7 705.0h0M1078.3 742.7h0M1064.7 760.7h0M1056.1 756.1h0M1176.0 690.0h0M1180.0 695.4h0M1182.4 704.5h0M1188.6 707.4h0M1179.2 756.4h0M1235.4 770.0h0M1132.9 787.4h0M1152.2 782.1h0M1077.5 858.3h0M1089.3 851.6h0M1128.1 857.5h0M1181.1 871.7h0M1189.4 868.8h0" fill="none" stroke="#000" stroke-width="6.8" stroke-linecap="round"/>
</g>
<g clip-path="url(#csc1)">
<polygon points="902.6,841.8 1297.4,472.4 1297.4,491.6 902.6,861" fill="#8fb2f5" fill-opacity="0.55"/>
<line x1="902.6" y1="841.8" x2="1297.4" y2="472.4" stroke="#6797f4" stroke-width="1" stroke-dasharray="3.5 2.2"/>
<line x1="902.6" y1="861" x2="1297.4" y2="491.6" stroke="#6797f4" stroke-width="1" stroke-dasharray="3.5 2.2"/>
<line x1="902.6" y1="851.4" x2="1297.4" y2="482" stroke="#5890f8" stroke-width="1.9"/>
</g>
<rect x="932.8" y="731.5" width="123.9" height="142.3" fill="#cdcdcd" fill-opacity="0.58" stroke="none"/>
<rect x="932.8" y="538.8" width="335.5" height="335" fill="none" stroke="#222" stroke-width="1"/>
<rect x="932.8" y="731.5" width="123.9" height="142.3" fill="none" stroke="#f0262c" stroke-width="1.4"/>
<circle cx="967.7" cy="565.4" r="11.6" fill="#c0c0c0" stroke="#7f7f7f" stroke-width="1.9"/>
<text x="987.8" y="568.9" font-size="20" fill="#7d7d7d">SiO<tspan font-size="13" dy="4.5">2</tspan></text>
<line x1="947.5" y1="709.1" x2="961.5" y2="607.1" stroke="#bcbcbc" stroke-width="3.2"/>
<polygon points="964.5,584.8 969,614.2 961.5,607.1 952.3,611.9" fill="#bcbcbc"/>
<line x1="1032.3" y1="677.6" x2="992.9" y2="604.2" stroke="#bcbcbc" stroke-width="3.2"/>
<polygon points="982.3,584.4 1003.2,605.5 992.9,604.2 988.4,613.5" fill="#bcbcbc"/>
<line x1="1069.8" y1="625.9" x2="1010.4" y2="588.7" stroke="#bcbcbc" stroke-width="3.2"/>
<polygon points="991.3,576.8 1019.9,584.8 1010.4,588.7 1011,599" fill="#bcbcbc"/>
<line x1="1079.5" y1="710.7" x2="1200.7" y2="706" stroke="#bcbcbc" stroke-width="3.2"/>
<polygon points="1223.2,705.1 1195,714.6 1200.7,706 1194.4,697.8" fill="#bcbcbc"/>
<line x1="1079.5" y1="765.6" x2="1201" y2="745.8" stroke="#bcbcbc" stroke-width="3.2"/>
<polygon points="1223.2,742.2 1196.4,755.1 1201,745.8 1193.7,738.5" fill="#bcbcbc"/>
<line x1="1079.5" y1="824.1" x2="1201.6" y2="787.8" stroke="#bcbcbc" stroke-width="3.2"/>
<polygon points="1223.2,781.4 1198.3,797.6 1201.6,787.8 1193.5,781.5" fill="#bcbcbc"/>
<text transform="translate(1247.3 781.4) rotate(-90)" font-size="20" fill="#7d7d7d">to ZrSiO<tspan font-size="13" dy="4.5">4</tspan></text>
<text transform="translate(1159.5 584.8) rotate(-43)" font-size="19.8" fill="#6c9ef6" text-anchor="middle" dy="6.5">Si/Zr = 3,300</text>
<text x="1022.2" y="863.3" font-size="19.8" fill="#f5222a">bgr</text>
</g>
<g id="sc-c">
<path d="M913.2 1376.6H932.8M913.2 1292.8H932.8M913.2 1209.1H932.8M913.2 1125.3H932.8M913.2 1041.6H932.8M932.8 1376.6V1396.2M1016.7 1376.6V1396.2M1100.5 1376.6V1396.2M1184.4 1376.6V1396.2M1268.3 1376.6V1396.2" stroke="#1a1a1a" stroke-width="1.2" fill="none"/>
<path d="M923 1351.4H932.8M923 1336.6H932.8M923 1326.2H932.8M923 1318.1H932.8M923 1311.4H932.8M923 1305.8H932.8M923 1301H932.8M923 1296.7H932.8M923 1267.6H932.8M923 1252.9H932.8M923 1242.4H932.8M923 1234.3H932.8M923 1227.7H932.8M923 1222.1H932.8M923 1217.2H932.8M923 1212.9H932.8M923 1183.9H932.8M923 1169.1H932.8M923 1158.7H932.8M923 1150.6H932.8M923 1143.9H932.8M923 1138.3H932.8M923 1133.5H932.8M923 1129.2H932.8M923 1100.1H932.8M923 1085.4H932.8M923 1074.9H932.8M923 1066.8H932.8M923 1060.2H932.8M923 1054.6H932.8M923 1049.7H932.8M923 1045.4H932.8M958 1376.6V1387M972.8 1376.6V1387M983.3 1376.6V1387M991.4 1376.6V1387M998.1 1376.6V1387M1003.7 1376.6V1387M1008.5 1376.6V1387M1012.8 1376.6V1387M1041.9 1376.6V1387M1056.7 1376.6V1387M1067.2 1376.6V1387M1075.3 1376.6V1387M1081.9 1376.6V1387M1087.6 1376.6V1387M1092.4 1376.6V1387M1096.7 1376.6V1387M1125.8 1376.6V1387M1140.6 1376.6V1387M1151 1376.6V1387M1159.2 1376.6V1387M1165.8 1376.6V1387M1171.4 1376.6V1387M1176.3 1376.6V1387M1180.6 1376.6V1387M1209.7 1376.6V1387M1224.4 1376.6V1387M1234.9 1376.6V1387M1243.1 1376.6V1387M1249.7 1376.6V1387M1255.3 1376.6V1387M1260.2 1376.6V1387M1264.5 1376.6V1387" stroke="#222" stroke-width="1" fill="none"/>
<text x="905.5" y="1384.8" font-size="23.4" text-anchor="end" fill="#000">100</text>
<text x="905.5" y="1301" font-size="23.4" text-anchor="end" fill="#000">1,000</text>
<text x="905.5" y="1217.3" font-size="23.4" text-anchor="end" fill="#000">10,000</text>
<text x="905.5" y="1133.5" font-size="23.4" text-anchor="end" fill="#000">100,000</text>
<text x="905.5" y="1049.8" font-size="23.4" text-anchor="end" fill="#000">1,000,000</text>
<text x="932.8" y="1423.1" font-size="23.4" text-anchor="middle" fill="#000">0.1</text>
<text x="1016.7" y="1423.1" font-size="23.4" text-anchor="middle" fill="#000">1</text>
<text x="1100.5" y="1423.1" font-size="23.4" text-anchor="middle" fill="#000">10</text>
<text x="1184.4" y="1423.1" font-size="23.4" text-anchor="middle" fill="#000">100</text>
<text x="1268.3" y="1423.1" font-size="23.4" text-anchor="middle" fill="#000">1,000</text>
<text x="1100.5" y="1449.1" font-size="23.4" text-anchor="middle" fill="#000">Zr [ppm]</text>
<text transform="translate(813.2 1209.1) rotate(-90)" font-size="23.4" text-anchor="middle">Si [ppm]</text>
<g clip-path="url(#cdt2)">
<path d="M946.4 1338.2h0M938.3 1344.5h0M945.8 1353.5h0M935.7 1296.4h0M939.5 1317.0h0M942.9 1363.4h0M936.0 1302.0h0M957.5 1298.8h0M943.8 1290.5h0M935.1 1274.5h0M944.8 1263.8h0M946.6 1346.8h0M937.2 1283.2h0M945.6 1364.2h0M943.7 1306.6h0M943.8 1368.3h0M961.0 1280.6h0M943.8 1318.6h0M939.3 1268.6h0M945.7 1306.7h0M968.7 1353.5h0M935.1 1342.7h0M939.3 1331.1h0M938.0 1373.8h0M937.7 1354.7h0M946.5 1343.3h0M980.4 1271.1h0M942.0 1362.0h0M950.6 1297.4h0M939.6 1344.9h0M947.4 1285.6h0M992.7 1306.5h0M951.6 1295.6h0M948.4 1303.5h0M939.8 1263.4h0M939.3 1316.6h0M940.3 1302.3h0M943.0 1264.6h0M936.8 1275.9h0M956.7 1338.2h0M935.2 1321.7h0M954.6 1295.0h0M940.8 1304.6h0M988.1 1322.4h0M968.5 1281.3h0M937.9 1269.8h0M934.7 1329.6h0M951.3 1297.3h0M952.3 1355.0h0M941.3 1281.2h0M934.6 1334.5h0M949.8 1323.1h0M939.7 1270.3h0M936.1 1373.1h0M933.5 1316.5h0M933.9 1337.8h0M936.7 1373.0h0M940.3 1372.9h0M948.8 1343.3h0M948.4 1263.6h0M954.2 1342.3h0M942.9 1308.3h0M945.5 1268.3h0M959.2 1370.5h0M935.6 1298.7h0M962.3 1266.8h0M945.1 1294.7h0M940.0 1363.4h0M934.0 1332.2h0M958.3 1294.5h0M934.9 1334.2h0M951.9 1333.3h0M961.1 1348.2h0M961.4 1268.6h0M981.2 1346.9h0M959.0 1346.2h0M959.5 1309.4h0M942.5 1339.2h0M937.1 1312.4h0M938.4 1367.4h0M958.5 1322.5h0M942.3 1318.0h0M939.8 1367.9h0M944.8 1286.5h0M933.0 1269.7h0M947.6 1337.5h0M944.6 1321.9h0M967.5 1275.0h0M933.8 1345.5h0M941.3 1367.0h0M951.9 1346.4h0M946.1 1302.8h0M948.5 1300.8h0M945.5 1363.4h0M937.7 1335.1h0M992.8 1292.4h0M947.3 1294.3h0M949.7 1365.9h0M933.8 1361.1h0M937.0 1278.6h0M968.1 1328.4h0M941.9 1282.7h0M937.3 1321.6h0M943.4 1289.3h0M962.9 1303.1h0M954.2 1351.9h0M947.1 1319.9h0M936.2 1335.4h0M953.5 1316.6h0M950.1 1356.7h0M944.7 1343.2h0M940.6 1355.1h0M961.3 1342.9h0M938.5 1307.0h0M993.5 1264.6h0M940.0 1296.5h0M939.6 1361.5h0M934.1 1333.3h0M963.5 1358.3h0M975.0 1295.9h0M990.1 1282.7h0M939.4 1270.9h0M945.8 1260.9h0M934.1 1302.7h0M954.0 1272.5h0M943.9 1312.9h0M942.8 1338.7h0M940.5 1275.0h0M955.9 1352.9h0M943.6 1291.9h0M957.7 1311.6h0M965.7 1264.5h0M949.0 1278.2h0M937.5 1284.8h0M968.4 1301.2h0M938.3 1334.7h0M939.8 1295.2h0M937.3 1346.9h0M941.5 1322.2h0M938.6 1264.7h0M935.2 1277.7h0M946.4 1263.1h0M940.1 1345.9h0M934.1 1294.7h0M949.8 1299.4h0M962.1 1277.5h0M974.5 1375.1h0M940.5 1360.4h0M957.8 1320.1h0M936.6 1372.8h0M945.9 1273.0h0M937.0 1336.7h0M936.3 1280.2h0M941.7 1280.9h0M934.1 1320.4h0M947.7 1354.6h0M953.8 1358.0h0M942.3 1350.0h0M970.6 1278.2h0M937.5 1315.4h0M939.8 1365.7h0M987.5 1333.8h0M958.4 1312.7h0M967.8 1352.4h0M938.4 1264.5h0M936.2 1302.4h0M934.9 1304.6h0M936.2 1371.8h0M972.1 1268.1h0M960.5 1279.6h0M934.1 1281.7h0M938.2 1371.7h0M962.0 1336.5h0M935.6 1370.2h0M942.2 1326.4h0M938.0 1370.4h0M937.0 1260.8h0M969.3 1303.3h0M962.4 1286.5h0M943.7 1285.4h0M935.0 1373.6h0M942.7 1332.4h0M934.4 1371.6h0M962.6 1304.7h0M948.5 1327.2h0M997.1 1351.4h0M945.4 1344.9h0M941.9 1325.3h0M987.6 1367.2h0M958.0 1318.4h0M967.7 1346.8h0M947.5 1360.1h0M967.7 1346.5h0M937.7 1272.8h0M940.0 1338.3h0M933.2 1310.2h0M943.8 1369.1h0M938.7 1360.7h0M935.3 1339.9h0M957.4 1288.8h0M963.1 1272.2h0M946.2 1323.0h0M967.6 1295.8h0M934.0 1294.1h0M940.3 1282.2h0M953.1 1277.2h0M968.9 1288.1h0M935.8 1268.1h0M942.0 1290.0h0M937.3 1279.3h0M951.1 1363.8h0M939.4 1312.3h0M934.7 1315.3h0M939.8 1271.8h0M935.0 1312.8h0M967.6 1368.0h0M954.5 1299.5h0M933.2 1365.0h0M959.4 1291.7h0M941.0 1344.3h0M937.9 1345.7h0M950.5 1369.5h0M933.5 1301.4h0M933.8 1315.5h0M990.2 1300.4h0M934.8 1360.3h0M950.8 1308.2h0M953.4 1307.7h0M966.2 1370.5h0M951.7 1261.9h0M950.6 1247.0h0M954.2 1266.8h0M941.0 1251.5h0M938.1 1273.1h0M952.9 1256.8h0M997.7 1258.3h0M953.3 1255.1h0M955.8 1254.8h0M994.7 1248.1h0M968.6 1255.0h0M943.3 1268.0h0M935.5 1255.2h0M962.9 1273.4h0M954.1 1267.4h0M939.6 1257.5h0M944.1 1253.4h0M965.2 1248.5h0M942.1 1252.6h0M951.5 1261.2h0M941.7 1258.6h0M940.1 1259.5h0M937.8 1273.1h0M943.1 1248.9h0M1005.1 1257.4h0M950.8 1269.5h0M947.6 1251.4h0M935.5 1259.1h0M938.9 1273.3h0M942.5 1268.4h0M938.8 1251.8h0M944.6 1246.1h0M949.4 1249.6h0M936.2 1268.8h0M985.9 1262.2h0M935.9 1263.9h0M981.8 1258.5h0M939.3 1268.0h0M940.3 1246.3h0M947.9 1250.0h0M983.1 1268.9h0M944.5 1247.2h0M967.3 1272.4h0M949.2 1246.2h0M981.5 1254.2h0M944.7 1261.4h0M946.7 1251.7h0M955.2 1260.6h0M947.1 1255.9h0M968.1 1268.3h0M949.6 1252.5h0M933.7 1246.9h0M940.3 1265.4h0M943.9 1265.6h0M991.9 1255.5h0M967.5 1270.7h0M937.6 1261.5h0M935.9 1273.7h0M966.0 1262.7h0M947.7 1269.2h0M943.7 1270.7h0M999.4 1306.5h0M985.7 1303.8h0M964.9 1304.7h0M1000.8 1276.9h0M973.9 1340.3h0M975.6 1310.7h0M974.4 1338.5h0M960.9 1325.9h0M971.2 1333.9h0M1005.3 1307.9h0M964.3 1297.0h0M1008.1 1296.2h0M978.5 1338.5h0M964.6 1276.7h0M977.8 1332.3h0M961.8 1290.1h0M961.3 1256.7h0M984.8 1322.4h0M1002.7 1275.2h0M992.3 1290.1h0M963.8 1326.1h0M987.0 1318.5h0M967.7 1263.0h0M965.2 1250.5h0M1004.6 1296.0h0M1008.6 1272.5h0M1001.7 1271.4h0M991.9 1254.7h0M998.6 1335.2h0M974.4 1258.1h0M998.2 1309.5h0M990.1 1294.2h0M966.4 1257.8h0M998.0 1335.0h0M980.2 1320.9h0M999.0 1267.4h0M999.9 1286.2h0M998.7 1327.1h0M968.4 1315.7h0M1010.4 1254.8h0M975.8 1271.6h0M975.7 1290.1h0M998.3 1252.0h0M971.6 1274.6h0M976.9 1279.4h0M1031.1 1282.9h0M1012.6 1315.3h0M1023.6 1330.9h0M1042.8 1319.4h0M1038.3 1283.6h0M1013.0 1297.9h0M1010.5 1311.4h0M978.6 1356.5h0M1025.4 1339.3h0M1005.8 1302.1h0M996.4 1345.8h0M1026.9 1252.7h0M984.3 1272.8h0M1005.1 1295.2h0M1024.6 1300.7h0M979.5 1306.6h0M1043.0 1318.4h0M981.6 1277.8h0M979.4 1334.9h0M1021.9 1300.3h0M984.1 1289.8h0M956.2 1311.0h0M933.0 1329.1h0M982.7 1269.1h0M996.4 1290.3h0M1013.8 1263.3h0M1006.4 1273.6h0M933.2 1330.1h0M942.2 1314.4h0M946.6 1317.7h0M943.8 1311.8h0M998.8 1267.1h0M1031.6 1253.1h0M948.9 1320.2h0M964.0 1301.3h0M938.7 1326.3h0M1003.3 1269.2h0M977.3 1297.6h0M1015.8 1252.0h0M1003.8 1259.4h0M1028.2 1250.5h0M1001.4 1277.7h0M933.1 1314.1h0M951.9 1322.5h0M1012.7 1253.4h0M998.1 1262.0h0M934.6 1210.4h0M937.0 1231.5h0M942.7 1190.3h0M945.6 1183.4h0M950.4 1202.1h0M951.0 1223.8h0M950.4 1235.0h0M954.4 1206.4h0M955.8 1224.3h0M959.8 1240.4h0M962.5 1152.6h0M962.5 1222.4h0M964.6 1204.8h0M968.3 1153.4h0M968.6 1185.5h0M970.0 1225.1h0M971.0 1143.0h0M972.6 1168.1h0M973.2 1206.9h0M974.0 1217.6h0M976.6 1225.1h0M977.2 1143.2h0M977.2 1184.2h0M977.2 1235.0h0M979.9 1180.2h0M979.9 1190.9h0M982.5 1176.2h0M983.9 1237.7h0M987.3 1238.5h0M989.2 1215.0h0M991.9 1179.9h0M995.4 1229.7h0M995.9 1209.1h0M996.7 1239.0h0M997.2 1216.3h0M997.2 1223.0h0M999.9 1215.5h0M1003.9 1232.4h0M1005.8 1191.4h0M1014.1 1180.2h0M1015.4 1149.4h0M1018.1 1160.6h0M1018.7 1178.8h0M1023.5 1222.4h0M1025.3 1225.7h0M1026.1 1176.7h0M1029.4 1164.7h0M1030.7 1223.5h0M1022.7 1237.7h0M1037.9 1194.9h0M1038.7 1197.0h0M1041.9 1207.7h0M1042.7 1227.0h0M1046.2 1226.2h0M1045.4 1243.1h0M1047.3 1120.0h0M1048.1 1187.7h0M1054.2 1236.4h0M1054.8 1239.0h0M1058.0 1221.6h0M1064.1 1226.2h0M1064.1 1088.7h0M1070.8 1128.8h0M1070.8 1194.4h0M1077.0 1135.2h0M1078.3 1096.1h0M1085.6 1149.9h0M1090.9 1202.1h0M1093.6 1221.4h0M1094.9 1099.1h0M1096.3 1191.4h0M1103.7 1068.6h0M1106.4 1175.6h0M1116.1 1062.4h0M1116.3 1217.6h0M1120.1 1087.6h0M1127.0 1099.1h0M1128.9 1206.9h0M1129.7 1165.5h0M1131.0 1157.2h0M1132.4 1226.5h0M1155.7 1111.9h0M1161.0 1130.1h0M1167.2 1224.3h0M1171.7 1177.8h0M1196.6 1166.3h0M1197.4 1169.5h0M1201.1 1163.0h0" fill="none" stroke="#000" stroke-width="6.8" stroke-linecap="round"/>
</g>
<g clip-path="url(#csc2)">
<polygon points="902.6,1344.6 1297.4,975.2 1297.4,994.4 902.6,1363.8" fill="#8fb2f5" fill-opacity="0.55"/>
<line x1="902.6" y1="1344.6" x2="1297.4" y2="975.2" stroke="#6797f4" stroke-width="1" stroke-dasharray="3.5 2.2"/>
<line x1="902.6" y1="1363.8" x2="1297.4" y2="994.4" stroke="#6797f4" stroke-width="1" stroke-dasharray="3.5 2.2"/>
<line x1="902.6" y1="1354.2" x2="1297.4" y2="984.8" stroke="#5890f8" stroke-width="1.9"/>
</g>
<rect x="932.8" y="1242.4" width="123.9" height="134.2" fill="#cdcdcd" fill-opacity="0.58" stroke="none"/>
<rect x="932.8" y="1041.6" width="335.5" height="335" fill="none" stroke="#222" stroke-width="1"/>
<rect x="932.8" y="1242.4" width="123.9" height="134.2" fill="none" stroke="#f0262c" stroke-width="1.4"/>
<circle cx="967.7" cy="1068.2" r="11.6" fill="#c0c0c0" stroke="#7f7f7f" stroke-width="1.9"/>
<text x="987.8" y="1071.7" font-size="20" fill="#7d7d7d">SiO<tspan font-size="13" dy="4.5">2</tspan></text>
<line x1="947.5" y1="1211.9" x2="961.5" y2="1109.9" stroke="#bcbcbc" stroke-width="3.2"/>
<polygon points="964.5,1087.6 969,1117 961.5,1109.9 952.3,1114.7" fill="#bcbcbc"/>
<line x1="1032.3" y1="1180.4" x2="992.9" y2="1107" stroke="#bcbcbc" stroke-width="3.2"/>
<polygon points="982.3,1087.2 1003.2,1108.3 992.9,1107 988.4,1116.3" fill="#bcbcbc"/>
<line x1="1069.8" y1="1128.7" x2="1010.4" y2="1091.5" stroke="#bcbcbc" stroke-width="3.2"/>
<polygon points="991.3,1079.6 1019.9,1087.6 1010.4,1091.5 1011,1101.8" fill="#bcbcbc"/>
<line x1="1079.5" y1="1213.5" x2="1200.7" y2="1208.8" stroke="#bcbcbc" stroke-width="3.2"/>
<polygon points="1223.2,1207.9 1195,1217.4 1200.7,1208.8 1194.4,1200.6" fill="#bcbcbc"/>
<line x1="1079.5" y1="1268.4" x2="1201" y2="1248.6" stroke="#bcbcbc" stroke-width="3.2"/>
<polygon points="1223.2,1245 1196.4,1257.9 1201,1248.6 1193.7,1241.3" fill="#bcbcbc"/>
<line x1="1079.5" y1="1326.9" x2="1201.6" y2="1290.6" stroke="#bcbcbc" stroke-width="3.2"/>
<polygon points="1223.2,1284.2 1198.3,1300.4 1201.6,1290.6 1193.5,1284.3" fill="#bcbcbc"/>
<text transform="translate(1247.3 1284.2) rotate(-90)" font-size="20" fill="#7d7d7d">to ZrSiO<tspan font-size="13" dy="4.5">4</tspan></text>
<text transform="translate(1218 1090.8) rotate(-43)" font-size="19.8" fill="#6c9ef6" text-anchor="middle" dy="6.5">Si/Zr = 3,300</text>
<text x="1022.2" y="1366.1" font-size="19.8" fill="#f5222a">bgr</text>
</g>
<g id="sc-d">
<path d="M913.2 1879.4H932.8M913.2 1795.7H932.8M913.2 1711.9H932.8M913.2 1628.2H932.8M913.2 1544.4H932.8M932.8 1879.4V1899M1016.7 1879.4V1899M1100.5 1879.4V1899M1184.4 1879.4V1899M1268.3 1879.4V1899" stroke="#1a1a1a" stroke-width="1.2" fill="none"/>
<path d="M923 1854.2H932.8M923 1839.4H932.8M923 1829H932.8M923 1820.9H932.8M923 1814.2H932.8M923 1808.6H932.8M923 1803.8H932.8M923 1799.5H932.8M923 1770.4H932.8M923 1755.7H932.8M923 1745.2H932.8M923 1737.1H932.8M923 1730.5H932.8M923 1724.9H932.8M923 1720H932.8M923 1715.7H932.8M923 1686.7H932.8M923 1671.9H932.8M923 1661.5H932.8M923 1653.4H932.8M923 1646.7H932.8M923 1641.1H932.8M923 1636.3H932.8M923 1632H932.8M923 1602.9H932.8M923 1588.2H932.8M923 1577.7H932.8M923 1569.6H932.8M923 1563H932.8M923 1557.4H932.8M923 1552.5H932.8M923 1548.2H932.8M958 1879.4V1889.8M972.8 1879.4V1889.8M983.3 1879.4V1889.8M991.4 1879.4V1889.8M998.1 1879.4V1889.8M1003.7 1879.4V1889.8M1008.5 1879.4V1889.8M1012.8 1879.4V1889.8M1041.9 1879.4V1889.8M1056.7 1879.4V1889.8M1067.2 1879.4V1889.8M1075.3 1879.4V1889.8M1081.9 1879.4V1889.8M1087.6 1879.4V1889.8M1092.4 1879.4V1889.8M1096.7 1879.4V1889.8M1125.8 1879.4V1889.8M1140.6 1879.4V1889.8M1151 1879.4V1889.8M1159.2 1879.4V1889.8M1165.8 1879.4V1889.8M1171.4 1879.4V1889.8M1176.3 1879.4V1889.8M1180.6 1879.4V1889.8M1209.7 1879.4V1889.8M1224.4 1879.4V1889.8M1234.9 1879.4V1889.8M1243.1 1879.4V1889.8M1249.7 1879.4V1889.8M1255.3 1879.4V1889.8M1260.2 1879.4V1889.8M1264.5 1879.4V1889.8" stroke="#222" stroke-width="1" fill="none"/>
<text x="905.5" y="1887.6" font-size="23.4" text-anchor="end" fill="#000">100</text>
<text x="905.5" y="1803.9" font-size="23.4" text-anchor="end" fill="#000">1,000</text>
<text x="905.5" y="1720.1" font-size="23.4" text-anchor="end" fill="#000">10,000</text>
<text x="905.5" y="1636.4" font-size="23.4" text-anchor="end" fill="#000">100,000</text>
<text x="905.5" y="1552.6" font-size="23.4" text-anchor="end" fill="#000">1,000,000</text>
<text x="932.8" y="1925.9" font-size="23.4" text-anchor="middle" fill="#000">0.1</text>
<text x="1016.7" y="1925.9" font-size="23.4" text-anchor="middle" fill="#000">1</text>
<text x="1100.5" y="1925.9" font-size="23.4" text-anchor="middle" fill="#000">10</text>
<text x="1184.4" y="1925.9" font-size="23.4" text-anchor="middle" fill="#000">100</text>
<text x="1268.3" y="1925.9" font-size="23.4" text-anchor="middle" fill="#000">1,000</text>
<text x="1100.5" y="1951.9" font-size="23.4" text-anchor="middle" fill="#000">Zr [ppm]</text>
<text transform="translate(813.2 1711.9) rotate(-90)" font-size="23.4" text-anchor="middle">Si [ppm]</text>
<g clip-path="url(#cdt3)">
<path d="M941.4 1828.9h0M958.9 1829.0h0M946.0 1869.7h0M958.4 1834.4h0M938.4 1828.3h0M976.5 1807.2h0M949.7 1876.9h0M933.1 1862.7h0M939.1 1833.1h0M964.0 1784.8h0M953.7 1804.9h0M946.2 1873.8h0M952.7 1818.6h0M940.6 1843.0h0M946.1 1832.0h0M933.9 1816.6h0M945.9 1827.2h0M941.1 1813.9h0M937.3 1845.3h0M933.4 1875.0h0M954.7 1845.0h0M945.8 1825.1h0M946.5 1842.3h0M934.3 1865.6h0M952.5 1788.3h0M942.4 1849.1h0M936.7 1835.9h0M939.6 1806.8h0M958.6 1845.4h0M936.0 1830.6h0M945.2 1847.4h0M933.6 1820.9h0M938.2 1831.0h0M936.6 1851.8h0M933.5 1862.3h0M947.2 1810.2h0M951.7 1857.6h0M943.4 1841.5h0M964.3 1802.7h0M961.3 1834.2h0M935.5 1798.0h0M947.3 1836.5h0M938.7 1848.6h0M978.3 1832.0h0M956.4 1837.1h0M934.5 1869.0h0M964.3 1852.9h0M936.9 1839.3h0M942.5 1827.0h0M972.0 1824.1h0M970.3 1845.3h0M938.2 1867.3h0M945.8 1856.2h0M983.5 1841.2h0M935.2 1844.2h0M953.6 1876.8h0M945.6 1810.5h0M937.1 1844.6h0M954.3 1840.0h0M964.2 1836.9h0M934.4 1834.8h0M951.7 1855.0h0M956.4 1817.0h0M943.0 1821.0h0M940.8 1840.0h0M965.5 1833.4h0M985.9 1855.6h0M942.7 1867.1h0M933.1 1826.4h0M934.6 1818.4h0M937.6 1831.4h0M953.8 1869.1h0M936.1 1859.8h0M935.6 1869.6h0M941.1 1873.5h0M940.1 1875.4h0M935.6 1852.2h0M935.4 1804.0h0M960.2 1835.7h0M945.3 1815.6h0M934.4 1821.0h0M946.4 1792.3h0M949.3 1870.9h0M952.2 1862.3h0M935.1 1807.7h0M940.5 1866.7h0M937.1 1856.7h0M934.6 1805.4h0M935.7 1855.0h0M945.7 1832.5h0M938.1 1860.9h0M939.4 1853.8h0M938.6 1816.2h0M946.2 1785.7h0M933.1 1850.2h0M952.3 1836.6h0M950.8 1832.5h0M940.4 1833.7h0M965.9 1837.5h0M933.1 1844.4h0M933.1 1789.1h0M943.1 1792.1h0M940.2 1829.1h0M938.6 1832.6h0M967.0 1845.3h0M944.7 1860.5h0M937.4 1831.8h0M945.6 1825.3h0M940.4 1834.9h0M971.5 1827.3h0M958.5 1823.8h0M942.3 1832.7h0M947.2 1852.8h0M941.2 1853.2h0M935.5 1822.6h0M967.1 1811.2h0M941.0 1847.7h0M936.5 1876.5h0M938.4 1845.8h0M960.1 1842.3h0M948.5 1861.0h0M950.0 1763.7h0M939.2 1823.5h0M933.9 1849.4h0M952.1 1826.1h0M936.5 1790.0h0M938.2 1844.3h0M938.6 1848.4h0M968.4 1862.2h0M990.2 1848.7h0M945.3 1828.3h0M936.0 1812.7h0M948.0 1848.1h0M934.9 1841.3h0M937.8 1813.7h0M936.1 1866.5h0M947.7 1830.2h0M969.6 1850.7h0M933.8 1843.8h0M963.4 1847.4h0M950.3 1850.2h0M939.2 1795.3h0M939.7 1871.1h0M945.0 1754.0h0M948.6 1756.6h0M937.2 1791.6h0M974.9 1779.0h0M987.9 1765.2h0M945.3 1764.6h0M944.0 1769.6h0M939.0 1779.7h0M979.8 1741.1h0M938.3 1770.7h0M944.3 1801.3h0M957.6 1799.0h0M937.8 1741.5h0M949.5 1793.5h0M986.0 1783.3h0M1002.5 1756.2h0M933.1 1775.6h0M942.2 1757.8h0M933.6 1791.6h0M936.8 1769.4h0M936.5 1788.1h0M936.5 1801.8h0M933.3 1774.0h0M934.9 1754.2h0M937.6 1743.6h0M940.4 1790.6h0M955.2 1752.0h0M945.2 1799.2h0M954.7 1796.9h0M948.1 1756.7h0M969.1 1764.8h0M950.7 1786.7h0M939.9 1759.8h0M941.0 1789.0h0M959.6 1781.9h0M934.6 1800.3h0M948.1 1799.1h0M938.5 1763.6h0M984.2 1757.6h0M933.3 1760.3h0M960.7 1792.4h0M942.1 1788.3h0M974.8 1743.7h0M985.1 1776.6h0M933.4 1763.6h0M1002.0 1756.9h0M953.9 1742.0h0M940.3 1761.1h0M934.8 1796.9h0M948.3 1763.0h0M974.3 1778.9h0M961.8 1784.8h0M966.2 1756.5h0M960.2 1788.2h0M998.9 1808.5h0M1032.4 1814.7h0M999.2 1765.1h0M1025.7 1774.9h0M998.7 1807.3h0M1004.5 1755.3h0M1033.3 1744.4h0M962.5 1795.2h0M1016.8 1811.9h0M949.3 1774.3h0M962.5 1742.6h0M1014.8 1806.1h0M1016.7 1815.3h0M994.8 1753.1h0M947.5 1793.6h0M1029.2 1826.3h0M1001.5 1796.6h0M972.5 1824.1h0M999.0 1782.5h0M1011.5 1813.2h0M1030.5 1779.5h0M1001.4 1810.5h0M1012.7 1763.0h0M946.7 1754.0h0M956.9 1756.5h0M1032.9 1828.0h0M1005.0 1746.2h0M972.9 1813.0h0M986.3 1789.7h0M963.9 1773.1h0M1037.5 1744.8h0M954.3 1795.0h0M992.3 1810.6h0M1005.0 1815.9h0M991.2 1805.6h0M1002.7 1769.9h0M943.1 1798.7h0M986.2 1745.9h0M1041.9 1771.1h0M1039.7 1797.9h0M969.2 1747.7h0M958.0 1788.2h0M1019.7 1751.0h0M1039.1 1777.8h0M1013.7 1793.8h0M943.6 1805.0h0M1014.5 1818.8h0M991.2 1766.2h0M970.4 1798.8h0M1016.3 1780.4h0M1022.4 1792.1h0M985.3 1762.1h0M1010.1 1752.7h0M984.1 1808.2h0M986.5 1786.4h0M1007.6 1757.3h0M1030.3 1769.2h0M1007.6 1779.5h0M979.0 1774.1h0M1020.5 1818.3h0M949.5 1787.0h0M994.9 1746.7h0M994.6 1743.4h0M944.0 1796.4h0M942.5 1794.7h0M965.1 1820.3h0M999.8 1802.0h0M1025.4 1792.9h0M1033.7 1763.4h0M1004.2 1807.1h0M1011.1 1819.8h0M943.9 1822.6h0M1037.3 1754.0h0M1002.1 1748.5h0M1035.2 1810.1h0M1023.5 1816.5h0M976.6 1827.0h0M1036.9 1830.9h0M1049.5 1809.7h0M1033.1 1843.3h0M994.4 1862.0h0M1047.6 1849.0h0M1002.3 1816.8h0M1022.5 1813.9h0M1026.7 1838.0h0M1021.7 1838.2h0M1027.6 1813.7h0M1011.3 1870.7h0M1014.5 1833.1h0M1015.9 1860.1h0M966.4 1832.3h0M980.6 1875.6h0M1029.1 1836.0h0M1003.7 1873.5h0M990.9 1817.8h0M988.8 1784.4h0M944.3 1834.5h0M1010.1 1757.7h0M1013.4 1755.3h0M944.4 1833.8h0M977.0 1808.2h0M1033.1 1741.1h0M971.4 1801.2h0M947.2 1820.6h0M964.5 1798.6h0M948.3 1819.9h0M980.2 1787.9h0M993.0 1789.3h0M1013.7 1751.8h0M953.3 1808.4h0M942.1 1807.6h0M998.8 1771.9h0M1021.4 1758.9h0M1013.7 1767.3h0M972.9 1801.8h0M986.4 1774.7h0M960.6 1807.4h0M979.6 1800.4h0M1019.6 1755.2h0M1012.2 1768.4h0M1037.5 1743.4h0M954.8 1812.4h0M973.4 1794.6h0M933.6 1709.9h0M937.0 1716.6h0M947.2 1695.7h0M947.2 1736.2h0M950.4 1682.6h0M953.6 1679.7h0M965.1 1736.7h0M971.3 1603.4h0M980.7 1600.8h0M989.2 1627.8h0M995.4 1722.8h0M995.9 1614.4h0M996.4 1735.4h0M1003.4 1643.6h0M1020.8 1648.4h0M1023.2 1633.9h0M1036.0 1689.9h0M1036.9 1729.2h0M1032.0 1734.5h0M1040.1 1734.0h0M1044.1 1564.6h0M1049.2 1652.1h0M1058.3 1673.8h0M1066.0 1578.0h0M1129.7 1585.8h0M1137.7 1715.8h0M1160.7 1681.0h0M1181.3 1690.7h0M1066.0 1841.3h0M1140.9 1860.8h0M1054.8 1758.6h0M933.0 1817.0h0M932.5 1861.1h0M933.0 1841.0h0" fill="none" stroke="#000" stroke-width="6.8" stroke-linecap="round"/>
</g>
<g clip-path="url(#csc3)">
<polygon points="903.2,1844.7 1291.1,1477.7 1291.1,1498.1 903.2,1865.1" fill="#8fb2f5" fill-opacity="0.55"/>
<line x1="903.2" y1="1844.7" x2="1291.1" y2="1477.7" stroke="#6797f4" stroke-width="1" stroke-dasharray="3.5 2.2"/>
<line x1="903.2" y1="1865.1" x2="1291.1" y2="1498.1" stroke="#6797f4" stroke-width="1" stroke-dasharray="3.5 2.2"/>
<line x1="903.2" y1="1854.9" x2="1291.1" y2="1487.9" stroke="#5890f8" stroke-width="1.9"/>
</g>
<rect x="932.8" y="1737.1" width="123.9" height="142.3" fill="#cdcdcd" fill-opacity="0.58" stroke="none"/>
<rect x="932.8" y="1544.4" width="335.5" height="335" fill="none" stroke="#222" stroke-width="1"/>
<rect x="932.8" y="1737.1" width="123.9" height="142.3" fill="none" stroke="#f0262c" stroke-width="1.4"/>
<circle cx="967.7" cy="1571" r="11.6" fill="#c0c0c0" stroke="#7f7f7f" stroke-width="1.9"/>
<text x="987.8" y="1574.5" font-size="20" fill="#7d7d7d">SiO<tspan font-size="13" dy="4.5">2</tspan></text>
<line x1="947.5" y1="1714.7" x2="961.5" y2="1612.7" stroke="#bcbcbc" stroke-width="3.2"/>
<polygon points="964.5,1590.4 969,1619.8 961.5,1612.7 952.3,1617.5" fill="#bcbcbc"/>
<line x1="1032.3" y1="1683.2" x2="992.9" y2="1609.8" stroke="#bcbcbc" stroke-width="3.2"/>
<polygon points="982.3,1590 1003.2,1611.1 992.9,1609.8 988.4,1619.1" fill="#bcbcbc"/>
<line x1="1069.8" y1="1631.5" x2="1010.4" y2="1594.3" stroke="#bcbcbc" stroke-width="3.2"/>
<polygon points="991.3,1582.4 1019.9,1590.4 1010.4,1594.3 1011,1604.6" fill="#bcbcbc"/>
<line x1="1079.5" y1="1716.3" x2="1200.7" y2="1711.6" stroke="#bcbcbc" stroke-width="3.2"/>
<polygon points="1223.2,1710.7 1195,1720.2 1200.7,1711.6 1194.4,1703.4" fill="#bcbcbc"/>
<line x1="1079.5" y1="1771.2" x2="1201" y2="1751.4" stroke="#bcbcbc" stroke-width="3.2"/>
<polygon points="1223.2,1747.8 1196.4,1760.7 1201,1751.4 1193.7,1744.1" fill="#bcbcbc"/>
<line x1="1079.5" y1="1829.7" x2="1201.6" y2="1793.4" stroke="#bcbcbc" stroke-width="3.2"/>
<polygon points="1223.2,1787 1198.3,1803.2 1201.6,1793.4 1193.5,1787.1" fill="#bcbcbc"/>
<text transform="translate(1247.3 1787) rotate(-90)" font-size="20" fill="#7d7d7d">to ZrSiO<tspan font-size="13" dy="4.5">4</tspan></text>
<text transform="translate(1203.9 1604.1) rotate(-43)" font-size="19.8" fill="#6c9ef6" text-anchor="middle" dy="6.5">Si/Zr = 3,600</text>
<text x="1022.2" y="1868.9" font-size="19.8" fill="#f5222a">bgr</text>
</g>
<g id="sc-e">
<path d="M913.2 2382.8H932.8M913.2 2299.1H932.8M913.2 2215.3H932.8M913.2 2131.6H932.8M913.2 2047.8H932.8M932.8 2382.8V2402.4M1016.7 2382.8V2402.4M1100.5 2382.8V2402.4M1184.4 2382.8V2402.4M1268.3 2382.8V2402.4" stroke="#1a1a1a" stroke-width="1.2" fill="none"/>
<path d="M923 2357.6H932.8M923 2342.8H932.8M923 2332.4H932.8M923 2324.3H932.8M923 2317.6H932.8M923 2312H932.8M923 2307.2H932.8M923 2302.9H932.8M923 2273.8H932.8M923 2259.1H932.8M923 2248.6H932.8M923 2240.5H932.8M923 2233.9H932.8M923 2228.3H932.8M923 2223.4H932.8M923 2219.1H932.8M923 2190.1H932.8M923 2175.3H932.8M923 2164.9H932.8M923 2156.8H932.8M923 2150.1H932.8M923 2144.5H932.8M923 2139.7H932.8M923 2135.4H932.8M923 2106.3H932.8M923 2091.6H932.8M923 2081.1H932.8M923 2073H932.8M923 2066.4H932.8M923 2060.8H932.8M923 2055.9H932.8M923 2051.6H932.8M958 2382.8V2393.2M972.8 2382.8V2393.2M983.3 2382.8V2393.2M991.4 2382.8V2393.2M998.1 2382.8V2393.2M1003.7 2382.8V2393.2M1008.5 2382.8V2393.2M1012.8 2382.8V2393.2M1041.9 2382.8V2393.2M1056.7 2382.8V2393.2M1067.2 2382.8V2393.2M1075.3 2382.8V2393.2M1081.9 2382.8V2393.2M1087.6 2382.8V2393.2M1092.4 2382.8V2393.2M1096.7 2382.8V2393.2M1125.8 2382.8V2393.2M1140.6 2382.8V2393.2M1151 2382.8V2393.2M1159.2 2382.8V2393.2M1165.8 2382.8V2393.2M1171.4 2382.8V2393.2M1176.3 2382.8V2393.2M1180.6 2382.8V2393.2M1209.7 2382.8V2393.2M1224.4 2382.8V2393.2M1234.9 2382.8V2393.2M1243.1 2382.8V2393.2M1249.7 2382.8V2393.2M1255.3 2382.8V2393.2M1260.2 2382.8V2393.2M1264.5 2382.8V2393.2" stroke="#222" stroke-width="1" fill="none"/>
<text x="905.5" y="2391" font-size="23.4" text-anchor="end" fill="#000">100</text>
<text x="905.5" y="2307.2" font-size="23.4" text-anchor="end" fill="#000">1,000</text>
<text x="905.5" y="2223.5" font-size="23.4" text-anchor="end" fill="#000">10,000</text>
<text x="905.5" y="2139.8" font-size="23.4" text-anchor="end" fill="#000">100,000</text>
<text x="905.5" y="2056" font-size="23.4" text-anchor="end" fill="#000">1,000,000</text>
<text x="932.8" y="2429.3" font-size="23.4" text-anchor="middle" fill="#000">0.1</text>
<text x="1016.7" y="2429.3" font-size="23.4" text-anchor="middle" fill="#000">1</text>
<text x="1100.5" y="2429.3" font-size="23.4" text-anchor="middle" fill="#000">10</text>
<text x="1184.4" y="2429.3" font-size="23.4" text-anchor="middle" fill="#000">100</text>
<text x="1268.3" y="2429.3" font-size="23.4" text-anchor="middle" fill="#000">1,000</text>
<text x="1100.5" y="2455.3" font-size="23.4" text-anchor="middle" fill="#000">Zr [ppm]</text>
<text transform="translate(813.2 2215.3) rotate(-90)" font-size="23.4" text-anchor="middle">Si [ppm]</text>
<g clip-path="url(#cdt4)">
<path d="M935.6 2336.9h0M938.7 2305.0h0M936.3 2307.6h0M972.0 2355.6h0M949.9 2311.9h0M939.4 2321.7h0M960.6 2281.0h0M941.7 2311.3h0M975.9 2332.8h0M935.1 2303.5h0M950.8 2345.6h0M956.7 2352.7h0M976.9 2278.9h0M936.9 2307.6h0M936.9 2295.4h0M933.4 2321.4h0M934.9 2351.3h0M976.0 2361.2h0M938.2 2359.8h0M939.2 2349.6h0M934.3 2339.6h0M938.9 2331.3h0M937.2 2344.5h0M941.9 2301.7h0M934.2 2312.2h0M939.6 2297.6h0M934.3 2302.1h0M945.2 2330.4h0M940.5 2343.0h0M942.9 2334.3h0M940.5 2321.3h0M978.2 2344.4h0M933.1 2324.7h0M950.0 2318.2h0M934.1 2327.6h0M956.1 2286.1h0M941.6 2298.8h0M948.7 2343.5h0M954.6 2306.0h0M934.8 2340.3h0M937.3 2302.8h0M933.2 2295.2h0M958.2 2327.4h0M938.9 2314.5h0M982.8 2331.5h0M938.4 2298.0h0M953.0 2329.2h0M937.8 2313.2h0M935.3 2325.3h0M956.6 2297.7h0M938.9 2317.8h0M940.9 2317.8h0M939.0 2325.8h0M946.3 2303.1h0M971.7 2280.4h0M940.4 2334.2h0M943.8 2340.9h0M952.5 2355.2h0M961.6 2310.8h0M961.7 2336.5h0M946.4 2332.8h0M936.8 2325.9h0M965.5 2320.1h0M933.8 2331.1h0M949.8 2271.2h0M938.7 2314.4h0M935.4 2314.2h0M939.0 2287.0h0M938.4 2359.6h0M961.9 2354.1h0M983.0 2356.4h0M971.4 2292.6h0M945.9 2274.2h0M933.8 2358.1h0M968.4 2342.4h0M949.4 2346.8h0M949.1 2301.9h0M934.2 2295.6h0M961.3 2300.5h0M948.2 2322.5h0M979.9 2298.6h0M944.7 2280.2h0M942.3 2309.0h0M949.8 2304.6h0M948.9 2264.0h0M941.1 2303.5h0M939.6 2292.9h0M941.8 2332.1h0M973.0 2300.1h0M936.6 2292.3h0M936.6 2283.6h0M938.2 2346.5h0M963.9 2335.0h0M952.9 2334.2h0M976.3 2322.0h0M958.0 2337.6h0M981.2 2318.2h0M937.0 2357.3h0M938.5 2344.0h0M944.8 2295.4h0M944.1 2323.7h0M936.4 2340.6h0M933.4 2297.8h0M933.1 2284.4h0M972.5 2341.6h0M937.8 2298.6h0M943.1 2364.5h0M962.9 2363.4h0M967.9 2317.7h0M935.6 2343.6h0M933.8 2336.7h0M933.4 2278.9h0M935.2 2316.0h0M939.6 2307.3h0M934.2 2339.6h0M948.8 2289.1h0M954.1 2339.9h0M934.1 2340.1h0M934.6 2342.4h0M958.1 2290.8h0M984.8 2274.0h0M935.3 2334.6h0M937.6 2338.5h0M964.6 2315.5h0M944.0 2311.9h0M938.0 2379.2h0M942.0 2289.8h0M934.2 2316.6h0M937.5 2280.1h0M934.7 2274.3h0M937.0 2274.1h0M933.2 2340.4h0M946.5 2313.9h0M933.2 2300.6h0M955.0 2283.1h0M938.2 2322.1h0M967.1 2288.4h0M933.6 2375.6h0M956.2 2298.5h0M936.8 2332.9h0M954.8 2287.8h0M934.9 2322.6h0M941.2 2318.8h0M946.5 2325.3h0M947.4 2333.6h0M955.6 2312.8h0M947.0 2291.2h0M935.1 2316.7h0M934.9 2269.8h0M962.4 2344.9h0M948.3 2318.6h0M933.8 2323.0h0M936.7 2309.2h0M934.7 2304.9h0M933.2 2311.1h0M942.6 2341.7h0M940.3 2326.6h0M944.7 2328.8h0M936.9 2297.1h0M943.8 2325.7h0M946.8 2260.0h0M933.9 2330.8h0M946.7 2338.2h0M947.0 2288.9h0M943.5 2326.4h0M955.0 2353.0h0M985.8 2282.6h0M940.4 2361.5h0M933.4 2359.6h0M967.8 2374.4h0M944.2 2379.9h0M936.4 2362.0h0M964.4 2367.6h0M936.3 2365.8h0M949.9 2357.5h0M939.5 2356.5h0M949.7 2346.8h0M937.8 2377.4h0M942.2 2353.5h0M935.6 2351.8h0M949.5 2361.7h0M975.6 2377.1h0M948.1 2361.7h0M948.6 2349.3h0M947.8 2377.6h0M967.4 2368.5h0M954.5 2364.7h0M948.3 2365.1h0M944.2 2375.5h0M948.7 2367.7h0M934.2 2347.2h0M966.8 2371.1h0M941.1 2357.2h0M935.7 2366.7h0M934.2 2381.4h0M940.9 2372.1h0M937.0 2353.4h0M943.9 2360.4h0M940.7 2369.5h0M938.5 2354.3h0M944.3 2377.8h0M953.5 2366.0h0M940.8 2352.1h0M933.9 2369.0h0M962.7 2360.7h0M966.3 2367.6h0M933.7 2374.5h0M934.2 2377.8h0M984.6 2286.4h0M978.3 2305.5h0M1003.5 2277.6h0M950.8 2339.2h0M992.5 2292.0h0M994.1 2287.2h0M1013.7 2253.7h0M1032.8 2269.8h0M979.1 2300.5h0M993.1 2284.6h0M1035.2 2268.0h0M978.7 2315.6h0M960.4 2325.6h0M994.7 2281.7h0M1031.2 2245.3h0M933.0 2315.0h0M933.6 2334.5h0M1018.0 2283.9h0M974.7 2308.3h0M1021.0 2266.8h0M1004.4 2266.0h0M999.7 2301.4h0M992.1 2288.7h0M961.5 2321.5h0M956.4 2334.8h0M941.3 2321.9h0M1029.2 2277.1h0M1017.1 2266.7h0M989.6 2258.5h0M1021.5 2271.1h0M1034.3 2263.3h0M963.3 2322.0h0M993.7 2281.5h0M988.6 2289.5h0M956.4 2316.5h0M1005.4 2260.6h0M962.5 2312.1h0M991.0 2296.2h0M1001.7 2315.0h0M1007.9 2262.2h0M1026.6 2256.4h0M952.5 2291.4h0M1022.2 2263.6h0M1037.0 2255.3h0M985.9 2257.6h0M1033.1 2254.7h0M962.4 2311.3h0M1027.1 2249.1h0M1032.7 2268.4h0M964.0 2273.3h0M942.5 2324.5h0M991.0 2302.9h0M956.6 2306.5h0M1003.9 2286.7h0M1022.8 2277.1h0M989.9 2301.2h0M954.7 2332.2h0M999.2 2273.7h0M958.1 2306.2h0M960.1 2309.5h0M952.3 2318.7h0M1024.2 2275.6h0M1017.2 2246.4h0M987.2 2289.5h0M971.8 2323.2h0M985.3 2265.4h0M978.4 2288.1h0M962.2 2324.5h0M973.0 2302.4h0M1004.9 2282.1h0M1051.0 2250.6h0M992.1 2298.5h0M999.8 2304.3h0M1042.1 2257.5h0M1012.7 2283.0h0M986.0 2272.5h0M990.1 2276.6h0M1028.0 2251.9h0M1025.7 2254.2h0M1017.1 2280.5h0M1026.0 2275.7h0M1023.0 2267.1h0M965.1 2281.6h0M1033.8 2253.2h0M982.3 2312.8h0M988.4 2301.7h0M943.7 2316.0h0M958.8 2311.2h0M975.5 2311.0h0M962.7 2324.5h0M940.7 2320.5h0M1035.5 2245.8h0M1002.9 2272.9h0M1039.3 2267.7h0M974.5 2304.6h0M1043.7 2259.4h0M1006.2 2272.8h0M995.0 2297.4h0M993.8 2297.4h0M1012.4 2258.1h0M1041.7 2248.9h0M950.4 2314.6h0M1010.2 2284.8h0M1004.7 2260.6h0M1033.2 2258.0h0M1026.7 2295.6h0M938.9 2323.6h0M988.2 2276.1h0M949.7 2342.8h0M1045.4 2247.9h0M948.6 2329.1h0M988.0 2299.6h0M1046.3 2255.1h0M969.6 2291.5h0M1038.2 2257.5h0M953.1 2315.2h0M1001.6 2302.7h0M974.8 2284.5h0M953.4 2327.7h0M1016.9 2285.2h0M1023.8 2250.9h0M964.8 2333.6h0M1021.0 2275.0h0M1020.8 2256.1h0M1030.1 2263.5h0M1044.3 2248.8h0M995.5 2297.4h0M991.0 2286.2h0M1014.7 2255.4h0M982.1 2298.6h0M959.0 2323.3h0M976.4 2293.8h0M988.9 2295.2h0M952.8 2338.7h0M973.3 2316.9h0M961.3 2318.5h0M994.5 2299.7h0M947.2 2320.5h0M955.1 2312.7h0M1050.7 2260.4h0M982.9 2286.1h0M1009.2 2274.4h0M1022.6 2254.0h0M1037.3 2267.4h0M987.1 2262.8h0M943.3 2319.3h0M1013.9 2280.7h0M969.2 2281.2h0M1002.8 2301.9h0M997.8 2313.5h0M991.5 2293.3h0M1017.8 2285.5h0M998.9 2324.2h0M970.2 2303.5h0M991.4 2324.0h0M965.8 2282.0h0M994.7 2317.1h0M1000.3 2300.1h0M969.1 2313.7h0M966.2 2295.6h0M1008.4 2319.6h0M1018.3 2316.0h0M997.4 2293.9h0M994.0 2302.2h0M1020.2 2287.9h0M978.6 2289.3h0M1014.9 2320.2h0M984.3 2324.5h0M997.8 2301.1h0M1017.7 2285.6h0M988.0 2296.0h0M988.6 2298.7h0M1012.3 2323.1h0M1000.9 2324.0h0M1006.9 2303.3h0M972.6 2288.1h0M992.2 2309.3h0M1018.1 2298.3h0M982.4 2320.9h0M1012.1 2281.1h0M995.2 2288.9h0M1019.8 2325.4h0M1011.6 2318.9h0M974.0 2324.1h0M970.6 2322.5h0M1003.7 2290.0h0M972.8 2288.5h0M990.8 2357.0h0M998.5 2362.1h0M1015.9 2378.4h0M1017.2 2368.4h0M960.0 2376.8h0M966.9 2357.7h0M975.0 2375.4h0M1007.0 2372.9h0M1016.8 2367.3h0M971.7 2359.5h0M985.2 2372.9h0M1006.2 2363.4h0M1013.2 2356.2h0M956.3 2344.3h0M1031.8 2341.8h0M1051.9 2261.1h0M1008.4 2277.7h0M1025.3 2276.5h0M997.4 2320.2h0M1003.8 2303.2h0M1049.5 2297.6h0M1033.6 2329.8h0M1029.7 2307.2h0M1019.5 2316.2h0M1007.1 2298.8h0M1034.6 2346.4h0M1040.4 2273.9h0M1178.7 2115.3h0M1172.5 2126.8h0M1165.8 2128.6h0M1167.2 2133.2h0M1160.5 2128.6h0M1157.3 2136.7h0M1153.8 2131.3h0M1152.4 2140.1h0M1156.5 2143.4h0M1148.4 2138.5h0M1146.6 2141.2h0M1143.1 2148.7h0M1139.1 2147.4h0M1137.7 2154.6h0M1133.7 2150.9h0M1134.5 2158.6h0M1120.9 2170.7h0M1117.1 2158.6h0M1116.3 2166.9h0M1114.4 2170.7h0M1100.8 2180.8h0M1093.6 2192.3h0M1086.9 2194.2h0M1076.2 2200.1h0M1087.7 2209.7h0M1077.5 2216.9h0M1067.6 2221.5h0M1072.2 2227.1h0M1068.7 2233.3h0M1060.1 2225.8h0M1052.1 2225.0h0M1050.8 2229.5h0M1053.4 2237.0h0M1042.2 2221.5h0M1038.2 2207.6h0M1038.7 2229.5h0M1032.0 2232.2h0M1026.7 2233.0h0M1021.9 2221.8h0M1004.5 2233.8h0M998.6 2241.6h0M1060.1 2249.6h0M1068.7 2248.3h0M1058.3 2259.0h0M1062.8 2281.7h0M1071.1 2303.1h0M1137.7 2308.5h0M1149.8 2303.9h0M1145.0 2368.9h0" fill="none" stroke="#000" stroke-width="6.8" stroke-linecap="round"/>
</g>
<g clip-path="url(#csc4)">
<polygon points="902.6,2350.8 1297.4,1981.4 1297.4,2000.6 902.6,2370" fill="#8fb2f5" fill-opacity="0.55"/>
<line x1="902.6" y1="2350.8" x2="1297.4" y2="1981.4" stroke="#6797f4" stroke-width="1" stroke-dasharray="3.5 2.2"/>
<line x1="902.6" y1="2370" x2="1297.4" y2="2000.6" stroke="#6797f4" stroke-width="1" stroke-dasharray="3.5 2.2"/>
<line x1="902.6" y1="2360.4" x2="1297.4" y2="1991" stroke="#5890f8" stroke-width="1.9"/>
</g>
<rect x="932.8" y="2240.5" width="123.9" height="142.3" fill="#cdcdcd" fill-opacity="0.58" stroke="none"/>
<rect x="932.8" y="2047.8" width="335.5" height="335" fill="none" stroke="#222" stroke-width="1"/>
<rect x="932.8" y="2240.5" width="123.9" height="142.3" fill="none" stroke="#f0262c" stroke-width="1.4"/>
<circle cx="967.7" cy="2074.4" r="11.6" fill="#c0c0c0" stroke="#7f7f7f" stroke-width="1.9"/>
<text x="987.8" y="2077.9" font-size="20" fill="#7d7d7d">SiO<tspan font-size="13" dy="4.5">2</tspan></text>
<line x1="947.5" y1="2218.1" x2="961.5" y2="2116.1" stroke="#bcbcbc" stroke-width="3.2"/>
<polygon points="964.5,2093.8 969,2123.2 961.5,2116.1 952.3,2120.9" fill="#bcbcbc"/>
<line x1="1032.3" y1="2186.6" x2="992.9" y2="2113.2" stroke="#bcbcbc" stroke-width="3.2"/>
<polygon points="982.3,2093.4 1003.2,2114.5 992.9,2113.2 988.4,2122.5" fill="#bcbcbc"/>
<line x1="1069.8" y1="2134.9" x2="1010.4" y2="2097.7" stroke="#bcbcbc" stroke-width="3.2"/>
<polygon points="991.3,2085.8 1019.9,2093.8 1010.4,2097.7 1011,2108" fill="#bcbcbc"/>
<line x1="1079.5" y1="2219.7" x2="1200.7" y2="2215" stroke="#bcbcbc" stroke-width="3.2"/>
<polygon points="1223.2,2214.1 1195,2223.6 1200.7,2215 1194.4,2206.8" fill="#bcbcbc"/>
<line x1="1079.5" y1="2274.6" x2="1201" y2="2254.8" stroke="#bcbcbc" stroke-width="3.2"/>
<polygon points="1223.2,2251.2 1196.4,2264.1 1201,2254.8 1193.7,2247.5" fill="#bcbcbc"/>
<line x1="1079.5" y1="2333.1" x2="1201.6" y2="2296.8" stroke="#bcbcbc" stroke-width="3.2"/>
<polygon points="1223.2,2290.4 1198.3,2306.6 1201.6,2296.8 1193.5,2290.5" fill="#bcbcbc"/>
<text transform="translate(1247.3 2290.4) rotate(-90)" font-size="20" fill="#7d7d7d">to ZrSiO<tspan font-size="13" dy="4.5">4</tspan></text>
<text transform="translate(1159.5 2091.8) rotate(-43)" font-size="19.8" fill="#6c9ef6" text-anchor="middle" dy="6.5">Si/Zr = 3,300</text>
<text x="1022.2" y="2372.3" font-size="19.8" fill="#f5222a">bgr</text>
</g>
</svg>
</body></html>
